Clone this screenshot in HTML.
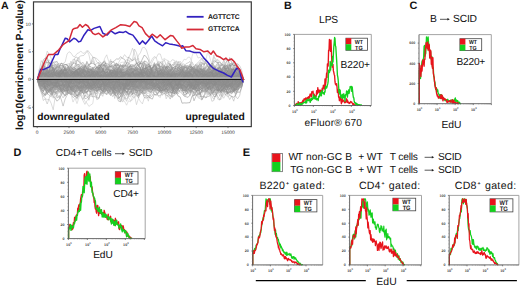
<!DOCTYPE html>
<html><head><meta charset="utf-8"><style>
html,body{margin:0;padding:0;background:#fff;}
body{width:520px;height:286px;overflow:hidden;font-family:"Liberation Sans",sans-serif;}
svg{display:block;}
</style></head><body>
<svg width="520" height="286" viewBox="0 0 520 286" font-family="Liberation Sans, sans-serif" style="text-rendering:geometricPrecision">
<rect width="520" height="286" fill="#fff"/>
<text x="1.1" y="8.7" font-size="10.6" font-weight="bold" fill="#111">A</text>
<text transform="translate(23.3,65) rotate(-90)" font-size="10.4" font-weight="bold" text-anchor="middle" fill="#111">log10(enrichment P-value)</text>
<g fill="none" stroke-width="0.55" stroke-linejoin="round">
<polyline points="37.3,79.4 39.3,81.2 41.3,78.5 43.3,82.8 45.2,81.8 47.2,82.3 49.2,80.5 51.2,83.8 53.2,80.4 55.2,85.1 57.1,81.2 59.1,79 61.1,85.6 63.1,83.4 65.1,89.9 67.1,86.6 69,91.6 71,90.4 73,90 75,94.7 77,99.5 79,95.3 80.9,95.2 82.9,89.3 84.9,88.3 86.9,77.3 88.9,76.9 90.9,70.8 92.8,70.6 94.8,71.3 96.8,70.3 98.8,74.1 100.8,77.1 102.8,71.4 104.7,73 106.7,77.9 108.7,76.2 110.7,79.6 112.7,79.2 114.7,75.1 116.6,70.9 118.6,65.3 120.6,62.6 122.6,62.2 124.6,62.2 126.6,63.1 128.5,65.1 130.5,58.5 132.5,61.2 134.5,57.2 136.5,60.2 138.5,58 140.4,70.8 142.4,71.1 144.4,74.2 146.4,69 148.4,64.7 150.4,68.6 152.4,70 154.3,67.6 156.3,67.7 158.3,68.6 160.3,66.2 162.3,72.3 164.3,67.1 166.2,66.7 168.2,78.5 170.2,81.6 172.2,81.4 174.2,72.7 176.2,73.3 178.1,79.2 180.1,74 182.1,72.9 184.1,73.4 186.1,70 188.1,72.2 190,73.2 192,69.9 194,69.1 196,66.5 198,69 200,63.8 201.9,70.4 203.9,76.1 205.9,74.3 207.9,75.6 209.9,74.9 211.9,74.9 213.8,75.6 215.8,79.5 217.8,77.9 219.8,72.9 221.8,76.3 223.8,69.4 225.7,64.5 227.7,68.9 229.7,66.8 231.7,71.8 233.7,72.7 235.7,77.2 237.6,78.9 239.6,82.9 241.6,81.5 243.6,79.4" stroke="rgb(204,204,204)"/>
<polyline points="37.3,79.4 39.3,80.6 41.3,84.4 43.3,81.4 45.2,91.3 47.2,87.4 49.2,83.3 51.2,71.2 53.2,76.3 55.2,73.4 57.1,71 59.1,76.3 61.1,75.4 63.1,79.8 65.1,85 67.1,91.3 69,90.8 71,94.3 73,102.1 75,98 77,103.6 79,97.5 80.9,94.1 82.9,96.2 84.9,101.5 86.9,103 88.9,106.4 90.9,104.9 92.8,103.6 94.8,89.1 96.8,97.7 98.8,98.2 100.8,93.4 102.8,86.9 104.7,79.7 106.7,84.2 108.7,79.9 110.7,93.3 112.7,92.6 114.7,87 116.6,82.8 118.6,89 120.6,91.7 122.6,100.3 124.6,101.3 126.6,105.2 128.5,100.8 130.5,101.8 132.5,96.3 134.5,94.8 136.5,94.5 138.5,84.4 140.4,78.4 142.4,84.7 144.4,77.6 146.4,74.2 148.4,68.6 150.4,67.8 152.4,77.7 154.3,79.7 156.3,91.1 158.3,96.3 160.3,97.6 162.3,89.4 164.3,88.1 166.2,86 168.2,81.7 170.2,85.8 172.2,79.8 174.2,78.7 176.2,83.4 178.1,85.6 180.1,86.1 182.1,82.4 184.1,75.4 186.1,77.3 188.1,78.7 190,70.3 192,56.3 194,50.5 196,53.1 198,58 200,57.4 201.9,58.6 203.9,64.9 205.9,60.2 207.9,50.5 209.9,58 211.9,64.4 213.8,68.6 215.8,75.9 217.8,72.5 219.8,80.2 221.8,77 223.8,75.4 225.7,72.4 227.7,80.3 229.7,79.5 231.7,78.2 233.7,74.2 235.7,73.5 237.6,77.2 239.6,74.6 241.6,74 243.6,79.4" stroke="rgb(202,202,202)"/>
<polyline points="37.3,79.4 39.3,76 41.3,70.7 43.3,73.5 45.2,70.7 47.2,66.6 49.2,59.7 51.2,62.6 53.2,71.1 55.2,68.9 57.1,73 59.1,78 61.1,80.6 63.1,84.1 65.1,80.6 67.1,79.8 69,77.1 71,74.1 73,76.3 75,74 77,70 79,63.9 80.9,65.1 82.9,67.9 84.9,73 86.9,75.3 88.9,75.8 90.9,75.3 92.8,81.1 94.8,82.5 96.8,83 98.8,84.9 100.8,86.7 102.8,84.5 104.7,87.7 106.7,84.9 108.7,88.5 110.7,86.6 112.7,90.1 114.7,84.3 116.6,80.8 118.6,75.5 120.6,79.3 122.6,84.5 124.6,89 126.6,88.8 128.5,83.6 130.5,80.3 132.5,77.6 134.5,82.7 136.5,78.1 138.5,75.4 140.4,78.1 142.4,88.2 144.4,90.3 146.4,89.6 148.4,82.2 150.4,81.1 152.4,81.2 154.3,74.8 156.3,69.3 158.3,69.1 160.3,67.9 162.3,64.4 164.3,69.1 166.2,68.8 168.2,71.7 170.2,76.5 172.2,74.9 174.2,71.2 176.2,64.8 178.1,63.6 180.1,61 182.1,64 184.1,71.7 186.1,75.2 188.1,74.1 190,77.1 192,69.9 194,66.2 196,68.6 198,63.1 200,62.5 201.9,58.1 203.9,61.4 205.9,60.4 207.9,63.6 209.9,65.4 211.9,62.6 213.8,57.1 215.8,59.3 217.8,60.5 219.8,66.2 221.8,68.6 223.8,67.9 225.7,74.2 227.7,76.5 229.7,81.2 231.7,80.2 233.7,76.6 235.7,75.9 237.6,77.6 239.6,80.6 241.6,82.6 243.6,79.4" stroke="rgb(202,202,202)"/>
<polyline points="37.3,79.4 39.3,74.4 41.3,71.1 43.3,73 45.2,77.2 47.2,78.6 49.2,79.5 51.2,79.3 53.2,84.3 55.2,76.7 57.1,74.2 59.1,74.3 61.1,74 63.1,85 65.1,80.5 67.1,84.6 69,82 71,86.6 73,81.7 75,83.7 77,84.1 79,77.2 80.9,73.4 82.9,79.9 84.9,82.7 86.9,81.5 88.9,82.3 90.9,78.6 92.8,81.6 94.8,89.1 96.8,91.7 98.8,91 100.8,87.4 102.8,83.4 104.7,77.8 106.7,77.1 108.7,78.2 110.7,75.4 112.7,76.3 114.7,78.6 116.6,80.7 118.6,76.7 120.6,70.9 122.6,66.6 124.6,74.7 126.6,70.8 128.5,76.5 130.5,78.3 132.5,76 134.5,82 136.5,86.7 138.5,89 140.4,80.9 142.4,76.3 144.4,80.4 146.4,79.7 148.4,79.2 150.4,77.9 152.4,81.1 154.3,75 156.3,77.1 158.3,74 160.3,81.6 162.3,79.8 164.3,79.1 166.2,73.6 168.2,85 170.2,82.1 172.2,78.4 174.2,79.7 176.2,74.2 178.1,66.2 180.1,64.2 182.1,62.7 184.1,59.2 186.1,59.8 188.1,57.1 190,57.3 192,62.8 194,69.2 196,65.6 198,64.8 200,69.3 201.9,70.4 203.9,65.5 205.9,74.2 207.9,78.6 209.9,75.8 211.9,72.9 213.8,78.5 215.8,82.7 217.8,81.7 219.8,75.6 221.8,76 223.8,86 225.7,81 227.7,80.9 229.7,82.7 231.7,87.1 233.7,81.2 235.7,79.9 237.6,78.5 239.6,77.9 241.6,77.8 243.6,79.4" stroke="rgb(201,201,201)"/>
<polyline points="37.3,79.4 39.3,78.6 41.3,74.4 43.3,69 45.2,65.4 47.2,61.6 49.2,67.8 51.2,70 53.2,77.7 55.2,84.7 57.1,79.4 59.1,82.6 61.1,71.3 63.1,72 65.1,75.9 67.1,72.5 69,64.8 71,64.2 73,71.8 75,71 77,65.4 79,69.5 80.9,74.3 82.9,70.1 84.9,70.6 86.9,76.9 88.9,79 90.9,82.6 92.8,80.8 94.8,80.1 96.8,74.6 98.8,71.8 100.8,80.1 102.8,78.1 104.7,74 106.7,72.5 108.7,68.4 110.7,72.3 112.7,77.7 114.7,73.5 116.6,79.3 118.6,89.6 120.6,83.5 122.6,86.4 124.6,87 126.6,92.8 128.5,97.5 130.5,100.8 132.5,99.9 134.5,95.7 136.5,104.7 138.5,98.1 140.4,101.5 142.4,103.9 144.4,97.7 146.4,95.9 148.4,101.2 150.4,89.8 152.4,92.7 154.3,89.9 156.3,87.7 158.3,80 160.3,82.1 162.3,77 164.3,80.8 166.2,75.3 168.2,79.4 170.2,81.1 172.2,71.9 174.2,71.3 176.2,71.7 178.1,62 180.1,62.4 182.1,68.3 184.1,66.1 186.1,73.3 188.1,68.7 190,64.3 192,68.8 194,73.1 196,73 198,73.7 200,79 201.9,76.4 203.9,86.4 205.9,87.7 207.9,88.6 209.9,88.8 211.9,86.2 213.8,91.2 215.8,87 217.8,86.9 219.8,89.1 221.8,94.5 223.8,98.3 225.7,94.3 227.7,97.1 229.7,94.7 231.7,87.8 233.7,81.9 235.7,74.5 237.6,76.9 239.6,80.8 241.6,78.3 243.6,79.4" stroke="rgb(197,197,197)"/>
<polyline points="37.3,79.4 39.3,81.3 41.3,79.1 43.3,77.7 45.2,80.5 47.2,78.8 49.2,80.6 51.2,77.8 53.2,76.6 55.2,81.3 57.1,81 59.1,80.6 61.1,81.8 63.1,77.6 65.1,70.4 67.1,73.1 69,75.3 71,85.6 73,85.4 75,86.6 77,95.1 79,92 80.9,87.9 82.9,90.1 84.9,90.4 86.9,93.3 88.9,88.3 90.9,93.8 92.8,93.5 94.8,83.3 96.8,82.6 98.8,80.2 100.8,80.7 102.8,85.7 104.7,85.1 106.7,82.6 108.7,86.7 110.7,84.3 112.7,78.3 114.7,73.8 116.6,81.4 118.6,85.4 120.6,91.7 122.6,85.5 124.6,82.1 126.6,78.8 128.5,82.7 130.5,87.3 132.5,86 134.5,84.8 136.5,87.9 138.5,86.2 140.4,82.6 142.4,81.2 144.4,85.5 146.4,94 148.4,93.4 150.4,91 152.4,90.7 154.3,91.2 156.3,92.8 158.3,88.1 160.3,87.3 162.3,85.8 164.3,89.3 166.2,90.8 168.2,88.7 170.2,91.9 172.2,95.9 174.2,95.4 176.2,88.2 178.1,86.3 180.1,79.2 182.1,79.8 184.1,81.1 186.1,86.9 188.1,88.5 190,81.2 192,79.5 194,76.3 196,73.6 198,74.4 200,75.9 201.9,75.8 203.9,73.3 205.9,72 207.9,70.8 209.9,71.1 211.9,75.5 213.8,77.1 215.8,81.5 217.8,76.8 219.8,86.3 221.8,86.4 223.8,75.2 225.7,77.2 227.7,82.4 229.7,82.1 231.7,76.2 233.7,77.3 235.7,75.2 237.6,75.9 239.6,78 241.6,73.1 243.6,79.4" stroke="rgb(196,196,196)"/>
<polyline points="37.3,79.4 39.3,78.3 41.3,77.4 43.3,84 45.2,75.3 47.2,72.2 49.2,77.5 51.2,79.2 53.2,82.9 55.2,82.3 57.1,80.4 59.1,79.3 61.1,81.7 63.1,84.7 65.1,80.6 67.1,80.9 69,71.5 71,75.8 73,73 75,73.5 77,77.4 79,72 80.9,72.4 82.9,76.9 84.9,78.5 86.9,74.5 88.9,80.1 90.9,74.3 92.8,72.1 94.8,74.2 96.8,69.2 98.8,63.3 100.8,62.8 102.8,64.1 104.7,58.4 106.7,54.8 108.7,61.5 110.7,64.5 112.7,67.2 114.7,70.3 116.6,77.5 118.6,74.1 120.6,74.4 122.6,74.6 124.6,69.4 126.6,72.9 128.5,73.9 130.5,73.4 132.5,75.9 134.5,76.8 136.5,74 138.5,74.7 140.4,69.8 142.4,74 144.4,73.8 146.4,80.4 148.4,80.7 150.4,83.5 152.4,77.4 154.3,74.6 156.3,73 158.3,66.2 160.3,61.9 162.3,61 164.3,66.1 166.2,73.6 168.2,74.4 170.2,76.5 172.2,79.5 174.2,80.7 176.2,87.3 178.1,80.2 180.1,84.8 182.1,87 184.1,83.7 186.1,89.9 188.1,84.8 190,80.3 192,81.5 194,85.7 196,86.9 198,93.6 200,86.2 201.9,85.2 203.9,87.5 205.9,90.3 207.9,86.6 209.9,79.5 211.9,84.8 213.8,86.5 215.8,92.9 217.8,88.5 219.8,86.8 221.8,76.5 223.8,77.4 225.7,79.4 227.7,82.4 229.7,78.5 231.7,85.3 233.7,81.5 235.7,80.2 237.6,81.6 239.6,83.2 241.6,79.8 243.6,79.4" stroke="rgb(196,196,196)"/>
<polyline points="37.3,79.4 39.3,74.7 41.3,75.6 43.3,71.8 45.2,72 47.2,72.3 49.2,71.6 51.2,72.6 53.2,74.7 55.2,73.6 57.1,75.8 59.1,76 61.1,78.7 63.1,84 65.1,85.8 67.1,86.8 69,85.8 71,80.9 73,86.6 75,85.3 77,92.3 79,94.4 80.9,94.4 82.9,100.5 84.9,104.4 86.9,100.9 88.9,98 90.9,96.2 92.8,97 94.8,87.4 96.8,87 98.8,89.1 100.8,82 102.8,79.6 104.7,80.9 106.7,76.5 108.7,76.3 110.7,74.4 112.7,74.2 114.7,78.4 116.6,75.2 118.6,75.1 120.6,79.1 122.6,81.8 124.6,78.2 126.6,79.6 128.5,79.5 130.5,77.2 132.5,77 134.5,82.6 136.5,80 138.5,76.6 140.4,73.9 142.4,69 144.4,68.9 146.4,67.5 148.4,63.4 150.4,66.3 152.4,61.8 154.3,57.9 156.3,57.7 158.3,53.9 160.3,54 162.3,60.1 164.3,58.4 166.2,59.8 168.2,60.7 170.2,62.4 172.2,59.7 174.2,60.2 176.2,64.9 178.1,64.9 180.1,64.1 182.1,68.5 184.1,71.3 186.1,73.6 188.1,76.4 190,75.6 192,72.5 194,66.7 196,64.1 198,62.3 200,60.4 201.9,58 203.9,61.9 205.9,61.6 207.9,62.6 209.9,65.1 211.9,68.4 213.8,71.5 215.8,73.3 217.8,78.4 219.8,76.7 221.8,77.1 223.8,77 225.7,76.1 227.7,74 229.7,76.7 231.7,77.4 233.7,83.2 235.7,89.7 237.6,92.3 239.6,85 241.6,85.2 243.6,79.4" stroke="rgb(194,194,194)"/>
<polyline points="37.3,79.4 39.3,69 41.3,67.8 43.3,68.7 45.2,59.8 47.2,51.1 49.2,54.3 51.2,58.2 53.2,65.7 55.2,62.1 57.1,63.3 59.1,69.2 61.1,68.5 63.1,63.5 65.1,62.2 67.1,54 69,51.7 71,52.9 73,56.3 75,56.5 77,53.6 79,52.7 80.9,51 82.9,53.4 84.9,52.9 86.9,50.5 88.9,54.7 90.9,63.7 92.8,57.6 94.8,57.5 96.8,62.1 98.8,63.1 100.8,66.2 102.8,75.7 104.7,77 106.7,83.9 108.7,82.4 110.7,82.6 112.7,76.9 114.7,77.8 116.6,76.2 118.6,78 120.6,79.9 122.6,86.4 124.6,80.9 126.6,80 128.5,82.6 130.5,81.2 132.5,82.9 134.5,85.9 136.5,84 138.5,77.8 140.4,79.2 142.4,85.9 144.4,87.9 146.4,78.6 148.4,82.4 150.4,76.5 152.4,78 154.3,74.7 156.3,75.8 158.3,83.5 160.3,85 162.3,74.5 164.3,75.7 166.2,73.5 168.2,75.8 170.2,76.8 172.2,75.6 174.2,73.9 176.2,64.2 178.1,66.1 180.1,68.5 182.1,72.9 184.1,79.8 186.1,87.2 188.1,83.2 190,91.4 192,83.4 194,78.9 196,80.3 198,85.6 200,84.7 201.9,84 203.9,78.2 205.9,81.7 207.9,83.2 209.9,83 211.9,83.8 213.8,86.2 215.8,93.3 217.8,99.3 219.8,100 221.8,98.6 223.8,91.6 225.7,79.4 227.7,71.4 229.7,70.5 231.7,62.8 233.7,65.4 235.7,70.2 237.6,64.2 239.6,71.9 241.6,75.8 243.6,79.4" stroke="rgb(194,194,194)"/>
<polyline points="37.3,79.4 39.3,87.2 41.3,90.2 43.3,91 45.2,88.3 47.2,90.4 49.2,89.2 51.2,91.7 53.2,88.8 55.2,85.2 57.1,84.2 59.1,79.3 61.1,76.5 63.1,75.4 65.1,71.5 67.1,77.3 69,77.7 71,84.7 73,84.2 75,85.5 77,81.6 79,83.1 80.9,85.2 82.9,84.9 84.9,84.8 86.9,82.2 88.9,85.3 90.9,90.3 92.8,95.2 94.8,88.9 96.8,92.7 98.8,92.9 100.8,95.6 102.8,90.3 104.7,91.2 106.7,85.1 108.7,87.2 110.7,85.1 112.7,81.6 114.7,77.7 116.6,82.5 118.6,83.6 120.6,83.4 122.6,90 124.6,86 126.6,83.8 128.5,81.3 130.5,86.5 132.5,84.9 134.5,82.6 136.5,78.3 138.5,80.5 140.4,77.8 142.4,70.5 144.4,73.3 146.4,75.6 148.4,77.3 150.4,83.3 152.4,84.3 154.3,77.5 156.3,81.3 158.3,81.8 160.3,77 162.3,75.1 164.3,74.8 166.2,76.6 168.2,77.4 170.2,77.6 172.2,75.2 174.2,75.4 176.2,72.3 178.1,80.3 180.1,77.1 182.1,79.4 184.1,79.4 186.1,81 188.1,78.3 190,78.9 192,76.6 194,80 196,79.2 198,74.5 200,70.9 201.9,73.2 203.9,73.4 205.9,75.6 207.9,76.5 209.9,76.8 211.9,72.4 213.8,71 215.8,66.5 217.8,62.1 219.8,69 221.8,69.1 223.8,72 225.7,79.1 227.7,83.2 229.7,84.7 231.7,77.7 233.7,77.5 235.7,78.5 237.6,78.8 239.6,80.7 241.6,79.9 243.6,79.4" stroke="rgb(194,194,194)"/>
<polyline points="37.3,79.4 39.3,79.4 41.3,77.3 43.3,77.6 45.2,78.7 47.2,82.9 49.2,82.4 51.2,95.8 53.2,90.7 55.2,84.6 57.1,84.1 59.1,88.3 61.1,80.7 63.1,83.9 65.1,76.8 67.1,78.4 69,82.3 71,83 73,86 75,86 77,82.8 79,83.7 80.9,85.4 82.9,84.8 84.9,82.3 86.9,81.9 88.9,79 90.9,76.2 92.8,75.2 94.8,72.2 96.8,73 98.8,68.2 100.8,67.5 102.8,64.9 104.7,67.6 106.7,75.9 108.7,78.5 110.7,78.4 112.7,76.7 114.7,77.2 116.6,70.3 118.6,77.7 120.6,86.5 122.6,86.6 124.6,89 126.6,87.7 128.5,83.5 130.5,69.8 132.5,77.4 134.5,82.8 136.5,82.7 138.5,89.4 140.4,91.9 142.4,84.2 144.4,83.9 146.4,83.5 148.4,77.6 150.4,86.1 152.4,84.7 154.3,84.3 156.3,82.4 158.3,86.9 160.3,88.1 162.3,87.5 164.3,83 166.2,86.1 168.2,82.3 170.2,92.2 172.2,88.6 174.2,83.8 176.2,87.6 178.1,88.1 180.1,87 182.1,84.7 184.1,78.3 186.1,77.5 188.1,78.8 190,79.8 192,78.5 194,74.8 196,74.1 198,77.4 200,79.3 201.9,83.1 203.9,86.8 205.9,88.3 207.9,90 209.9,85 211.9,90.1 213.8,88.4 215.8,93 217.8,87.5 219.8,85.1 221.8,78.4 223.8,75.9 225.7,81.2 227.7,80.8 229.7,83.6 231.7,85.6 233.7,89.8 235.7,89.2 237.6,86.3 239.6,83.6 241.6,77 243.6,79.4" stroke="rgb(193,193,193)"/>
<polyline points="37.3,79.4 39.3,81.7 41.3,83.8 43.3,83.2 45.2,84.8 47.2,86 49.2,92.1 51.2,82 53.2,87.3 55.2,78.9 57.1,75.5 59.1,71.5 61.1,71.3 63.1,70.2 65.1,70 67.1,68.6 69,66.2 71,61 73,67.7 75,67 77,61.2 79,57.2 80.9,64.5 82.9,64.9 84.9,65.4 86.9,66 88.9,77.8 90.9,74.1 92.8,82 94.8,71.8 96.8,69.8 98.8,71.4 100.8,69.5 102.8,70 104.7,73.5 106.7,74.6 108.7,73.6 110.7,77.9 112.7,74.8 114.7,70.3 116.6,66.5 118.6,62.7 120.6,58.8 122.6,58 124.6,54.6 126.6,57.2 128.5,58 130.5,54 132.5,48.2 134.5,53.5 136.5,63.1 138.5,55.3 140.4,52.8 142.4,47.7 144.4,47.3 146.4,50 148.4,56.3 150.4,63.3 152.4,58.6 154.3,56.5 156.3,57.7 158.3,65.3 160.3,69.3 162.3,73.2 164.3,75.3 166.2,88.8 168.2,86.5 170.2,78.5 172.2,81 174.2,80.6 176.2,79.1 178.1,83.6 180.1,81 182.1,84.4 184.1,85.7 186.1,83.7 188.1,83.4 190,82.4 192,86.1 194,81.9 196,86.4 198,81.6 200,83.5 201.9,88.3 203.9,87.5 205.9,91.3 207.9,92.2 209.9,91.2 211.9,86.2 213.8,81.6 215.8,79 217.8,80.3 219.8,87.1 221.8,87.1 223.8,87.5 225.7,87 227.7,88.4 229.7,89.6 231.7,84.6 233.7,90 235.7,87.9 237.6,81.1 239.6,82.7 241.6,83.1 243.6,79.4" stroke="rgb(191,191,191)"/>
<polyline points="37.3,79.4 39.3,78 41.3,77.6 43.3,77.5 45.2,74.4 47.2,70.6 49.2,79.4 51.2,78.3 53.2,71.8 55.2,77.5 57.1,78.9 59.1,78.1 61.1,73 63.1,70.8 65.1,72.9 67.1,71.2 69,67.2 71,66.7 73,59.3 75,59.6 77,67 79,72.2 80.9,73.6 82.9,75.3 84.9,72.7 86.9,71.8 88.9,64.4 90.9,62.3 92.8,57.1 94.8,63.4 96.8,67.3 98.8,65.4 100.8,66.6 102.8,65.1 104.7,65.5 106.7,70.1 108.7,63 110.7,59.4 112.7,69.2 114.7,73.3 116.6,73.9 118.6,71.2 120.6,72.5 122.6,79.8 124.6,75.6 126.6,77 128.5,71.5 130.5,70.9 132.5,67 134.5,64.4 136.5,61.9 138.5,66.4 140.4,62.9 142.4,63.8 144.4,71.6 146.4,74.3 148.4,76.5 150.4,74.5 152.4,71.7 154.3,77.9 156.3,74.5 158.3,75.3 160.3,80.7 162.3,76.5 164.3,80.4 166.2,85.9 168.2,81.4 170.2,76.7 172.2,80.1 174.2,74.8 176.2,70.5 178.1,73.9 180.1,64.9 182.1,66.8 184.1,67.1 186.1,79.9 188.1,76.7 190,79.8 192,77.6 194,85.8 196,79.4 198,72.3 200,64 201.9,79.8 203.9,76.8 205.9,75.4 207.9,90.2 209.9,92.2 211.9,91 213.8,82.6 215.8,86.1 217.8,84.1 219.8,83.7 221.8,81.3 223.8,82.8 225.7,77.9 227.7,73.3 229.7,80.4 231.7,74.7 233.7,78.7 235.7,79.9 237.6,75.4 239.6,76.2 241.6,76.4 243.6,79.4" stroke="rgb(191,191,191)"/>
<polyline points="37.3,79.4 39.3,85.8 41.3,93.4 43.3,95.3 45.2,98.4 47.2,99.7 49.2,99.4 51.2,103.4 53.2,109.8 55.2,96.8 57.1,95.3 59.1,98 61.1,92.7 63.1,84.7 65.1,92.5 67.1,93.2 69,90.2 71,93 73,89.2 75,94 77,95.5 79,94.2 80.9,90.4 82.9,88.9 84.9,91.1 86.9,91.5 88.9,100.3 90.9,87.5 92.8,88.5 94.8,88.9 96.8,86.5 98.8,82.9 100.8,80.9 102.8,84 104.7,91.5 106.7,90.9 108.7,93.4 110.7,94.4 112.7,92.7 114.7,89.9 116.6,82.5 118.6,82.8 120.6,90.8 122.6,86.6 124.6,81.3 126.6,89.1 128.5,85 130.5,83.5 132.5,85.7 134.5,84.1 136.5,81.7 138.5,78.6 140.4,73.2 142.4,74.1 144.4,74.8 146.4,63.7 148.4,70.8 150.4,73.2 152.4,75.7 154.3,72.5 156.3,68 158.3,75.8 160.3,70.3 162.3,77.2 164.3,64.9 166.2,69.9 168.2,65.8 170.2,68.7 172.2,66.6 174.2,71.8 176.2,72.1 178.1,72.9 180.1,73.3 182.1,70.2 184.1,73.5 186.1,75.8 188.1,82.6 190,82.9 192,84.9 194,80 196,76.8 198,80.6 200,78.4 201.9,72.2 203.9,74.1 205.9,80.4 207.9,68.4 209.9,67.1 211.9,65.2 213.8,54.9 215.8,61.7 217.8,62.4 219.8,73.6 221.8,72 223.8,71 225.7,75.8 227.7,80.4 229.7,81.1 231.7,82.1 233.7,74.1 235.7,76.2 237.6,77.7 239.6,78.7 241.6,82.1 243.6,79.4" stroke="rgb(190,190,190)"/>
<polyline points="37.3,79.4 39.3,78.7 41.3,79.3 43.3,82.8 45.2,86.2 47.2,84.4 49.2,89.4 51.2,91.4 53.2,92.3 55.2,90.7 57.1,94 59.1,88.9 61.1,88.9 63.1,88.8 65.1,89.1 67.1,90.3 69,92.5 71,87.3 73,85.9 75,85.7 77,81.8 79,84.1 80.9,81.6 82.9,81.5 84.9,84.4 86.9,81.5 88.9,86.4 90.9,83.7 92.8,86.3 94.8,84.3 96.8,79.4 98.8,77.7 100.8,80.2 102.8,80.4 104.7,81.8 106.7,85.6 108.7,88.8 110.7,87.7 112.7,85.2 114.7,90.6 116.6,89.8 118.6,87.1 120.6,86.1 122.6,88.9 124.6,84.6 126.6,88.2 128.5,85.3 130.5,79.6 132.5,86.6 134.5,85.2 136.5,83.7 138.5,82.7 140.4,85.2 142.4,85.8 144.4,89.9 146.4,88.5 148.4,85.9 150.4,87.7 152.4,90 154.3,90.6 156.3,89.6 158.3,88.5 160.3,88 162.3,87.1 164.3,90.8 166.2,98.8 168.2,94.7 170.2,88.5 172.2,92.4 174.2,93.3 176.2,91 178.1,86.8 180.1,84.1 182.1,79.6 184.1,80.1 186.1,79 188.1,78 190,79.9 192,76.2 194,74.8 196,72.5 198,74.9 200,72.4 201.9,77 203.9,76.3 205.9,85.7 207.9,88.6 209.9,85.4 211.9,86.5 213.8,85.4 215.8,90.3 217.8,84.3 219.8,82 221.8,82.1 223.8,80.8 225.7,79.9 227.7,75.5 229.7,75.6 231.7,81.2 233.7,82.2 235.7,78.1 237.6,77.2 239.6,78.9 241.6,78.5 243.6,79.4" stroke="rgb(189,189,189)"/>
<polyline points="37.3,79.4 39.3,81 41.3,84.5 43.3,84.3 45.2,88.5 47.2,90.6 49.2,89 51.2,90.4 53.2,92.8 55.2,88.2 57.1,85.6 59.1,82.4 61.1,79.2 63.1,74.8 65.1,75.4 67.1,76.4 69,81.9 71,82.3 73,83.7 75,80 77,77.9 79,73.6 80.9,71 82.9,68.4 84.9,68.1 86.9,69 88.9,71.4 90.9,72.3 92.8,76 94.8,75.2 96.8,75.9 98.8,82.4 100.8,90.1 102.8,91 104.7,91 106.7,90.5 108.7,85.3 110.7,86.4 112.7,89.4 114.7,87 116.6,83.1 118.6,77.8 120.6,81 122.6,81.6 124.6,82.6 126.6,77.7 128.5,75.8 130.5,76.2 132.5,74.4 134.5,76.1 136.5,77.1 138.5,77.5 140.4,79.2 142.4,80 144.4,78.9 146.4,78.3 148.4,74 150.4,72.1 152.4,73.2 154.3,80.5 156.3,84.8 158.3,85.7 160.3,86.1 162.3,89.3 164.3,89.2 166.2,87.8 168.2,88.7 170.2,88 172.2,87.3 174.2,88.5 176.2,90.1 178.1,89.2 180.1,87.3 182.1,89.5 184.1,94.4 186.1,95.6 188.1,92.2 190,95.5 192,90.9 194,91.3 196,89.6 198,90.8 200,87.8 201.9,86.7 203.9,84.8 205.9,90 207.9,86.7 209.9,90.9 211.9,90.6 213.8,87.8 215.8,87.5 217.8,85.1 219.8,84 221.8,83.3 223.8,85.3 225.7,81.8 227.7,78.2 229.7,80.1 231.7,82.7 233.7,81.8 235.7,83.6 237.6,82.2 239.6,79.9 241.6,79 243.6,79.4" stroke="rgb(189,189,189)"/>
<polyline points="37.3,79.4 39.3,79.6 41.3,85.9 43.3,84 45.2,85.8 47.2,92.8 49.2,91.2 51.2,90.2 53.2,94.6 55.2,91.7 57.1,90.5 59.1,87.8 61.1,91.7 63.1,93 65.1,94.8 67.1,92.7 69,93.1 71,95.1 73,88.7 75,89.6 77,84.9 79,81.6 80.9,83.9 82.9,89.8 84.9,88.1 86.9,84.9 88.9,80.5 90.9,79.2 92.8,78 94.8,80.5 96.8,83 98.8,71.8 100.8,69 102.8,75 104.7,74.7 106.7,73.9 108.7,80.8 110.7,81.8 112.7,79.7 114.7,74.2 116.6,69.5 118.6,72.1 120.6,74.2 122.6,76.6 124.6,76.3 126.6,73.9 128.5,78.3 130.5,79.2 132.5,81.3 134.5,83.9 136.5,85.3 138.5,78.5 140.4,72.8 142.4,68.8 144.4,75.8 146.4,75.4 148.4,67.8 150.4,67.9 152.4,71.9 154.3,70.9 156.3,72.9 158.3,75.2 160.3,75 162.3,74 164.3,75.4 166.2,76.1 168.2,80.1 170.2,80.3 172.2,77.9 174.2,77.9 176.2,78.8 178.1,84 180.1,79.7 182.1,83.8 184.1,81.1 186.1,82.2 188.1,79.3 190,75.9 192,77.5 194,88.2 196,94.3 198,96 200,97.3 201.9,94.3 203.9,85.8 205.9,82.9 207.9,83.1 209.9,78.2 211.9,79.1 213.8,76.3 215.8,75.5 217.8,82.7 219.8,79.1 221.8,73.3 223.8,75.3 225.7,73.3 227.7,72.4 229.7,74.2 231.7,76.2 233.7,73.3 235.7,76.6 237.6,78.8 239.6,77.3 241.6,76.9 243.6,79.4" stroke="rgb(189,189,189)"/>
<polyline points="37.3,79.4 39.3,69.9 41.3,60.6 43.3,63.4 45.2,70.3 47.2,71.1 49.2,70.8 51.2,78.4 53.2,82.1 55.2,75.2 57.1,74.5 59.1,70.1 61.1,71.4 63.1,67.4 65.1,71.4 67.1,74.9 69,80.1 71,89.5 73,90.2 75,95.6 77,96 79,93.3 80.9,90.9 82.9,87.6 84.9,88.6 86.9,87.8 88.9,81.2 90.9,81.8 92.8,81.4 94.8,93.2 96.8,97 98.8,89.6 100.8,92.7 102.8,96.4 104.7,89.7 106.7,94.5 108.7,87.9 110.7,87.5 112.7,89.6 114.7,98.5 116.6,89.8 118.6,97.5 120.6,101.5 122.6,95.1 124.6,99.4 126.6,94.6 128.5,93 130.5,92.8 132.5,96.5 134.5,97.8 136.5,94.3 138.5,97.5 140.4,92.3 142.4,89.7 144.4,85.9 146.4,84.1 148.4,80.8 150.4,78.9 152.4,75 154.3,73.8 156.3,73 158.3,78.3 160.3,87.1 162.3,86 164.3,80.6 166.2,85.1 168.2,92.3 170.2,93.6 172.2,90.2 174.2,84.8 176.2,85.9 178.1,91 180.1,90 182.1,85.5 184.1,85.1 186.1,79.6 188.1,82.2 190,77.7 192,69.9 194,76.1 196,80.8 198,77.6 200,62.6 201.9,62.2 203.9,64.5 205.9,60 207.9,63 209.9,73 211.9,78.6 213.8,72.1 215.8,81.4 217.8,88.2 219.8,83.3 221.8,82.2 223.8,76 225.7,81.7 227.7,85.2 229.7,86.3 231.7,91.6 233.7,91.4 235.7,90.1 237.6,84.1 239.6,83 241.6,82.3 243.6,79.4" stroke="rgb(188,188,188)"/>
<polyline points="37.3,79.4 39.3,79.1 41.3,80.7 43.3,81.4 45.2,80.9 47.2,79.8 49.2,80.1 51.2,80.2 53.2,77.8 55.2,79.1 57.1,80.5 59.1,81.5 61.1,82.5 63.1,81.9 65.1,82.2 67.1,83 69,79.3 71,78.7 73,79.6 75,76.7 77,78.4 79,78.6 80.9,79 82.9,80.5 84.9,81.4 86.9,81 88.9,84.3 90.9,84.7 92.8,83.5 94.8,82.5 96.8,81.5 98.8,75.8 100.8,74.8 102.8,75.8 104.7,76.6 106.7,77 108.7,76.3 110.7,77.5 112.7,74.3 114.7,77.6 116.6,76.4 118.6,75.7 120.6,78.9 122.6,77.5 124.6,76.6 126.6,78.5 128.5,73.3 130.5,72.4 132.5,74.1 134.5,76 136.5,78.2 138.5,77.8 140.4,78 142.4,81.5 144.4,83.8 146.4,85 148.4,85.4 150.4,85.6 152.4,86.5 154.3,84.2 156.3,81.5 158.3,81.2 160.3,86.2 162.3,85.8 164.3,83.8 166.2,83.6 168.2,82.5 170.2,82 172.2,85.3 174.2,90.5 176.2,87.9 178.1,88.1 180.1,86.2 182.1,86.2 184.1,85.9 186.1,82 188.1,84.6 190,84.1 192,86.1 194,85.3 196,83.5 198,81.6 200,81.1 201.9,84.2 203.9,83.2 205.9,80.7 207.9,78.3 209.9,73.6 211.9,73.1 213.8,76.3 215.8,78 217.8,78 219.8,75.9 221.8,79 223.8,77.1 225.7,75.9 227.7,78.4 229.7,77.2 231.7,79.4 233.7,79.5 235.7,80.2 237.6,79.6 239.6,81.3 241.6,80 243.6,79.4" stroke="rgb(188,188,188)"/>
<polyline points="37.3,79.4 39.3,78.2 41.3,77.1 43.3,80.5 45.2,78.7 47.2,71.8 49.2,77.1 51.2,75 53.2,74.6 55.2,75.5 57.1,72.6 59.1,76.3 61.1,76.3 63.1,73.1 65.1,74.4 67.1,76 69,76.1 71,77.6 73,74.1 75,76.9 77,75.1 79,78.6 80.9,77.1 82.9,77.6 84.9,84.1 86.9,83.5 88.9,85.6 90.9,85.9 92.8,81.4 94.8,83.9 96.8,85.9 98.8,81.7 100.8,81.1 102.8,77.2 104.7,76.7 106.7,79.1 108.7,79.3 110.7,76.4 112.7,74.5 114.7,75 116.6,75.4 118.6,76.2 120.6,78 122.6,73.5 124.6,74.2 126.6,77.5 128.5,78.9 130.5,77.2 132.5,75.9 134.5,76.7 136.5,78.6 138.5,78.7 140.4,82.8 142.4,85.5 144.4,82.9 146.4,83.6 148.4,82.2 150.4,78.9 152.4,77.4 154.3,77.6 156.3,72.7 158.3,71.9 160.3,73.6 162.3,72.6 164.3,72.4 166.2,75.3 168.2,75.6 170.2,76.5 172.2,81.6 174.2,81.7 176.2,82.1 178.1,82.9 180.1,86.4 182.1,86.4 184.1,85.7 186.1,84.7 188.1,86.8 190,84.4 192,86.7 194,86.4 196,82.4 198,83.7 200,84.4 201.9,81.2 203.9,81.9 205.9,82.3 207.9,81.5 209.9,78.7 211.9,84.1 213.8,85.5 215.8,87.2 217.8,88.9 219.8,89.8 221.8,90.6 223.8,88.5 225.7,89.6 227.7,88 229.7,86 231.7,87 233.7,85.8 235.7,81 237.6,79.9 239.6,80.7 241.6,80.2 243.6,79.4" stroke="rgb(188,188,188)"/>
<polyline points="37.3,79.4 39.3,80.7 41.3,81.5 43.3,79.7 45.2,75.7 47.2,78.4 49.2,81.9 51.2,85 53.2,80.7 55.2,77.6 57.1,85.2 59.1,91.8 61.1,94.6 63.1,97.9 65.1,94.4 67.1,91.9 69,83.9 71,80.7 73,80.2 75,76.2 77,79.7 79,84.4 80.9,83.8 82.9,80.2 84.9,85.6 86.9,81.9 88.9,78.8 90.9,80.6 92.8,80 94.8,80.9 96.8,80.5 98.8,77.7 100.8,80.7 102.8,77.1 104.7,74.5 106.7,72.1 108.7,79.7 110.7,86 112.7,83 114.7,84.6 116.6,86.4 118.6,88.2 120.6,91.8 122.6,91.3 124.6,92.4 126.6,93.1 128.5,89.9 130.5,92.7 132.5,87.4 134.5,94 136.5,83.9 138.5,88 140.4,85.1 142.4,81.4 144.4,81.2 146.4,78.6 148.4,79.1 150.4,85.2 152.4,83.4 154.3,79.1 156.3,81.1 158.3,86.7 160.3,88 162.3,85.9 164.3,84.2 166.2,79.9 168.2,78.1 170.2,76.6 172.2,83.8 174.2,75.8 176.2,76.1 178.1,73.7 180.1,75.6 182.1,76.7 184.1,76.9 186.1,71.9 188.1,67.7 190,67.1 192,61.9 194,65.4 196,65.4 198,68.7 200,65.7 201.9,67.3 203.9,65.5 205.9,61.3 207.9,70.6 209.9,64.3 211.9,65.1 213.8,68 215.8,75.9 217.8,77.4 219.8,85.5 221.8,84.5 223.8,84.5 225.7,77.8 227.7,79.1 229.7,75.6 231.7,72.1 233.7,66 235.7,69.3 237.6,69.9 239.6,76.1 241.6,79 243.6,79.4" stroke="rgb(187,187,187)"/>
<polyline points="37.3,79.4 39.3,80.4 41.3,77.5 43.3,75.5 45.2,75.2 47.2,72.2 49.2,75 51.2,78.9 53.2,77.2 55.2,77 57.1,76.9 59.1,74.8 61.1,76.1 63.1,76.8 65.1,76.1 67.1,74.8 69,72.8 71,73.2 73,73.2 75,80.2 77,76.9 79,81.2 80.9,81.1 82.9,74.3 84.9,75.7 86.9,80.2 88.9,75.9 90.9,77.7 92.8,78.3 94.8,78.8 96.8,77 98.8,75.3 100.8,76 102.8,73.6 104.7,76.6 106.7,75.1 108.7,77.2 110.7,75.7 112.7,77.8 114.7,79.1 116.6,75.3 118.6,78.7 120.6,81.7 122.6,80 124.6,80.6 126.6,81.5 128.5,81.6 130.5,75.9 132.5,78.9 134.5,79.7 136.5,79.2 138.5,81.6 140.4,81.4 142.4,79.9 144.4,82.2 146.4,79 148.4,81.9 150.4,82 152.4,80.8 154.3,72.4 156.3,77.8 158.3,77.2 160.3,71 162.3,73.5 164.3,71.4 166.2,71.8 168.2,76.4 170.2,75.7 172.2,78.4 174.2,78.3 176.2,82.3 178.1,80.1 180.1,86.2 182.1,85.8 184.1,81.7 186.1,80.1 188.1,80.9 190,81.3 192,82.2 194,74.9 196,75.5 198,76 200,78.3 201.9,79.7 203.9,78.1 205.9,79.8 207.9,81.8 209.9,82.9 211.9,83.4 213.8,82.5 215.8,83.3 217.8,83.4 219.8,84.8 221.8,81 223.8,80.6 225.7,81.2 227.7,80.3 229.7,80.3 231.7,84.2 233.7,84.1 235.7,79.3 237.6,78.3 239.6,76.8 241.6,78.6 243.6,79.4" stroke="rgb(186,186,186)"/>
<polyline points="37.3,79.4 39.3,79.5 41.3,77 43.3,76 45.2,76.1 47.2,83.1 49.2,87 51.2,83.6 53.2,78.5 55.2,77.9 57.1,75.5 59.1,77.4 61.1,78.8 63.1,81.1 65.1,77.7 67.1,76.7 69,77.8 71,79.1 73,77.3 75,76.5 77,79.6 79,73.9 80.9,73.7 82.9,74.3 84.9,70.1 86.9,67.8 88.9,69.5 90.9,68.9 92.8,73.7 94.8,76.5 96.8,84.3 98.8,79.7 100.8,86 102.8,82.9 104.7,85.2 106.7,87.8 108.7,87.4 110.7,85.6 112.7,82.8 114.7,76.5 116.6,75.7 118.6,73.2 120.6,75.9 122.6,74 124.6,74.1 126.6,76.3 128.5,77 130.5,77.5 132.5,77.1 134.5,76 136.5,78.1 138.5,80.7 140.4,78.1 142.4,83.9 144.4,85.4 146.4,79.5 148.4,88.5 150.4,89.7 152.4,86.2 154.3,90.8 156.3,80.8 158.3,89.2 160.3,83.3 162.3,77.7 164.3,74.8 166.2,76.1 168.2,75.3 170.2,78.8 172.2,76.2 174.2,80.3 176.2,81.1 178.1,77.6 180.1,81.5 182.1,82.4 184.1,81.5 186.1,85.7 188.1,81.1 190,79.8 192,84.8 194,84.3 196,86.2 198,87.6 200,86.4 201.9,87.9 203.9,83.7 205.9,85.5 207.9,81.5 209.9,81.4 211.9,78.3 213.8,80.2 215.8,81.8 217.8,85.3 219.8,82.7 221.8,79.2 223.8,72.2 225.7,68.8 227.7,69.2 229.7,71.2 231.7,70.9 233.7,72 235.7,68.9 237.6,69.2 239.6,74 241.6,77.2 243.6,79.4" stroke="rgb(186,186,186)"/>
<polyline points="37.3,79.4 39.3,80.3 41.3,80.7 43.3,80.8 45.2,79.5 47.2,81.5 49.2,78.6 51.2,75 53.2,72.8 55.2,74.8 57.1,79.3 59.1,80.4 61.1,80 63.1,78 65.1,78.7 67.1,79.6 69,76 71,78.1 73,75.7 75,74.1 77,78 79,77.6 80.9,79.2 82.9,81.6 84.9,85.8 86.9,88.9 88.9,86.8 90.9,86.9 92.8,85.4 94.8,87.3 96.8,87.2 98.8,87 100.8,89.9 102.8,92.7 104.7,90.1 106.7,88.5 108.7,89.7 110.7,88.8 112.7,86.2 114.7,81 116.6,83 118.6,81.2 120.6,76 122.6,76.3 124.6,73.2 126.6,80.2 128.5,76.7 130.5,77.1 132.5,82 134.5,79.9 136.5,77.4 138.5,74.8 140.4,72.5 142.4,73.5 144.4,76.1 146.4,77.7 148.4,78 150.4,77.3 152.4,78.8 154.3,78.8 156.3,76.8 158.3,76.4 160.3,71.4 162.3,67.2 164.3,71.5 166.2,73.9 168.2,77.8 170.2,80.8 172.2,79.4 174.2,81.9 176.2,84.2 178.1,84.3 180.1,81.9 182.1,82.5 184.1,83.1 186.1,80.5 188.1,79.3 190,78.3 192,76.2 194,79.1 196,78.7 198,80.4 200,77.9 201.9,76.2 203.9,79.1 205.9,76 207.9,79.3 209.9,76.6 211.9,76.5 213.8,79 215.8,81.8 217.8,82.3 219.8,82.1 221.8,83.6 223.8,81.8 225.7,84.9 227.7,84.4 229.7,83.8 231.7,87.9 233.7,86.2 235.7,87.8 237.6,90.4 239.6,87.9 241.6,84.6 243.6,79.4" stroke="rgb(186,186,186)"/>
<polyline points="37.3,79.4 39.3,78.7 41.3,80.3 43.3,80.6 45.2,81.9 47.2,83 49.2,82.4 51.2,79.4 53.2,80.2 55.2,79.8 57.1,83.5 59.1,82.8 61.1,79.5 63.1,77.5 65.1,76.6 67.1,78.2 69,80.9 71,80.9 73,84.1 75,86.7 77,83.5 79,85.3 80.9,80.1 82.9,83.7 84.9,82.1 86.9,84.7 88.9,83.7 90.9,85.8 92.8,85 94.8,84.7 96.8,85.2 98.8,83.3 100.8,79.1 102.8,80.6 104.7,78.3 106.7,78.2 108.7,78.5 110.7,73.1 112.7,79.3 114.7,81.1 116.6,85.4 118.6,85.5 120.6,85.4 122.6,75.2 124.6,74.8 126.6,70.9 128.5,68.7 130.5,71.1 132.5,71 134.5,67.8 136.5,68.8 138.5,69.6 140.4,69.5 142.4,74.5 144.4,77.2 146.4,76.6 148.4,75.6 150.4,78.4 152.4,79.4 154.3,79.7 156.3,80.1 158.3,78.3 160.3,78.2 162.3,78 164.3,81.7 166.2,84.1 168.2,82.8 170.2,86.4 172.2,84.9 174.2,85.9 176.2,87.2 178.1,84.7 180.1,85.8 182.1,87.2 184.1,88 186.1,86.9 188.1,79.1 190,84.5 192,84 194,84.1 196,81.2 198,81.9 200,87.9 201.9,83.6 203.9,85.9 205.9,85.3 207.9,88.1 209.9,89.8 211.9,89.9 213.8,86.5 215.8,83.6 217.8,84.7 219.8,82.8 221.8,83.4 223.8,82.7 225.7,82 227.7,80.2 229.7,81.7 231.7,81.8 233.7,81 235.7,80.6 237.6,81.9 239.6,78.5 241.6,79.4 243.6,79.4" stroke="rgb(186,186,186)"/>
<polyline points="37.3,79.4 39.3,80.2 41.3,79.9 43.3,80.7 45.2,80.2 47.2,77.2 49.2,78.4 51.2,77.3 53.2,75.8 55.2,76.7 57.1,76.5 59.1,76.2 61.1,77.7 63.1,72.1 65.1,74 67.1,70.5 69,69 71,75 73,74.9 75,73 77,71.8 79,74.8 80.9,74.7 82.9,78 84.9,80.6 86.9,81 88.9,80.3 90.9,76.4 92.8,75.8 94.8,73.7 96.8,77.2 98.8,80.2 100.8,81.2 102.8,76.8 104.7,80.2 106.7,83.8 108.7,83.4 110.7,80.1 112.7,83.8 114.7,83.9 116.6,86.5 118.6,82.2 120.6,80.2 122.6,79.4 124.6,79.5 126.6,80 128.5,79.5 130.5,81 132.5,82.9 134.5,85.1 136.5,84.3 138.5,85.6 140.4,82.8 142.4,87.3 144.4,85 146.4,83 148.4,79.6 150.4,80.2 152.4,83.6 154.3,85.3 156.3,81.9 158.3,82.3 160.3,82.9 162.3,83.8 164.3,83.4 166.2,83.4 168.2,86.7 170.2,87.2 172.2,83.8 174.2,79.8 176.2,80 178.1,81.1 180.1,77.7 182.1,78.3 184.1,81.2 186.1,81.3 188.1,79.3 190,75.6 192,77.2 194,76.1 196,77.3 198,74.8 200,74.7 201.9,74.6 203.9,77.5 205.9,78.5 207.9,79.3 209.9,87.9 211.9,84.8 213.8,84.2 215.8,84.1 217.8,84.4 219.8,83.7 221.8,82.6 223.8,85.3 225.7,84.3 227.7,83.4 229.7,82.8 231.7,85.9 233.7,85.5 235.7,87.2 237.6,84.5 239.6,81 241.6,79.5 243.6,79.4" stroke="rgb(185,185,185)"/>
<polyline points="37.3,79.4 39.3,80.1 41.3,79.9 43.3,83.4 45.2,86 47.2,87.8 49.2,83.7 51.2,81.6 53.2,80.6 55.2,78.9 57.1,80.4 59.1,78.8 61.1,80.8 63.1,84.9 65.1,86.5 67.1,84.9 69,84 71,80 73,85.3 75,85.3 77,83.3 79,85.9 80.9,84.3 82.9,85 84.9,88 86.9,83.3 88.9,87.3 90.9,83.1 92.8,84 94.8,86.4 96.8,88.4 98.8,89.7 100.8,91.2 102.8,88.9 104.7,93.7 106.7,88 108.7,84.2 110.7,79.2 112.7,82.3 114.7,89.4 116.6,90.2 118.6,89.4 120.6,87.2 122.6,87.9 124.6,87.2 126.6,85.7 128.5,89.9 130.5,82.8 132.5,86 134.5,84.3 136.5,80.2 138.5,82.6 140.4,82.2 142.4,76.6 144.4,77.8 146.4,74.6 148.4,74.2 150.4,74 152.4,72.3 154.3,73.9 156.3,75.2 158.3,72.6 160.3,72.5 162.3,71.7 164.3,76.4 166.2,76.7 168.2,73.1 170.2,70.9 172.2,70.8 174.2,73.4 176.2,76.1 178.1,75 180.1,70.9 182.1,71.7 184.1,68.4 186.1,70.7 188.1,67.8 190,72.3 192,72.5 194,76.8 196,74.9 198,73.5 200,77.3 201.9,79.9 203.9,81.2 205.9,85.7 207.9,87.9 209.9,89.6 211.9,85.8 213.8,80.5 215.8,81.8 217.8,82.4 219.8,81.3 221.8,82.7 223.8,83.1 225.7,79.9 227.7,79.1 229.7,79.4 231.7,81.2 233.7,76.2 235.7,78.5 237.6,78.4 239.6,80.7 241.6,80.9 243.6,79.4" stroke="rgb(185,185,185)"/>
<polyline points="37.3,79.4 39.3,81.2 41.3,77.4 43.3,74.7 45.2,74.2 47.2,71.6 49.2,77.5 51.2,80.1 53.2,84 55.2,85.8 57.1,86 59.1,83.1 61.1,79.1 63.1,75.6 65.1,67 67.1,69.7 69,70.6 71,69.7 73,73.3 75,74.6 77,73.5 79,76.8 80.9,75.3 82.9,71.5 84.9,75.7 86.9,83.3 88.9,82.3 90.9,85 92.8,83.5 94.8,84.2 96.8,82.3 98.8,77.9 100.8,75.2 102.8,76.5 104.7,80.4 106.7,88.1 108.7,93.9 110.7,94.4 112.7,92 114.7,92.5 116.6,92.6 118.6,96 120.6,99.1 122.6,102.1 124.6,97.2 126.6,101.3 128.5,96.2 130.5,97 132.5,92.9 134.5,90.3 136.5,86.4 138.5,81.5 140.4,83.7 142.4,86.2 144.4,86.7 146.4,88.3 148.4,84.9 150.4,84.6 152.4,83.8 154.3,81.9 156.3,83.1 158.3,79 160.3,85 162.3,83.5 164.3,81.3 166.2,83.6 168.2,85.3 170.2,81.6 172.2,82.4 174.2,88.3 176.2,91.6 178.1,86.8 180.1,88.8 182.1,83.4 184.1,78.4 186.1,79.2 188.1,77.4 190,80.3 192,81.5 194,83.6 196,81.1 198,85.1 200,84.9 201.9,84.1 203.9,81.8 205.9,88.5 207.9,93.2 209.9,94.5 211.9,93.4 213.8,91.3 215.8,89.3 217.8,81.5 219.8,79.1 221.8,77.3 223.8,79.1 225.7,76.6 227.7,74.7 229.7,73.1 231.7,74.3 233.7,72.9 235.7,69.5 237.6,74.1 239.6,80.1 241.6,78.7 243.6,79.4" stroke="rgb(185,185,185)"/>
<polyline points="37.3,79.4 39.3,83.5 41.3,88.2 43.3,88.5 45.2,83.1 47.2,80.5 49.2,77.4 51.2,80.1 53.2,79.4 55.2,83.3 57.1,77.7 59.1,76.5 61.1,82.2 63.1,86.6 65.1,84.5 67.1,83.5 69,83.8 71,81.7 73,76.3 75,75.7 77,80.8 79,81 80.9,84.2 82.9,85.7 84.9,84.1 86.9,84 88.9,86.2 90.9,85.4 92.8,86.8 94.8,84.6 96.8,84.6 98.8,83 100.8,83.3 102.8,80.9 104.7,81.1 106.7,80.9 108.7,82.2 110.7,81.5 112.7,85.8 114.7,78.3 116.6,80.2 118.6,79.8 120.6,81 122.6,82.1 124.6,80.8 126.6,82 128.5,82.8 130.5,85.9 132.5,87.5 134.5,89.6 136.5,83.8 138.5,86.7 140.4,88.6 142.4,87.1 144.4,82.5 146.4,86.5 148.4,89.7 150.4,88.2 152.4,86.3 154.3,89.1 156.3,92.6 158.3,93.5 160.3,90 162.3,88.8 164.3,85.8 166.2,85.4 168.2,84.8 170.2,82.6 172.2,82.6 174.2,81.6 176.2,83.8 178.1,84.8 180.1,83 182.1,83.2 184.1,84.7 186.1,82.5 188.1,80.7 190,80.7 192,82.5 194,79.9 196,73.5 198,76.3 200,80.7 201.9,82.6 203.9,84.7 205.9,87.3 207.9,89.5 209.9,86.1 211.9,83.2 213.8,79 215.8,77.2 217.8,78.7 219.8,76.1 221.8,78.1 223.8,79.2 225.7,82.3 227.7,78.9 229.7,76.4 231.7,78 233.7,79 235.7,79.1 237.6,78.8 239.6,77.7 241.6,78.4 243.6,79.4" stroke="rgb(185,185,185)"/>
<polyline points="37.3,79.4 39.3,78.5 41.3,77.1 43.3,76.4 45.2,76 47.2,76.9 49.2,77.6 51.2,80.8 53.2,85.1 55.2,81 57.1,82.9 59.1,81.9 61.1,86.2 63.1,85 65.1,86.9 67.1,77.1 69,80.5 71,83.4 73,80.2 75,76.7 77,83.5 79,82.3 80.9,79.4 82.9,83.2 84.9,80.7 86.9,82.3 88.9,85 90.9,85.5 92.8,86.3 94.8,89.7 96.8,81.8 98.8,83 100.8,84.9 102.8,81.7 104.7,81.8 106.7,77.5 108.7,78.6 110.7,77.8 112.7,77.8 114.7,77.5 116.6,78.5 118.6,79 120.6,74.1 122.6,76.8 124.6,78.9 126.6,80.1 128.5,78.4 130.5,77.4 132.5,74.9 134.5,79.6 136.5,78.8 138.5,79.5 140.4,80.5 142.4,79.9 144.4,85.9 146.4,84.4 148.4,83.4 150.4,87.4 152.4,86.8 154.3,81.3 156.3,82.3 158.3,80.3 160.3,80.9 162.3,83.3 164.3,85.7 166.2,86.2 168.2,81.6 170.2,78.9 172.2,81.2 174.2,78.1 176.2,78.7 178.1,81 180.1,79.6 182.1,82.4 184.1,86.9 186.1,82.1 188.1,87.4 190,84.9 192,88.9 194,88 196,87.6 198,88.1 200,93.7 201.9,92.4 203.9,91 205.9,92.4 207.9,91.2 209.9,86.8 211.9,88.2 213.8,86.4 215.8,89.2 217.8,86.9 219.8,84.2 221.8,76.2 223.8,73.9 225.7,73.4 227.7,69.9 229.7,74.1 231.7,71.6 233.7,74.3 235.7,77 237.6,75.1 239.6,76.1 241.6,75.9 243.6,79.4" stroke="rgb(185,185,185)"/>
<polyline points="37.3,79.4 39.3,76.4 41.3,78.4 43.3,76.8 45.2,77.9 47.2,78.9 49.2,83.5 51.2,84.7 53.2,86.3 55.2,85.6 57.1,89.3 59.1,87.9 61.1,86.5 63.1,89.1 65.1,89.8 67.1,91.2 69,87 71,93.8 73,93.1 75,96.5 77,95.7 79,91.2 80.9,91.7 82.9,89.8 84.9,91.1 86.9,83.8 88.9,80.5 90.9,77 92.8,81.3 94.8,84.4 96.8,80.5 98.8,81 100.8,81.6 102.8,80.3 104.7,84 106.7,81.1 108.7,80.8 110.7,79.2 112.7,81.3 114.7,79.5 116.6,81.6 118.6,78.5 120.6,75.1 122.6,72.9 124.6,72.1 126.6,71 128.5,80.3 130.5,77.6 132.5,78.7 134.5,78.5 136.5,79.4 138.5,83.7 140.4,84.8 142.4,82.1 144.4,77.5 146.4,79.6 148.4,82.3 150.4,77.6 152.4,80.5 154.3,74.1 156.3,74.5 158.3,77.8 160.3,75 162.3,70.4 164.3,75.8 166.2,71.5 168.2,73.3 170.2,69.5 172.2,71.9 174.2,77.6 176.2,76.3 178.1,73.8 180.1,68.1 182.1,64.2 184.1,63.9 186.1,66.5 188.1,69.7 190,71.7 192,75.2 194,76.5 196,84.6 198,83.4 200,83 201.9,74.8 203.9,73 205.9,75.3 207.9,74 209.9,78.4 211.9,80.4 213.8,85.9 215.8,80.8 217.8,78.8 219.8,82.4 221.8,82.3 223.8,79 225.7,77.6 227.7,76.6 229.7,79.6 231.7,81.5 233.7,80.9 235.7,78.1 237.6,80.4 239.6,82.2 241.6,79.6 243.6,79.4" stroke="rgb(185,185,185)"/>
<polyline points="37.3,79.4 39.3,78.3 41.3,75.9 43.3,70.2 45.2,73.8 47.2,74.3 49.2,77.3 51.2,78.4 53.2,77.5 55.2,77.8 57.1,80.1 59.1,73.2 61.1,74.4 63.1,75.5 65.1,72.4 67.1,73.1 69,74.5 71,72 73,76.1 75,74.1 77,71.4 79,70.2 80.9,71.8 82.9,72.7 84.9,78.8 86.9,79.3 88.9,78.3 90.9,75.6 92.8,75.6 94.8,77.2 96.8,80 98.8,80.1 100.8,79.5 102.8,75.6 104.7,76 106.7,77.9 108.7,78.3 110.7,79.9 112.7,80.6 114.7,87.3 116.6,91.3 118.6,93.6 120.6,90.4 122.6,89.3 124.6,87.6 126.6,82.8 128.5,85.7 130.5,81.2 132.5,79.8 134.5,81.9 136.5,76.8 138.5,81.6 140.4,84.8 142.4,84.8 144.4,82.8 146.4,82.9 148.4,89.2 150.4,88.9 152.4,88 154.3,78.9 156.3,74.5 158.3,74.7 160.3,78.6 162.3,77.6 164.3,81.4 166.2,80.5 168.2,79.2 170.2,80.4 172.2,79.4 174.2,80.4 176.2,82 178.1,76.8 180.1,75.3 182.1,76.7 184.1,79.4 186.1,78.8 188.1,77 190,74.6 192,70.4 194,70 196,74.6 198,68.7 200,66.3 201.9,65.2 203.9,62.7 205.9,69.3 207.9,71.6 209.9,74.1 211.9,71 213.8,75.7 215.8,77.1 217.8,72.5 219.8,71.3 221.8,73.4 223.8,68.2 225.7,73.6 227.7,72.9 229.7,74.3 231.7,73.3 233.7,74.8 235.7,78.1 237.6,77.9 239.6,80.8 241.6,79.5 243.6,79.4" stroke="rgb(185,185,185)"/>
<polyline points="37.3,79.4 39.3,78.2 41.3,79 43.3,76.3 45.2,75.4 47.2,83.2 49.2,79.3 51.2,84.9 53.2,85.4 55.2,81.9 57.1,81.2 59.1,79.5 61.1,77 63.1,76.5 65.1,80.3 67.1,79.1 69,81.1 71,87.6 73,87.4 75,84.9 77,83.9 79,83.3 80.9,78 82.9,77.4 84.9,75.1 86.9,74.6 88.9,70.6 90.9,72.7 92.8,70.2 94.8,66.2 96.8,68.8 98.8,67.1 100.8,72.3 102.8,72.3 104.7,71 106.7,74.3 108.7,79.9 110.7,79.7 112.7,80.5 114.7,79.8 116.6,78.9 118.6,76.6 120.6,72.6 122.6,72.1 124.6,77.2 126.6,75.6 128.5,74.9 130.5,75 132.5,71 134.5,71.2 136.5,73.2 138.5,72.6 140.4,77.8 142.4,75.2 144.4,75.5 146.4,71.2 148.4,70.2 150.4,70.2 152.4,70.7 154.3,75 156.3,75.7 158.3,75.2 160.3,72.9 162.3,72.4 164.3,71.2 166.2,70.2 168.2,72.7 170.2,72.6 172.2,73.9 174.2,78 176.2,82.2 178.1,79.5 180.1,75.4 182.1,71.8 184.1,75 186.1,71.3 188.1,67.8 190,71.2 192,70.7 194,66.9 196,68 198,66 200,69.2 201.9,71.3 203.9,69.7 205.9,71.2 207.9,71.7 209.9,72.3 211.9,75.9 213.8,72 215.8,73.2 217.8,74.7 219.8,76.4 221.8,76.5 223.8,79.3 225.7,76.8 227.7,78 229.7,75.8 231.7,78.6 233.7,81.4 235.7,83.3 237.6,81.7 239.6,83.2 241.6,80.6 243.6,79.4" stroke="rgb(185,185,185)"/>
<polyline points="37.5,79.4 45,74 52,70 60,66 68,64 74.7,62.1 80.2,56 83.9,55.4 87.9,50.5 93,57.2 96.7,58.5 101.6,63.4 108,66 115,68 125,70 140,72 160,73 180,74 200,75 220,77 243.5,79.4" stroke="rgb(185,185,185)"/>
<polyline points="37.3,79.4 39.3,84.1 41.3,85.1 43.3,85.4 45.2,87.5 47.2,81.3 49.2,83.6 51.2,85.4 53.2,84.1 55.2,88.4 57.1,89.4 59.1,92.1 61.1,93.1 63.1,91.9 65.1,89.8 67.1,85.9 69,83.3 71,80 73,78.6 75,80 77,77.3 79,78.9 80.9,80.6 82.9,76.8 84.9,75.3 86.9,75.4 88.9,74.2 90.9,72.8 92.8,77.1 94.8,77.7 96.8,81 98.8,80.6 100.8,82.2 102.8,78.7 104.7,77.6 106.7,80 108.7,80.1 110.7,83.1 112.7,82.7 114.7,81.1 116.6,80.4 118.6,85.2 120.6,85.4 122.6,83.6 124.6,82.5 126.6,79.4 128.5,82.7 130.5,81.2 132.5,82.7 134.5,82 136.5,80.8 138.5,79.1 140.4,80.7 142.4,80.2 144.4,83.1 146.4,86.3 148.4,84.2 150.4,83.9 152.4,87.5 154.3,88.8 156.3,87.8 158.3,83.1 160.3,80.2 162.3,78.3 164.3,83 166.2,82.9 168.2,81.5 170.2,80.4 172.2,79.4 174.2,80.1 176.2,75.8 178.1,72.7 180.1,73.9 182.1,77.1 184.1,72.5 186.1,74.8 188.1,72.6 190,68.8 192,72.6 194,72.8 196,74.6 198,74 200,74 201.9,70 203.9,69.8 205.9,71.2 207.9,69.5 209.9,71.5 211.9,73.5 213.8,68.8 215.8,72.3 217.8,74.5 219.8,75.1 221.8,78.4 223.8,83.9 225.7,80.9 227.7,82.8 229.7,83.8 231.7,84.4 233.7,86.3 235.7,87.7 237.6,85.3 239.6,80 241.6,79 243.6,79.4" stroke="rgb(184,184,184)"/>
<polyline points="37.3,79.4 39.3,74.4 41.3,73.2 43.3,72.2 45.2,69.3 47.2,70.2 49.2,66.3 51.2,68.6 53.2,72.4 55.2,73.6 57.1,77.2 59.1,78.5 61.1,74.8 63.1,70 65.1,69.1 67.1,69.7 69,73.7 71,77.5 73,76.6 75,76.4 77,78.5 79,80 80.9,75 82.9,72.4 84.9,73.1 86.9,73.1 88.9,69.8 90.9,69.8 92.8,70.2 94.8,76.2 96.8,81.9 98.8,87.6 100.8,93.7 102.8,92 104.7,89.4 106.7,90.9 108.7,88.2 110.7,85.7 112.7,85.2 114.7,89.1 116.6,83.4 118.6,78.6 120.6,80.5 122.6,74.2 124.6,74.7 126.6,77.7 128.5,79.2 130.5,85 132.5,85.4 134.5,89.7 136.5,84.9 138.5,83.2 140.4,87.1 142.4,84.4 144.4,89.2 146.4,87.5 148.4,85 150.4,84.1 152.4,87.1 154.3,86.5 156.3,86.2 158.3,85.2 160.3,79.8 162.3,74.4 164.3,70 166.2,73.1 168.2,76.2 170.2,76.5 172.2,75.5 174.2,82.4 176.2,84 178.1,77.8 180.1,81.9 182.1,83.9 184.1,85.6 186.1,83.3 188.1,83 190,83.6 192,87.8 194,84.9 196,84.2 198,85.7 200,84.9 201.9,81.7 203.9,86.1 205.9,90.2 207.9,92.1 209.9,93.3 211.9,101.3 213.8,100.5 215.8,94.5 217.8,93.7 219.8,88.8 221.8,96.7 223.8,95 225.7,88.7 227.7,82.7 229.7,83.9 231.7,85.9 233.7,83.9 235.7,86.6 237.6,85.7 239.6,86.9 241.6,83.7 243.6,79.4" stroke="rgb(184,184,184)"/>
<polyline points="37.3,79.4 39.3,80.5 41.3,78.6 43.3,76.1 45.2,76.6 47.2,77.2 49.2,77.9 51.2,78 53.2,81.9 55.2,79.6 57.1,81 59.1,80.5 61.1,86 63.1,84.7 65.1,81.1 67.1,85.9 69,81.7 71,80.4 73,81.9 75,85.1 77,81.8 79,81 80.9,79.5 82.9,80.1 84.9,81.8 86.9,79.5 88.9,81.6 90.9,79.4 92.8,83.1 94.8,84.7 96.8,87.3 98.8,83.4 100.8,86.9 102.8,88.5 104.7,85.9 106.7,84.6 108.7,79.1 110.7,75.1 112.7,74.2 114.7,73.3 116.6,78.1 118.6,80.2 120.6,80.8 122.6,81.1 124.6,83.9 126.6,85.5 128.5,86.6 130.5,83.4 132.5,82 134.5,82.4 136.5,82.7 138.5,81.6 140.4,82.9 142.4,83.1 144.4,86.5 146.4,84.1 148.4,81.4 150.4,80.4 152.4,79.2 154.3,78.4 156.3,74 158.3,74.2 160.3,77.7 162.3,80.3 164.3,78.6 166.2,76.3 168.2,75 170.2,73.6 172.2,73.9 174.2,77.9 176.2,79.7 178.1,83.7 180.1,84 182.1,86.5 184.1,85.5 186.1,85.1 188.1,88.8 190,86 192,83.5 194,86.2 196,85 198,82.8 200,83 201.9,80.7 203.9,80.1 205.9,77.6 207.9,77.5 209.9,78.1 211.9,77.1 213.8,75.6 215.8,75.5 217.8,77 219.8,79.1 221.8,80 223.8,81.2 225.7,80.6 227.7,80.1 229.7,80.2 231.7,80.1 233.7,79.7 235.7,76.4 237.6,75.1 239.6,77.2 241.6,77.8 243.6,79.4" stroke="rgb(184,184,184)"/>
<polyline points="37.3,79.4 39.3,82.5 41.3,82.7 43.3,84.3 45.2,86.4 47.2,87.1 49.2,83.6 51.2,84.3 53.2,79.1 55.2,79.8 57.1,75.4 59.1,79.5 61.1,81.5 63.1,79.6 65.1,78 67.1,78.6 69,72.3 71,72.8 73,72.6 75,75.1 77,70.4 79,68.8 80.9,68.7 82.9,74.9 84.9,74.2 86.9,76.1 88.9,75.2 90.9,72.8 92.8,75.8 94.8,75.5 96.8,73.1 98.8,73.3 100.8,74.9 102.8,78.6 104.7,80.6 106.7,84.3 108.7,80.6 110.7,80 112.7,83.5 114.7,83 116.6,86.4 118.6,95.5 120.6,89.8 122.6,84.8 124.6,88.6 126.6,89.6 128.5,87.6 130.5,87.7 132.5,89.2 134.5,89.5 136.5,88.9 138.5,89.4 140.4,87.5 142.4,87.1 144.4,88.4 146.4,87.2 148.4,91.2 150.4,85.3 152.4,89.8 154.3,88.7 156.3,86.5 158.3,84.3 160.3,82.8 162.3,78.4 164.3,81.9 166.2,81.7 168.2,80.9 170.2,82.1 172.2,83.5 174.2,79 176.2,81.2 178.1,82.3 180.1,82.7 182.1,82.9 184.1,81.9 186.1,82.1 188.1,80.6 190,80 192,78.3 194,74.2 196,77.3 198,72.5 200,74.6 201.9,73.1 203.9,73.3 205.9,74.8 207.9,81.3 209.9,76.1 211.9,78.7 213.8,81.1 215.8,77.6 217.8,77.5 219.8,71.9 221.8,67.6 223.8,66.8 225.7,67.5 227.7,66.5 229.7,72 231.7,72.3 233.7,72.6 235.7,75.1 237.6,75.6 239.6,79.4 241.6,78.3 243.6,79.4" stroke="rgb(184,184,184)"/>
<polyline points="37.3,79.4 39.3,81.1 41.3,82.4 43.3,80.4 45.2,78.6 47.2,73.2 49.2,74.3 51.2,79.5 53.2,77.3 55.2,74.7 57.1,78.3 59.1,82.6 61.1,81.8 63.1,79.6 65.1,82.4 67.1,82.9 69,84.5 71,86.9 73,89.4 75,87.8 77,87.7 79,88.4 80.9,94.1 82.9,87.7 84.9,89.1 86.9,88.3 88.9,90.2 90.9,87.8 92.8,90.7 94.8,89.1 96.8,88.4 98.8,84.8 100.8,87 102.8,87.8 104.7,87.3 106.7,80.8 108.7,84.5 110.7,83.1 112.7,84.3 114.7,82.9 116.6,80.7 118.6,80.1 120.6,79.3 122.6,78.6 124.6,80.2 126.6,80.6 128.5,84.8 130.5,85 132.5,86.4 134.5,86.2 136.5,83.4 138.5,81.9 140.4,80.3 142.4,77.3 144.4,83.8 146.4,82.1 148.4,81.8 150.4,81.8 152.4,84.9 154.3,82.8 156.3,79.3 158.3,76.6 160.3,77.2 162.3,75.7 164.3,73.7 166.2,69.6 168.2,67.5 170.2,68.6 172.2,69.6 174.2,70.3 176.2,70.8 178.1,73.1 180.1,71.8 182.1,74.5 184.1,77.2 186.1,76.5 188.1,78.4 190,79.1 192,84.6 194,81.9 196,81.6 198,81.6 200,80.1 201.9,79.5 203.9,81.3 205.9,75.8 207.9,77.4 209.9,75.1 211.9,70.8 213.8,73.4 215.8,73.9 217.8,76.7 219.8,74.3 221.8,75.7 223.8,79.1 225.7,75.6 227.7,73.7 229.7,76.7 231.7,73.9 233.7,74 235.7,68.4 237.6,67.7 239.6,72.2 241.6,75.5 243.6,79.4" stroke="rgb(184,184,184)"/>
<polyline points="37.3,79.4 39.3,83.9 41.3,82.2 43.3,85.5 45.2,81.6 47.2,79.9 49.2,80.7 51.2,83.3 53.2,80.3 55.2,76.1 57.1,78.7 59.1,79.5 61.1,77 63.1,76.5 65.1,72 67.1,74.3 69,73.6 71,77.3 73,72.5 75,75.1 77,80.9 79,81 80.9,81.2 82.9,76.4 84.9,77.5 86.9,77.8 88.9,76.6 90.9,73.1 92.8,74 94.8,72.2 96.8,71.8 98.8,73.4 100.8,74 102.8,74.5 104.7,77.3 106.7,74.7 108.7,78.5 110.7,75.8 112.7,74 114.7,74.9 116.6,77.2 118.6,78 120.6,77.1 122.6,75.6 124.6,75.3 126.6,73.5 128.5,75.5 130.5,75.4 132.5,79.6 134.5,77.8 136.5,77.6 138.5,78.8 140.4,76.1 142.4,74.9 144.4,82.1 146.4,81.7 148.4,84.9 150.4,81.7 152.4,75.5 154.3,77.2 156.3,77.3 158.3,78.1 160.3,77.4 162.3,76.1 164.3,73.4 166.2,76.5 168.2,73.1 170.2,76.1 172.2,75.8 174.2,73.5 176.2,72.5 178.1,75.6 180.1,77.7 182.1,79 184.1,79.2 186.1,76.5 188.1,79.9 190,78.7 192,77.3 194,76.3 196,75.5 198,72.4 200,72 201.9,70.9 203.9,70.5 205.9,67.3 207.9,73.3 209.9,71 211.9,72.6 213.8,74.1 215.8,77.1 217.8,81.8 219.8,82.4 221.8,83.7 223.8,82 225.7,85.2 227.7,81.1 229.7,80.2 231.7,80.7 233.7,82.3 235.7,83.5 237.6,84.5 239.6,83.7 241.6,81.9 243.6,79.4" stroke="rgb(184,184,184)"/>
<polyline points="37.3,79.4 39.3,77.8 41.3,81.2 43.3,83.5 45.2,85.9 47.2,80.7 49.2,82.1 51.2,79.8 53.2,84.9 55.2,84 57.1,82 59.1,81.8 61.1,88.4 63.1,86.9 65.1,83.9 67.1,80 69,78.9 71,83.3 73,83.3 75,80.6 77,82.5 79,80.7 80.9,81.8 82.9,81.2 84.9,79.1 86.9,80.9 88.9,73.4 90.9,73.7 92.8,73.5 94.8,76.1 96.8,76.4 98.8,77.4 100.8,81.4 102.8,85.1 104.7,83.7 106.7,83.4 108.7,89.6 110.7,93.9 112.7,92.9 114.7,91.5 116.6,88.5 118.6,90.6 120.6,87.7 122.6,87.5 124.6,87.8 126.6,87.2 128.5,83.7 130.5,81.8 132.5,79.2 134.5,81 136.5,81.5 138.5,84.3 140.4,85.1 142.4,85.4 144.4,85.9 146.4,83.3 148.4,81.7 150.4,79.5 152.4,79.2 154.3,76.4 156.3,76.5 158.3,74.4 160.3,73.7 162.3,72.5 164.3,73.5 166.2,77.4 168.2,81.3 170.2,76.1 172.2,75.5 174.2,74.8 176.2,75.8 178.1,77.4 180.1,70.3 182.1,74.2 184.1,75 186.1,75.7 188.1,79 190,82.3 192,83.8 194,84.1 196,84.8 198,82.1 200,84.8 201.9,83.1 203.9,78.9 205.9,76.7 207.9,79.9 209.9,87.4 211.9,84.3 213.8,82.4 215.8,83.6 217.8,79.8 219.8,80.8 221.8,80.3 223.8,82.9 225.7,81.6 227.7,82.5 229.7,83.4 231.7,80.2 233.7,79.5 235.7,83 237.6,80.7 239.6,79 241.6,80 243.6,79.4" stroke="rgb(184,184,184)"/>
<polyline points="37.3,79.4 39.3,88 41.3,91.7 43.3,100.5 45.2,98.7 47.2,104 49.2,98.4 51.2,91.7 53.2,98.2 55.2,93.2 57.1,93.8 59.1,87.1 61.1,89 63.1,89.6 65.1,90.2 67.1,83.4 69,92.4 71,87.7 73,86.7 75,88.6 77,89 79,84 80.9,80 82.9,72.5 84.9,76.8 86.9,86.4 88.9,88.6 90.9,88.9 92.8,90.2 94.8,83.7 96.8,73.1 98.8,72.5 100.8,82.1 102.8,77.5 104.7,81.2 106.7,81.2 108.7,77.6 110.7,76.6 112.7,77.7 114.7,77.1 116.6,74.3 118.6,72.5 120.6,64.2 122.6,80.4 124.6,84.4 126.6,87.1 128.5,82.8 130.5,81.8 132.5,78.1 134.5,85.4 136.5,86.2 138.5,82.9 140.4,83.2 142.4,85.1 144.4,83.6 146.4,76 148.4,86.7 150.4,78.9 152.4,78.2 154.3,82.8 156.3,79.8 158.3,80.1 160.3,74.9 162.3,79.7 164.3,75.6 166.2,80.8 168.2,79.7 170.2,76.9 172.2,78.1 174.2,75.8 176.2,79.5 178.1,75 180.1,78.4 182.1,82.3 184.1,83 186.1,83.3 188.1,87.2 190,83.1 192,83.7 194,80.9 196,88.1 198,93.7 200,93.7 201.9,97.1 203.9,96.1 205.9,92 207.9,85.8 209.9,78.7 211.9,75.6 213.8,79.8 215.8,77.7 217.8,80.9 219.8,78.7 221.8,84.1 223.8,77.8 225.7,76.6 227.7,78.7 229.7,85.6 231.7,84.1 233.7,86.4 235.7,84.5 237.6,86.2 239.6,85.9 241.6,82.2 243.6,79.4" stroke="rgb(183,183,183)"/>
<polyline points="37.3,79.4 39.3,75.4 41.3,73.7 43.3,74 45.2,75.5 47.2,80.1 49.2,81.7 51.2,83.3 53.2,78.9 55.2,76.5 57.1,80.2 59.1,78.2 61.1,77.8 63.1,78.9 65.1,77.9 67.1,76.2 69,78 71,78.8 73,78.5 75,81 77,80.4 79,80.5 80.9,82 82.9,83.7 84.9,82.5 86.9,80 88.9,79.2 90.9,81.3 92.8,79.2 94.8,78.9 96.8,77.5 98.8,75 100.8,77.7 102.8,78.2 104.7,79.8 106.7,81.9 108.7,76.8 110.7,74.8 112.7,79.6 114.7,78.6 116.6,80 118.6,77.2 120.6,77.3 122.6,78 124.6,77.8 126.6,77.1 128.5,77.3 130.5,78.1 132.5,78.6 134.5,77.4 136.5,80.4 138.5,80.3 140.4,80.5 142.4,81.5 144.4,79.5 146.4,82.6 148.4,83.1 150.4,84.7 152.4,82.7 154.3,83.5 156.3,82.9 158.3,81.5 160.3,85.1 162.3,83.3 164.3,84.7 166.2,84.6 168.2,84.3 170.2,81.8 172.2,79.7 174.2,75.4 176.2,75.5 178.1,77.1 180.1,78.6 182.1,77.1 184.1,73.6 186.1,73.4 188.1,75.5 190,75.3 192,75.2 194,75.6 196,77.9 198,84.1 200,84.8 201.9,81.7 203.9,80.9 205.9,86 207.9,85.2 209.9,88.9 211.9,83 213.8,82.1 215.8,84.7 217.8,82.1 219.8,83.7 221.8,81.8 223.8,81.5 225.7,84.1 227.7,81.9 229.7,84.8 231.7,81 233.7,80.6 235.7,82.7 237.6,85.2 239.6,81 241.6,79 243.6,79.4" stroke="rgb(183,183,183)"/>
<polyline points="37.3,79.4 39.3,81.7 41.3,82.7 43.3,83 45.2,86.4 47.2,84.7 49.2,86.9 51.2,82.8 53.2,81.7 55.2,81.1 57.1,82.9 59.1,82.9 61.1,89.1 63.1,91.7 65.1,89 67.1,94.9 69,90.3 71,94.8 73,90.4 75,91.9 77,87.8 79,86.4 80.9,90.6 82.9,85.1 84.9,79.7 86.9,79.8 88.9,80.7 90.9,81.1 92.8,84.1 94.8,79.9 96.8,81.6 98.8,81.5 100.8,83.9 102.8,85.5 104.7,89 106.7,83.7 108.7,83.7 110.7,79.9 112.7,79.8 114.7,82.1 116.6,82.8 118.6,84.3 120.6,83.7 122.6,84.4 124.6,84.8 126.6,88.7 128.5,90.3 130.5,83.5 132.5,85.2 134.5,88 136.5,85.9 138.5,80.4 140.4,85.1 142.4,85.1 144.4,86.6 146.4,91.6 148.4,87.7 150.4,86.7 152.4,85.6 154.3,87.4 156.3,84.9 158.3,86 160.3,85.7 162.3,88.6 164.3,91.6 166.2,85.7 168.2,86.6 170.2,84.8 172.2,84.2 174.2,85.1 176.2,86.1 178.1,83.2 180.1,83.8 182.1,83.8 184.1,83.2 186.1,78.8 188.1,76.6 190,75.7 192,78 194,82.8 196,79.2 198,76 200,76.9 201.9,75.4 203.9,73.3 205.9,71.2 207.9,69.1 209.9,71.9 211.9,67.8 213.8,73.3 215.8,71.2 217.8,70.5 219.8,68.7 221.8,63.7 223.8,60.7 225.7,66.7 227.7,73.9 229.7,71.8 231.7,76.1 233.7,76.5 235.7,74.5 237.6,80 239.6,84.1 241.6,81.8 243.6,79.4" stroke="rgb(183,183,183)"/>
<polyline points="37.3,79.4 39.3,73.9 41.3,70.5 43.3,67.3 45.2,65.7 47.2,70.5 49.2,71.6 51.2,83.5 53.2,84.9 55.2,88.9 57.1,83.7 59.1,76.4 61.1,75.2 63.1,80.4 65.1,85.4 67.1,80.7 69,81.6 71,82.3 73,86.9 75,84.5 77,82.6 79,78 80.9,82.4 82.9,81.8 84.9,88.1 86.9,85.6 88.9,84.5 90.9,85.4 92.8,79.9 94.8,85.7 96.8,77 98.8,74.9 100.8,72.3 102.8,71.4 104.7,75.4 106.7,78.2 108.7,73.3 110.7,73.8 112.7,72.5 114.7,74.6 116.6,70.7 118.6,68.2 120.6,75.4 122.6,66 124.6,62.1 126.6,59.7 128.5,60.1 130.5,62.2 132.5,59.7 134.5,49 136.5,52.7 138.5,60.8 140.4,62.8 142.4,64 144.4,60.8 146.4,68.6 148.4,71.6 150.4,73.7 152.4,69.2 154.3,64.6 156.3,65 158.3,61.2 160.3,62.4 162.3,63.6 164.3,76.2 166.2,80.6 168.2,85.6 170.2,82.3 172.2,81.3 174.2,86 176.2,84.7 178.1,84.4 180.1,81.6 182.1,83.8 184.1,86.5 186.1,79.4 188.1,80.5 190,75.2 192,79.7 194,80.6 196,81.8 198,86 200,81.5 201.9,87.6 203.9,85.3 205.9,94.7 207.9,89.3 209.9,87.8 211.9,81.1 213.8,70.9 215.8,75.1 217.8,75.4 219.8,81.9 221.8,83.7 223.8,82.7 225.7,82 227.7,77.7 229.7,75.3 231.7,70.9 233.7,75.1 235.7,75.1 237.6,80 239.6,80.2 241.6,85.2 243.6,79.4" stroke="rgb(183,183,183)"/>
<polyline points="37.3,79.4 39.3,75.7 41.3,73.1 43.3,74.4 45.2,72.9 47.2,75.1 49.2,79.7 51.2,83.6 53.2,75.9 55.2,78 57.1,78.2 59.1,80.4 61.1,79.8 63.1,80.5 65.1,81.6 67.1,85.1 69,88.8 71,90 73,87.8 75,80.2 77,76.8 79,71.3 80.9,70.7 82.9,72 84.9,77 86.9,77.2 88.9,84.2 90.9,84.5 92.8,78.7 94.8,77.7 96.8,74.3 98.8,76.1 100.8,80.7 102.8,82 104.7,82.9 106.7,78.6 108.7,72.4 110.7,75.5 112.7,77 114.7,77.7 116.6,78.9 118.6,82.8 120.6,82 122.6,80.5 124.6,79.1 126.6,82.8 128.5,82.7 130.5,87.7 132.5,83.7 134.5,86.3 136.5,86.3 138.5,86.8 140.4,87.6 142.4,89.9 144.4,94.1 146.4,86.8 148.4,85 150.4,83.4 152.4,76.3 154.3,76.9 156.3,75.3 158.3,75.7 160.3,72.3 162.3,71.5 164.3,71.4 166.2,73 168.2,72.8 170.2,69.9 172.2,77.4 174.2,78 176.2,79.3 178.1,80.2 180.1,86.2 182.1,83 184.1,85.1 186.1,85 188.1,85.8 190,90.2 192,90.2 194,94.6 196,95.6 198,94.5 200,92.6 201.9,90.8 203.9,89.7 205.9,81.7 207.9,79.9 209.9,83.6 211.9,84.9 213.8,86.2 215.8,85.8 217.8,86.9 219.8,88.5 221.8,82.2 223.8,81.6 225.7,82.3 227.7,82.6 229.7,82.8 231.7,77.9 233.7,76.5 235.7,73.7 237.6,82.7 239.6,81 241.6,78.9 243.6,79.4" stroke="rgb(182,182,182)"/>
<polyline points="37.3,79.4 39.3,81.1 41.3,77.8 43.3,75.8 45.2,77.6 47.2,75.6 49.2,75.8 51.2,71.9 53.2,77.2 55.2,77.2 57.1,74.7 59.1,78.7 61.1,80.8 63.1,79.3 65.1,79.1 67.1,80 69,79 71,82.9 73,84.7 75,79.2 77,81 79,79.5 80.9,79.6 82.9,77.2 84.9,76.5 86.9,75.7 88.9,72.8 90.9,72.7 92.8,78.1 94.8,80.1 96.8,76 98.8,73.4 100.8,74.7 102.8,79.6 104.7,81.5 106.7,75.5 108.7,72.6 110.7,70 112.7,75.5 114.7,79.7 116.6,81.2 118.6,84.7 120.6,83.7 122.6,86.1 124.6,84 126.6,84 128.5,84.9 130.5,82.4 132.5,80.8 134.5,80.2 136.5,81.1 138.5,81 140.4,86.1 142.4,90.6 144.4,91.1 146.4,89.3 148.4,83.2 150.4,81.6 152.4,84 154.3,84.8 156.3,87.6 158.3,86.7 160.3,86 162.3,85.3 164.3,83.8 166.2,80.3 168.2,78.3 170.2,81.6 172.2,79 174.2,81.8 176.2,80.4 178.1,80 180.1,75.2 182.1,76 184.1,76.6 186.1,77.7 188.1,75.5 190,75 192,76.2 194,74.3 196,69.1 198,65.8 200,63.2 201.9,66.6 203.9,68.3 205.9,69.2 207.9,75 209.9,70.8 211.9,75.7 213.8,75 215.8,78.8 217.8,78.5 219.8,76.3 221.8,75.2 223.8,78 225.7,79.9 227.7,77.2 229.7,77.6 231.7,77.4 233.7,75 235.7,82.2 237.6,80.8 239.6,78.2 241.6,76.7 243.6,79.4" stroke="rgb(182,182,182)"/>
<polyline points="37.3,79.4 39.3,74.9 41.3,79.1 43.3,85.4 45.2,80.5 47.2,76.7 49.2,74.7 51.2,76.4 53.2,74.9 55.2,78 57.1,79.6 59.1,83.6 61.1,81.9 63.1,83.6 65.1,78.6 67.1,75.4 69,79.6 71,71.1 73,77.3 75,75.4 77,70.9 79,65.9 80.9,77.8 82.9,73.3 84.9,68.4 86.9,63 88.9,75.3 90.9,79 92.8,79.5 94.8,81.6 96.8,75 98.8,78.7 100.8,73.1 102.8,71.2 104.7,79 106.7,83.7 108.7,85.4 110.7,84.2 112.7,79 114.7,79.9 116.6,75.6 118.6,83.4 120.6,97.2 122.6,96.6 124.6,92.4 126.6,92.5 128.5,95.7 130.5,91.8 132.5,81.2 134.5,81.5 136.5,84.6 138.5,88 140.4,77.7 142.4,78.1 144.4,75.4 146.4,70.2 148.4,66.2 150.4,72.1 152.4,68.5 154.3,65.9 156.3,65.2 158.3,62.2 160.3,66.9 162.3,68.7 164.3,72.5 166.2,69.8 168.2,74 170.2,72.8 172.2,78.7 174.2,79.4 176.2,81.1 178.1,81.4 180.1,80.5 182.1,81.3 184.1,82.1 186.1,91.4 188.1,84.8 190,87.1 192,87.3 194,90.2 196,84.3 198,87.9 200,84.5 201.9,78.4 203.9,70.8 205.9,66.3 207.9,64.9 209.9,72.3 211.9,67.1 213.8,63 215.8,61 217.8,59.5 219.8,61.5 221.8,66 223.8,62.6 225.7,58.6 227.7,65.9 229.7,63.3 231.7,64 233.7,61.7 235.7,63.7 237.6,63.7 239.6,65.6 241.6,69.7 243.6,79.4" stroke="rgb(182,182,182)"/>
<polyline points="37.3,79.4 39.3,78.9 41.3,78.5 43.3,76.6 45.2,78.8 47.2,77.6 49.2,80.4 51.2,77.7 53.2,75.5 55.2,76.5 57.1,78.1 59.1,78.3 61.1,77.1 63.1,81.1 65.1,83.3 67.1,80.6 69,81 71,83.9 73,88.8 75,88.8 77,91.9 79,90.1 80.9,89.1 82.9,83.5 84.9,86.1 86.9,83.8 88.9,86.2 90.9,87.9 92.8,87.5 94.8,88.6 96.8,83.2 98.8,82.9 100.8,84.4 102.8,78.3 104.7,80.4 106.7,81.2 108.7,81.6 110.7,83.3 112.7,81.4 114.7,78.4 116.6,81.7 118.6,82.7 120.6,83.3 122.6,86.3 124.6,88.7 126.6,88.6 128.5,89.8 130.5,87.9 132.5,85 134.5,84 136.5,82.9 138.5,84.8 140.4,85.7 142.4,84.1 144.4,82.3 146.4,82.3 148.4,80.8 150.4,81.3 152.4,84 154.3,82.8 156.3,83.6 158.3,87.3 160.3,84.4 162.3,83.1 164.3,81 166.2,82.1 168.2,78.3 170.2,77.4 172.2,75.5 174.2,77.6 176.2,78.7 178.1,75.9 180.1,76.5 182.1,76.9 184.1,73.8 186.1,71.8 188.1,72.3 190,68.7 192,73.7 194,74.7 196,76.7 198,73.6 200,70.7 201.9,73 203.9,73.5 205.9,72.1 207.9,71.8 209.9,72.2 211.9,70.8 213.8,67.3 215.8,68.6 217.8,72.6 219.8,73.8 221.8,74.7 223.8,76.2 225.7,75 227.7,73.9 229.7,72.5 231.7,72.3 233.7,72.6 235.7,76.2 237.6,77.7 239.6,79.6 241.6,79.2 243.6,79.4" stroke="rgb(181,181,181)"/>
<polyline points="37.3,79.4 39.3,82.3 41.3,87.8 43.3,86.2 45.2,87.9 47.2,94.5 49.2,89 51.2,90.4 53.2,87.6 55.2,89.1 57.1,89.2 59.1,82.7 61.1,81.2 63.1,79.7 65.1,84.8 67.1,81.2 69,83.1 71,81.1 73,84.2 75,82.4 77,80.2 79,84.9 80.9,83.2 82.9,85.7 84.9,80.8 86.9,79.4 88.9,79.2 90.9,69.1 92.8,67.6 94.8,70.2 96.8,68.4 98.8,68.8 100.8,65.6 102.8,70.5 104.7,65 106.7,68.4 108.7,70.9 110.7,74.3 112.7,75.9 114.7,70 116.6,70.5 118.6,75 120.6,76 122.6,75.6 124.6,72.8 126.6,74.6 128.5,74.5 130.5,65.3 132.5,67.4 134.5,68.4 136.5,73.7 138.5,71.2 140.4,73.6 142.4,68.2 144.4,65.5 146.4,64.4 148.4,67.8 150.4,70.3 152.4,72.6 154.3,73.1 156.3,75 158.3,77.2 160.3,77.1 162.3,77.4 164.3,78.9 166.2,75.9 168.2,72.8 170.2,75.4 172.2,68.7 174.2,68.7 176.2,65.8 178.1,61.2 180.1,68 182.1,67.7 184.1,66 186.1,63.6 188.1,62.8 190,61.4 192,68.5 194,72.9 196,71.7 198,79.3 200,81.1 201.9,81.5 203.9,79.9 205.9,76.8 207.9,76.3 209.9,79.3 211.9,82.5 213.8,80.7 215.8,78.5 217.8,77.3 219.8,77 221.8,76.9 223.8,81.8 225.7,81.5 227.7,78.7 229.7,82.4 231.7,80.6 233.7,78.1 235.7,71.1 237.6,73.4 239.6,75.7 241.6,78.8 243.6,79.4" stroke="rgb(181,181,181)"/>
<polyline points="37.3,79.4 39.3,78.4 41.3,79.9 43.3,80.8 45.2,82.6 47.2,85.9 49.2,87.1 51.2,87.2 53.2,85.2 55.2,85 57.1,83.3 59.1,79.2 61.1,76.6 63.1,77.7 65.1,82.2 67.1,82 69,81.2 71,78.2 73,77.7 75,70.5 77,72.1 79,71 80.9,74.1 82.9,77 84.9,77.8 86.9,77.2 88.9,75.5 90.9,83.8 92.8,80.1 94.8,75.9 96.8,72.6 98.8,71 100.8,72.1 102.8,71.3 104.7,68.7 106.7,72.3 108.7,71.2 110.7,70.6 112.7,71.8 114.7,67.9 116.6,70.8 118.6,74.1 120.6,74.7 122.6,76.6 124.6,73.3 126.6,78.1 128.5,81.4 130.5,80.1 132.5,77.9 134.5,80.9 136.5,77.2 138.5,82.2 140.4,79 142.4,81.2 144.4,82 146.4,76.9 148.4,77.1 150.4,78.9 152.4,78.2 154.3,73.3 156.3,73.7 158.3,76.2 160.3,75.9 162.3,79.3 164.3,80.9 166.2,82 168.2,79.9 170.2,80.9 172.2,79.4 174.2,76.3 176.2,72.4 178.1,77.5 180.1,77.7 182.1,80.7 184.1,78.7 186.1,78 188.1,78.1 190,79.5 192,81.8 194,85.7 196,82.3 198,82.4 200,81.8 201.9,80.5 203.9,78.2 205.9,73.4 207.9,74.5 209.9,73.2 211.9,78 213.8,79.1 215.8,80.8 217.8,82.1 219.8,78.7 221.8,78.4 223.8,78.2 225.7,78 227.7,78.6 229.7,79.1 231.7,80.7 233.7,81.8 235.7,82.2 237.6,81.7 239.6,83.9 241.6,81.9 243.6,79.4" stroke="rgb(181,181,181)"/>
<polyline points="37.3,79.4 39.3,79.3 41.3,80.6 43.3,82.5 45.2,81.3 47.2,81.1 49.2,76.2 51.2,77.4 53.2,75.8 55.2,72.1 57.1,73.3 59.1,71.6 61.1,71.7 63.1,72.4 65.1,69.4 67.1,72.7 69,74.7 71,79.2 73,79.4 75,77 77,77.7 79,75.9 80.9,77.9 82.9,75.3 84.9,75.9 86.9,77.3 88.9,73.6 90.9,74.2 92.8,73.4 94.8,73.7 96.8,72.6 98.8,73 100.8,76.4 102.8,75.9 104.7,75.1 106.7,74.6 108.7,75.6 110.7,71.7 112.7,74.2 114.7,74.4 116.6,74.3 118.6,77.3 120.6,80.1 122.6,78.4 124.6,76.8 126.6,76.7 128.5,80.5 130.5,80.9 132.5,80 134.5,78.4 136.5,75.6 138.5,74.9 140.4,73.1 142.4,69.9 144.4,76.3 146.4,74.2 148.4,75.7 150.4,74.9 152.4,74.8 154.3,77.6 156.3,79.7 158.3,78.5 160.3,78.9 162.3,77.2 164.3,78.2 166.2,73.3 168.2,74.5 170.2,70.2 172.2,72.9 174.2,72.2 176.2,70.4 178.1,74.3 180.1,77 182.1,76.2 184.1,73.9 186.1,71.3 188.1,70.8 190,69.3 192,73.1 194,74.7 196,71.8 198,73.9 200,74.9 201.9,79.3 203.9,79.6 205.9,83.1 207.9,81.7 209.9,78 211.9,77.3 213.8,77 215.8,78.1 217.8,76.9 219.8,79.6 221.8,80.5 223.8,75.3 225.7,78.7 227.7,79.9 229.7,82.9 231.7,79.6 233.7,80 235.7,82.5 237.6,83.8 239.6,80.8 241.6,79.6 243.6,79.4" stroke="rgb(181,181,181)"/>
<polyline points="37.3,79.4 39.3,82 41.3,83.2 43.3,81.8 45.2,81.7 47.2,77.6 49.2,75.8 51.2,74.1 53.2,69.7 55.2,73 57.1,69.8 59.1,70.7 61.1,76.3 63.1,75.2 65.1,76.3 67.1,71.5 69,74 71,74.5 73,74.4 75,80.8 77,79.1 79,82.1 80.9,77.5 82.9,72.7 84.9,73.5 86.9,79 88.9,78.5 90.9,78.1 92.8,76.1 94.8,77.4 96.8,81.2 98.8,81.4 100.8,84 102.8,78.1 104.7,80.4 106.7,82.3 108.7,82.1 110.7,85.5 112.7,86.1 114.7,85.7 116.6,86.5 118.6,86.4 120.6,81.8 122.6,80.2 124.6,84.1 126.6,84.9 128.5,82 130.5,83.6 132.5,82.9 134.5,82.5 136.5,80.6 138.5,81 140.4,81.2 142.4,83.6 144.4,82 146.4,84.5 148.4,78.6 150.4,78.8 152.4,79.5 154.3,77.1 156.3,77.7 158.3,77.6 160.3,78 162.3,80.4 164.3,83 166.2,84.7 168.2,80.6 170.2,82.4 172.2,83.3 174.2,84.2 176.2,81.5 178.1,75.2 180.1,78.5 182.1,77 184.1,76.9 186.1,78.1 188.1,76.7 190,80.9 192,78.2 194,77.7 196,80.9 198,75.9 200,73.7 201.9,70.9 203.9,76.3 205.9,77.5 207.9,79.3 209.9,77.4 211.9,73.6 213.8,80 215.8,79.9 217.8,80.2 219.8,77.1 221.8,77.5 223.8,81.6 225.7,81.9 227.7,84.8 229.7,86.5 231.7,85.5 233.7,86.2 235.7,84.2 237.6,86.5 239.6,80 241.6,78.2 243.6,79.4" stroke="rgb(181,181,181)"/>
<polyline points="37.3,79.4 39.3,76.7 41.3,75.3 43.3,72.4 45.2,71.5 47.2,70.9 49.2,73.7 51.2,75.4 53.2,79.1 55.2,79.9 57.1,80.3 59.1,78.3 61.1,81.5 63.1,73.6 65.1,74.6 67.1,72.3 69,70.7 71,77.8 73,78.7 75,75.3 77,81.7 79,79.6 80.9,81.8 82.9,82.7 84.9,81.8 86.9,86.1 88.9,84.9 90.9,85.8 92.8,86.9 94.8,84.4 96.8,75.5 98.8,75.2 100.8,74.5 102.8,75.2 104.7,77.5 106.7,77.2 108.7,73.9 110.7,74.2 112.7,72.8 114.7,74.2 116.6,68.9 118.6,74.1 120.6,73.4 122.6,72.9 124.6,73.1 126.6,76.6 128.5,79.7 130.5,80.3 132.5,80.1 134.5,82.9 136.5,85.1 138.5,83.2 140.4,80.3 142.4,81.6 144.4,83.1 146.4,84.5 148.4,78.1 150.4,77.1 152.4,77.6 154.3,75.5 156.3,70.6 158.3,69 160.3,73.7 162.3,74.7 164.3,76.3 166.2,77.6 168.2,80.8 170.2,81.6 172.2,84 174.2,82.8 176.2,82.3 178.1,85.4 180.1,88.9 182.1,89 184.1,86.4 186.1,84.4 188.1,84.1 190,91.5 192,91.3 194,91.8 196,91.2 198,92.8 200,92.3 201.9,92.4 203.9,84.5 205.9,82.3 207.9,82.5 209.9,82.3 211.9,82.4 213.8,81.6 215.8,82.4 217.8,82.2 219.8,79.5 221.8,77.6 223.8,77.2 225.7,74.4 227.7,74.5 229.7,77.6 231.7,82 233.7,83.5 235.7,83 237.6,81.4 239.6,79.2 241.6,79.9 243.6,79.4" stroke="rgb(180,180,180)"/>
<polyline points="37.3,79.4 39.3,75.9 41.3,74.4 43.3,75.7 45.2,78.7 47.2,81.8 49.2,78 51.2,72.3 53.2,71.9 55.2,74.6 57.1,73.4 59.1,75 61.1,73.5 63.1,73.5 65.1,73.5 67.1,72.7 69,75 71,76.5 73,81.1 75,82 77,85.2 79,84.9 80.9,86.6 82.9,85.5 84.9,83.6 86.9,86.6 88.9,87.8 90.9,89.1 92.8,86.1 94.8,81.1 96.8,78.8 98.8,79.7 100.8,76 102.8,80.2 104.7,76.4 106.7,78.4 108.7,85.4 110.7,78.1 112.7,74.4 114.7,77.5 116.6,77.3 118.6,78.1 120.6,78 122.6,81.8 124.6,83.2 126.6,81.6 128.5,80.8 130.5,77.7 132.5,77.7 134.5,72.1 136.5,74.7 138.5,74.6 140.4,80 142.4,83 144.4,79.3 146.4,81.6 148.4,80 150.4,80.1 152.4,82.6 154.3,83.1 156.3,83.9 158.3,84.6 160.3,82.1 162.3,80.2 164.3,81.5 166.2,83.5 168.2,82.3 170.2,82.2 172.2,79.3 174.2,72.8 176.2,71.5 178.1,72.5 180.1,73.8 182.1,76.6 184.1,79.1 186.1,81.7 188.1,82.4 190,83.1 192,80.8 194,81.6 196,81.8 198,84.5 200,79.9 201.9,78.6 203.9,74.2 205.9,72.9 207.9,70 209.9,71.7 211.9,70.9 213.8,65.2 215.8,69.9 217.8,68.2 219.8,65.3 221.8,66 223.8,65.7 225.7,64.2 227.7,67.6 229.7,68 231.7,71.6 233.7,74.2 235.7,76.6 237.6,77.6 239.6,78 241.6,78.1 243.6,79.4" stroke="rgb(180,180,180)"/>
<polyline points="37.3,79.4 39.3,75.3 41.3,74.6 43.3,78.3 45.2,82.4 47.2,86.9 49.2,83.9 51.2,85.6 53.2,84.7 55.2,85.8 57.1,84.8 59.1,80.1 61.1,82 63.1,82.7 65.1,84.6 67.1,81.4 69,84.2 71,86.9 73,90 75,92.8 77,89.8 79,81.1 80.9,83.8 82.9,80.5 84.9,79.7 86.9,82.8 88.9,83.2 90.9,83.4 92.8,84.9 94.8,78.7 96.8,84.3 98.8,82.6 100.8,81.3 102.8,82.7 104.7,81.9 106.7,79 108.7,78.6 110.7,77.5 112.7,75.8 114.7,82.1 116.6,77.5 118.6,71.1 120.6,69.3 122.6,67.6 124.6,73.1 126.6,74.2 128.5,77.1 130.5,79.1 132.5,76.3 134.5,79 136.5,79.5 138.5,85 140.4,84.7 142.4,83.8 144.4,85.3 146.4,86.7 148.4,80.4 150.4,83.8 152.4,86.3 154.3,87.8 156.3,83.3 158.3,76.8 160.3,76.1 162.3,78.6 164.3,79.9 166.2,76.8 168.2,79.7 170.2,75.5 172.2,71.9 174.2,72.6 176.2,71.5 178.1,70.3 180.1,66.9 182.1,71.5 184.1,69 186.1,71.3 188.1,74.5 190,74.8 192,76 194,79.2 196,83.9 198,86 200,81.1 201.9,75.2 203.9,73.8 205.9,71.1 207.9,73.6 209.9,74.5 211.9,74.3 213.8,78 215.8,81 217.8,80.5 219.8,81.3 221.8,84.2 223.8,82.5 225.7,82.9 227.7,79.5 229.7,79.5 231.7,80.4 233.7,79.9 235.7,80.3 237.6,81.5 239.6,81.6 241.6,79.8 243.6,79.4" stroke="rgb(180,180,180)"/>
<polyline points="37.3,79.4 39.3,79.6 41.3,81.6 43.3,80.5 45.2,85.5 47.2,83.7 49.2,84.3 51.2,79.6 53.2,79.1 55.2,74.6 57.1,65.5 59.1,68 61.1,72.7 63.1,71.5 65.1,72.7 67.1,72.8 69,76 71,74 73,74.3 75,83.8 77,84.2 79,82.1 80.9,76.8 82.9,79.4 84.9,82.6 86.9,77.4 88.9,80.1 90.9,79.5 92.8,77.4 94.8,74.5 96.8,74.9 98.8,80 100.8,75.6 102.8,77.8 104.7,80.1 106.7,71.6 108.7,68.8 110.7,74.4 112.7,76.9 114.7,78.1 116.6,81.3 118.6,89 120.6,84.4 122.6,80.5 124.6,79.3 126.6,80.9 128.5,79.7 130.5,76.9 132.5,81.5 134.5,82.5 136.5,84.4 138.5,80.8 140.4,79.5 142.4,84.8 144.4,86.6 146.4,78.4 148.4,82.4 150.4,81.4 152.4,83.7 154.3,77.9 156.3,78.3 158.3,80.2 160.3,84.9 162.3,85.2 164.3,81 166.2,77.9 168.2,83.5 170.2,76.5 172.2,77.8 174.2,82.3 176.2,81.3 178.1,83.6 180.1,85.5 182.1,87.3 184.1,86.7 186.1,87.8 188.1,93.8 190,89.9 192,90.7 194,84.4 196,81.5 198,78.6 200,77.9 201.9,72.7 203.9,74.8 205.9,79.4 207.9,77.9 209.9,89.3 211.9,89.6 213.8,87.5 215.8,88.2 217.8,81.9 219.8,78.6 221.8,78.2 223.8,80 225.7,75.3 227.7,78.6 229.7,80.4 231.7,77.1 233.7,74.9 235.7,67.9 237.6,71.5 239.6,78.7 241.6,77.9 243.6,79.4" stroke="rgb(180,180,180)"/>
<polyline points="37.3,79.4 39.3,77.9 41.3,76.2 43.3,74.9 45.2,77.1 47.2,77.3 49.2,76.9 51.2,77.8 53.2,78.5 55.2,78.8 57.1,77.5 59.1,77.3 61.1,78.8 63.1,79 65.1,76.2 67.1,78.8 69,77.3 71,78.1 73,69.8 75,69.5 77,70.5 79,71.8 80.9,76.2 82.9,77.8 84.9,73.4 86.9,73.3 88.9,74.6 90.9,75.2 92.8,75.6 94.8,78.2 96.8,78.1 98.8,77.1 100.8,80.7 102.8,81.1 104.7,87.1 106.7,90 108.7,86.8 110.7,83.1 112.7,78.5 114.7,81.5 116.6,81.4 118.6,81.9 120.6,79.2 122.6,78.5 124.6,78.4 126.6,77.1 128.5,78.4 130.5,76.3 132.5,77.4 134.5,75.2 136.5,75.2 138.5,75.2 140.4,78.3 142.4,81.9 144.4,85.1 146.4,83.3 148.4,87.7 150.4,83.6 152.4,83.8 154.3,86.3 156.3,84.7 158.3,86.9 160.3,85.9 162.3,85.7 164.3,82.2 166.2,79.8 168.2,77.6 170.2,78.9 172.2,76.1 174.2,76.6 176.2,76.7 178.1,76 180.1,75.8 182.1,79.2 184.1,77.8 186.1,81.6 188.1,80.2 190,80.3 192,80 194,82.4 196,79.8 198,80 200,78 201.9,79.8 203.9,81.4 205.9,81 207.9,78.5 209.9,81.6 211.9,82.6 213.8,83.3 215.8,83.5 217.8,84 219.8,81 221.8,79.2 223.8,79.2 225.7,77.3 227.7,75.2 229.7,77.1 231.7,79 233.7,77.5 235.7,73.4 237.6,79.1 239.6,80.1 241.6,79.1 243.6,79.4" stroke="rgb(180,180,180)"/>
<polyline points="37.3,79.4 39.3,80.9 41.3,84.1 43.3,87.8 45.2,89.4 47.2,93.4 49.2,89.7 51.2,85.9 53.2,85.3 55.2,85.7 57.1,89 59.1,86.7 61.1,87.7 63.1,85.2 65.1,81.9 67.1,81.5 69,86.7 71,88.3 73,83.8 75,82.6 77,78.7 79,84.5 80.9,84.2 82.9,84.2 84.9,87.8 86.9,88.5 88.9,84.9 90.9,82.9 92.8,83.9 94.8,82.6 96.8,79.2 98.8,82 100.8,81 102.8,78.2 104.7,80.2 106.7,76.8 108.7,77.4 110.7,74.8 112.7,73.1 114.7,73.2 116.6,74.7 118.6,77 120.6,76.9 122.6,76.7 124.6,73.5 126.6,74.4 128.5,74.2 130.5,70.5 132.5,70.8 134.5,70.7 136.5,67.7 138.5,68.9 140.4,69.2 142.4,68.5 144.4,70.1 146.4,74.1 148.4,78.6 150.4,79.2 152.4,76.4 154.3,74.2 156.3,70.7 158.3,69.5 160.3,72.4 162.3,77 164.3,78.6 166.2,79.4 168.2,81.4 170.2,78.8 172.2,81 174.2,79.3 176.2,77.4 178.1,82.1 180.1,82.9 182.1,79.3 184.1,77.2 186.1,77.2 188.1,80.3 190,82.1 192,81.6 194,78.1 196,77 198,77.6 200,77.2 201.9,75.6 203.9,80.5 205.9,83 207.9,82.5 209.9,79.1 211.9,76.4 213.8,78.8 215.8,78.9 217.8,80.9 219.8,81.7 221.8,81.1 223.8,81.9 225.7,83.1 227.7,85.6 229.7,89 231.7,88.4 233.7,86.9 235.7,84.1 237.6,84.5 239.6,84.1 241.6,80.8 243.6,79.4" stroke="rgb(179,179,179)"/>
<polyline points="37.3,79.4 39.3,74.9 41.3,77.6 43.3,75.1 45.2,79.4 47.2,78.1 49.2,72.8 51.2,64.3 53.2,66.2 55.2,64.6 57.1,64.9 59.1,63.1 61.1,75.9 63.1,77.8 65.1,76.6 67.1,74.7 69,78.4 71,74.7 73,70.4 75,71 77,72.8 79,75 80.9,74.7 82.9,70 84.9,64.5 86.9,68.1 88.9,73.3 90.9,77.3 92.8,73.1 94.8,72.8 96.8,72.1 98.8,70.7 100.8,70 102.8,71.4 104.7,76.7 106.7,79.5 108.7,78.8 110.7,77 112.7,78.7 114.7,80.4 116.6,74.2 118.6,76.7 120.6,75.9 122.6,77.5 124.6,81.2 126.6,87.4 128.5,88.6 130.5,90.8 132.5,85.6 134.5,89.6 136.5,90 138.5,85.7 140.4,85.3 142.4,82.3 144.4,78.2 146.4,85.3 148.4,86.2 150.4,89.3 152.4,82.2 154.3,82.2 156.3,79.5 158.3,72 160.3,74.3 162.3,74.4 164.3,73.1 166.2,74.8 168.2,69.8 170.2,67.3 172.2,64.3 174.2,65.7 176.2,68.6 178.1,71.3 180.1,73.6 182.1,81.2 184.1,79.3 186.1,75.6 188.1,75.9 190,78.3 192,78.1 194,77.1 196,75.8 198,68.4 200,73.2 201.9,72.2 203.9,70 205.9,70.6 207.9,72.5 209.9,77.5 211.9,80.1 213.8,76.9 215.8,70.8 217.8,74.5 219.8,72.9 221.8,71.3 223.8,67.8 225.7,68 227.7,67.3 229.7,64.8 231.7,71.3 233.7,71.9 235.7,80.1 237.6,86.4 239.6,86.2 241.6,86 243.6,79.4" stroke="rgb(179,179,179)"/>
<polyline points="37.3,79.4 39.3,78.7 41.3,79.6 43.3,77.7 45.2,81 47.2,79.4 49.2,81.3 51.2,79.8 53.2,79.5 55.2,78.7 57.1,81.8 59.1,84 61.1,86.1 63.1,84.7 65.1,81.8 67.1,78.2 69,79.9 71,79.6 73,84.6 75,90.8 77,92.2 79,92.7 80.9,96 82.9,99.5 84.9,95.5 86.9,96.1 88.9,99.3 90.9,89.8 92.8,88 94.8,88 96.8,84.9 98.8,86.7 100.8,80.9 102.8,85.6 104.7,88.9 106.7,88.3 108.7,89.6 110.7,84.1 112.7,88.6 114.7,89.8 116.6,87.9 118.6,85.2 120.6,81.5 122.6,80.3 124.6,73.4 126.6,75.7 128.5,75.7 130.5,73.6 132.5,75.4 134.5,76.8 136.5,78.7 138.5,80.9 140.4,84.3 142.4,85.5 144.4,89.7 146.4,87.4 148.4,91.5 150.4,83.8 152.4,78.1 154.3,75 156.3,76.3 158.3,78.6 160.3,75 162.3,75.1 164.3,74 166.2,77.1 168.2,74.2 170.2,77.4 172.2,77.5 174.2,83.2 176.2,84.9 178.1,82.8 180.1,84 182.1,84.9 184.1,82 186.1,82.1 188.1,78 190,85.8 192,83.5 194,81.6 196,86.2 198,89.6 200,85.8 201.9,88.5 203.9,89.5 205.9,86.6 207.9,86.9 209.9,84.7 211.9,86.9 213.8,85.3 215.8,81.4 217.8,80.3 219.8,87.1 221.8,84.4 223.8,83.8 225.7,86.2 227.7,81.2 229.7,86.6 231.7,80.1 233.7,82.1 235.7,77.3 237.6,78.1 239.6,81.1 241.6,80.3 243.6,79.4" stroke="rgb(179,179,179)"/>
<polyline points="37.3,79.4 39.3,81.5 41.3,80.5 43.3,82.3 45.2,83.4 47.2,79.5 49.2,75.1 51.2,77.2 53.2,79.6 55.2,77.9 57.1,77.2 59.1,79.3 61.1,77.5 63.1,76.1 65.1,76.2 67.1,68.4 69,65.9 71,65.1 73,63.9 75,57.5 77,57 79,61.6 80.9,62.7 82.9,64.4 84.9,67.7 86.9,68.2 88.9,68.8 90.9,70.1 92.8,72.4 94.8,70.9 96.8,76.2 98.8,74.2 100.8,74.7 102.8,74.4 104.7,81.4 106.7,76.4 108.7,81.4 110.7,83.4 112.7,81.1 114.7,82.4 116.6,83.1 118.6,88.6 120.6,88.6 122.6,86.8 124.6,83.9 126.6,84.1 128.5,82.8 130.5,81 132.5,82.6 134.5,84.1 136.5,78 138.5,80.4 140.4,76.8 142.4,76.8 144.4,72.9 146.4,75.3 148.4,74.3 150.4,73.8 152.4,75 154.3,74.5 156.3,77.1 158.3,77.5 160.3,78.7 162.3,76.6 164.3,77 166.2,81 168.2,81.7 170.2,81.6 172.2,83.7 174.2,79.4 176.2,78.1 178.1,75.8 180.1,78.2 182.1,79.4 184.1,76.5 186.1,80.6 188.1,79.3 190,79 192,80.3 194,79.8 196,82.6 198,81.5 200,84.5 201.9,87.2 203.9,82.3 205.9,83.8 207.9,89 209.9,85 211.9,86.3 213.8,95.1 215.8,93.3 217.8,88.9 219.8,86.7 221.8,80.9 223.8,80.9 225.7,79 227.7,81.7 229.7,80.8 231.7,76.3 233.7,75.1 235.7,75.4 237.6,80.6 239.6,80.8 241.6,81.6 243.6,79.4" stroke="rgb(178,178,178)"/>
<polyline points="37.3,79.4 39.3,73.7 41.3,72.3 43.3,70.3 45.2,67.9 47.2,75.1 49.2,74.6 51.2,73.1 53.2,77.3 55.2,72 57.1,75 59.1,68.4 61.1,67.4 63.1,66 65.1,66.8 67.1,65.4 69,70.1 71,73.6 73,80 75,78.3 77,80.5 79,78.2 80.9,76.6 82.9,80.9 84.9,78.6 86.9,78 88.9,77.6 90.9,76.4 92.8,76.9 94.8,77.1 96.8,74.3 98.8,77.8 100.8,81.5 102.8,83.5 104.7,80 106.7,80.9 108.7,75.1 110.7,84.6 112.7,86.1 114.7,86.6 116.6,84.9 118.6,80.4 120.6,80.8 122.6,83.6 124.6,80.6 126.6,76 128.5,83.8 130.5,81.6 132.5,80.5 134.5,82.8 136.5,83.8 138.5,82.4 140.4,82 142.4,82.4 144.4,85.4 146.4,83.9 148.4,85.3 150.4,84.3 152.4,85.4 154.3,84.1 156.3,81.4 158.3,80.5 160.3,78.4 162.3,82.6 164.3,80.9 166.2,79.8 168.2,81.6 170.2,81.8 172.2,89.7 174.2,88.2 176.2,88.4 178.1,93.9 180.1,90.7 182.1,91.2 184.1,89 186.1,88.6 188.1,86.1 190,85 192,85.2 194,83.1 196,80.2 198,86.7 200,85.8 201.9,86.8 203.9,89.1 205.9,84.2 207.9,80.8 209.9,83.7 211.9,86.4 213.8,83.2 215.8,84.6 217.8,84.9 219.8,90 221.8,89.2 223.8,84.7 225.7,85.4 227.7,85.1 229.7,79.3 231.7,76.8 233.7,73 235.7,72.5 237.6,71.6 239.6,77 241.6,79 243.6,79.4" stroke="rgb(178,178,178)"/>
<polyline points="37.3,79.4 39.3,81.4 41.3,88.8 43.3,96.5 45.2,94.2 47.2,89 49.2,85.7 51.2,84.3 53.2,84.7 55.2,81.4 57.1,82.6 59.1,82 61.1,75.1 63.1,81.2 65.1,83.2 67.1,83.5 69,90.8 71,94.2 73,87.7 75,84.3 77,84.1 79,77.8 80.9,81.9 82.9,73.4 84.9,74.1 86.9,77.1 88.9,72.6 90.9,71 92.8,70.9 94.8,72.2 96.8,80.5 98.8,88.8 100.8,87.5 102.8,82.3 104.7,85.1 106.7,83.8 108.7,89.6 110.7,94.5 112.7,92.7 114.7,88 116.6,83.7 118.6,78 120.6,81.3 122.6,81.6 124.6,77.9 126.6,82.2 128.5,83 130.5,82.4 132.5,82 134.5,77.8 136.5,76.1 138.5,78.2 140.4,87.9 142.4,83.4 144.4,78.6 146.4,76.5 148.4,75.2 150.4,73.7 152.4,69.2 154.3,72.4 156.3,73.4 158.3,78.1 160.3,79.1 162.3,82.4 164.3,85.4 166.2,92.8 168.2,91.5 170.2,85.7 172.2,97.4 174.2,89.8 176.2,88.6 178.1,90.3 180.1,87.6 182.1,87.6 184.1,86.9 186.1,80 188.1,79.1 190,77.6 192,78.8 194,79.6 196,83.3 198,83.3 200,86 201.9,80.4 203.9,81.2 205.9,77.8 207.9,72.6 209.9,69.1 211.9,73.1 213.8,66.9 215.8,76.2 217.8,70.6 219.8,82.2 221.8,85.6 223.8,85.1 225.7,87.4 227.7,95.2 229.7,99.6 231.7,96.1 233.7,101.2 235.7,94.7 237.6,87 239.6,81.2 241.6,80 243.6,79.4" stroke="rgb(178,178,178)"/>
<polyline points="37.3,79.4 39.3,81 41.3,80.2 43.3,78.7 45.2,81.7 47.2,75 49.2,74.2 51.2,78.5 53.2,79.3 55.2,77.1 57.1,77 59.1,75.2 61.1,69.5 63.1,68.4 65.1,64.5 67.1,64.7 69,68.5 71,65.9 73,69.7 75,68.5 77,68.2 79,72.1 80.9,75 82.9,76.2 84.9,75.7 86.9,72.8 88.9,73.5 90.9,69.3 92.8,68.3 94.8,71.5 96.8,74.3 98.8,74.8 100.8,77 102.8,77.6 104.7,75.9 106.7,75.7 108.7,73.7 110.7,76.4 112.7,79.2 114.7,83.1 116.6,87.6 118.6,88 120.6,86.9 122.6,86.6 124.6,85.9 126.6,79.6 128.5,82.7 130.5,83.1 132.5,84.1 134.5,86.1 136.5,81.7 138.5,81.6 140.4,78 142.4,81.4 144.4,76.1 146.4,70.5 148.4,74 150.4,74.7 152.4,75.7 154.3,74.7 156.3,78.9 158.3,77.8 160.3,76.1 162.3,78.2 164.3,84.5 166.2,85.8 168.2,86.2 170.2,83.4 172.2,84.6 174.2,87.2 176.2,84.6 178.1,83.1 180.1,80.7 182.1,80.5 184.1,77.6 186.1,76.4 188.1,81.7 190,80.9 192,78.7 194,78.8 196,74.9 198,76.8 200,75.2 201.9,79.1 203.9,79.2 205.9,80.8 207.9,83.4 209.9,86.5 211.9,85.1 213.8,83.3 215.8,84.6 217.8,87.4 219.8,88.8 221.8,85.7 223.8,88.2 225.7,84.1 227.7,88.1 229.7,86.4 231.7,83.8 233.7,80 235.7,81 237.6,82.2 239.6,83.7 241.6,80.9 243.6,79.4" stroke="rgb(178,178,178)"/>
<polyline points="37.3,79.4 39.3,77.9 41.3,75.2 43.3,72.9 45.2,72.1 47.2,72.4 49.2,75.7 51.2,77.6 53.2,75.9 55.2,76.1 57.1,71.5 59.1,73.5 61.1,80.8 63.1,81.6 65.1,80.7 67.1,79.6 69,79.4 71,81.7 73,77.5 75,79.6 77,77.7 79,78.8 80.9,82.2 82.9,78.1 84.9,85.1 86.9,86.8 88.9,84.8 90.9,85.2 92.8,82.6 94.8,82.5 96.8,83.4 98.8,77.2 100.8,78.1 102.8,78.7 104.7,81.8 106.7,83.6 108.7,81.4 110.7,79.7 112.7,79.7 114.7,81.6 116.6,79.6 118.6,84.2 120.6,84.6 122.6,84.7 124.6,86.5 126.6,85.2 128.5,86.4 130.5,87.8 132.5,81.9 134.5,79.7 136.5,76.4 138.5,76.7 140.4,74.4 142.4,73 144.4,70.5 146.4,65.2 148.4,67.5 150.4,68.3 152.4,69.8 154.3,80.5 156.3,84.2 158.3,83.6 160.3,81.4 162.3,82.7 164.3,79.3 166.2,75.8 168.2,77.4 170.2,73.8 172.2,69.7 174.2,69.6 176.2,73.5 178.1,70.2 180.1,71.8 182.1,73.7 184.1,74.1 186.1,76.2 188.1,73.7 190,72.3 192,69.8 194,69.4 196,72.8 198,74 200,72.3 201.9,74.2 203.9,66.9 205.9,69.1 207.9,71.9 209.9,69.7 211.9,68.8 213.8,70.2 215.8,71.9 217.8,71.6 219.8,70.3 221.8,69.3 223.8,71.4 225.7,71.2 227.7,69.9 229.7,68.9 231.7,78.6 233.7,81.1 235.7,82.7 237.6,82.3 239.6,81.1 241.6,79.4 243.6,79.4" stroke="rgb(177,177,177)"/>
<polyline points="37.3,79.4 39.3,80.3 41.3,84 43.3,83.2 45.2,83.3 47.2,81.6 49.2,84.3 51.2,85.6 53.2,87.8 55.2,89.4 57.1,87.7 59.1,89 61.1,86.8 63.1,84.9 65.1,78.2 67.1,82.5 69,79.5 71,79.8 73,79.8 75,84 77,84.8 79,82 80.9,81.9 82.9,81.4 84.9,82 86.9,78.3 88.9,78.5 90.9,85.1 92.8,86.4 94.8,91.4 96.8,99.6 98.8,98.7 100.8,92.5 102.8,90.8 104.7,92.9 106.7,94 108.7,88.9 110.7,87.3 112.7,86.2 114.7,85.6 116.6,84.7 118.6,81.7 120.6,79.8 122.6,79.1 124.6,82.2 126.6,80.4 128.5,82.3 130.5,78.7 132.5,82.5 134.5,82.6 136.5,82.2 138.5,85.8 140.4,79.9 142.4,75.6 144.4,77.4 146.4,75.3 148.4,74.7 150.4,83 152.4,81.8 154.3,81.7 156.3,81.2 158.3,84.2 160.3,84.4 162.3,84.3 164.3,80.2 166.2,79.1 168.2,79.2 170.2,74.7 172.2,76.9 174.2,78.3 176.2,83.8 178.1,78.7 180.1,75.9 182.1,73.6 184.1,72.3 186.1,72.9 188.1,73 190,74.5 192,75.7 194,76 196,71.9 198,71.2 200,72.3 201.9,74.9 203.9,77.3 205.9,72.8 207.9,72.1 209.9,72.8 211.9,74.6 213.8,78.5 215.8,78.8 217.8,76.3 219.8,77.8 221.8,78.7 223.8,79.4 225.7,79.1 227.7,83.8 229.7,84 231.7,86 233.7,82.6 235.7,84.1 237.6,81.5 239.6,78.1 241.6,79 243.6,79.4" stroke="rgb(177,177,177)"/>
<polyline points="37.3,79.4 39.3,77.8 41.3,77.2 43.3,77 45.2,72.4 47.2,72.6 49.2,71.3 51.2,68.5 53.2,75.4 55.2,77.8 57.1,78.7 59.1,78.5 61.1,82 63.1,79.3 65.1,76.7 67.1,75.6 69,74.1 71,78 73,74.9 75,77.3 77,83.2 79,82.4 80.9,80.9 82.9,82.8 84.9,87.3 86.9,89.7 88.9,89 90.9,95.3 92.8,90.5 94.8,86.3 96.8,86.1 98.8,82.2 100.8,82.4 102.8,85.5 104.7,82.9 106.7,80.9 108.7,83.5 110.7,87.2 112.7,89.2 114.7,84.7 116.6,85 118.6,76.2 120.6,78.6 122.6,77 124.6,76.4 126.6,77.5 128.5,75.3 130.5,78.4 132.5,78.7 134.5,82.3 136.5,88.4 138.5,87.2 140.4,89.7 142.4,92.3 144.4,89.1 146.4,88.5 148.4,86.3 150.4,80.5 152.4,79.9 154.3,78.6 156.3,82.2 158.3,79.5 160.3,77.1 162.3,80.5 164.3,78.5 166.2,77.7 168.2,78.6 170.2,78.5 172.2,71.6 174.2,74.5 176.2,76.1 178.1,76.3 180.1,77.2 182.1,82.9 184.1,80.6 186.1,77.8 188.1,73 190,75.5 192,79.7 194,77.8 196,81.1 198,80.9 200,82 201.9,81.2 203.9,82.3 205.9,80 207.9,82.7 209.9,75.3 211.9,73.6 213.8,76.2 215.8,79.4 217.8,80 219.8,81.4 221.8,83.6 223.8,79.1 225.7,76.3 227.7,79.9 229.7,78.3 231.7,78.4 233.7,76.3 235.7,78.7 237.6,74.1 239.6,75.6 241.6,74.8 243.6,79.4" stroke="rgb(177,177,177)"/>
<polyline points="37.3,79.4 39.3,77 41.3,77.1 43.3,76.1 45.2,77.8 47.2,75 49.2,76.5 51.2,77.2 53.2,79.9 55.2,80.8 57.1,83 59.1,83.7 61.1,87.5 63.1,86.5 65.1,81.4 67.1,85.6 69,80.6 71,80.7 73,78.4 75,80.9 77,75.7 79,78.8 80.9,79 82.9,75.2 84.9,78.8 86.9,84.5 88.9,84 90.9,85.3 92.8,86.9 94.8,88.2 96.8,90.7 98.8,85.9 100.8,82.1 102.8,85 104.7,84.6 106.7,85 108.7,81.6 110.7,83.4 112.7,78.9 114.7,78.9 116.6,80.9 118.6,80.9 120.6,82.1 122.6,76.2 124.6,76.2 126.6,77.7 128.5,77.7 130.5,74.2 132.5,77.2 134.5,81.5 136.5,78 138.5,76.7 140.4,78.1 142.4,78.4 144.4,75.8 146.4,82.9 148.4,79.3 150.4,79.7 152.4,78 154.3,78.3 156.3,70.8 158.3,73.3 160.3,71.3 162.3,78.7 164.3,78.7 166.2,76.8 168.2,80.9 170.2,85.7 172.2,84.7 174.2,81.5 176.2,78.3 178.1,80.1 180.1,79.2 182.1,82.7 184.1,78 186.1,79.5 188.1,76.3 190,77.4 192,78.4 194,74.5 196,77.2 198,74.3 200,75.8 201.9,78.4 203.9,80.6 205.9,77.6 207.9,78 209.9,79.1 211.9,82.8 213.8,79.5 215.8,76.9 217.8,76.4 219.8,74.8 221.8,83.4 223.8,84.2 225.7,83.2 227.7,82.5 229.7,83.6 231.7,82.5 233.7,83.9 235.7,84.6 237.6,85.6 239.6,83.5 241.6,82.5 243.6,79.4" stroke="rgb(177,177,177)"/>
<polyline points="37.3,79.4 39.3,81.7 41.3,83 43.3,79.8 45.2,82.1 47.2,76 49.2,77.3 51.2,79.9 53.2,77.4 55.2,75.9 57.1,82.7 59.1,81.3 61.1,85.3 63.1,87.1 65.1,83.3 67.1,85.5 69,83.3 71,83.9 73,76.6 75,77.1 77,81 79,84.3 80.9,86.5 82.9,85 84.9,84.1 86.9,80 88.9,79.2 90.9,78.5 92.8,77.3 94.8,77.8 96.8,76.8 98.8,74.2 100.8,72 102.8,74.5 104.7,80.8 106.7,83.1 108.7,81.5 110.7,89.3 112.7,89.5 114.7,86.6 116.6,87.4 118.6,90 120.6,82.6 122.6,77.4 124.6,78.3 126.6,73.8 128.5,69.9 130.5,74.7 132.5,66.1 134.5,70.6 136.5,72.3 138.5,76.6 140.4,76.5 142.4,81.1 144.4,80.7 146.4,76.7 148.4,76.2 150.4,77.2 152.4,72.2 154.3,75.8 156.3,72.9 158.3,74.5 160.3,74.2 162.3,74.5 164.3,74.5 166.2,75.1 168.2,78 170.2,79.9 172.2,78.2 174.2,78.6 176.2,82.4 178.1,84.2 180.1,85.8 182.1,85.1 184.1,83.6 186.1,82.7 188.1,84.3 190,83.5 192,87.4 194,96 196,94 198,97.7 200,98.5 201.9,100.1 203.9,95.4 205.9,97.4 207.9,94.2 209.9,93.9 211.9,96.2 213.8,99.3 215.8,95.3 217.8,92 219.8,87.8 221.8,80.6 223.8,79.5 225.7,78.4 227.7,78.9 229.7,78.5 231.7,79.7 233.7,82.6 235.7,75.8 237.6,81.5 239.6,80.3 241.6,79.3 243.6,79.4" stroke="rgb(177,177,177)"/>
<polyline points="37.3,79.4 39.3,81.4 41.3,81.9 43.3,83.5 45.2,82 47.2,86.4 49.2,85.7 51.2,83.6 53.2,82.1 55.2,78.2 57.1,82.3 59.1,87 61.1,85.3 63.1,83.1 65.1,75.6 67.1,74 69,77.6 71,75.1 73,78.4 75,83.5 77,74.4 79,73.9 80.9,72.2 82.9,71.2 84.9,66.2 86.9,66.8 88.9,64.3 90.9,69.5 92.8,75.3 94.8,71.1 96.8,67.2 98.8,67 100.8,67.7 102.8,68.6 104.7,72.2 106.7,68 108.7,67.2 110.7,67 112.7,67.2 114.7,65.2 116.6,65.2 118.6,64.5 120.6,70.1 122.6,69.6 124.6,63.5 126.6,67.1 128.5,69 130.5,67.3 132.5,65.6 134.5,65.2 136.5,72.3 138.5,71.5 140.4,76.3 142.4,79.4 144.4,77.6 146.4,78.8 148.4,76.2 150.4,66.2 152.4,65.2 154.3,64.5 156.3,69.3 158.3,72.6 160.3,76.9 162.3,79 164.3,82.6 166.2,84.4 168.2,84.5 170.2,87.2 172.2,90.9 174.2,94.1 176.2,90.8 178.1,89.2 180.1,84.7 182.1,80.6 184.1,81.6 186.1,79.1 188.1,83.9 190,75.8 192,72.3 194,73.9 196,78.4 198,77.2 200,83.7 201.9,85.7 203.9,82.5 205.9,81.9 207.9,83.2 209.9,79.6 211.9,83 213.8,81.6 215.8,83 217.8,85.4 219.8,83.1 221.8,86 223.8,78.9 225.7,80.9 227.7,74.1 229.7,78.4 231.7,76.5 233.7,80.8 235.7,84.7 237.6,82.9 239.6,80.4 241.6,81.7 243.6,79.4" stroke="rgb(177,177,177)"/>
<polyline points="37.3,79.4 39.3,76.9 41.3,73.5 43.3,75.8 45.2,73.8 47.2,75.4 49.2,72 51.2,68.2 53.2,68.5 55.2,67.3 57.1,68.8 59.1,71.3 61.1,76.3 63.1,75.5 65.1,76.2 67.1,77.9 69,78.4 71,79.1 73,82.7 75,84.1 77,79.6 79,80.4 80.9,75.5 82.9,79.9 84.9,84.5 86.9,83.4 88.9,80.3 90.9,82.4 92.8,79.9 94.8,76.7 96.8,73.4 98.8,74.5 100.8,75.2 102.8,81.4 104.7,81 106.7,79.9 108.7,75 110.7,79.9 112.7,82.7 114.7,85.7 116.6,81.9 118.6,90.2 120.6,92.6 122.6,84 124.6,81.2 126.6,85.5 128.5,85 130.5,81.4 132.5,79.3 134.5,80.1 136.5,82.7 138.5,79.5 140.4,79.5 142.4,76.7 144.4,75.7 146.4,77.7 148.4,73 150.4,75.5 152.4,74.5 154.3,77.2 156.3,78.3 158.3,79.3 160.3,81.5 162.3,80.5 164.3,75.9 166.2,70 168.2,66.2 170.2,68.4 172.2,64.8 174.2,65.1 176.2,60.7 178.1,67.2 180.1,63.7 182.1,67.6 184.1,65.1 186.1,68.4 188.1,66.6 190,69.1 192,76.7 194,80.3 196,81 198,80.7 200,88.2 201.9,91.2 203.9,92.2 205.9,91.4 207.9,89.2 209.9,90.8 211.9,94.6 213.8,91.8 215.8,91.4 217.8,86.9 219.8,87.8 221.8,84.6 223.8,87 225.7,85.2 227.7,84.2 229.7,82.1 231.7,84.9 233.7,84.7 235.7,86.4 237.6,85 239.6,82 241.6,76.8 243.6,79.4" stroke="rgb(177,177,177)"/>
<polyline points="37.3,79.4 39.3,76.2 41.3,69.2 43.3,67.3 45.2,70.2 47.2,69.2 49.2,67.3 51.2,65.9 53.2,73.4 55.2,73.3 57.1,80.5 59.1,74.3 61.1,74.6 63.1,76.4 65.1,74.6 67.1,73.5 69,77.7 71,72.8 73,74.1 75,80.1 77,75.5 79,71.1 80.9,68.1 82.9,67.6 84.9,71.6 86.9,69.5 88.9,64.8 90.9,63.9 92.8,60.6 94.8,65.1 96.8,63.5 98.8,62.4 100.8,68.9 102.8,75 104.7,77.6 106.7,77.4 108.7,76.1 110.7,77 112.7,77.4 114.7,77.8 116.6,77.6 118.6,75.8 120.6,74.5 122.6,75.1 124.6,74.7 126.6,76.5 128.5,74.2 130.5,76.2 132.5,71.3 134.5,72.2 136.5,72.1 138.5,75.1 140.4,76.6 142.4,76.2 144.4,76.4 146.4,78.5 148.4,82.1 150.4,81.4 152.4,80.6 154.3,78.5 156.3,74.6 158.3,76 160.3,82.4 162.3,82.3 164.3,87.5 166.2,90.4 168.2,85.7 170.2,83 172.2,84.4 174.2,85.6 176.2,85 178.1,89.6 180.1,86.7 182.1,86.8 184.1,80 186.1,83 188.1,79.3 190,81.3 192,77.7 194,80.8 196,78.2 198,79.5 200,81.9 201.9,81.9 203.9,79.9 205.9,78.4 207.9,73.5 209.9,71.4 211.9,80.4 213.8,81.4 215.8,87.2 217.8,87.3 219.8,84.2 221.8,87.6 223.8,90.1 225.7,88.2 227.7,87.9 229.7,81.8 231.7,80.3 233.7,78.3 235.7,73.3 237.6,76 239.6,76.9 241.6,79.1 243.6,79.4" stroke="rgb(176,176,176)"/>
<polyline points="37.3,79.4 39.3,79.7 41.3,80.3 43.3,82.4 45.2,77.6 47.2,82.8 49.2,80.9 51.2,82.2 53.2,78.2 55.2,75.8 57.1,75.9 59.1,80.4 61.1,77.9 63.1,75.2 65.1,73.7 67.1,75.1 69,73.7 71,76.4 73,76 75,75.2 77,76.2 79,79.3 80.9,79.8 82.9,82.1 84.9,85 86.9,81.3 88.9,81.4 90.9,82.5 92.8,83.4 94.8,81.6 96.8,82.2 98.8,83.7 100.8,82.3 102.8,81.5 104.7,83.7 106.7,86.1 108.7,81.5 110.7,81.9 112.7,78.1 114.7,76.5 116.6,77 118.6,77.8 120.6,73.3 122.6,75.8 124.6,77.2 126.6,79.7 128.5,80 130.5,82.5 132.5,81.7 134.5,84.8 136.5,82.6 138.5,81.2 140.4,80.3 142.4,81.8 144.4,77.8 146.4,72.3 148.4,73.4 150.4,76.2 152.4,74.7 154.3,75.8 156.3,75.7 158.3,74.2 160.3,78.6 162.3,76.6 164.3,79.8 166.2,83.2 168.2,83.7 170.2,79 172.2,80.8 174.2,79.2 176.2,81.8 178.1,79.6 180.1,78.6 182.1,75.4 184.1,75.3 186.1,75.7 188.1,81.3 190,80.1 192,77.7 194,77.3 196,77 198,75.6 200,73.5 201.9,76.7 203.9,77.2 205.9,76.1 207.9,75.7 209.9,78.8 211.9,84.4 213.8,82.8 215.8,80.3 217.8,75.4 219.8,74.6 221.8,77.6 223.8,76.5 225.7,77.1 227.7,79.2 229.7,83.2 231.7,87.8 233.7,88.7 235.7,88 237.6,85.6 239.6,83.6 241.6,81.6 243.6,79.4" stroke="rgb(176,176,176)"/>
<polyline points="37.3,79.4 39.3,77.7 41.3,79.4 43.3,82 45.2,82.3 47.2,81.9 49.2,81.7 51.2,80.3 53.2,81.9 55.2,86.5 57.1,84.7 59.1,84.5 61.1,81.9 63.1,76.7 65.1,76.8 67.1,75.7 69,78.2 71,76.1 73,75.7 75,75.5 77,73.7 79,77 80.9,75.9 82.9,75.2 84.9,71.9 86.9,77 88.9,77.5 90.9,72.5 92.8,74.2 94.8,75.8 96.8,72 98.8,67 100.8,68.1 102.8,71.1 104.7,73.5 106.7,75 108.7,77.5 110.7,79.6 112.7,79.1 114.7,79 116.6,77.9 118.6,77.9 120.6,80.9 122.6,78.9 124.6,78.4 126.6,79.8 128.5,80.4 130.5,79.4 132.5,79.2 134.5,79.5 136.5,77.6 138.5,75.3 140.4,76.5 142.4,76.8 144.4,79.7 146.4,80 148.4,78.8 150.4,76.8 152.4,76.6 154.3,77.1 156.3,79 158.3,78.5 160.3,81.2 162.3,80.6 164.3,80.4 166.2,82.3 168.2,81.2 170.2,81.4 172.2,79.7 174.2,80.8 176.2,79.4 178.1,75.7 180.1,75.7 182.1,74.2 184.1,76.3 186.1,77.5 188.1,82.1 190,82.1 192,84.4 194,83.5 196,87.8 198,88.7 200,87.4 201.9,85.5 203.9,88.6 205.9,88.4 207.9,81.3 209.9,79.2 211.9,78.8 213.8,85.3 215.8,86.7 217.8,84.6 219.8,83.3 221.8,81.8 223.8,79.2 225.7,79 227.7,77 229.7,81.4 231.7,75.3 233.7,76.5 235.7,78.4 237.6,75.9 239.6,76.1 241.6,76.5 243.6,79.4" stroke="rgb(176,176,176)"/>
<polyline points="37.3,79.4 39.3,84.8 41.3,91.9 43.3,92.8 45.2,95.9 47.2,93.5 49.2,86.3 51.2,92.4 53.2,90.1 55.2,89.1 57.1,95.6 59.1,91 61.1,89.5 63.1,90.4 65.1,92 67.1,77.4 69,79.3 71,86.6 73,89.5 75,89.8 77,90.1 79,89.1 80.9,92.2 82.9,88.5 84.9,89.4 86.9,93.7 88.9,95.3 90.9,94.9 92.8,89.6 94.8,86.4 96.8,87 98.8,86 100.8,84.3 102.8,75.4 104.7,78.4 106.7,76.6 108.7,74 110.7,78.5 112.7,77.9 114.7,77.4 116.6,79.5 118.6,77.2 120.6,73.3 122.6,69.4 124.6,71.4 126.6,71.6 128.5,63 130.5,69.4 132.5,69.7 134.5,67.3 136.5,68.1 138.5,66.8 140.4,67.6 142.4,66 144.4,62.4 146.4,65.3 148.4,66.2 150.4,68 152.4,71 154.3,72.1 156.3,77.6 158.3,74.8 160.3,68.4 162.3,62.8 164.3,59.6 166.2,65.9 168.2,61.3 170.2,66.4 172.2,68.2 174.2,62 176.2,68.5 178.1,66.4 180.1,66.8 182.1,68.9 184.1,73.7 186.1,72.7 188.1,75.4 190,71.6 192,67.6 194,74.6 196,77.2 198,78.8 200,83.7 201.9,87.7 203.9,86.3 205.9,86.4 207.9,92.2 209.9,92.9 211.9,89.2 213.8,92.9 215.8,95 217.8,86.7 219.8,80.5 221.8,86.9 223.8,91.5 225.7,88.5 227.7,92.3 229.7,91.8 231.7,92.1 233.7,88.3 235.7,96.2 237.6,98.8 239.6,95.8 241.6,87.3 243.6,79.4" stroke="rgb(176,176,176)"/>
<polyline points="37.3,79.4 39.3,76.3 41.3,70.6 43.3,68.8 45.2,64.7 47.2,59.8 49.2,62.4 51.2,63.7 53.2,62.3 55.2,64.9 57.1,69.2 59.1,74 61.1,75 63.1,78.6 65.1,75.7 67.1,77.9 69,72.2 71,68.3 73,75.3 75,71.5 77,74.6 79,69.6 80.9,69 82.9,70.8 84.9,69.3 86.9,73.2 88.9,72.9 90.9,72.4 92.8,74.2 94.8,73.5 96.8,78.8 98.8,76.9 100.8,82.7 102.8,79.9 104.7,78.2 106.7,75.6 108.7,78.8 110.7,66.2 112.7,69.1 114.7,70 116.6,74.6 118.6,69.4 120.6,72.9 122.6,69.7 124.6,75.2 126.6,74.7 128.5,77.1 130.5,73.7 132.5,75.9 134.5,80.2 136.5,78.5 138.5,83.9 140.4,87.7 142.4,83.7 144.4,91.4 146.4,87 148.4,88 150.4,91.1 152.4,88.9 154.3,85.3 156.3,87.3 158.3,87.3 160.3,83.2 162.3,79.8 164.3,80.1 166.2,83.5 168.2,87.3 170.2,89 172.2,85.2 174.2,82.3 176.2,80.8 178.1,74.9 180.1,76.9 182.1,79 184.1,80.9 186.1,72.8 188.1,82.4 190,81 192,79.1 194,79 196,69.4 198,65.8 200,64.3 201.9,70 203.9,69.2 205.9,72.1 207.9,72.9 209.9,73 211.9,75.9 213.8,73.8 215.8,67.7 217.8,64.8 219.8,65.8 221.8,75.7 223.8,71.6 225.7,68.1 227.7,70.4 229.7,73.6 231.7,71.6 233.7,76 235.7,73.6 237.6,78.7 239.6,81.3 241.6,80.5 243.6,79.4" stroke="rgb(176,176,176)"/>
<polyline points="37.3,79.4 39.3,75 41.3,72.3 43.3,71.7 45.2,75.9 47.2,78.9 49.2,83 51.2,81.8 53.2,78.9 55.2,75.7 57.1,78.5 59.1,77.8 61.1,76.2 63.1,78.3 65.1,78.9 67.1,72.1 69,72.3 71,70.3 73,72.8 75,73.5 77,79.7 79,79.7 80.9,75.9 82.9,69.5 84.9,66.9 86.9,66.2 88.9,67.6 90.9,70.9 92.8,72.5 94.8,71.3 96.8,74.8 98.8,72.4 100.8,76.4 102.8,82.5 104.7,85.3 106.7,90 108.7,93.1 110.7,87.8 112.7,87.5 114.7,85.8 116.6,81.3 118.6,77 120.6,78.9 122.6,74.7 124.6,74 126.6,74.7 128.5,73.8 130.5,79.1 132.5,81.6 134.5,81.7 136.5,79.5 138.5,80.7 140.4,80.9 142.4,77.6 144.4,73.3 146.4,71.6 148.4,68.4 150.4,71 152.4,73 154.3,72.8 156.3,74.5 158.3,76.8 160.3,71.8 162.3,73.3 164.3,77.2 166.2,75.9 168.2,70.4 170.2,71.2 172.2,68.2 174.2,71 176.2,73.6 178.1,76.5 180.1,77.3 182.1,71.6 184.1,76.3 186.1,71.4 188.1,75.6 190,76.8 192,74.4 194,73 196,72.9 198,79 200,77.8 201.9,81.3 203.9,72.8 205.9,74.3 207.9,74.3 209.9,78.6 211.9,80.2 213.8,84.3 215.8,80.5 217.8,81.3 219.8,79.2 221.8,81.4 223.8,82.8 225.7,78.3 227.7,81.5 229.7,87.1 231.7,84.8 233.7,87.8 235.7,87.6 237.6,83.2 239.6,83.6 241.6,80.7 243.6,79.4" stroke="rgb(175,175,175)"/>
<polyline points="37.3,79.4 39.3,83.8 41.3,86.2 43.3,85.2 45.2,84.5 47.2,87 49.2,82.5 51.2,79.5 53.2,81 55.2,78.6 57.1,80.7 59.1,77.5 61.1,78.3 63.1,80.6 65.1,81.4 67.1,83.2 69,82.3 71,81.5 73,81.1 75,82.4 77,91.7 79,90 80.9,93.8 82.9,91.4 84.9,87 86.9,85.3 88.9,85.6 90.9,85.4 92.8,85 94.8,85.8 96.8,86.6 98.8,88.2 100.8,84 102.8,83.5 104.7,80.4 106.7,81 108.7,80.6 110.7,80.9 112.7,79.5 114.7,77.3 116.6,76.9 118.6,79 120.6,81.1 122.6,76.5 124.6,77.6 126.6,78.6 128.5,74.8 130.5,72.5 132.5,71.9 134.5,73.8 136.5,68.3 138.5,68.6 140.4,68.4 142.4,70.2 144.4,75 146.4,79.1 148.4,78.1 150.4,77.2 152.4,78.1 154.3,81.3 156.3,84.9 158.3,85.1 160.3,88.3 162.3,84.9 164.3,81.2 166.2,73.4 168.2,71.8 170.2,74.3 172.2,77.2 174.2,86.6 176.2,87.4 178.1,86.9 180.1,83.4 182.1,81.3 184.1,79.5 186.1,78.9 188.1,77.2 190,73.7 192,77.2 194,78.7 196,82.4 198,77.8 200,74.5 201.9,73.1 203.9,77 205.9,76.9 207.9,77.8 209.9,77.8 211.9,78.5 213.8,77.2 215.8,78.5 217.8,76.4 219.8,76.1 221.8,77.3 223.8,77.8 225.7,79.2 227.7,77 229.7,78 231.7,77.4 233.7,78.7 235.7,82.5 237.6,79.8 239.6,81.4 241.6,79.8 243.6,79.4" stroke="rgb(174,174,174)"/>
<polyline points="37.3,79.4 39.3,81.8 41.3,82.9 43.3,85.3 45.2,90.5 47.2,87.4 49.2,91.3 51.2,94 53.2,93.5 55.2,94.4 57.1,91.9 59.1,87.2 61.1,85.6 63.1,84.4 65.1,83.9 67.1,80.7 69,86.9 71,85 73,87.7 75,91 77,89.8 79,90.1 80.9,87 82.9,82.6 84.9,90.2 86.9,89.4 88.9,81.8 90.9,78.8 92.8,74.2 94.8,74.7 96.8,80.3 98.8,84.2 100.8,81.4 102.8,78.1 104.7,80.9 106.7,81.8 108.7,80.9 110.7,86.8 112.7,87.3 114.7,81.1 116.6,73.7 118.6,75 120.6,69.5 122.6,72.7 124.6,76.4 126.6,84.5 128.5,80.9 130.5,82.2 132.5,74.1 134.5,73.8 136.5,74.1 138.5,81 140.4,75.9 142.4,77.8 144.4,78.7 146.4,86.4 148.4,82.7 150.4,79.1 152.4,81.4 154.3,81 156.3,79.7 158.3,76.6 160.3,76.8 162.3,71.5 164.3,73.5 166.2,76.4 168.2,78.5 170.2,87.4 172.2,89.3 174.2,84.9 176.2,83.6 178.1,86 180.1,84.2 182.1,90.6 184.1,90.4 186.1,87.5 188.1,84.4 190,86.6 192,82.8 194,76.3 196,78.3 198,76.1 200,81.9 201.9,88.4 203.9,85.5 205.9,84.8 207.9,83.6 209.9,85.3 211.9,85.7 213.8,82.4 215.8,76.4 217.8,77.7 219.8,83.6 221.8,79 223.8,77.2 225.7,75.3 227.7,75.4 229.7,68.2 231.7,69.5 233.7,69.1 235.7,77 237.6,79.2 239.6,80.8 241.6,80.3 243.6,79.4" stroke="rgb(174,174,174)"/>
<polyline points="37.3,79.4 39.3,79.5 41.3,80.3 43.3,85 45.2,87.5 47.2,86.6 49.2,83.1 51.2,79.7 53.2,79.9 55.2,80.4 57.1,82.7 59.1,81.2 61.1,81.7 63.1,79.6 65.1,74.4 67.1,75.1 69,80 71,82.5 73,86.4 75,89.1 77,84.1 79,82.9 80.9,86.9 82.9,84.1 84.9,79.8 86.9,80.8 88.9,82.6 90.9,83.2 92.8,82 94.8,79.8 96.8,76.2 98.8,73.1 100.8,70.3 102.8,67.4 104.7,66.9 106.7,72.9 108.7,74.1 110.7,73.8 112.7,75.6 114.7,73.4 116.6,75.2 118.6,78.4 120.6,74.3 122.6,72.9 124.6,73.1 126.6,71.1 128.5,69 130.5,69.2 132.5,77.7 134.5,79.9 136.5,81.1 138.5,83.8 140.4,82.7 142.4,78.8 144.4,80.3 146.4,83.5 148.4,77.1 150.4,78.7 152.4,82.4 154.3,81.3 156.3,79.9 158.3,81.9 160.3,79.2 162.3,80.7 164.3,83.3 166.2,82.3 168.2,79.7 170.2,81.5 172.2,80.3 174.2,80.4 176.2,72 178.1,75 180.1,71.4 182.1,72.6 184.1,73.7 186.1,72.3 188.1,70.5 190,67.9 192,68.3 194,71.4 196,73.9 198,73.1 200,72.1 201.9,68.9 203.9,68.9 205.9,67.1 207.9,64.1 209.9,65.4 211.9,71.5 213.8,75.9 215.8,80.5 217.8,75.7 219.8,78.7 221.8,75.1 223.8,73.9 225.7,69.5 227.7,67.8 229.7,69.5 231.7,71.2 233.7,72 235.7,72.9 237.6,75.8 239.6,77 241.6,76.1 243.6,79.4" stroke="rgb(174,174,174)"/>
<polyline points="37.3,79.4 39.3,79.9 41.3,74.9 43.3,71.4 45.2,73.7 47.2,75.9 49.2,76.5 51.2,77.2 53.2,80.7 55.2,80.9 57.1,84.7 59.1,85.7 61.1,80.3 63.1,80.4 65.1,81.3 67.1,77 69,76.4 71,75.2 73,77.2 75,74.6 77,76 79,74.2 80.9,73.1 82.9,69.4 84.9,68 86.9,69.4 88.9,73.4 90.9,74.9 92.8,77.3 94.8,73.5 96.8,75.4 98.8,81.9 100.8,80.6 102.8,78.3 104.7,80.9 106.7,78.8 108.7,82.4 110.7,81.4 112.7,81.6 114.7,80.5 116.6,79.3 118.6,81.1 120.6,78.8 122.6,80.2 124.6,79.8 126.6,76 128.5,78.9 130.5,78.7 132.5,74.6 134.5,71.9 136.5,74.6 138.5,76.8 140.4,75.7 142.4,77.9 144.4,77.9 146.4,81.7 148.4,79.7 150.4,83.9 152.4,83.1 154.3,80.8 156.3,82.4 158.3,86.2 160.3,88.7 162.3,92.7 164.3,86.4 166.2,90.6 168.2,92.7 170.2,90.3 172.2,88.8 174.2,85 176.2,80.9 178.1,79.5 180.1,79.7 182.1,81.2 184.1,81.5 186.1,78.7 188.1,77.2 190,75.8 192,80.7 194,82.6 196,84 198,84.9 200,87.1 201.9,84.4 203.9,81 205.9,76 207.9,77.8 209.9,78.3 211.9,78.2 213.8,78.4 215.8,80.7 217.8,78.5 219.8,83.9 221.8,84.7 223.8,89.1 225.7,86.3 227.7,89.2 229.7,91.1 231.7,89.7 233.7,91.3 235.7,88.5 237.6,86.9 239.6,81.4 241.6,81.9 243.6,79.4" stroke="rgb(173,173,173)"/>
<polyline points="37.3,79.4 39.3,79.8 41.3,82.1 43.3,85.2 45.2,82.9 47.2,80.2 49.2,82.8 51.2,86.6 53.2,82.2 55.2,86.7 57.1,85.5 59.1,87.4 61.1,91.9 63.1,90.2 65.1,89.6 67.1,84.2 69,76.9 71,78 73,75.2 75,72.7 77,75.3 79,78.6 80.9,74 82.9,75.9 84.9,76.6 86.9,78 88.9,78.7 90.9,80.8 92.8,78.5 94.8,75 96.8,76.8 98.8,81.5 100.8,81.2 102.8,85.7 104.7,87 106.7,82.6 108.7,75.3 110.7,74.9 112.7,78.8 114.7,76.7 116.6,84 118.6,85.7 120.6,80.5 122.6,78.3 124.6,82.8 126.6,87.6 128.5,84.2 130.5,83.9 132.5,85.3 134.5,83.5 136.5,85 138.5,90.3 140.4,86.7 142.4,87.9 144.4,90.1 146.4,93 148.4,90.8 150.4,92.1 152.4,88.8 154.3,88.7 156.3,84.5 158.3,85.2 160.3,86.6 162.3,91.9 164.3,93.9 166.2,90.1 168.2,79.8 170.2,83.7 172.2,86.5 174.2,84.8 176.2,82.9 178.1,84.7 180.1,84 182.1,88.4 184.1,88.4 186.1,84.8 188.1,79.4 190,80 192,80.9 194,79.5 196,76.3 198,75.4 200,78.3 201.9,77.5 203.9,75 205.9,77.9 207.9,82.2 209.9,80.5 211.9,79.4 213.8,76.7 215.8,76.9 217.8,79.3 219.8,80.8 221.8,83.9 223.8,86.4 225.7,87.4 227.7,88.1 229.7,83.8 231.7,87.2 233.7,86.5 235.7,87 237.6,81.7 239.6,80.6 241.6,80.6 243.6,79.4" stroke="rgb(173,173,173)"/>
<polyline points="37.3,79.4 39.3,81.4 41.3,83.2 43.3,83 45.2,83.7 47.2,78.8 49.2,81.6 51.2,82.9 53.2,78.7 55.2,76.6 57.1,77 59.1,78 61.1,81.5 63.1,81.9 65.1,80.7 67.1,77.3 69,75.1 71,71.8 73,71.7 75,74.5 77,75.9 79,72.3 80.9,72.9 82.9,69.9 84.9,75.2 86.9,77 88.9,79.3 90.9,78.6 92.8,80.8 94.8,84.1 96.8,83.7 98.8,89.2 100.8,89.5 102.8,87.2 104.7,89.2 106.7,88.2 108.7,89.4 110.7,89.1 112.7,87.3 114.7,85.1 116.6,83.2 118.6,84.7 120.6,80.1 122.6,79.1 124.6,80.8 126.6,77.1 128.5,78.4 130.5,73.3 132.5,71.8 134.5,72.9 136.5,74.9 138.5,77.6 140.4,79.9 142.4,80.5 144.4,76.8 146.4,76.6 148.4,77.1 150.4,76.2 152.4,77.3 154.3,80.9 156.3,84.6 158.3,80.1 160.3,80.7 162.3,76.2 164.3,71.5 166.2,71.6 168.2,70.5 170.2,72.4 172.2,73.5 174.2,73.9 176.2,74.5 178.1,71 180.1,72.2 182.1,70.6 184.1,71.3 186.1,70.5 188.1,66.6 190,72.2 192,69.8 194,72.6 196,72.8 198,74.4 200,76.2 201.9,80.1 203.9,87.1 205.9,80.4 207.9,77.8 209.9,78.6 211.9,83.6 213.8,81.2 215.8,76.7 217.8,75.7 219.8,80.7 221.8,81.9 223.8,80.8 225.7,80.7 227.7,77.5 229.7,80.2 231.7,81.8 233.7,88.1 235.7,83.6 237.6,81.1 239.6,81.3 241.6,82.4 243.6,79.4" stroke="rgb(173,173,173)"/>
<polyline points="37.3,79.4 39.3,78.6 41.3,78.7 43.3,79.9 45.2,81.8 47.2,79 49.2,80 51.2,83.2 53.2,84.8 55.2,83.7 57.1,75.9 59.1,75.2 61.1,70.5 63.1,69.7 65.1,77.6 67.1,76.2 69,79.1 71,83.3 73,86 75,79.1 77,84 79,85.1 80.9,80.4 82.9,77.8 84.9,83.3 86.9,82.9 88.9,83.8 90.9,83.6 92.8,80.4 94.8,81.8 96.8,82.3 98.8,76.8 100.8,82.9 102.8,83.4 104.7,81.1 106.7,84.7 108.7,85.8 110.7,89 112.7,87.1 114.7,87.9 116.6,84 118.6,79.8 120.6,79.3 122.6,80.3 124.6,79 126.6,78.6 128.5,82.4 130.5,78.2 132.5,77.3 134.5,74.7 136.5,79.4 138.5,76.2 140.4,69.4 142.4,68.3 144.4,74.1 146.4,74.3 148.4,74.8 150.4,74.4 152.4,75.4 154.3,74 156.3,75.9 158.3,75.3 160.3,77.7 162.3,77.3 164.3,74 166.2,76 168.2,73.9 170.2,77.2 172.2,78.4 174.2,79 176.2,74.7 178.1,77.5 180.1,73.4 182.1,78.7 184.1,79 186.1,75.7 188.1,73.6 190,77.3 192,81.3 194,77.9 196,82 198,79.5 200,80.9 201.9,80.5 203.9,72.5 205.9,67.9 207.9,66.2 209.9,72.1 211.9,71.6 213.8,72.1 215.8,73 217.8,69.1 219.8,75.7 221.8,74.9 223.8,74.7 225.7,77.5 227.7,71.8 229.7,76.6 231.7,76.5 233.7,76.4 235.7,83.4 237.6,85.8 239.6,85.6 241.6,81.8 243.6,79.4" stroke="rgb(172,172,172)"/>
<polyline points="37.3,79.4 39.3,84.3 41.3,84.5 43.3,86.2 45.2,78.6 47.2,77.4 49.2,78.3 51.2,79.6 53.2,76.4 55.2,74.7 57.1,78.9 59.1,78.4 61.1,82.9 63.1,85 65.1,88.6 67.1,91.9 69,92.7 71,94.4 73,91 75,87.2 77,87.2 79,90 80.9,86.3 82.9,92 84.9,96.8 86.9,92.5 88.9,89 90.9,84.9 92.8,85.1 94.8,88.5 96.8,89.2 98.8,86.4 100.8,88.1 102.8,89.4 104.7,92.8 106.7,95 108.7,90.6 110.7,88 112.7,90.8 114.7,93 116.6,93.3 118.6,90 120.6,92.6 122.6,91.7 124.6,97.2 126.6,99.2 128.5,95.6 130.5,91 132.5,93.4 134.5,94.3 136.5,90.1 138.5,90.2 140.4,90.8 142.4,87.9 144.4,86.4 146.4,82.2 148.4,79.5 150.4,81.4 152.4,81.7 154.3,81.7 156.3,85.9 158.3,88.4 160.3,84.3 162.3,88.9 164.3,84.8 166.2,83.3 168.2,83.5 170.2,81.4 172.2,79.8 174.2,76 176.2,77.8 178.1,78.9 180.1,79.9 182.1,74 184.1,71.7 186.1,75.7 188.1,77.4 190,80 192,80 194,79.4 196,72.2 198,79 200,75.9 201.9,75.1 203.9,78 205.9,78.7 207.9,80.5 209.9,80.4 211.9,77.2 213.8,82.4 215.8,78 217.8,79.5 219.8,74.8 221.8,74.2 223.8,71 225.7,70.3 227.7,68.1 229.7,69.4 231.7,73.3 233.7,72.1 235.7,71.4 237.6,68.4 239.6,75.8 241.6,77.6 243.6,79.4" stroke="rgb(172,172,172)"/>
<polyline points="37.3,79.4 39.3,77.7 41.3,78.5 43.3,81.8 45.2,86.2 47.2,87.2 49.2,87.7 51.2,90.5 53.2,84.4 55.2,83.6 57.1,85.8 59.1,80.1 61.1,77.2 63.1,79.7 65.1,82.8 67.1,82.9 69,79.9 71,84.2 73,79.8 75,80.8 77,77.8 79,78.3 80.9,76.7 82.9,74.8 84.9,71 86.9,74.1 88.9,68.5 90.9,73.7 92.8,73.2 94.8,71.6 96.8,72.3 98.8,70.1 100.8,76.2 102.8,76.6 104.7,73.5 106.7,74 108.7,78 110.7,77.5 112.7,76.9 114.7,80.2 116.6,75.6 118.6,77.6 120.6,80.9 122.6,80.2 124.6,82 126.6,82.1 128.5,80.8 130.5,81.8 132.5,79.4 134.5,78.2 136.5,74.3 138.5,77.9 140.4,77.7 142.4,76.8 144.4,76 146.4,82.9 148.4,85.7 150.4,83.7 152.4,81.1 154.3,80.6 156.3,79.7 158.3,75.5 160.3,76.9 162.3,79.4 164.3,74.4 166.2,72.8 168.2,73.9 170.2,76.6 172.2,71.6 174.2,73.2 176.2,76.3 178.1,72.4 180.1,77.7 182.1,78.2 184.1,76.1 186.1,77.2 188.1,78.9 190,77.3 192,81.2 194,81.4 196,78.7 198,82 200,77.1 201.9,77.8 203.9,78 205.9,79.5 207.9,77.4 209.9,78.9 211.9,78 213.8,73.9 215.8,70.4 217.8,76.1 219.8,71.9 221.8,74.2 223.8,73.6 225.7,73.8 227.7,73.3 229.7,75.7 231.7,74.1 233.7,71.3 235.7,74.3 237.6,75.5 239.6,75 241.6,75.3 243.6,79.4" stroke="rgb(172,172,172)"/>
<polyline points="37.3,79.4 39.3,81.7 41.3,86.3 43.3,85.3 45.2,83.1 47.2,83.1 49.2,86.5 51.2,85.6 53.2,86.4 55.2,84 57.1,83.7 59.1,81.1 61.1,82.1 63.1,77.8 65.1,84.4 67.1,86.6 69,84.4 71,88 73,84.9 75,87.6 77,86.4 79,88.1 80.9,88.2 82.9,86.7 84.9,86.1 86.9,86.4 88.9,79.6 90.9,79.5 92.8,82.2 94.8,79.3 96.8,77 98.8,73.9 100.8,69.6 102.8,73.4 104.7,71.2 106.7,69 108.7,70.3 110.7,70.7 112.7,80 114.7,81.6 116.6,76.3 118.6,81.7 120.6,82.9 122.6,81.7 124.6,79.8 126.6,75.2 128.5,80.6 130.5,80.3 132.5,77.9 134.5,81.7 136.5,81.5 138.5,76 140.4,72.8 142.4,72.1 144.4,80.2 146.4,80.5 148.4,79.3 150.4,80.1 152.4,80.2 154.3,71.6 156.3,73.1 158.3,76.6 160.3,76.2 162.3,77.5 164.3,78.6 166.2,78.9 168.2,76.8 170.2,76.5 172.2,80.2 174.2,80.4 176.2,79 178.1,80.3 180.1,77 182.1,75.2 184.1,78.4 186.1,77.7 188.1,72.4 190,68.9 192,70.3 194,68.9 196,72 198,76.9 200,75.7 201.9,75.5 203.9,74.5 205.9,75.2 207.9,74.8 209.9,76.7 211.9,75.8 213.8,73.9 215.8,74.7 217.8,73 219.8,78.7 221.8,80.9 223.8,76.8 225.7,72.2 227.7,72.4 229.7,73.5 231.7,77.7 233.7,76.9 235.7,75.4 237.6,79.6 239.6,78.6 241.6,78.4 243.6,79.4" stroke="rgb(172,172,172)"/>
<polyline points="37.3,79.4 39.3,85.5 41.3,89.3 43.3,87.4 45.2,87.5 47.2,84.9 49.2,81.6 51.2,83.9 53.2,84.4 55.2,85.3 57.1,83.3 59.1,81.3 61.1,82.4 63.1,80.8 65.1,85.2 67.1,83.7 69,82.4 71,82.2 73,85.6 75,85.2 77,87.3 79,82.8 80.9,83.2 82.9,83.4 84.9,83.3 86.9,81.6 88.9,81.2 90.9,79.7 92.8,82.1 94.8,79.1 96.8,80.5 98.8,78.6 100.8,78.2 102.8,75.7 104.7,76.5 106.7,80.6 108.7,83.5 110.7,83.6 112.7,79.8 114.7,80.9 116.6,80.7 118.6,77.5 120.6,79.2 122.6,78.6 124.6,78.1 126.6,79.8 128.5,79.3 130.5,76.8 132.5,74.6 134.5,76.1 136.5,69.3 138.5,69.7 140.4,71.7 142.4,74.5 144.4,77.7 146.4,75.9 148.4,83.7 150.4,83.7 152.4,86.7 154.3,86.3 156.3,85.7 158.3,88.3 160.3,89.8 162.3,85.5 164.3,86.3 166.2,85.5 168.2,85.7 170.2,83 172.2,79.6 174.2,77.4 176.2,76.3 178.1,75.4 180.1,78.9 182.1,75.8 184.1,77.8 186.1,80.3 188.1,81.2 190,83.1 192,81.7 194,79.7 196,76.6 198,77.3 200,79.1 201.9,80 203.9,82.9 205.9,84.5 207.9,78.9 209.9,81 211.9,82.1 213.8,80.3 215.8,79.6 217.8,77.8 219.8,80.3 221.8,82.9 223.8,79.3 225.7,81.1 227.7,81.3 229.7,80.6 231.7,85.2 233.7,85.1 235.7,85.6 237.6,83.1 239.6,82.5 241.6,83.5 243.6,79.4" stroke="rgb(172,172,172)"/>
<polyline points="37.3,79.4 39.3,81 41.3,80.4 43.3,78.6 45.2,72.7 47.2,75.4 49.2,69.6 51.2,80.1 53.2,77 55.2,79.9 57.1,73.5 59.1,77 61.1,74 63.1,77.8 65.1,81.5 67.1,78.8 69,76.1 71,78.7 73,71.2 75,73.2 77,69.1 79,73.5 80.9,77.3 82.9,77.2 84.9,80.7 86.9,79.1 88.9,85.9 90.9,84.6 92.8,85.7 94.8,88 96.8,86.3 98.8,86.2 100.8,86.8 102.8,83.4 104.7,82 106.7,80.5 108.7,76.2 110.7,76.8 112.7,74.5 114.7,76.4 116.6,74.9 118.6,73.8 120.6,76.2 122.6,81.3 124.6,85.1 126.6,87.4 128.5,84.7 130.5,84.5 132.5,84.8 134.5,82.7 136.5,80 138.5,75.6 140.4,77.9 142.4,76.4 144.4,74.5 146.4,78.1 148.4,77.9 150.4,80.9 152.4,81.5 154.3,79.9 156.3,85.2 158.3,87.2 160.3,88.8 162.3,87.4 164.3,88.8 166.2,86.5 168.2,88.3 170.2,88.9 172.2,85.9 174.2,84.1 176.2,83.1 178.1,82.8 180.1,79.2 182.1,74.9 184.1,76.6 186.1,79.3 188.1,82.5 190,76.7 192,79.9 194,84 196,82.6 198,78.9 200,82.9 201.9,82.8 203.9,86.9 205.9,88.2 207.9,82.1 209.9,81.2 211.9,81.8 213.8,81.3 215.8,80.2 217.8,80.4 219.8,84.1 221.8,87.2 223.8,80 225.7,82.3 227.7,78.2 229.7,80.6 231.7,76.4 233.7,74.6 235.7,76.1 237.6,72 239.6,76.1 241.6,77.8 243.6,79.4" stroke="rgb(171,171,171)"/>
<polyline points="37.3,79.4 39.3,85.3 41.3,88.6 43.3,91 45.2,95.2 47.2,93.2 49.2,95.2 51.2,96.8 53.2,92.1 55.2,92.5 57.1,91.1 59.1,87.9 61.1,84.6 63.1,84.9 65.1,84.1 67.1,85.9 69,80.1 71,78.2 73,81.5 75,81.2 77,79 79,77.6 80.9,72.6 82.9,69.5 84.9,72.2 86.9,73.3 88.9,77.7 90.9,77.2 92.8,77.1 94.8,69.6 96.8,70.5 98.8,77.6 100.8,79.7 102.8,79.3 104.7,82.9 106.7,85 108.7,85.4 110.7,83.7 112.7,83.6 114.7,85.7 116.6,82.7 118.6,83.8 120.6,84.7 122.6,88 124.6,89.3 126.6,86.2 128.5,90 130.5,89 132.5,85.7 134.5,86.1 136.5,84.6 138.5,87.2 140.4,82.5 142.4,79 144.4,78.3 146.4,83.5 148.4,86 150.4,82.4 152.4,77.1 154.3,76.6 156.3,73.3 158.3,75.8 160.3,76.8 162.3,77.1 164.3,76.1 166.2,80.9 168.2,78 170.2,74.4 172.2,78.3 174.2,82.3 176.2,81 178.1,82.7 180.1,89.1 182.1,85.6 184.1,84.4 186.1,85.2 188.1,78.4 190,78.1 192,80.4 194,80 196,82.9 198,84.7 200,82.9 201.9,84.1 203.9,84.8 205.9,79.4 207.9,76.9 209.9,74.9 211.9,74 213.8,73.2 215.8,69.8 217.8,71 219.8,66.7 221.8,70.9 223.8,72.7 225.7,77.4 227.7,78.7 229.7,77.3 231.7,73.4 233.7,76 235.7,76.6 237.6,78.1 239.6,79.8 241.6,81 243.6,79.4" stroke="rgb(171,171,171)"/>
<polyline points="37.3,79.4 39.3,83.5 41.3,84.3 43.3,83.4 45.2,84.7 47.2,84.5 49.2,82.6 51.2,85.2 53.2,81 55.2,73.7 57.1,73.1 59.1,75.4 61.1,75.1 63.1,71.5 65.1,68.1 67.1,74 69,73.4 71,76.6 73,78.4 75,77.5 77,75.8 79,77.2 80.9,80.3 82.9,80.8 84.9,84.1 86.9,77.5 88.9,83 90.9,80.5 92.8,79.9 94.8,79.8 96.8,83.3 98.8,84.4 100.8,84.9 102.8,86.1 104.7,86 106.7,84.8 108.7,85.7 110.7,83.4 112.7,80.4 114.7,82.1 116.6,79.2 118.6,79 120.6,81 122.6,79.2 124.6,75.4 126.6,76.9 128.5,83.4 130.5,80.3 132.5,76.8 134.5,80.9 136.5,81.2 138.5,79.4 140.4,87.4 142.4,83.8 144.4,80.8 146.4,77.9 148.4,73 150.4,77.4 152.4,74.4 154.3,67.3 156.3,76.5 158.3,78.1 160.3,75.9 162.3,78.8 164.3,85.2 166.2,83.5 168.2,82.4 170.2,84.6 172.2,83.2 174.2,79.7 176.2,76.3 178.1,75.3 180.1,80.1 182.1,81.1 184.1,88.8 186.1,91.4 188.1,89.5 190,86.5 192,85.8 194,85.2 196,91.3 198,94.3 200,96.6 201.9,96.6 203.9,96.7 205.9,87.3 207.9,83 209.9,86.2 211.9,87.8 213.8,88.8 215.8,89.8 217.8,90.5 219.8,96.3 221.8,90.4 223.8,86.9 225.7,84 227.7,83.2 229.7,81.3 231.7,82.5 233.7,89 235.7,87 237.6,85.1 239.6,86.2 241.6,86.5 243.6,79.4" stroke="rgb(171,171,171)"/>
<polyline points="37.3,79.4 39.3,77.9 41.3,79.5 43.3,79.3 45.2,76.5 47.2,81.9 49.2,84 51.2,84.7 53.2,84.9 55.2,85.9 57.1,84.2 59.1,80.4 61.1,79.1 63.1,75.9 65.1,72.9 67.1,75.6 69,75.1 71,76.8 73,75 75,76.6 77,77.5 79,72.3 80.9,73.7 82.9,79.3 84.9,78.9 86.9,78 88.9,79.8 90.9,79.5 92.8,76.2 94.8,78.2 96.8,78.9 98.8,81.2 100.8,79.9 102.8,80.2 104.7,83 106.7,83 108.7,76.7 110.7,82.5 112.7,86.5 114.7,84.5 116.6,88.3 118.6,81 120.6,85.5 122.6,88.9 124.6,89.3 126.6,84.7 128.5,81.4 130.5,79.3 132.5,78.4 134.5,74.3 136.5,80.7 138.5,79.6 140.4,75 142.4,78.9 144.4,77.9 146.4,74.1 148.4,70.7 150.4,72.1 152.4,67 154.3,66.9 156.3,64.9 158.3,70 160.3,73.5 162.3,76.6 164.3,71.3 166.2,79.6 168.2,85.4 170.2,82.1 172.2,81.2 174.2,90.4 176.2,90.3 178.1,89.9 180.1,84.8 182.1,90.1 184.1,90.5 186.1,85.7 188.1,82.5 190,85 192,85.2 194,89.1 196,83.6 198,84.4 200,79.7 201.9,77.1 203.9,80.1 205.9,80.4 207.9,78.2 209.9,76.9 211.9,72.3 213.8,69.5 215.8,69.6 217.8,68.5 219.8,72 221.8,74.7 223.8,73.3 225.7,72.9 227.7,77.1 229.7,77.6 231.7,80.2 233.7,81.8 235.7,77.5 237.6,80.3 239.6,81.2 241.6,79.7 243.6,79.4" stroke="rgb(170,170,170)"/>
<polyline points="37.3,79.4 39.3,80.4 41.3,77.2 43.3,77.7 45.2,78.1 47.2,81.2 49.2,79 51.2,83.3 53.2,84.6 55.2,82.4 57.1,83.8 59.1,82.1 61.1,75.5 63.1,79.3 65.1,74.6 67.1,77.5 69,80.9 71,79.9 73,76.4 75,79.2 77,81.7 79,82.9 80.9,84.9 82.9,83.6 84.9,85.6 86.9,85.7 88.9,83.7 90.9,84.6 92.8,80.1 94.8,82.3 96.8,84.6 98.8,77 100.8,72.2 102.8,72.8 104.7,70.7 106.7,70.6 108.7,73.4 110.7,71.8 112.7,71.7 114.7,68.2 116.6,75.9 118.6,73.5 120.6,73.7 122.6,76.7 124.6,78.5 126.6,80 128.5,84.4 130.5,85.8 132.5,82.3 134.5,87.2 136.5,87.5 138.5,94.6 140.4,94.7 142.4,91.6 144.4,90.3 146.4,88.8 148.4,91.5 150.4,88.1 152.4,90.1 154.3,85.8 156.3,84.3 158.3,85 160.3,79.3 162.3,80.6 164.3,77 166.2,76.9 168.2,77.2 170.2,74.1 172.2,73.2 174.2,74 176.2,75 178.1,74.8 180.1,75.1 182.1,76.7 184.1,80.6 186.1,89.3 188.1,88.5 190,88.2 192,83 194,81 196,76.9 198,71.3 200,72.6 201.9,76.3 203.9,73.9 205.9,76.6 207.9,77.8 209.9,73.1 211.9,71.9 213.8,69.1 215.8,74.9 217.8,75.3 219.8,72 221.8,77.3 223.8,76.8 225.7,75.8 227.7,84 229.7,78 231.7,80.6 233.7,80.9 235.7,75.3 237.6,81.1 239.6,79.6 241.6,80.1 243.6,79.4" stroke="rgb(170,170,170)"/>
<polyline points="37.3,79.4 39.3,78.8 41.3,76.7 43.3,74.7 45.2,74.7 47.2,76.6 49.2,77 51.2,80.4 53.2,79.3 55.2,81.6 57.1,82.5 59.1,81.3 61.1,83.2 63.1,86.1 65.1,82.8 67.1,86.5 69,88.7 71,90.4 73,90.9 75,89.8 77,96.3 79,95.5 80.9,90.2 82.9,86 84.9,83.1 86.9,82.8 88.9,81.9 90.9,82.9 92.8,86.6 94.8,84.8 96.8,81.6 98.8,80.6 100.8,80.5 102.8,78.3 104.7,77.6 106.7,75.1 108.7,76.7 110.7,81.4 112.7,79.9 114.7,77.7 116.6,79.8 118.6,79.2 120.6,77.5 122.6,84.3 124.6,77.8 126.6,76.1 128.5,77 130.5,80.1 132.5,83.8 134.5,75.2 136.5,76.5 138.5,75.1 140.4,77.3 142.4,78.3 144.4,76.8 146.4,79.4 148.4,79.6 150.4,80.1 152.4,78.9 154.3,76.8 156.3,77.6 158.3,74.4 160.3,76.2 162.3,77.5 164.3,77.5 166.2,78.4 168.2,76.6 170.2,83.9 172.2,87.7 174.2,92 176.2,87.1 178.1,84.1 180.1,85.3 182.1,83.6 184.1,87.4 186.1,87.2 188.1,82.7 190,80.7 192,75.3 194,77 196,74.5 198,74.8 200,74.6 201.9,74.5 203.9,73.2 205.9,70.7 207.9,71.6 209.9,71.6 211.9,72.7 213.8,72.8 215.8,75.6 217.8,73.5 219.8,72.5 221.8,72.5 223.8,73.3 225.7,75.7 227.7,78.4 229.7,81.2 231.7,82.9 233.7,80.2 235.7,79 237.6,81.8 239.6,82.5 241.6,79.9 243.6,79.4" stroke="rgb(170,170,170)"/>
<polyline points="37.3,79.4 39.3,78.3 41.3,74.6 43.3,75.3 45.2,72.8 47.2,72.4 49.2,71.4 51.2,76 53.2,74.7 55.2,74.8 57.1,73.3 59.1,74 61.1,71.6 63.1,71.7 65.1,70.8 67.1,68 69,68.8 71,67.3 73,68.1 75,68 77,70.7 79,69.6 80.9,67.4 82.9,69 84.9,68 86.9,68.1 88.9,72.4 90.9,72.2 92.8,69.4 94.8,71.8 96.8,77.5 98.8,77.1 100.8,79 102.8,73.8 104.7,74.5 106.7,75 108.7,77.2 110.7,76.7 112.7,78.4 114.7,80.9 116.6,80.8 118.6,82.7 120.6,78.7 122.6,81.8 124.6,81.6 126.6,83.1 128.5,86.3 130.5,80.9 132.5,86.2 134.5,81.4 136.5,84.9 138.5,83.9 140.4,77.2 142.4,83.1 144.4,86.2 146.4,81.8 148.4,80.9 150.4,82.1 152.4,81.8 154.3,84 156.3,83 158.3,78.5 160.3,79.5 162.3,79 164.3,75.8 166.2,70.8 168.2,73.3 170.2,73.1 172.2,75.3 174.2,77.4 176.2,78.6 178.1,80.3 180.1,84.7 182.1,89.3 184.1,90 186.1,88.3 188.1,83.9 190,84.6 192,84.4 194,81.9 196,79.5 198,79.7 200,79.7 201.9,74.6 203.9,76 205.9,77.6 207.9,82.1 209.9,80.5 211.9,81 213.8,75.6 215.8,76.8 217.8,74.9 219.8,72.8 221.8,69.1 223.8,73.8 225.7,70.2 227.7,71.1 229.7,72.3 231.7,73.9 233.7,75.5 235.7,77 237.6,82.4 239.6,80.6 241.6,80 243.6,79.4" stroke="rgb(170,170,170)"/>
<polyline points="37.3,79.4 39.3,79.1 41.3,78.7 43.3,75.1 45.2,76.9 47.2,77 49.2,78.6 51.2,75 53.2,80.4 55.2,81.9 57.1,82.9 59.1,80.9 61.1,79.2 63.1,75.7 65.1,80.1 67.1,78.1 69,79 71,80.7 73,79.2 75,81.5 77,86.4 79,86.5 80.9,89.4 82.9,89.8 84.9,87.6 86.9,85.9 88.9,81.1 90.9,81.4 92.8,85 94.8,86.2 96.8,87.7 98.8,89.7 100.8,87.4 102.8,88 104.7,91.9 106.7,88.7 108.7,87.8 110.7,85.9 112.7,84.9 114.7,82.7 116.6,82.2 118.6,78.8 120.6,77.8 122.6,77 124.6,76.3 126.6,80.3 128.5,80.6 130.5,81.1 132.5,80.4 134.5,83.6 136.5,79.1 138.5,78.8 140.4,81.9 142.4,85.9 144.4,85.8 146.4,85.2 148.4,86.3 150.4,85.3 152.4,86.1 154.3,84 156.3,85.2 158.3,84.6 160.3,81.6 162.3,74.9 164.3,78 166.2,79.3 168.2,81.4 170.2,79.2 172.2,82.1 174.2,83 176.2,82.6 178.1,84.6 180.1,86.4 182.1,86.7 184.1,91.1 186.1,93.3 188.1,92.6 190,90.7 192,89.8 194,92.9 196,92.5 198,88.9 200,86.4 201.9,85.7 203.9,87.2 205.9,84.7 207.9,85.5 209.9,87.7 211.9,88.7 213.8,84 215.8,82.9 217.8,79.6 219.8,80.7 221.8,78.2 223.8,79.9 225.7,80.2 227.7,73.9 229.7,72.7 231.7,74.7 233.7,75.5 235.7,75.5 237.6,74.2 239.6,76.5 241.6,79.5 243.6,79.4" stroke="rgb(170,170,170)"/>
<polyline points="37.3,79.4 39.3,79.3 41.3,79.1 43.3,80.1 45.2,77 47.2,79.4 49.2,80.9 51.2,76.7 53.2,69.5 55.2,64 57.1,65.7 59.1,66.6 61.1,63 63.1,65.4 65.1,70.3 67.1,71 69,70.5 71,74.4 73,80.5 75,85.1 77,82.2 79,84.4 80.9,84.3 82.9,83 84.9,80.5 86.9,81.5 88.9,79.6 90.9,82.5 92.8,83.4 94.8,86.3 96.8,81.7 98.8,81.5 100.8,83.7 102.8,84.4 104.7,84.5 106.7,81.6 108.7,86.6 110.7,89.2 112.7,89.3 114.7,79.7 116.6,76.4 118.6,77.2 120.6,75.1 122.6,68.7 124.6,70.8 126.6,73 128.5,69.7 130.5,69.3 132.5,68.2 134.5,71.3 136.5,65.8 138.5,61.7 140.4,62 142.4,61.8 144.4,70.7 146.4,69.6 148.4,71.4 150.4,70.9 152.4,69.7 154.3,72 156.3,78.5 158.3,77.4 160.3,80.1 162.3,81.1 164.3,82.9 166.2,83.6 168.2,90.9 170.2,85.4 172.2,83.8 174.2,79.6 176.2,73 178.1,73.7 180.1,80.4 182.1,83.2 184.1,86.8 186.1,87.6 188.1,86.3 190,92.2 192,89.5 194,93.4 196,90.7 198,89.7 200,89.5 201.9,88.5 203.9,89.2 205.9,90.1 207.9,94.4 209.9,92.7 211.9,85 213.8,77.7 215.8,73.5 217.8,71.8 219.8,75 221.8,70.7 223.8,71.9 225.7,73.1 227.7,74.8 229.7,75 231.7,77 233.7,77.6 235.7,81.3 237.6,81.8 239.6,76.4 241.6,77.7 243.6,79.4" stroke="rgb(169,169,169)"/>
<polyline points="37.3,79.4 39.3,81.4 41.3,79 43.3,79.8 45.2,79.5 47.2,81 49.2,82.5 51.2,82.5 53.2,85.8 55.2,90.2 57.1,85.9 59.1,85.6 61.1,82.5 63.1,82.1 65.1,81.6 67.1,80 69,78.5 71,81.7 73,78.8 75,81.4 77,80.9 79,75 80.9,75.6 82.9,72.4 84.9,74.3 86.9,73.7 88.9,74.5 90.9,74.4 92.8,77.2 94.8,79.8 96.8,79.2 98.8,83.1 100.8,84.9 102.8,83 104.7,84.2 106.7,85.9 108.7,88 110.7,86.8 112.7,87 114.7,86 116.6,85.9 118.6,81 120.6,82.1 122.6,86.5 124.6,85.6 126.6,85.1 128.5,84.3 130.5,87.7 132.5,84.3 134.5,84 136.5,83.8 138.5,87.2 140.4,85.4 142.4,85 144.4,81.5 146.4,82.4 148.4,85.2 150.4,84.4 152.4,86.2 154.3,84.6 156.3,86.7 158.3,86.4 160.3,86.3 162.3,85.8 164.3,86.5 166.2,87.7 168.2,87.1 170.2,87.7 172.2,86.6 174.2,86.6 176.2,91.2 178.1,90.2 180.1,85.9 182.1,84.6 184.1,82.9 186.1,81.6 188.1,82.7 190,85.6 192,83.2 194,80.6 196,79.3 198,78.6 200,78 201.9,78.5 203.9,78.2 205.9,78.5 207.9,78.1 209.9,80.7 211.9,82.2 213.8,80.8 215.8,81.6 217.8,87.2 219.8,86.2 221.8,90.9 223.8,85.3 225.7,83.2 227.7,81.4 229.7,82.9 231.7,85.3 233.7,85.3 235.7,84.4 237.6,84.7 239.6,82.9 241.6,80.9 243.6,79.4" stroke="rgb(169,169,169)"/>
<polyline points="37.3,79.4 39.3,77.1 41.3,77.2 43.3,79.5 45.2,78.6 47.2,79.9 49.2,79.4 51.2,79.7 53.2,77.6 55.2,74.7 57.1,78.1 59.1,82.4 61.1,76.7 63.1,79.4 65.1,84.6 67.1,90.4 69,89.2 71,90.2 73,95.1 75,96.4 77,98 79,92.5 80.9,90.1 82.9,88.9 84.9,92.1 86.9,91.2 88.9,87.6 90.9,86.2 92.8,81.9 94.8,81.3 96.8,78.8 98.8,77.4 100.8,79.6 102.8,75.2 104.7,74.5 106.7,72.4 108.7,76.8 110.7,80.8 112.7,81.3 114.7,83.8 116.6,81.3 118.6,79.7 120.6,75.6 122.6,74.2 124.6,78.6 126.6,75.6 128.5,78.3 130.5,80.9 132.5,80.6 134.5,80.5 136.5,77 138.5,67.8 140.4,67.9 142.4,64.4 144.4,67 146.4,67.4 148.4,70.6 150.4,73.1 152.4,69.5 154.3,69.2 156.3,69 158.3,73 160.3,68.1 162.3,70.1 164.3,73.4 166.2,74.2 168.2,72.7 170.2,71 172.2,67.2 174.2,72.2 176.2,74.6 178.1,70 180.1,63.6 182.1,67.6 184.1,69.4 186.1,75.8 188.1,79 190,82.1 192,82.2 194,85.9 196,82 198,81.9 200,82.5 201.9,79.1 203.9,80.1 205.9,84.2 207.9,83.6 209.9,75.9 211.9,76 213.8,74.7 215.8,76 217.8,77.1 219.8,75.8 221.8,85.1 223.8,88.6 225.7,89.5 227.7,89.3 229.7,83.3 231.7,74.6 233.7,73.1 235.7,73.1 237.6,73 239.6,71.9 241.6,76.4 243.6,79.4" stroke="rgb(169,169,169)"/>
<polyline points="37.3,79.4 39.3,79.9 41.3,79.5 43.3,83.3 45.2,82.8 47.2,81.6 49.2,77 51.2,79.7 53.2,81.6 55.2,83.9 57.1,85.1 59.1,82.7 61.1,84.5 63.1,80.5 65.1,80.3 67.1,82.7 69,84.1 71,87.3 73,90.3 75,86 77,82.9 79,85.2 80.9,85.7 82.9,80.7 84.9,82.6 86.9,81.7 88.9,80.1 90.9,80.6 92.8,81.1 94.8,81.8 96.8,81.3 98.8,85.4 100.8,84.6 102.8,83.6 104.7,86.7 106.7,84.7 108.7,86.7 110.7,92.9 112.7,96.6 114.7,94.4 116.6,91.2 118.6,91 120.6,93.6 122.6,92.4 124.6,88.5 126.6,87.6 128.5,90.7 130.5,88.2 132.5,87.8 134.5,87.3 136.5,86.3 138.5,84.1 140.4,83.9 142.4,86.1 144.4,85.7 146.4,84.7 148.4,81 150.4,84.2 152.4,84.1 154.3,86 156.3,84.6 158.3,85.6 160.3,93.2 162.3,89.1 164.3,89.8 166.2,91.6 168.2,94.4 170.2,95.6 172.2,97.2 174.2,95.6 176.2,93.4 178.1,92 180.1,89.7 182.1,90.8 184.1,87.9 186.1,87.3 188.1,85.3 190,83 192,83.7 194,80 196,77.9 198,79.3 200,74.7 201.9,70.9 203.9,76.1 205.9,82.7 207.9,84.1 209.9,82.4 211.9,79.6 213.8,77.9 215.8,78.2 217.8,75.9 219.8,74.5 221.8,76.3 223.8,76.3 225.7,73.9 227.7,76.4 229.7,78.5 231.7,81 233.7,76.9 235.7,75.8 237.6,75 239.6,77 241.6,78.1 243.6,79.4" stroke="rgb(168,168,168)"/>
<polyline points="37.3,79.4 39.3,80.2 41.3,85.1 43.3,83.2 45.2,87.1 47.2,88.1 49.2,89.5 51.2,85.9 53.2,85.3 55.2,84.6 57.1,89.6 59.1,88.6 61.1,92.5 63.1,89.9 65.1,87.4 67.1,86.5 69,78.8 71,77.1 73,75.4 75,75.4 77,76.5 79,73.6 80.9,70.7 82.9,76.1 84.9,72.9 86.9,72 88.9,69.7 90.9,69.3 92.8,74.7 94.8,79.1 96.8,73.1 98.8,73 100.8,78.5 102.8,77.4 104.7,78.9 106.7,85.1 108.7,92.1 110.7,95.9 112.7,93 114.7,91.5 116.6,90.9 118.6,88.6 120.6,85.5 122.6,91.8 124.6,91.3 126.6,92.6 128.5,95.2 130.5,95.1 132.5,93.6 134.5,92.8 136.5,96.1 138.5,95.7 140.4,87 142.4,89.6 144.4,94 146.4,91.3 148.4,87.9 150.4,85.3 152.4,88.4 154.3,84 156.3,86 158.3,89 160.3,89.9 162.3,89 164.3,85.5 166.2,82.7 168.2,82.3 170.2,78.9 172.2,78.7 174.2,75.8 176.2,80.9 178.1,86 180.1,82.6 182.1,86.8 184.1,87 186.1,86.4 188.1,87.2 190,87.8 192,82.1 194,90.2 196,86 198,77.5 200,77.7 201.9,77.9 203.9,75.7 205.9,70 207.9,75.1 209.9,75.3 211.9,76.4 213.8,74.9 215.8,74.9 217.8,73.3 219.8,75.4 221.8,75.7 223.8,78.4 225.7,80.7 227.7,81.1 229.7,81.3 231.7,85 233.7,79.1 235.7,79.6 237.6,83.1 239.6,79.7 241.6,80.6 243.6,79.4" stroke="rgb(168,168,168)"/>
<polyline points="37.3,79.4 39.3,78.8 41.3,78.9 43.3,76.5 45.2,76.5 47.2,80.6 49.2,79.6 51.2,78 53.2,75.8 55.2,78.6 57.1,80.7 59.1,79.5 61.1,80.6 63.1,80.5 65.1,77.6 67.1,76.5 69,71.5 71,71.5 73,67.5 75,65.7 77,60 79,62.1 80.9,64.2 82.9,62.2 84.9,65.5 86.9,68.3 88.9,68.7 90.9,68.7 92.8,73.8 94.8,73.5 96.8,74.9 98.8,75.3 100.8,75.1 102.8,75.9 104.7,73.1 106.7,72.2 108.7,73.4 110.7,73.6 112.7,71.2 114.7,69.7 116.6,67 118.6,68.6 120.6,69.3 122.6,64.6 124.6,66.2 126.6,62.8 128.5,62.1 130.5,65.1 132.5,70.5 134.5,69.5 136.5,72.4 138.5,75 140.4,80.1 142.4,76.4 144.4,76.2 146.4,76.2 148.4,75.2 150.4,74.7 152.4,74.7 154.3,73.5 156.3,74.7 158.3,82.3 160.3,79.5 162.3,78 164.3,77.8 166.2,73.3 168.2,77.6 170.2,85.7 172.2,80.5 174.2,78.9 176.2,83.3 178.1,83.6 180.1,81.1 182.1,84 184.1,81.6 186.1,75.1 188.1,71.4 190,72.1 192,71.8 194,75.1 196,74.9 198,76.1 200,79 201.9,82.5 203.9,76.4 205.9,76.2 207.9,79.2 209.9,80.1 211.9,75.6 213.8,71.2 215.8,73.6 217.8,73.4 219.8,71.3 221.8,73 223.8,76.8 225.7,79.5 227.7,79.2 229.7,81.1 231.7,84.3 233.7,84 235.7,80.5 237.6,78.5 239.6,79 241.6,76.9 243.6,79.4" stroke="rgb(167,167,167)"/>
<polyline points="37.3,79.4 39.3,79.5 41.3,81.9 43.3,84.4 45.2,85.5 47.2,82.1 49.2,79.9 51.2,78.6 53.2,78.2 55.2,72.1 57.1,75.9 59.1,79.3 61.1,79.4 63.1,78.9 65.1,79.6 67.1,81.7 69,84.9 71,84.9 73,86.1 75,86.6 77,88.5 79,83.9 80.9,82.2 82.9,77.1 84.9,78.7 86.9,78.6 88.9,79.4 90.9,79.3 92.8,80 94.8,80.4 96.8,85.4 98.8,85.4 100.8,82.9 102.8,87.5 104.7,87.4 106.7,85 108.7,81 110.7,81.1 112.7,79.7 114.7,75.1 116.6,72.3 118.6,74.3 120.6,76.5 122.6,74.2 124.6,74.2 126.6,76.3 128.5,77.2 130.5,76.7 132.5,77.5 134.5,78.4 136.5,79.1 138.5,83.1 140.4,78.1 142.4,75.1 144.4,71.7 146.4,73 148.4,73.4 150.4,72.6 152.4,71.3 154.3,77 156.3,76.4 158.3,79.4 160.3,79.6 162.3,81.3 164.3,76.6 166.2,75.6 168.2,76.1 170.2,72.9 172.2,73.8 174.2,76.4 176.2,77.2 178.1,78.4 180.1,78.4 182.1,76.4 184.1,77 186.1,77.5 188.1,75.1 190,74.9 192,73 194,73.4 196,77.5 198,80.6 200,84.8 201.9,81.2 203.9,79.9 205.9,81.1 207.9,83.4 209.9,82 211.9,82 213.8,80.9 215.8,82.9 217.8,85.4 219.8,80.6 221.8,82.9 223.8,82.5 225.7,78.7 227.7,83.5 229.7,81.2 231.7,80.8 233.7,81 235.7,80.1 237.6,82.3 239.6,84.9 241.6,80.6 243.6,79.4" stroke="rgb(167,167,167)"/>
<polyline points="37.3,79.4 39.3,83.4 41.3,84.4 43.3,83.3 45.2,87.4 47.2,89.1 49.2,85.9 51.2,87.6 53.2,88.5 55.2,82.2 57.1,84.7 59.1,86.6 61.1,92.7 63.1,94.4 65.1,96.3 67.1,89 69,84.2 71,87.4 73,80.5 75,78 77,78.7 79,76.3 80.9,75.5 82.9,78.2 84.9,83.7 86.9,85.9 88.9,85.1 90.9,85.4 92.8,86.9 94.8,83 96.8,85.8 98.8,82.3 100.8,83.4 102.8,82.6 104.7,85.5 106.7,84.8 108.7,86.5 110.7,90.9 112.7,89.6 114.7,88.5 116.6,84.8 118.6,83.3 120.6,85.9 122.6,86.9 124.6,93.5 126.6,95.2 128.5,89.4 130.5,83.6 132.5,80.7 134.5,79.6 136.5,77.8 138.5,76.5 140.4,82.1 142.4,84.4 144.4,80.2 146.4,76.5 148.4,76.1 150.4,77.4 152.4,78.8 154.3,80.5 156.3,83.1 158.3,88.5 160.3,86.9 162.3,87.4 164.3,87.1 166.2,80.9 168.2,78.9 170.2,81.1 172.2,79.1 174.2,83.7 176.2,80 178.1,79.1 180.1,79.7 182.1,77.9 184.1,73.7 186.1,75.7 188.1,79.2 190,72.8 192,73.5 194,69.7 196,72.9 198,72.5 200,75.2 201.9,73.8 203.9,75.3 205.9,77.8 207.9,73.3 209.9,73 211.9,79.9 213.8,80.5 215.8,83.2 217.8,86.4 219.8,87.3 221.8,87.8 223.8,86.7 225.7,88.2 227.7,92.8 229.7,92.8 231.7,88.5 233.7,91.6 235.7,87.6 237.6,84.4 239.6,83.6 241.6,81.5 243.6,79.4" stroke="rgb(167,167,167)"/>
<polyline points="37.3,79.4 39.3,76 41.3,71.3 43.3,68.8 45.2,73.5 47.2,75.2 49.2,75.5 51.2,74.2 53.2,71.8 55.2,69.2 57.1,65.9 59.1,70.4 61.1,68.4 63.1,75.1 65.1,75.2 67.1,79 69,84.5 71,81.1 73,81 75,77.7 77,82.8 79,86.2 80.9,85.7 82.9,87 84.9,85.8 86.9,87 88.9,87.1 90.9,89.7 92.8,84.5 94.8,84.9 96.8,87.9 98.8,84.8 100.8,82.6 102.8,81.5 104.7,80.6 106.7,81.7 108.7,81.8 110.7,88.4 112.7,92.1 114.7,94.4 116.6,91.7 118.6,86.4 120.6,86.1 122.6,86.1 124.6,81.8 126.6,82.6 128.5,80.2 130.5,78.8 132.5,83 134.5,81.6 136.5,80.7 138.5,84.1 140.4,86.7 142.4,89.8 144.4,84.3 146.4,77.1 148.4,75.2 150.4,70.8 152.4,76 154.3,72.1 156.3,66.8 158.3,63.3 160.3,68.1 162.3,66.1 164.3,68.1 166.2,66.1 168.2,69.7 170.2,70.8 172.2,73.6 174.2,72.8 176.2,73.9 178.1,71.1 180.1,69.5 182.1,69.4 184.1,70.7 186.1,72.7 188.1,73.5 190,71.8 192,72.3 194,72.3 196,73.2 198,74.2 200,76.9 201.9,83 203.9,80.8 205.9,78.9 207.9,81.9 209.9,75.7 211.9,79.8 213.8,76.6 215.8,76.1 217.8,75.5 219.8,72.4 221.8,70.4 223.8,71.4 225.7,75.6 227.7,79.9 229.7,79.2 231.7,74.3 233.7,72.2 235.7,73.6 237.6,74.3 239.6,74.5 241.6,74.4 243.6,79.4" stroke="rgb(166,166,166)"/>
<polyline points="37.3,79.4 39.3,82.1 41.3,77.8 43.3,77.9 45.2,77.8 47.2,82.5 49.2,82.4 51.2,80.8 53.2,80.9 55.2,78.8 57.1,81.6 59.1,80.3 61.1,77.3 63.1,75.8 65.1,75 67.1,75.9 69,79.5 71,77.8 73,79.3 75,82.4 77,79.5 79,84.8 80.9,86 82.9,82.7 84.9,79.2 86.9,80.5 88.9,80.2 90.9,78.4 92.8,78.7 94.8,81.3 96.8,79.7 98.8,79.2 100.8,78.9 102.8,75.4 104.7,74.9 106.7,76.9 108.7,76.7 110.7,70.8 112.7,74.2 114.7,75.7 116.6,78.7 118.6,77.7 120.6,82 122.6,80.3 124.6,77.7 126.6,80.5 128.5,83.1 130.5,87.5 132.5,86.5 134.5,89.3 136.5,90.1 138.5,90.2 140.4,91.2 142.4,87.1 144.4,81 146.4,87.8 148.4,89.4 150.4,87.4 152.4,89.9 154.3,90.4 156.3,88.4 158.3,82.9 160.3,78.7 162.3,79.7 164.3,79.3 166.2,80.5 168.2,81 170.2,84.6 172.2,89.7 174.2,89.7 176.2,85.3 178.1,82.2 180.1,87.9 182.1,87.5 184.1,88.6 186.1,86.6 188.1,89.3 190,85.2 192,85.2 194,82.6 196,79.4 198,85.7 200,85.7 201.9,80.1 203.9,79.9 205.9,76.5 207.9,75.5 209.9,77.6 211.9,76.9 213.8,73.8 215.8,70.3 217.8,66.7 219.8,71.8 221.8,70.1 223.8,75.7 225.7,76.6 227.7,77.6 229.7,75.8 231.7,75.2 233.7,71.7 235.7,75 237.6,74 239.6,74.9 241.6,76.8 243.6,79.4" stroke="rgb(166,166,166)"/>
<polyline points="37.3,79.4 39.3,82.4 41.3,87 43.3,85 45.2,89.2 47.2,88.1 49.2,86 51.2,88.7 53.2,93.1 55.2,86.5 57.1,87.5 59.1,84.9 61.1,86.7 63.1,84.7 65.1,88.4 67.1,91.8 69,93.7 71,94.1 73,94.4 75,93.7 77,90.6 79,91 80.9,86.6 82.9,87.9 84.9,84.8 86.9,79.9 88.9,74.2 90.9,81.3 92.8,75.5 94.8,81.7 96.8,76.9 98.8,77.3 100.8,76.4 102.8,79.9 104.7,76.8 106.7,74.9 108.7,77.3 110.7,79.5 112.7,76.8 114.7,73.8 116.6,72 118.6,74.1 120.6,74.8 122.6,72.3 124.6,70.4 126.6,67.9 128.5,68.8 130.5,72.4 132.5,72.3 134.5,71.7 136.5,74.4 138.5,73.5 140.4,77 142.4,76.5 144.4,78.8 146.4,72 148.4,69 150.4,69.5 152.4,74.9 154.3,79.5 156.3,77.2 158.3,78 160.3,77.2 162.3,82.6 164.3,87.1 166.2,85.8 168.2,85.8 170.2,89.4 172.2,90.8 174.2,86.9 176.2,87.4 178.1,84.6 180.1,78.6 182.1,77.7 184.1,77.5 186.1,79.7 188.1,75.7 190,80.8 192,84.3 194,83.8 196,88 198,83.8 200,85.4 201.9,82.9 203.9,83.5 205.9,83.9 207.9,83.3 209.9,89.3 211.9,91.6 213.8,91.7 215.8,83.1 217.8,80 219.8,77.6 221.8,81.2 223.8,78.1 225.7,74.2 227.7,72.4 229.7,64.8 231.7,70.9 233.7,75.5 235.7,77 237.6,80.1 239.6,79.8 241.6,79 243.6,79.4" stroke="rgb(166,166,166)"/>
<polyline points="37.3,79.4 39.3,76.6 41.3,76.9 43.3,75 45.2,72.4 47.2,72.6 49.2,74.2 51.2,79.5 53.2,77.6 55.2,76.9 57.1,81.1 59.1,80.7 61.1,78.5 63.1,79 65.1,76.9 67.1,75.1 69,80 71,80.9 73,79.4 75,76.8 77,73.1 79,79.5 80.9,79.8 82.9,77.7 84.9,74.5 86.9,70.2 88.9,74.1 90.9,76 92.8,79.5 94.8,77.2 96.8,81.4 98.8,77.8 100.8,75.4 102.8,74.5 104.7,81.5 106.7,83.3 108.7,80.8 110.7,84.8 112.7,85 114.7,84.7 116.6,81.6 118.6,80.6 120.6,79.7 122.6,81 124.6,80.9 126.6,81.2 128.5,79 130.5,79.6 132.5,76.7 134.5,82.1 136.5,78.3 138.5,79 140.4,75.9 142.4,76.2 144.4,74.1 146.4,70.5 148.4,73.3 150.4,73.9 152.4,75.1 154.3,75.1 156.3,80.5 158.3,80.9 160.3,81.6 162.3,83.7 164.3,83.8 166.2,87.9 168.2,82.9 170.2,81.3 172.2,75.6 174.2,78.7 176.2,82.3 178.1,81.2 180.1,86 182.1,84.6 184.1,86.2 186.1,86.4 188.1,84.9 190,84.2 192,78.3 194,76.7 196,80.9 198,78 200,82.1 201.9,81.7 203.9,85.1 205.9,87 207.9,82.3 209.9,83.7 211.9,85.2 213.8,86.2 215.8,86.4 217.8,81.5 219.8,84.8 221.8,87.9 223.8,85.3 225.7,89.3 227.7,89.3 229.7,84.9 231.7,84.4 233.7,85.3 235.7,86.2 237.6,86.6 239.6,85.5 241.6,82.8 243.6,79.4" stroke="rgb(166,166,166)"/>
<polyline points="37.3,79.4 39.3,76.4 41.3,77.3 43.3,80.7 45.2,87.5 47.2,87.8 49.2,87.8 51.2,86.4 53.2,90.6 55.2,92 57.1,98.2 59.1,95.5 61.1,99 63.1,106.1 65.1,99.1 67.1,95.2 69,92.2 71,89.7 73,92.1 75,87.1 77,89.8 79,82.3 80.9,81.3 82.9,87.4 84.9,83.7 86.9,76.6 88.9,78 90.9,74.7 92.8,76.1 94.8,78.7 96.8,87.7 98.8,82.6 100.8,83.9 102.8,82.2 104.7,85.8 106.7,88.3 108.7,83.6 110.7,84.5 112.7,85.4 114.7,89 116.6,87.3 118.6,83.9 120.6,85 122.6,85.1 124.6,88.7 126.6,82.9 128.5,84.7 130.5,84.8 132.5,78.6 134.5,79.5 136.5,84.9 138.5,87.5 140.4,87.9 142.4,80.9 144.4,80.1 146.4,80.9 148.4,78 150.4,73.9 152.4,77.3 154.3,72.8 156.3,70.8 158.3,70.4 160.3,79.6 162.3,79 164.3,74.5 166.2,76.1 168.2,68.8 170.2,69.9 172.2,74.6 174.2,73.3 176.2,73.1 178.1,71.1 180.1,73 182.1,69.4 184.1,72.6 186.1,73.1 188.1,78.1 190,81.1 192,80.3 194,82.5 196,83.8 198,84 200,82.7 201.9,79.8 203.9,77.2 205.9,74.1 207.9,74.1 209.9,76.7 211.9,82.5 213.8,83.4 215.8,85.7 217.8,91.2 219.8,84.2 221.8,90 223.8,87.6 225.7,84.8 227.7,85 229.7,75.6 231.7,76.1 233.7,79.2 235.7,73.7 237.6,77.4 239.6,81 241.6,81.8 243.6,79.4" stroke="rgb(165,165,165)"/>
<polyline points="37.3,79.4 39.3,80.8 41.3,82.9 43.3,84.6 45.2,85.7 47.2,83.9 49.2,82.4 51.2,84.5 53.2,84.4 55.2,83 57.1,79.4 59.1,78.8 61.1,73.2 63.1,74 65.1,72.5 67.1,74.4 69,77.9 71,77.8 73,76.7 75,76.1 77,76.1 79,77.6 80.9,80.2 82.9,81 84.9,79.5 86.9,76.8 88.9,86.7 90.9,84.1 92.8,80.5 94.8,76.7 96.8,76 98.8,74.5 100.8,76.5 102.8,77.1 104.7,75.9 106.7,79.6 108.7,81.9 110.7,81.1 112.7,84.8 114.7,84.1 116.6,87.9 118.6,86.3 120.6,85.5 122.6,86.4 124.6,88.4 126.6,88.8 128.5,94.2 130.5,93.7 132.5,91.7 134.5,86.8 136.5,87.4 138.5,87 140.4,82.1 142.4,76.8 144.4,78.6 146.4,75.7 148.4,72.8 150.4,72.2 152.4,75.9 154.3,79.1 156.3,77.6 158.3,71.1 160.3,72.6 162.3,69 164.3,64.8 166.2,70.2 168.2,73.1 170.2,69.5 172.2,67.9 174.2,67.8 176.2,69.3 178.1,68.7 180.1,71.9 182.1,65.6 184.1,70.6 186.1,77 188.1,76.9 190,73 192,75.3 194,76 196,79.4 198,79.7 200,82.7 201.9,85.2 203.9,88.9 205.9,89.4 207.9,82.8 209.9,82.7 211.9,81.8 213.8,75 215.8,77.5 217.8,80.7 219.8,79 221.8,82.7 223.8,81.4 225.7,77.9 227.7,81.3 229.7,82.6 231.7,77.3 233.7,80.7 235.7,82.4 237.6,81.1 239.6,81.2 241.6,81.5 243.6,79.4" stroke="rgb(165,165,165)"/>
<polyline points="37.3,79.4 39.3,80.2 41.3,78.4 43.3,81.5 45.2,79.2 47.2,82.5 49.2,84.3 51.2,88.1 53.2,81.9 55.2,81.4 57.1,80.6 59.1,82.1 61.1,79.1 63.1,84.4 65.1,83.7 67.1,77.7 69,78.9 71,78.9 73,77.3 75,79.6 77,79.5 79,77.1 80.9,76.9 82.9,76.3 84.9,77.5 86.9,76.9 88.9,77.1 90.9,73.8 92.8,72.6 94.8,74.1 96.8,80.8 98.8,78.8 100.8,77 102.8,79.6 104.7,84.5 106.7,86.7 108.7,83.6 110.7,85.7 112.7,86.1 114.7,84.7 116.6,81.1 118.6,80.9 120.6,81 122.6,82.2 124.6,77.8 126.6,75.3 128.5,76 130.5,79.9 132.5,81.8 134.5,80.1 136.5,81.8 138.5,79.3 140.4,78.4 142.4,77.8 144.4,76.4 146.4,75.5 148.4,78.1 150.4,79.1 152.4,73.3 154.3,77 156.3,78.5 158.3,75.9 160.3,76.8 162.3,79.1 164.3,82.4 166.2,80.7 168.2,78 170.2,74.7 172.2,75.1 174.2,73.1 176.2,76.4 178.1,76.3 180.1,78.4 182.1,78.1 184.1,76.4 186.1,74.1 188.1,77.2 190,74.3 192,76.1 194,79 196,79.5 198,83.1 200,82.7 201.9,81.5 203.9,81.8 205.9,80.2 207.9,80.9 209.9,80.7 211.9,84.1 213.8,83.4 215.8,85.1 217.8,85.5 219.8,85 221.8,83.9 223.8,87.4 225.7,90.3 227.7,89.8 229.7,87.3 231.7,85.5 233.7,82.5 235.7,79 237.6,78.1 239.6,78.5 241.6,79.9 243.6,79.4" stroke="rgb(165,165,165)"/>
<polyline points="37.3,79.4 39.3,74.6 41.3,71.7 43.3,70.6 45.2,71.5 47.2,72.2 49.2,71.8 51.2,73.7 53.2,82.6 55.2,75.8 57.1,72.5 59.1,73.8 61.1,69.8 63.1,75.3 65.1,71.5 67.1,71.8 69,69.8 71,72.1 73,72.5 75,71.4 77,68.9 79,68.5 80.9,68.3 82.9,71.6 84.9,66.9 86.9,67.7 88.9,69.9 90.9,72.1 92.8,76.9 94.8,79.6 96.8,84.6 98.8,83.3 100.8,83.1 102.8,82 104.7,85.8 106.7,86.4 108.7,87.7 110.7,83.4 112.7,87.8 114.7,91.8 116.6,86.1 118.6,84.1 120.6,88.7 122.6,83.2 124.6,77.8 126.6,74.3 128.5,81.7 130.5,81 132.5,83.7 134.5,84 136.5,88.7 138.5,81.9 140.4,83.8 142.4,82.4 144.4,79.4 146.4,77.4 148.4,76.3 150.4,78 152.4,77.4 154.3,78.4 156.3,86 158.3,81.9 160.3,83.7 162.3,84.9 164.3,85.6 166.2,89.4 168.2,92.2 170.2,96.6 172.2,93 174.2,87.5 176.2,86.3 178.1,89.3 180.1,83.8 182.1,84.3 184.1,89 186.1,94 188.1,91.7 190,85.5 192,86 194,87.3 196,87.3 198,89.2 200,89.8 201.9,87.7 203.9,89.1 205.9,84.9 207.9,87.5 209.9,84.2 211.9,82.5 213.8,83.4 215.8,83.9 217.8,84.5 219.8,78.4 221.8,81.2 223.8,77.1 225.7,74.1 227.7,75.8 229.7,71 231.7,79.8 233.7,79 235.7,78.7 237.6,78.8 239.6,77.3 241.6,78.7 243.6,79.4" stroke="rgb(165,165,165)"/>
<polyline points="37.3,79.4 39.3,82.7 41.3,81.5 43.3,84 45.2,82.6 47.2,83.3 49.2,82.1 51.2,84.1 53.2,84.2 55.2,84 57.1,90 59.1,88.2 61.1,87.6 63.1,93.5 65.1,90.1 67.1,89 69,87.3 71,85.4 73,85.9 75,88.2 77,88.4 79,88.6 80.9,81.4 82.9,76.1 84.9,77.9 86.9,79.3 88.9,78.5 90.9,77.1 92.8,79.4 94.8,82.2 96.8,76.6 98.8,74 100.8,79.1 102.8,84.1 104.7,85.9 106.7,84.6 108.7,82.5 110.7,83.2 112.7,87.3 114.7,85.8 116.6,83.4 118.6,83 120.6,84.1 122.6,82 124.6,81.9 126.6,84.8 128.5,84 130.5,87.1 132.5,83.6 134.5,81.9 136.5,84.4 138.5,83.3 140.4,79.4 142.4,85.5 144.4,85.2 146.4,80 148.4,84.4 150.4,84.3 152.4,87.8 154.3,87.1 156.3,93 158.3,95.9 160.3,95.6 162.3,93.3 164.3,90.7 166.2,88.2 168.2,84 170.2,81.6 172.2,79.4 174.2,82.2 176.2,82.4 178.1,73.2 180.1,67.7 182.1,66.8 184.1,66.4 186.1,65.2 188.1,68.1 190,64.1 192,67.1 194,68.9 196,64.1 198,71.9 200,71.8 201.9,77.7 203.9,79.8 205.9,80.1 207.9,81.1 209.9,80.5 211.9,82.6 213.8,82.6 215.8,85.6 217.8,86.1 219.8,89.3 221.8,86.3 223.8,89.2 225.7,86.2 227.7,86.6 229.7,86.7 231.7,82.6 233.7,82 235.7,86.5 237.6,83.7 239.6,87.4 241.6,83.8 243.6,79.4" stroke="rgb(164,164,164)"/>
<polyline points="37.3,79.4 39.3,79.4 41.3,80.4 43.3,83.5 45.2,83.2 47.2,78.3 49.2,80.1 51.2,82 53.2,80.1 55.2,78.8 57.1,78.6 59.1,81.7 61.1,81.6 63.1,79 65.1,83.5 67.1,84.5 69,90.2 71,93.2 73,97.6 75,96.2 77,98.4 79,95.2 80.9,92.8 82.9,91.8 84.9,98.7 86.9,98.1 88.9,96 90.9,93.7 92.8,97 94.8,96.5 96.8,97.7 98.8,98.2 100.8,92.4 102.8,93.5 104.7,91.9 106.7,87.5 108.7,88.5 110.7,87.7 112.7,86.4 114.7,85.3 116.6,88.7 118.6,87.3 120.6,81.9 122.6,86.7 124.6,83 126.6,82.1 128.5,83.9 130.5,76.8 132.5,74.6 134.5,79.1 136.5,78.9 138.5,77 140.4,78 142.4,75.9 144.4,76.5 146.4,74.6 148.4,70.5 150.4,73.8 152.4,73.8 154.3,76 156.3,76 158.3,80.3 160.3,82.1 162.3,82.4 164.3,79.1 166.2,75.3 168.2,80.2 170.2,82.8 172.2,80.2 174.2,86.7 176.2,87.4 178.1,86.7 180.1,81.7 182.1,79.1 184.1,80.2 186.1,81.4 188.1,82 190,76.6 192,78.4 194,79.5 196,78.3 198,78.8 200,79.6 201.9,83.2 203.9,82.8 205.9,83.9 207.9,79.5 209.9,77.3 211.9,77.6 213.8,75.6 215.8,77.2 217.8,74 219.8,74.7 221.8,73.3 223.8,78.3 225.7,77.3 227.7,83.1 229.7,89.4 231.7,89.2 233.7,91 235.7,88.4 237.6,80.3 239.6,81.7 241.6,81.6 243.6,79.4" stroke="rgb(164,164,164)"/>
<polyline points="37.3,79.4 39.3,76.1 41.3,76.8 43.3,78.9 45.2,80.3 47.2,80.9 49.2,83.6 51.2,85.8 53.2,85.7 55.2,83.2 57.1,83.2 59.1,81.1 61.1,78.6 63.1,76.9 65.1,78.2 67.1,79.3 69,83.8 71,84.9 73,83.1 75,85.3 77,81.3 79,77.7 80.9,78.7 82.9,76.6 84.9,80.3 86.9,82.7 88.9,83.2 90.9,82.8 92.8,82.8 94.8,84.5 96.8,79.1 98.8,78.5 100.8,77.9 102.8,76.5 104.7,76.4 106.7,77.3 108.7,78.9 110.7,82.9 112.7,78.9 114.7,81.1 116.6,84.9 118.6,86.2 120.6,89.2 122.6,83.3 124.6,81.9 126.6,78.2 128.5,74.9 130.5,74.1 132.5,73.4 134.5,75.8 136.5,76.4 138.5,78.2 140.4,78.3 142.4,80.1 144.4,77 146.4,75.4 148.4,76.2 150.4,80.6 152.4,78.8 154.3,76.7 156.3,77.2 158.3,80.5 160.3,79.3 162.3,76.8 164.3,81.7 166.2,80.1 168.2,84.3 170.2,83.6 172.2,78.9 174.2,78.7 176.2,77.7 178.1,78.6 180.1,78.7 182.1,73.2 184.1,70.8 186.1,72.5 188.1,74.3 190,74.9 192,70.2 194,70.8 196,69.1 198,71.2 200,75.3 201.9,72.6 203.9,73.6 205.9,76.2 207.9,78.2 209.9,80 211.9,81.3 213.8,84.8 215.8,81.3 217.8,80.1 219.8,77.7 221.8,78.7 223.8,78 225.7,77.8 227.7,75.2 229.7,73.7 231.7,73.5 233.7,75.8 235.7,79.1 237.6,80.7 239.6,81.2 241.6,81 243.6,79.4" stroke="rgb(164,164,164)"/>
<polyline points="37.3,79.4 39.3,77.6 41.3,76.2 43.3,71.4 45.2,70.8 47.2,73.2 49.2,75.5 51.2,78.4 53.2,77 55.2,74.8 57.1,76.1 59.1,76.9 61.1,73 63.1,73.5 65.1,72.7 67.1,76.8 69,78.9 71,85.4 73,88.8 75,86.6 77,81.9 79,82.4 80.9,85.7 82.9,84.6 84.9,80.6 86.9,80.9 88.9,78 90.9,78.3 92.8,82.2 94.8,84.6 96.8,84.7 98.8,77.2 100.8,75.7 102.8,76.8 104.7,76.3 106.7,76 108.7,77.7 110.7,78.3 112.7,79.2 114.7,76.9 116.6,72.5 118.6,69.3 120.6,71.5 122.6,70.8 124.6,74 126.6,77.9 128.5,77.9 130.5,76.2 132.5,76.8 134.5,74.6 136.5,72.7 138.5,71.2 140.4,72.6 142.4,77.5 144.4,72.3 146.4,74.6 148.4,73 150.4,72.3 152.4,74.2 154.3,69.3 156.3,68.4 158.3,69.8 160.3,72.2 162.3,76 164.3,80.2 166.2,78.4 168.2,79.8 170.2,81.1 172.2,79.4 174.2,80.4 176.2,78.3 178.1,80.4 180.1,81.8 182.1,78.8 184.1,80.9 186.1,78.9 188.1,77.4 190,77.6 192,82.8 194,86.3 196,88.8 198,91.5 200,87.5 201.9,89.1 203.9,91.7 205.9,91.7 207.9,90.5 209.9,94.2 211.9,90.6 213.8,87.1 215.8,88 217.8,84.5 219.8,88.6 221.8,89.1 223.8,88.4 225.7,87.2 227.7,82.8 229.7,83.4 231.7,85.9 233.7,84.5 235.7,83.1 237.6,81.1 239.6,81.2 241.6,80.2 243.6,79.4" stroke="rgb(163,163,163)"/>
<polyline points="37.3,79.4 39.3,79.4 41.3,78 43.3,79.2 45.2,79.4 47.2,74.5 49.2,70.9 51.2,70.7 53.2,71 55.2,72.6 57.1,70.7 59.1,73.1 61.1,73.5 63.1,75.3 65.1,77.4 67.1,77.5 69,77.7 71,79.4 73,79.5 75,79.3 77,80.5 79,82 80.9,82 82.9,79.8 84.9,76.8 86.9,76.6 88.9,77.6 90.9,77.9 92.8,73 94.8,71.4 96.8,74.8 98.8,75.4 100.8,77.2 102.8,78.4 104.7,82.9 106.7,82.3 108.7,85.5 110.7,86.2 112.7,81.4 114.7,78.5 116.6,80.8 118.6,83.3 120.6,85.2 122.6,89.3 124.6,90.7 126.6,90 128.5,91.4 130.5,87.9 132.5,87 134.5,87.4 136.5,81.8 138.5,79.7 140.4,79.4 142.4,74.5 144.4,71.6 146.4,74.4 148.4,74.1 150.4,75.8 152.4,79.9 154.3,74.9 156.3,71.5 158.3,75.7 160.3,74.8 162.3,79.6 164.3,76.7 166.2,77.1 168.2,78.1 170.2,74.9 172.2,75.4 174.2,76.5 176.2,74.4 178.1,75.7 180.1,73.8 182.1,74.5 184.1,72.8 186.1,71.9 188.1,70.7 190,74.3 192,70 194,71.5 196,67.8 198,70.7 200,72.4 201.9,73.9 203.9,71.4 205.9,73.5 207.9,73 209.9,77.9 211.9,79.2 213.8,78.6 215.8,78.9 217.8,83.9 219.8,82 221.8,84.1 223.8,78.4 225.7,79 227.7,73 229.7,72 231.7,71.6 233.7,73.8 235.7,75 237.6,75.2 239.6,79.6 241.6,78.4 243.6,79.4" stroke="rgb(163,163,163)"/>
<polyline points="37.3,79.4 39.3,80 41.3,77.6 43.3,74.6 45.2,76.5 47.2,70.9 49.2,74.6 51.2,74.3 53.2,71.7 55.2,78.8 57.1,76.2 59.1,76.7 61.1,77.1 63.1,80.3 65.1,79.3 67.1,82.3 69,84.6 71,85.2 73,87.8 75,82.5 77,85.8 79,87 80.9,87 82.9,86.1 84.9,83.1 86.9,80.5 88.9,81.1 90.9,82 92.8,81.6 94.8,79.1 96.8,77.2 98.8,78.9 100.8,84.5 102.8,78.1 104.7,75.7 106.7,75.4 108.7,75 110.7,76.9 112.7,79.9 114.7,80.8 116.6,81.2 118.6,82.7 120.6,86.2 122.6,86.3 124.6,83.9 126.6,84.7 128.5,84 130.5,89.1 132.5,88.5 134.5,87.7 136.5,90 138.5,93.4 140.4,90.6 142.4,91.5 144.4,88.7 146.4,88.7 148.4,85.9 150.4,86.1 152.4,89.3 154.3,88.4 156.3,88.2 158.3,85.4 160.3,85.9 162.3,86.2 164.3,83 166.2,79.4 168.2,77.4 170.2,74.8 172.2,74.1 174.2,72.7 176.2,71.1 178.1,71 180.1,71.8 182.1,72.4 184.1,66.7 186.1,68.2 188.1,70.2 190,72.3 192,73.2 194,73.3 196,77.1 198,82.7 200,81.5 201.9,85.6 203.9,84.2 205.9,83.2 207.9,79.6 209.9,75.1 211.9,74.6 213.8,76.7 215.8,80.2 217.8,82.2 219.8,81.8 221.8,87.1 223.8,86 225.7,85.2 227.7,82.8 229.7,83.3 231.7,82.5 233.7,84.2 235.7,84.4 237.6,86.9 239.6,84.4 241.6,80.6 243.6,79.4" stroke="rgb(163,163,163)"/>
<polyline points="37.3,79.4 39.3,86.5 41.3,87.4 43.3,89.6 45.2,89.5 47.2,89.2 49.2,88.3 51.2,85.3 53.2,84 55.2,87.2 57.1,86.5 59.1,85.9 61.1,84.2 63.1,83.6 65.1,83.3 67.1,80.2 69,82.9 71,76.9 73,78.7 75,81.5 77,79.2 79,76.5 80.9,73.6 82.9,70.5 84.9,70.4 86.9,71.3 88.9,71.3 90.9,72.3 92.8,74.6 94.8,71 96.8,67.3 98.8,68.7 100.8,70.6 102.8,73 104.7,78.1 106.7,80 108.7,81.3 110.7,81.1 112.7,83.5 114.7,88 116.6,85.3 118.6,80.1 120.6,85.5 122.6,85.1 124.6,82.2 126.6,84.9 128.5,88 130.5,86.9 132.5,86.6 134.5,87.4 136.5,82.1 138.5,77.9 140.4,76.4 142.4,76.9 144.4,78 146.4,75.9 148.4,76.9 150.4,73.3 152.4,70.8 154.3,73.3 156.3,72 158.3,68.8 160.3,68.3 162.3,72.1 164.3,73.6 166.2,75.1 168.2,75.2 170.2,75.6 172.2,76.9 174.2,74.9 176.2,71.8 178.1,74.1 180.1,78.5 182.1,77.5 184.1,77.6 186.1,76.7 188.1,78.7 190,77.9 192,80.3 194,77.2 196,73 198,76.1 200,83.1 201.9,83.8 203.9,84.5 205.9,83.2 207.9,82.5 209.9,80.7 211.9,73.4 213.8,75.4 215.8,76.7 217.8,75.7 219.8,80.8 221.8,78.4 223.8,80 225.7,83.4 227.7,85 229.7,82.8 231.7,80 233.7,76.5 235.7,75.8 237.6,78.1 239.6,77.5 241.6,78.3 243.6,79.4" stroke="rgb(163,163,163)"/>
<polyline points="37.3,79.4 39.3,81 41.3,83 43.3,86.8 45.2,85.3 47.2,83.8 49.2,79.8 51.2,79.9 53.2,81.8 55.2,85.8 57.1,84.8 59.1,85 61.1,78.3 63.1,71.6 65.1,67.8 67.1,71.8 69,76.9 71,77.8 73,80.7 75,76.2 77,76.2 79,77.8 80.9,78 82.9,74.4 84.9,77.8 86.9,76.5 88.9,80.8 90.9,81.2 92.8,82.9 94.8,81.5 96.8,80.8 98.8,77 100.8,75.2 102.8,77.5 104.7,81.6 106.7,83.8 108.7,84.5 110.7,84.5 112.7,86.2 114.7,82.1 116.6,79 118.6,79.8 120.6,81.2 122.6,81.7 124.6,81.5 126.6,81.3 128.5,85.9 130.5,86.4 132.5,91.1 134.5,89.6 136.5,86.3 138.5,88.6 140.4,87 142.4,87.9 144.4,88.9 146.4,81.9 148.4,78.9 150.4,77.5 152.4,79 154.3,77.8 156.3,78.6 158.3,77.3 160.3,80.2 162.3,80.3 164.3,81.4 166.2,85.3 168.2,79.6 170.2,77.1 172.2,79.7 174.2,84 176.2,85.6 178.1,87.4 180.1,88.2 182.1,91.7 184.1,92.6 186.1,90.9 188.1,88.2 190,93.1 192,91.4 194,92.9 196,94.4 198,93.5 200,93.9 201.9,90.1 203.9,86.7 205.9,86.7 207.9,87.7 209.9,81.4 211.9,75.5 213.8,74.8 215.8,75.8 217.8,73.2 219.8,69.6 221.8,72.4 223.8,67.8 225.7,69.7 227.7,67.5 229.7,70.5 231.7,71.4 233.7,73.7 235.7,74.6 237.6,73.5 239.6,77 241.6,78.3 243.6,79.4" stroke="rgb(163,163,163)"/>
<polyline points="37.3,79.4 39.3,83.5 41.3,81.9 43.3,83.4 45.2,85.7 47.2,86.1 49.2,89.6 51.2,87.4 53.2,82.6 55.2,87.3 57.1,85.1 59.1,82.6 61.1,80.2 63.1,78.1 65.1,77 67.1,78.9 69,76.2 71,75.6 73,73.6 75,73.4 77,75.1 79,75.9 80.9,74.4 82.9,71.8 84.9,79 86.9,83.4 88.9,88.4 90.9,89.1 92.8,90.3 94.8,88.5 96.8,88.5 98.8,83.2 100.8,84.9 102.8,86.7 104.7,88.6 106.7,88.6 108.7,87.1 110.7,87.9 112.7,90 114.7,93.3 116.6,91.2 118.6,91.7 120.6,93.6 122.6,92.9 124.6,90.4 126.6,82.5 128.5,77 130.5,80.3 132.5,81.8 134.5,88.1 136.5,93.6 138.5,98 140.4,93 142.4,92 144.4,95.5 146.4,95.9 148.4,95.7 150.4,96.1 152.4,89.5 154.3,94.7 156.3,94.5 158.3,92.1 160.3,89.2 162.3,95.3 164.3,92.9 166.2,95.6 168.2,95.7 170.2,99.1 172.2,94.4 174.2,82.6 176.2,79.1 178.1,80.3 180.1,86.1 182.1,82.6 184.1,78.5 186.1,82.3 188.1,79.1 190,85.1 192,88.8 194,87.3 196,91.1 198,87.4 200,81.9 201.9,81.6 203.9,79.9 205.9,74.7 207.9,73.7 209.9,70.3 211.9,66.8 213.8,71.9 215.8,65.7 217.8,63.6 219.8,65.1 221.8,64.2 223.8,65.1 225.7,66.1 227.7,71 229.7,73.4 231.7,75.3 233.7,72.3 235.7,72.2 237.6,73.1 239.6,75.3 241.6,75.4 243.6,79.4" stroke="rgb(163,163,163)"/>
<polyline points="37.3,79.4 39.3,79.5 41.3,81.8 43.3,84.3 45.2,81.9 47.2,76.4 49.2,72 51.2,65 53.2,65.7 55.2,66.6 57.1,64.7 59.1,66.4 61.1,68.2 63.1,73.1 65.1,70.5 67.1,75.2 69,74 71,79.5 73,75.7 75,79.7 77,76.8 79,82.5 80.9,83.6 82.9,79.1 84.9,81.9 86.9,81.4 88.9,82.7 90.9,90.2 92.8,87.9 94.8,85.4 96.8,88.4 98.8,85.4 100.8,87.4 102.8,89.9 104.7,88.6 106.7,89.8 108.7,80.7 110.7,85.9 112.7,82.6 114.7,78.8 116.6,85.6 118.6,90.8 120.6,87.5 122.6,88.2 124.6,85.8 126.6,81.2 128.5,82.2 130.5,85.5 132.5,94.1 134.5,91.6 136.5,93.3 138.5,90.6 140.4,88.4 142.4,92.1 144.4,84.7 146.4,80.4 148.4,77.4 150.4,81.6 152.4,82.8 154.3,84.2 156.3,85.1 158.3,88.2 160.3,85.7 162.3,84.1 164.3,82.3 166.2,83.7 168.2,78.8 170.2,78.2 172.2,87.7 174.2,88.9 176.2,87.9 178.1,83.6 180.1,84.1 182.1,84.4 184.1,86.1 186.1,83 188.1,84.1 190,85.6 192,87.4 194,84.5 196,85.7 198,90.7 200,87.2 201.9,88.7 203.9,86.3 205.9,84.2 207.9,79.5 209.9,76 211.9,78.3 213.8,79 215.8,83.5 217.8,77.3 219.8,76 221.8,71.7 223.8,73.7 225.7,81.4 227.7,75.9 229.7,76 231.7,76 233.7,76.2 235.7,74.7 237.6,74.5 239.6,79.4 241.6,77.9 243.6,79.4" stroke="rgb(162,162,162)"/>
<polyline points="37.3,79.4 39.3,76.9 41.3,76.9 43.3,77.8 45.2,84.9 47.2,82.8 49.2,76.9 51.2,83.5 53.2,79.2 55.2,81 57.1,73.2 59.1,72.5 61.1,73.9 63.1,71 65.1,70.3 67.1,73.3 69,71.7 71,74.3 73,80.8 75,74 77,75.7 79,78.2 80.9,77.2 82.9,82.6 84.9,86.6 86.9,87.4 88.9,88.1 90.9,86.9 92.8,82.3 94.8,83.5 96.8,81.4 98.8,79.2 100.8,82.8 102.8,81.6 104.7,84.4 106.7,80.3 108.7,78.7 110.7,78.8 112.7,83.2 114.7,82.4 116.6,84.5 118.6,81.6 120.6,81.7 122.6,84.1 124.6,80.5 126.6,78 128.5,80.1 130.5,76.2 132.5,77.6 134.5,78.8 136.5,78.5 138.5,81.1 140.4,82.3 142.4,82.5 144.4,77.1 146.4,72.5 148.4,74.2 150.4,69.5 152.4,70.8 154.3,70.6 156.3,68.8 158.3,69.1 160.3,62.4 162.3,63.7 164.3,69.5 166.2,66.4 168.2,69.3 170.2,71.5 172.2,82.3 174.2,78.6 176.2,76 178.1,73.8 180.1,71.3 182.1,66.7 184.1,68.4 186.1,66.7 188.1,70.6 190,72.8 192,70.2 194,70 196,75.5 198,74.8 200,75.9 201.9,79 203.9,77.6 205.9,79.2 207.9,84.3 209.9,87.4 211.9,80.6 213.8,85.4 215.8,84 217.8,81.4 219.8,79.1 221.8,83.2 223.8,83.8 225.7,82.8 227.7,79.7 229.7,81.8 231.7,85.3 233.7,81.3 235.7,77.6 237.6,77.1 239.6,79.1 241.6,78.7 243.6,79.4" stroke="rgb(161,161,161)"/>
<polyline points="37.3,79.4 39.3,80.4 41.3,77.8 43.3,74 45.2,72.6 47.2,69.2 49.2,70.6 51.2,71.8 53.2,75.2 55.2,76.6 57.1,76.3 59.1,73.4 61.1,76.3 63.1,74.2 65.1,67.6 67.1,73.1 69,74.6 71,75.1 73,72.5 75,67.2 77,64.8 79,66.6 80.9,70.7 82.9,71.9 84.9,72.9 86.9,72.9 88.9,76.4 90.9,72 92.8,75.1 94.8,73.5 96.8,73.5 98.8,77.5 100.8,77.5 102.8,77.6 104.7,78.4 106.7,76 108.7,77.8 110.7,70.2 112.7,67.8 114.7,71.9 116.6,80.4 118.6,76.4 120.6,76 122.6,76.1 124.6,79.5 126.6,83.8 128.5,89 130.5,79.9 132.5,74.9 134.5,77.1 136.5,71.6 138.5,78.2 140.4,76.2 142.4,74.3 144.4,77.6 146.4,79.2 148.4,82.4 150.4,81.9 152.4,77.5 154.3,74.6 156.3,73.9 158.3,71.1 160.3,77.6 162.3,71.5 164.3,72.6 166.2,77.5 168.2,78.9 170.2,80.9 172.2,80.4 174.2,79.3 176.2,86.5 178.1,81.8 180.1,76.1 182.1,79.7 184.1,75.1 186.1,71.7 188.1,69.5 190,65.6 192,71.5 194,70.2 196,74.5 198,67.7 200,72.1 201.9,76.8 203.9,73.6 205.9,72.3 207.9,73.1 209.9,73.4 211.9,72.2 213.8,67.7 215.8,71.3 217.8,74 219.8,76.4 221.8,77 223.8,77.3 225.7,81.5 227.7,80.3 229.7,84.1 231.7,84.5 233.7,84.6 235.7,84.4 237.6,79.5 239.6,76.3 241.6,76.3 243.6,79.4" stroke="rgb(161,161,161)"/>
<polyline points="37.3,79.4 39.3,80.5 41.3,79.8 43.3,80.8 45.2,83.5 47.2,87.5 49.2,90.1 51.2,87.4 53.2,87.3 55.2,89.4 57.1,89.6 59.1,84.2 61.1,84.5 63.1,85.4 65.1,81.1 67.1,79.7 69,79.6 71,81.1 73,85 75,87.5 77,87.8 79,87.3 80.9,85.4 82.9,83.3 84.9,82.2 86.9,81.3 88.9,83.7 90.9,88.9 92.8,89.1 94.8,90.5 96.8,90.9 98.8,90.2 100.8,92.2 102.8,93.6 104.7,92.2 106.7,90.3 108.7,90.8 110.7,88.1 112.7,87.6 114.7,89.3 116.6,88 118.6,82 120.6,83.5 122.6,79.9 124.6,76.2 126.6,72.6 128.5,75.6 130.5,70.8 132.5,71.5 134.5,73.1 136.5,74.5 138.5,73.5 140.4,74 142.4,75.2 144.4,72.3 146.4,75 148.4,78.3 150.4,76.4 152.4,74.9 154.3,72.5 156.3,76.2 158.3,73.7 160.3,73.1 162.3,69.2 164.3,73.7 166.2,73.8 168.2,75.2 170.2,79.9 172.2,81.8 174.2,78.5 176.2,79.8 178.1,81.7 180.1,79.1 182.1,76.6 184.1,74.3 186.1,77 188.1,77.4 190,74.9 192,77.2 194,79.5 196,77.3 198,73.4 200,77.2 201.9,84.3 203.9,87.5 205.9,89.2 207.9,88.4 209.9,85.7 211.9,85.3 213.8,86.5 215.8,85.2 217.8,87.1 219.8,86.3 221.8,87.1 223.8,79.1 225.7,77 227.7,79.5 229.7,82.1 231.7,82.9 233.7,86.9 235.7,87.3 237.6,86.8 239.6,83 241.6,82 243.6,79.4" stroke="rgb(161,161,161)"/>
<polyline points="37.3,79.4 39.3,81.8 41.3,81.9 43.3,82.5 45.2,87.4 47.2,83.9 49.2,85.2 51.2,85.6 53.2,84.2 55.2,83.2 57.1,79.7 59.1,81.3 61.1,80.6 63.1,79.6 65.1,79.4 67.1,77.5 69,78.3 71,75.1 73,77.4 75,81.3 77,81.1 79,77.7 80.9,79.1 82.9,80.7 84.9,81.4 86.9,80.6 88.9,80.8 90.9,79.7 92.8,84.1 94.8,79.5 96.8,77.8 98.8,80.2 100.8,76.3 102.8,75.4 104.7,71.9 106.7,75.8 108.7,71.7 110.7,72.4 112.7,78.6 114.7,76.6 116.6,77.6 118.6,80.4 120.6,80.7 122.6,85.6 124.6,83.2 126.6,83.2 128.5,83.3 130.5,79 132.5,78.9 134.5,80.6 136.5,82.8 138.5,82.5 140.4,79.2 142.4,80.6 144.4,83.1 146.4,80.1 148.4,79.8 150.4,79.7 152.4,74 154.3,77.8 156.3,77.3 158.3,82.2 160.3,82.5 162.3,80.5 164.3,77.3 166.2,80.8 168.2,78.3 170.2,76.3 172.2,76.8 174.2,70.6 176.2,71.5 178.1,74.7 180.1,74 182.1,79.5 184.1,75.2 186.1,73 188.1,74.7 190,73.6 192,72.7 194,68.3 196,71.2 198,75.5 200,81.2 201.9,81.6 203.9,85.4 205.9,85 207.9,83.2 209.9,83.8 211.9,85.6 213.8,81.6 215.8,81.8 217.8,80.8 219.8,78 221.8,81.5 223.8,83.6 225.7,76.4 227.7,77.1 229.7,80 231.7,80.5 233.7,81.8 235.7,84.2 237.6,83.7 239.6,82.4 241.6,81.1 243.6,79.4" stroke="rgb(161,161,161)"/>
<polyline points="37.3,79.4 39.3,77.8 41.3,77.6 43.3,74.3 45.2,74.4 47.2,75.3 49.2,73.9 51.2,71.1 53.2,73.2 55.2,74.7 57.1,75.8 59.1,76 61.1,79.4 63.1,76 65.1,77.7 67.1,76.4 69,79.5 71,78.3 73,77.1 75,78.8 77,72.2 79,71.8 80.9,66.9 82.9,65.2 84.9,69.1 86.9,71.6 88.9,71.1 90.9,71.9 92.8,72.6 94.8,74.4 96.8,80.9 98.8,81.5 100.8,88.6 102.8,86.2 104.7,87.8 106.7,89.1 108.7,88.7 110.7,86.7 112.7,90.5 114.7,94.9 116.6,96.6 118.6,101.2 120.6,101.8 122.6,93.9 124.6,95.6 126.6,91.5 128.5,94.6 130.5,91.8 132.5,91.4 134.5,90.1 136.5,87 138.5,80.3 140.4,79.5 142.4,79.1 144.4,82.3 146.4,80.1 148.4,80.8 150.4,77.9 152.4,78.2 154.3,72.6 156.3,80 158.3,80.9 160.3,77.8 162.3,79.1 164.3,81.8 166.2,82.4 168.2,86.6 170.2,85.3 172.2,76.6 174.2,73.1 176.2,77.5 178.1,80.6 180.1,81.8 182.1,78.2 184.1,81.1 186.1,83.1 188.1,79.8 190,76.9 192,78.4 194,82.2 196,87 198,88.4 200,94.6 201.9,90.3 203.9,91.1 205.9,88.1 207.9,80.9 209.9,76.9 211.9,81 213.8,77.9 215.8,74.3 217.8,77.4 219.8,80.7 221.8,80.9 223.8,86 225.7,80.4 227.7,88.2 229.7,90.8 231.7,90.3 233.7,89.7 235.7,87.3 237.6,84.6 239.6,83.4 241.6,80.2 243.6,79.4" stroke="rgb(161,161,161)"/>
<polyline points="37.3,79.4 39.3,81.6 41.3,86 43.3,90.9 45.2,86.3 47.2,82.6 49.2,85.6 51.2,84.5 53.2,83.4 55.2,85.4 57.1,86.3 59.1,83 61.1,80.7 63.1,78.1 65.1,77.4 67.1,77.3 69,76.2 71,76.9 73,72.8 75,72.9 77,72.2 79,73.2 80.9,75.6 82.9,76.1 84.9,77.3 86.9,79.5 88.9,77.3 90.9,72.3 92.8,72.4 94.8,73.4 96.8,75.9 98.8,80 100.8,78.2 102.8,76.8 104.7,79.1 106.7,78.8 108.7,80.9 110.7,77 112.7,76.9 114.7,76 116.6,71.9 118.6,78.4 120.6,77.3 122.6,76.8 124.6,77.7 126.6,77.8 128.5,74.6 130.5,76.8 132.5,78.6 134.5,74.1 136.5,72 138.5,71.5 140.4,70.2 142.4,70.9 144.4,72.6 146.4,73.6 148.4,73.3 150.4,75.1 152.4,79.5 154.3,79.7 156.3,78.8 158.3,79.1 160.3,77.2 162.3,76.5 164.3,74.2 166.2,74.4 168.2,75.2 170.2,74.1 172.2,72.3 174.2,74.1 176.2,76.7 178.1,73.4 180.1,75.3 182.1,74.7 184.1,76.2 186.1,75.9 188.1,72.5 190,68.9 192,73.3 194,77.5 196,86.1 198,83.6 200,79 201.9,78.2 203.9,78.9 205.9,76.6 207.9,79.2 209.9,77.3 211.9,74 213.8,71.3 215.8,70.3 217.8,72.5 219.8,74 221.8,76.8 223.8,72.2 225.7,69.7 227.7,70.8 229.7,71.8 231.7,72 233.7,74.4 235.7,73.9 237.6,74.2 239.6,75 241.6,76.7 243.6,79.4" stroke="rgb(160,160,160)"/>
<polyline points="37.3,79.4 39.3,82.1 41.3,83.8 43.3,82.6 45.2,79.6 47.2,80.7 49.2,80.4 51.2,84.4 53.2,82.9 55.2,80 57.1,81.5 59.1,78.1 61.1,84.2 63.1,88.9 65.1,91.7 67.1,91.7 69,90.1 71,89.1 73,88.1 75,85 77,85.7 79,88.5 80.9,91 82.9,83.6 84.9,89.8 86.9,89.1 88.9,83.7 90.9,81.8 92.8,83.9 94.8,83.4 96.8,80.4 98.8,76.8 100.8,79.7 102.8,77.5 104.7,77 106.7,74.1 108.7,70.8 110.7,72.8 112.7,77.7 114.7,76.8 116.6,72 118.6,70.9 120.6,71.3 122.6,65.4 124.6,70.1 126.6,68.6 128.5,71.5 130.5,72.3 132.5,72.9 134.5,69.4 136.5,73.2 138.5,75.5 140.4,80.5 142.4,79 144.4,80.4 146.4,79 148.4,82.2 150.4,82.9 152.4,79.5 154.3,80 156.3,78.1 158.3,76.7 160.3,78.1 162.3,82.7 164.3,79.5 166.2,79 168.2,76.2 170.2,82.4 172.2,86.8 174.2,92 176.2,93 178.1,88.4 180.1,85.7 182.1,85 184.1,84 186.1,81.3 188.1,81.9 190,80.5 192,79.9 194,86.1 196,86.4 198,81.7 200,82.6 201.9,82.6 203.9,83.9 205.9,84.8 207.9,80.9 209.9,81.5 211.9,84.2 213.8,92.5 215.8,92.6 217.8,96.6 219.8,99.8 221.8,95.1 223.8,91.2 225.7,95.2 227.7,90.9 229.7,88.2 231.7,89.4 233.7,86.1 235.7,89.2 237.6,89.3 239.6,88.8 241.6,86.1 243.6,79.4" stroke="rgb(160,160,160)"/>
<polyline points="37.3,79.4 39.3,79.3 41.3,78 43.3,77.7 45.2,80.6 47.2,78.8 49.2,78.8 51.2,77.3 53.2,77.7 55.2,79.7 57.1,82.3 59.1,80.3 61.1,77.1 63.1,78.2 65.1,77.3 67.1,74.2 69,77 71,78.3 73,81.3 75,78.2 77,77.8 79,79.3 80.9,83.6 82.9,83.7 84.9,80.7 86.9,81.4 88.9,82.4 90.9,80.5 92.8,83.6 94.8,83 96.8,81.2 98.8,83.1 100.8,84.8 102.8,83.6 104.7,83.5 106.7,83.7 108.7,82.7 110.7,81.9 112.7,84 114.7,85.2 116.6,83.5 118.6,80.3 120.6,76.9 122.6,79.4 124.6,76.7 126.6,75.2 128.5,75.9 130.5,75.2 132.5,73.7 134.5,70 136.5,73.8 138.5,73.1 140.4,74.3 142.4,75.5 144.4,73.2 146.4,71.9 148.4,75.5 150.4,76.7 152.4,76.6 154.3,80.6 156.3,78.3 158.3,78.7 160.3,78.5 162.3,77.8 164.3,73.5 166.2,74.2 168.2,75.8 170.2,72 172.2,74.2 174.2,76.2 176.2,80.2 178.1,77.4 180.1,77.1 182.1,76.2 184.1,76.3 186.1,77.1 188.1,79.4 190,81.4 192,80.2 194,79.9 196,75.8 198,78.2 200,79.6 201.9,82.2 203.9,78.5 205.9,81.8 207.9,79.6 209.9,76.1 211.9,76.9 213.8,75.4 215.8,81.3 217.8,82.1 219.8,86.1 221.8,84.9 223.8,84.3 225.7,85.7 227.7,82.6 229.7,81.4 231.7,82.6 233.7,83.5 235.7,86.3 237.6,84.9 239.6,80 241.6,80.5 243.6,79.4" stroke="rgb(160,160,160)"/>
<polyline points="37.3,79.4 39.3,76.8 41.3,76.4 43.3,74.9 45.2,76.5 47.2,75.8 49.2,78.7 51.2,78.8 53.2,77 55.2,77.2 57.1,78.9 59.1,82.5 61.1,81.6 63.1,80.2 65.1,80.9 67.1,83.2 69,81 71,72.8 73,74.6 75,74.1 77,73.5 79,82.5 80.9,81.7 82.9,83.7 84.9,78.7 86.9,79.6 88.9,82.1 90.9,82.5 92.8,81.6 94.8,83.1 96.8,82.8 98.8,86.8 100.8,86.6 102.8,83.3 104.7,76.5 106.7,74.5 108.7,74.3 110.7,71.1 112.7,68.8 114.7,64.7 116.6,63 118.6,65.4 120.6,66.2 122.6,67.2 124.6,67.7 126.6,68.5 128.5,72.3 130.5,79.9 132.5,82 134.5,88.2 136.5,86.9 138.5,86 140.4,90.6 142.4,87 144.4,83.3 146.4,82.6 148.4,76.8 150.4,71.1 152.4,76 154.3,73.1 156.3,72.4 158.3,71.9 160.3,69.8 162.3,73.3 164.3,75.9 166.2,79 168.2,81.5 170.2,81.5 172.2,85.9 174.2,88.5 176.2,85.6 178.1,85 180.1,83.1 182.1,88.8 184.1,90.2 186.1,90.6 188.1,89.2 190,89.9 192,85.6 194,85.1 196,84.3 198,83.7 200,80.9 201.9,82.3 203.9,78.3 205.9,77 207.9,76.8 209.9,76.9 211.9,75.6 213.8,72.8 215.8,70.5 217.8,70.4 219.8,68.6 221.8,69.6 223.8,66.7 225.7,68.3 227.7,76.3 229.7,72.4 231.7,72.9 233.7,77.4 235.7,78.4 237.6,80.9 239.6,76.3 241.6,76.9 243.6,79.4" stroke="rgb(159,159,159)"/>
<polyline points="37.3,79.4 39.3,76.5 41.3,75.2 43.3,71.3 45.2,77.6 47.2,83.5 49.2,79.1 51.2,83.3 53.2,81.8 55.2,84.7 57.1,81.8 59.1,79.3 61.1,78.7 63.1,76.4 65.1,76.5 67.1,75.1 69,70.6 71,68.6 73,71.5 75,74.4 77,75.5 79,76.4 80.9,76.4 82.9,78.2 84.9,76.4 86.9,76.5 88.9,75.7 90.9,76 92.8,74.6 94.8,78.1 96.8,73.9 98.8,73.5 100.8,72.8 102.8,71.8 104.7,69.6 106.7,68.6 108.7,69.1 110.7,70.6 112.7,75.9 114.7,75.5 116.6,76.7 118.6,77.6 120.6,71.2 122.6,77 124.6,76.9 126.6,73.8 128.5,71.7 130.5,69.1 132.5,73.5 134.5,76.6 136.5,75.1 138.5,76.2 140.4,71.8 142.4,71.9 144.4,72.1 146.4,71.6 148.4,73 150.4,73.3 152.4,75.6 154.3,75.9 156.3,77.4 158.3,76.8 160.3,80.6 162.3,84.2 164.3,82.2 166.2,81.1 168.2,83.2 170.2,83.1 172.2,85.3 174.2,78.9 176.2,82.9 178.1,77.7 180.1,79.9 182.1,78.4 184.1,79 186.1,79.9 188.1,77.1 190,75 192,76 194,78.6 196,73 198,69.8 200,70.3 201.9,72 203.9,71.8 205.9,72.3 207.9,69.7 209.9,73.2 211.9,73.7 213.8,76.2 215.8,72.9 217.8,68.6 219.8,69.9 221.8,69.4 223.8,66.6 225.7,68.7 227.7,72.2 229.7,70.1 231.7,69.6 233.7,71.1 235.7,68.8 237.6,70.9 239.6,76.3 241.6,77.1 243.6,79.4" stroke="rgb(158,158,158)"/>
<polyline points="37.3,79.4 39.3,80.4 41.3,80.9 43.3,86.9 45.2,82.8 47.2,80.6 49.2,80.2 51.2,81.6 53.2,85.2 55.2,84.9 57.1,84.7 59.1,80.9 61.1,84.5 63.1,79.7 65.1,79.6 67.1,76.2 69,79.6 71,78.7 73,75.2 75,75.5 77,80.5 79,81.5 80.9,79.7 82.9,84 84.9,87.9 86.9,86.3 88.9,88.4 90.9,85.4 92.8,88.3 94.8,92.9 96.8,93.7 98.8,87.6 100.8,89.3 102.8,88.3 104.7,86.6 106.7,88.7 108.7,84.4 110.7,83.4 112.7,81.7 114.7,86.6 116.6,91.1 118.6,98 120.6,96.5 122.6,95.2 124.6,91.3 126.6,85.5 128.5,85.7 130.5,85.8 132.5,83.8 134.5,78.8 136.5,81.5 138.5,79.5 140.4,80.3 142.4,81.3 144.4,78.8 146.4,81.3 148.4,84.4 150.4,81.9 152.4,81.8 154.3,82.4 156.3,82.6 158.3,80.8 160.3,81.8 162.3,79.4 164.3,78.2 166.2,74.1 168.2,71 170.2,69.6 172.2,71.5 174.2,72.2 176.2,74.9 178.1,67.1 180.1,69.3 182.1,69 184.1,66.3 186.1,72 188.1,75.5 190,77.2 192,80.6 194,84.3 196,85.4 198,80.9 200,78.6 201.9,78.7 203.9,78.8 205.9,84 207.9,81.4 209.9,80 211.9,83.3 213.8,82.3 215.8,82.6 217.8,83.9 219.8,86.4 221.8,87.6 223.8,89.6 225.7,87.1 227.7,85.1 229.7,83.6 231.7,83.7 233.7,84.5 235.7,78 237.6,82.8 239.6,79.6 241.6,79.1 243.6,79.4" stroke="rgb(158,158,158)"/>
<polyline points="37.3,79.4 39.3,76.4 41.3,77.2 43.3,73.4 45.2,68.5 47.2,69.3 49.2,70.8 51.2,67.1 53.2,67.3 55.2,70.7 57.1,75.6 59.1,77.7 61.1,71.7 63.1,74.3 65.1,66.7 67.1,68.2 69,70.2 71,67.6 73,69.7 75,69.8 77,73.9 79,78.2 80.9,80.4 82.9,79.7 84.9,81.6 86.9,86.9 88.9,84.7 90.9,84.5 92.8,84.7 94.8,85.9 96.8,91.5 98.8,85.5 100.8,86.2 102.8,83.9 104.7,79.4 106.7,76.1 108.7,76 110.7,76.4 112.7,75.9 114.7,73.7 116.6,72.7 118.6,74.8 120.6,74.1 122.6,73.6 124.6,72.4 126.6,72.6 128.5,69.5 130.5,70.1 132.5,68.7 134.5,69.9 136.5,72.7 138.5,76.2 140.4,77 142.4,75.8 144.4,72.6 146.4,73.7 148.4,75.8 150.4,77.7 152.4,74.2 154.3,74.6 156.3,76.6 158.3,74.8 160.3,79.1 162.3,78.8 164.3,79 166.2,79.5 168.2,82.8 170.2,79.6 172.2,74.7 174.2,79.1 176.2,78.8 178.1,77 180.1,70.8 182.1,73.1 184.1,76.5 186.1,76.9 188.1,71.4 190,72.2 192,72.3 194,68.1 196,75.5 198,82.2 200,79.3 201.9,77.1 203.9,81.3 205.9,79.6 207.9,79.5 209.9,78.8 211.9,81.2 213.8,82.3 215.8,84.4 217.8,83.7 219.8,83.8 221.8,78.5 223.8,76.8 225.7,81.6 227.7,80.2 229.7,76 231.7,75.6 233.7,72.9 235.7,74.2 237.6,74 239.6,77.3 241.6,77.3 243.6,79.4" stroke="rgb(157,157,157)"/>
<polyline points="37.3,79.4 39.3,75.8 41.3,75.9 43.3,80.2 45.2,79.1 47.2,81 49.2,85.3 51.2,85.5 53.2,91 55.2,90.4 57.1,85.1 59.1,91.9 61.1,89.1 63.1,90.3 65.1,90.1 67.1,91.1 69,88 71,87 73,88.1 75,90.4 77,90.2 79,85.8 80.9,88.2 82.9,86 84.9,84.3 86.9,88.9 88.9,84.8 90.9,84.2 92.8,77.7 94.8,73.3 96.8,74.6 98.8,75.6 100.8,78.6 102.8,82.3 104.7,79.8 106.7,80.4 108.7,81.3 110.7,81.4 112.7,79.4 114.7,76.8 116.6,77.1 118.6,77.8 120.6,77.7 122.6,72.4 124.6,78.7 126.6,81.8 128.5,80.2 130.5,79.6 132.5,76.3 134.5,73.2 136.5,68.6 138.5,72 140.4,71.2 142.4,72.8 144.4,70.9 146.4,71.4 148.4,70 150.4,73 152.4,73.3 154.3,75.3 156.3,76.4 158.3,77.9 160.3,80.8 162.3,77.6 164.3,77 166.2,74.3 168.2,77.5 170.2,82.8 172.2,84.1 174.2,83.8 176.2,81.2 178.1,78.1 180.1,74.9 182.1,71.3 184.1,70.3 186.1,71 188.1,74 190,72.8 192,74.8 194,77.4 196,76.1 198,75.8 200,73.9 201.9,76.4 203.9,73.6 205.9,73.3 207.9,74.4 209.9,76.9 211.9,80 213.8,83.5 215.8,79.2 217.8,82.9 219.8,80.8 221.8,81.2 223.8,82.4 225.7,83.2 227.7,83 229.7,80.1 231.7,78.4 233.7,78.5 235.7,82 237.6,84.9 239.6,80.1 241.6,80.9 243.6,79.4" stroke="rgb(157,157,157)"/>
<polyline points="37.3,79.4 39.3,80.6 41.3,79.4 43.3,78.5 45.2,80.5 47.2,74.5 49.2,68.4 51.2,73.9 53.2,73.7 55.2,67.2 57.1,66.4 59.1,67.3 61.1,69.3 63.1,72.1 65.1,73.6 67.1,75.9 69,74.2 71,75.9 73,77.6 75,81.3 77,81.2 79,83.6 80.9,83.6 82.9,80.1 84.9,79 86.9,77.5 88.9,76.7 90.9,76.9 92.8,77.6 94.8,78.7 96.8,76.6 98.8,80 100.8,76.1 102.8,76.4 104.7,78.9 106.7,80.4 108.7,82.2 110.7,81.4 112.7,83.2 114.7,79.5 116.6,81.7 118.6,88 120.6,89.1 122.6,93.7 124.6,92.1 126.6,87.5 128.5,84.7 130.5,87.9 132.5,89.1 134.5,82.8 136.5,81.5 138.5,81.2 140.4,77.9 142.4,71 144.4,68.3 146.4,69.2 148.4,69.4 150.4,68.8 152.4,71.9 154.3,75.8 156.3,76.1 158.3,79.2 160.3,79.4 162.3,79.2 164.3,72.4 166.2,75.7 168.2,76.5 170.2,77.3 172.2,76.3 174.2,73.7 176.2,75.8 178.1,78.6 180.1,83.4 182.1,85.6 184.1,83.3 186.1,82.7 188.1,85.2 190,85.6 192,84.8 194,82.7 196,84 198,84.2 200,88.9 201.9,91 203.9,85 205.9,90.6 207.9,90.3 209.9,88.3 211.9,88.3 213.8,89.6 215.8,88.5 217.8,87.5 219.8,86.7 221.8,91.3 223.8,90.3 225.7,91.4 227.7,91.6 229.7,89.5 231.7,86.4 233.7,83 235.7,83.6 237.6,80.5 239.6,78.1 241.6,77.3 243.6,79.4" stroke="rgb(157,157,157)"/>
<polyline points="37.3,79.4 39.3,77.7 41.3,76.1 43.3,77.4 45.2,78.7 47.2,77.9 49.2,79.4 51.2,79.1 53.2,79.3 55.2,82.6 57.1,82 59.1,85.3 61.1,81.8 63.1,84.4 65.1,84.5 67.1,89.5 69,89.7 71,92.3 73,86.3 75,85.9 77,83.6 79,88.4 80.9,91.1 82.9,90.3 84.9,93.1 86.9,88.1 88.9,88.3 90.9,86.9 92.8,85.1 94.8,85 96.8,82 98.8,83.8 100.8,82.2 102.8,78.4 104.7,77.9 106.7,77.8 108.7,79.1 110.7,79 112.7,77.1 114.7,78.2 116.6,83.4 118.6,82.5 120.6,82.7 122.6,81 124.6,80.7 126.6,75.9 128.5,80 130.5,82.9 132.5,80.6 134.5,83.6 136.5,82.2 138.5,82 140.4,87.7 142.4,84.8 144.4,80.1 146.4,79.5 148.4,83.7 150.4,80.9 152.4,84 154.3,83.9 156.3,82.2 158.3,84.3 160.3,88.8 162.3,88.2 164.3,87.4 166.2,89.1 168.2,90.3 170.2,86.9 172.2,86.3 174.2,87 176.2,88 178.1,86.5 180.1,85.5 182.1,85.4 184.1,88.9 186.1,89 188.1,89.8 190,88.4 192,84 194,80.7 196,78.7 198,78.6 200,79.8 201.9,78.8 203.9,80.4 205.9,81.4 207.9,83.8 209.9,83.5 211.9,83.3 213.8,77.5 215.8,76.2 217.8,77.8 219.8,75.8 221.8,77.7 223.8,75 225.7,73.4 227.7,65.6 229.7,70.6 231.7,72 233.7,73.3 235.7,73.7 237.6,73.6 239.6,77.2 241.6,79.1 243.6,79.4" stroke="rgb(156,156,156)"/>
<polyline points="37.3,79.4 39.3,80.8 41.3,80.9 43.3,83.8 45.2,86.1 47.2,86.8 49.2,79.6 51.2,80.8 53.2,82.1 55.2,83.5 57.1,83.5 59.1,81.1 61.1,80.3 63.1,74.2 65.1,74.2 67.1,70.6 69,70.9 71,70.1 73,75.4 75,76.3 77,76.9 79,77.9 80.9,84.3 82.9,81.2 84.9,82.1 86.9,83 88.9,83.3 90.9,83.5 92.8,81.9 94.8,85.3 96.8,87.3 98.8,85.5 100.8,84.3 102.8,84.8 104.7,85.9 106.7,87.5 108.7,86.7 110.7,82.4 112.7,85.1 114.7,80 116.6,77.5 118.6,79 120.6,76.8 122.6,81.4 124.6,86.2 126.6,89.1 128.5,89.1 130.5,88.9 132.5,89.3 134.5,87.8 136.5,93 138.5,89.9 140.4,92.8 142.4,93.1 144.4,92.7 146.4,94.5 148.4,96.7 150.4,97.5 152.4,95.4 154.3,91.7 156.3,88.6 158.3,90.4 160.3,91.4 162.3,92.6 164.3,89.7 166.2,94.4 168.2,89 170.2,89.3 172.2,90.4 174.2,88.1 176.2,84 178.1,82.5 180.1,79 182.1,78.7 184.1,75.2 186.1,72.1 188.1,73.2 190,69.8 192,70.5 194,71.3 196,74.9 198,76.3 200,74.4 201.9,78.8 203.9,77 205.9,76.3 207.9,75.8 209.9,82.7 211.9,82.6 213.8,80.3 215.8,82.4 217.8,81.8 219.8,88.5 221.8,85.4 223.8,86.6 225.7,83.2 227.7,88.1 229.7,85.1 231.7,85.1 233.7,82 235.7,84.1 237.6,84.3 239.6,78.8 241.6,80 243.6,79.4" stroke="rgb(156,156,156)"/>
<polyline points="37.3,79.4 39.3,76.9 41.3,75 43.3,73 45.2,74.2 47.2,69.7 49.2,70.7 51.2,71.1 53.2,74.9 55.2,80.2 57.1,82 59.1,82.8 61.1,83.8 63.1,81.2 65.1,87.8 67.1,90.1 69,94 71,88.7 73,89.2 75,89.6 77,91.6 79,87.8 80.9,88.1 82.9,86.5 84.9,91.5 86.9,86.9 88.9,85.1 90.9,83 92.8,79.3 94.8,80 96.8,80.5 98.8,78.5 100.8,77.6 102.8,78.6 104.7,78.7 106.7,80.3 108.7,78.4 110.7,76.1 112.7,76.6 114.7,71.8 116.6,77.1 118.6,78.2 120.6,73.7 122.6,75.7 124.6,80.7 126.6,76.8 128.5,75.8 130.5,79.6 132.5,77.6 134.5,80.8 136.5,84.5 138.5,84.4 140.4,85.3 142.4,87.8 144.4,87.9 146.4,89.8 148.4,88.5 150.4,87.6 152.4,84.7 154.3,85.5 156.3,88.6 158.3,91.3 160.3,90.6 162.3,85.2 164.3,82.2 166.2,83.8 168.2,80.8 170.2,84 172.2,80.8 174.2,81.8 176.2,79.5 178.1,77.9 180.1,79 182.1,78.2 184.1,81.5 186.1,81.6 188.1,78.4 190,67.3 192,66.9 194,68.3 196,72.6 198,70.6 200,76.4 201.9,79.1 203.9,78.3 205.9,81.9 207.9,77.4 209.9,74.8 211.9,77 213.8,79 215.8,82.8 217.8,86.4 219.8,84.5 221.8,82.3 223.8,81.1 225.7,80.3 227.7,81.8 229.7,80.7 231.7,84.7 233.7,84.2 235.7,79.6 237.6,76.8 239.6,78.5 241.6,79.3 243.6,79.4" stroke="rgb(156,156,156)"/>
<polyline points="37.3,79.4 39.3,79.7 41.3,80.4 43.3,81.3 45.2,78 47.2,76.7 49.2,77.3 51.2,81 53.2,80.3 55.2,78.5 57.1,78.7 59.1,74.2 61.1,80.9 63.1,72.7 65.1,74.1 67.1,78.4 69,84.1 71,80.7 73,78.7 75,79.5 77,79.6 79,79 80.9,80.4 82.9,76.6 84.9,74.9 86.9,75.8 88.9,81.5 90.9,76.8 92.8,78.7 94.8,82 96.8,77.6 98.8,76.2 100.8,83 102.8,87.9 104.7,88.1 106.7,91.1 108.7,90.2 110.7,80.5 112.7,70.8 114.7,71.9 116.6,70.2 118.6,68.5 120.6,70.1 122.6,76 124.6,72.9 126.6,74.2 128.5,73.4 130.5,71.8 132.5,75.3 134.5,70.3 136.5,71.2 138.5,71.4 140.4,73.7 142.4,72.1 144.4,69.7 146.4,72.6 148.4,71.5 150.4,73.8 152.4,78.4 154.3,79.6 156.3,77.6 158.3,76 160.3,72.9 162.3,75.8 164.3,77.2 166.2,77.2 168.2,75.4 170.2,76.2 172.2,79.6 174.2,84.5 176.2,80.1 178.1,76.6 180.1,79 182.1,74.3 184.1,75.1 186.1,74.1 188.1,70.6 190,73.2 192,76.4 194,82.3 196,80.9 198,79.2 200,76.4 201.9,74.8 203.9,75 205.9,71.8 207.9,75.9 209.9,75.1 211.9,73.9 213.8,74.9 215.8,69.8 217.8,69.5 219.8,66.3 221.8,65 223.8,67.2 225.7,62.4 227.7,60.9 229.7,63 231.7,65.3 233.7,70.2 235.7,72.3 237.6,74.7 239.6,75.7 241.6,77.8 243.6,79.4" stroke="rgb(155,155,155)"/>
<polyline points="37.3,79.4 39.3,80.2 41.3,80.4 43.3,82.3 45.2,75.8 47.2,84.5 49.2,83.8 51.2,90.6 53.2,86.3 55.2,88 57.1,82.4 59.1,83.7 61.1,80.1 63.1,79.6 65.1,76.2 67.1,76.6 69,85.8 71,87.3 73,91 75,87 77,84.6 79,84.1 80.9,82.3 82.9,81.5 84.9,83 86.9,77 88.9,76.7 90.9,77.7 92.8,82.3 94.8,83.9 96.8,83.4 98.8,83.6 100.8,84.6 102.8,84.2 104.7,87.1 106.7,86.2 108.7,90.1 110.7,91.4 112.7,92.3 114.7,88.3 116.6,85.9 118.6,85 120.6,87.8 122.6,88.1 124.6,84.8 126.6,80.6 128.5,84.9 130.5,85.6 132.5,84.7 134.5,83.1 136.5,82.8 138.5,80.5 140.4,84.7 142.4,79.6 144.4,83.1 146.4,82.6 148.4,80.8 150.4,77.3 152.4,75 154.3,73.1 156.3,70.2 158.3,71.8 160.3,70.6 162.3,67.3 164.3,71 166.2,76.2 168.2,79.7 170.2,75.6 172.2,72.5 174.2,74.4 176.2,74.4 178.1,73.7 180.1,71.4 182.1,78 184.1,79.9 186.1,80.6 188.1,79.6 190,79.5 192,80.5 194,79.6 196,87.2 198,77.3 200,75.2 201.9,73.1 203.9,75.9 205.9,75.2 207.9,69.7 209.9,65.5 211.9,67.1 213.8,72.3 215.8,72.7 217.8,74.4 219.8,72.6 221.8,77.2 223.8,78.1 225.7,77.5 227.7,79.2 229.7,76.2 231.7,79.9 233.7,83.6 235.7,83.8 237.6,80.8 239.6,81 241.6,81 243.6,79.4" stroke="rgb(155,155,155)"/>
<polyline points="37.3,79.4 39.3,74.6 41.3,74.3 43.3,74.1 45.2,73.2 47.2,74.3 49.2,77.4 51.2,81.1 53.2,80.9 55.2,84.2 57.1,87.1 59.1,86.5 61.1,85.1 63.1,86.9 65.1,91.3 67.1,89 69,85.4 71,85.9 73,86.2 75,92.3 77,88.1 79,90.3 80.9,86.8 82.9,87.7 84.9,87.1 86.9,86.7 88.9,91.2 90.9,81.6 92.8,86 94.8,84.9 96.8,86.6 98.8,86.5 100.8,81.5 102.8,86.8 104.7,86.3 106.7,84 108.7,83.1 110.7,81.5 112.7,83.5 114.7,87.9 116.6,90.7 118.6,90.6 120.6,87 122.6,85.9 124.6,80.3 126.6,79.9 128.5,79.3 130.5,78.7 132.5,83.9 134.5,81.7 136.5,84.7 138.5,85.2 140.4,77.5 142.4,81.4 144.4,80.8 146.4,79.8 148.4,79.4 150.4,79.4 152.4,81 154.3,74.9 156.3,81.4 158.3,84.2 160.3,79.2 162.3,77.6 164.3,80.1 166.2,82.7 168.2,83 170.2,74.8 172.2,73.9 174.2,77.6 176.2,77.1 178.1,79.2 180.1,74.8 182.1,74.5 184.1,71.3 186.1,71.8 188.1,66.7 190,67 192,67.6 194,72.1 196,74.2 198,73.7 200,75.8 201.9,68.9 203.9,70.2 205.9,73.5 207.9,71.3 209.9,73.9 211.9,73.3 213.8,74.3 215.8,77.1 217.8,73.2 219.8,73.7 221.8,71.1 223.8,73.1 225.7,78.1 227.7,82 229.7,83.2 231.7,83.3 233.7,82.7 235.7,80.6 237.6,83.2 239.6,81.6 241.6,82.1 243.6,79.4" stroke="rgb(155,155,155)"/>
<polyline points="37.3,79.4 39.3,81.4 41.3,83.8 43.3,88.1 45.2,81.9 47.2,78.7 49.2,76.7 51.2,75.7 53.2,81.3 55.2,81.6 57.1,80.7 59.1,77 61.1,79.9 63.1,78.8 65.1,79.2 67.1,78.9 69,80.9 71,79.4 73,78.9 75,83.9 77,79.7 79,73.2 80.9,76.1 82.9,73 84.9,76.2 86.9,77.8 88.9,72.8 90.9,72.7 92.8,69 94.8,69.1 96.8,67.2 98.8,68.8 100.8,65.8 102.8,62.1 104.7,62 106.7,65.3 108.7,67.7 110.7,71.4 112.7,70.3 114.7,69.6 116.6,72.4 118.6,70.3 120.6,72.7 122.6,68.1 124.6,66.8 126.6,63.5 128.5,67.1 130.5,71 132.5,76.7 134.5,74.9 136.5,78.2 138.5,74.2 140.4,74.1 142.4,72.2 144.4,76.3 146.4,77.9 148.4,77.2 150.4,75 152.4,78.7 154.3,77.5 156.3,79.6 158.3,77 160.3,77.5 162.3,78.2 164.3,76.7 166.2,73.4 168.2,74.4 170.2,71.2 172.2,74.6 174.2,74 176.2,77.4 178.1,76.6 180.1,79.1 182.1,78.7 184.1,76.6 186.1,79.3 188.1,83.8 190,83.3 192,81 194,79.8 196,81.9 198,78.9 200,79.4 201.9,76.9 203.9,79.3 205.9,77.7 207.9,74.2 209.9,76.3 211.9,77.1 213.8,75.3 215.8,74 217.8,73.3 219.8,74 221.8,78.6 223.8,78.3 225.7,81.7 227.7,80.8 229.7,86.8 231.7,81.6 233.7,75.7 235.7,74.9 237.6,77.6 239.6,78.5 241.6,77.7 243.6,79.4" stroke="rgb(154,154,154)"/>
<polyline points="37.3,79.4 39.3,76.8 41.3,73.6 43.3,66.3 45.2,62.2 47.2,62.6 49.2,62.1 51.2,65.3 53.2,68.6 55.2,73.8 57.1,69.7 59.1,71.9 61.1,75.2 63.1,77.8 65.1,77.3 67.1,79.4 69,79.3 71,78.7 73,74.4 75,79 77,78.1 79,80.5 80.9,81.8 82.9,76.1 84.9,74.4 86.9,76.3 88.9,75 90.9,75.6 92.8,72.3 94.8,74.8 96.8,73.7 98.8,75 100.8,75.5 102.8,76.4 104.7,78.8 106.7,78.5 108.7,75.3 110.7,77.8 112.7,79.2 114.7,78 116.6,80.6 118.6,77.6 120.6,75.5 122.6,83.5 124.6,85.1 126.6,88 128.5,84.2 130.5,80.5 132.5,84.3 134.5,85.9 136.5,85.4 138.5,85.8 140.4,82.7 142.4,79 144.4,77.1 146.4,73.7 148.4,71.3 150.4,72.5 152.4,74.7 154.3,77.7 156.3,75.1 158.3,72.7 160.3,70.1 162.3,72.3 164.3,74.4 166.2,74.1 168.2,70.5 170.2,70.4 172.2,70.7 174.2,74.4 176.2,73.5 178.1,72.4 180.1,76.3 182.1,70.9 184.1,74.9 186.1,72.3 188.1,73.8 190,73.9 192,77.1 194,79.2 196,76.9 198,77.8 200,79 201.9,76.1 203.9,74.1 205.9,74.2 207.9,74 209.9,68.9 211.9,70.7 213.8,70.4 215.8,70 217.8,75.7 219.8,82.5 221.8,81.6 223.8,78.5 225.7,77.9 227.7,79.8 229.7,81.8 231.7,78.8 233.7,79.8 235.7,84.6 237.6,81.5 239.6,80.3 241.6,79.4 243.6,79.4" stroke="rgb(154,154,154)"/>
<polyline points="37.3,79.4 39.3,75.8 41.3,75.9 43.3,78.5 45.2,79.8 47.2,79.7 49.2,82.1 51.2,81.1 53.2,76.1 55.2,78.1 57.1,78.1 59.1,74.8 61.1,77.1 63.1,79.6 65.1,82.4 67.1,81.1 69,79.6 71,80 73,79.8 75,76.5 77,74.6 79,78.9 80.9,79 82.9,78.9 84.9,77.1 86.9,78 88.9,79.9 90.9,81.1 92.8,85.6 94.8,85 96.8,86 98.8,84 100.8,86.2 102.8,86.6 104.7,88.4 106.7,90.2 108.7,87.1 110.7,87.5 112.7,85.5 114.7,87.7 116.6,86.6 118.6,90.2 120.6,90.3 122.6,90.4 124.6,87.6 126.6,86.3 128.5,86 130.5,83.1 132.5,82.3 134.5,80.7 136.5,78.6 138.5,79 140.4,79.9 142.4,79.1 144.4,80.4 146.4,79.3 148.4,76.6 150.4,74.8 152.4,76.5 154.3,80.3 156.3,80.4 158.3,80.8 160.3,77.8 162.3,79.1 164.3,79.8 166.2,78 168.2,79.5 170.2,80 172.2,75.6 174.2,72.3 176.2,71.7 178.1,72 180.1,75.5 182.1,74.7 184.1,75.2 186.1,75.3 188.1,77.2 190,77.6 192,78.5 194,77.9 196,74.5 198,74.2 200,79.3 201.9,82 203.9,85.9 205.9,87.3 207.9,85 209.9,83.4 211.9,84.6 213.8,83.4 215.8,85 217.8,88.2 219.8,90.9 221.8,91.9 223.8,86.8 225.7,89.5 227.7,85.2 229.7,81.2 231.7,81.6 233.7,81.6 235.7,82.8 237.6,82 239.6,80.3 241.6,79.9 243.6,79.4" stroke="rgb(153,153,153)"/>
<polyline points="37.3,79.4 39.3,84.1 41.3,85.9 43.3,88.1 45.2,88.5 47.2,85 49.2,82.4 51.2,84.2 53.2,83.9 55.2,83 57.1,83.8 59.1,83.2 61.1,84.9 63.1,86.5 65.1,85.4 67.1,87.8 69,85.4 71,85.2 73,87.2 75,88.1 77,88.5 79,87.8 80.9,86.3 82.9,86 84.9,87.9 86.9,82.3 88.9,79 90.9,78.6 92.8,75.6 94.8,74.9 96.8,76.2 98.8,76.2 100.8,68.2 102.8,66.3 104.7,64.5 106.7,67.4 108.7,66.9 110.7,61.2 112.7,62 114.7,60.6 116.6,58.9 118.6,59.2 120.6,56.6 122.6,58.5 124.6,59.4 126.6,63.7 128.5,57.2 130.5,58.8 132.5,60.9 134.5,58.7 136.5,62.6 138.5,64.5 140.4,68.7 142.4,69.8 144.4,72.1 146.4,71.2 148.4,72.4 150.4,75.1 152.4,76.4 154.3,77 156.3,78.8 158.3,75.9 160.3,74.1 162.3,74.2 164.3,78.5 166.2,76.9 168.2,81.1 170.2,80.2 172.2,79.9 174.2,81.6 176.2,83.8 178.1,85.3 180.1,78.2 182.1,79 184.1,79.6 186.1,76.5 188.1,75.5 190,72.6 192,77.1 194,80.7 196,70.1 198,71.3 200,73.1 201.9,73.2 203.9,70.8 205.9,75.4 207.9,75 209.9,75.5 211.9,73.8 213.8,73.8 215.8,76.1 217.8,79.1 219.8,86.6 221.8,82.6 223.8,86.7 225.7,87 227.7,80.8 229.7,81.9 231.7,79.6 233.7,80.1 235.7,77.9 237.6,78.2 239.6,79.5 241.6,77.7 243.6,79.4" stroke="rgb(152,152,152)"/>
<polyline points="37.3,79.4 39.3,79.3 41.3,79.5 43.3,79.7 45.2,80.8 47.2,82.5 49.2,86.1 51.2,88.7 53.2,90.1 55.2,87.2 57.1,87.5 59.1,88.7 61.1,85.9 63.1,83.7 65.1,85.1 67.1,86 69,83.5 71,82.1 73,83.9 75,82.8 77,82.4 79,79.2 80.9,81.5 82.9,79 84.9,77.9 86.9,80.7 88.9,77.8 90.9,75.7 92.8,79.5 94.8,74.5 96.8,78 98.8,80.5 100.8,81.2 102.8,79 104.7,77.6 106.7,78 108.7,74.7 110.7,74.2 112.7,71.3 114.7,65.1 116.6,66.3 118.6,74.5 120.6,76.2 122.6,79.3 124.6,79.1 126.6,78.9 128.5,82.1 130.5,84.7 132.5,84.7 134.5,84.6 136.5,90.6 138.5,86.8 140.4,85.8 142.4,85.1 144.4,83.6 146.4,85.8 148.4,85.1 150.4,81.8 152.4,78.7 154.3,77.6 156.3,78.6 158.3,80.8 160.3,77.2 162.3,76.1 164.3,77.6 166.2,83.4 168.2,85.2 170.2,89.5 172.2,85 174.2,83.9 176.2,85.3 178.1,85.3 180.1,77.8 182.1,74.9 184.1,78.9 186.1,79.3 188.1,82.5 190,86.6 192,85.3 194,78.3 196,74.4 198,74.9 200,76.4 201.9,76.2 203.9,73.9 205.9,78.4 207.9,83.4 209.9,78 211.9,77.4 213.8,73.5 215.8,73.6 217.8,70.4 219.8,73.1 221.8,72.5 223.8,69.3 225.7,67.8 227.7,70.4 229.7,69.2 231.7,72.1 233.7,76.7 235.7,76 237.6,74 239.6,74.3 241.6,77.8 243.6,79.4" stroke="rgb(152,152,152)"/>
<polyline points="37.3,79.4 39.3,80.3 41.3,81.8 43.3,84.4 45.2,82 47.2,83 49.2,78.8 51.2,80.9 53.2,79.7 55.2,80.2 57.1,82.1 59.1,80.2 61.1,80.5 63.1,78.9 65.1,79.1 67.1,81.9 69,81.8 71,81.4 73,78.7 75,81.1 77,81 79,85.2 80.9,82.8 82.9,85.2 84.9,89.1 86.9,88.1 88.9,84.2 90.9,87.5 92.8,89.3 94.8,90 96.8,91.6 98.8,89.2 100.8,90 102.8,90.6 104.7,87.8 106.7,88.7 108.7,86.5 110.7,88.1 112.7,90.1 114.7,93.5 116.6,87.1 118.6,87 120.6,85.4 122.6,84.8 124.6,83.7 126.6,83.1 128.5,77.8 130.5,80.6 132.5,84.4 134.5,86.4 136.5,89 138.5,85.9 140.4,83 142.4,85.1 144.4,87.9 146.4,87.8 148.4,83.2 150.4,89.9 152.4,87.3 154.3,89.1 156.3,85.3 158.3,87.3 160.3,87.1 162.3,90 164.3,91.2 166.2,86.3 168.2,83.4 170.2,83.9 172.2,85.6 174.2,89.6 176.2,89.4 178.1,88.3 180.1,87.4 182.1,86.7 184.1,88.7 186.1,87.7 188.1,86.8 190,82.7 192,77.5 194,78.1 196,80.2 198,80.3 200,81.7 201.9,83.3 203.9,83 205.9,85.2 207.9,83 209.9,82.8 211.9,81.8 213.8,81.9 215.8,83.5 217.8,85.4 219.8,85.3 221.8,86 223.8,84.6 225.7,84 227.7,86.9 229.7,85.8 231.7,88.5 233.7,88.9 235.7,87.9 237.6,89.8 239.6,86.4 241.6,83.3 243.6,79.4" stroke="rgb(152,152,152)"/>
<polyline points="37.3,79.4 39.3,79.2 41.3,80.4 43.3,80.1 45.2,80.7 47.2,81.3 49.2,80.4 51.2,79.9 53.2,76.5 55.2,77.4 57.1,80 59.1,80.1 61.1,76.7 63.1,78.4 65.1,78.5 67.1,79.5 69,78.6 71,78.2 73,80.3 75,80.8 77,78.5 79,76.2 80.9,74.5 82.9,73.2 84.9,74.8 86.9,76.3 88.9,74.6 90.9,77.9 92.8,78.3 94.8,82.8 96.8,83.4 98.8,84.6 100.8,86.8 102.8,84.7 104.7,85.8 106.7,86 108.7,85.9 110.7,86.9 112.7,82.8 114.7,83.6 116.6,82.7 118.6,85.4 120.6,85.8 122.6,85.9 124.6,85.9 126.6,86.5 128.5,85.4 130.5,81.2 132.5,81.4 134.5,81.5 136.5,82.2 138.5,76.1 140.4,72.9 142.4,72.5 144.4,71.7 146.4,74.4 148.4,75.4 150.4,75.5 152.4,75.7 154.3,78.2 156.3,80.2 158.3,79 160.3,78.4 162.3,83.5 164.3,82.8 166.2,79.6 168.2,81.1 170.2,80.4 172.2,83.7 174.2,81.4 176.2,83.8 178.1,86.2 180.1,86.2 182.1,80 184.1,81.4 186.1,84.1 188.1,82.6 190,81.7 192,77.7 194,80.9 196,84.5 198,84.7 200,83.2 201.9,82 203.9,79.3 205.9,82.8 207.9,84.4 209.9,84.1 211.9,81.7 213.8,80.4 215.8,81.3 217.8,83.5 219.8,81.1 221.8,78.8 223.8,72.7 225.7,73.9 227.7,70.9 229.7,74.8 231.7,76.7 233.7,78.6 235.7,79.8 237.6,81.3 239.6,81.5 241.6,80.7 243.6,79.4" stroke="rgb(151,151,151)"/>
<polyline points="37.3,79.4 39.3,81.5 41.3,82 43.3,81.6 45.2,80 47.2,76.1 49.2,74.5 51.2,76 53.2,76.2 55.2,75.1 57.1,78.1 59.1,75 61.1,73.4 63.1,74.6 65.1,76.8 67.1,67.8 69,67.1 71,66.3 73,63.5 75,63 77,64.4 79,64.5 80.9,68.5 82.9,68.1 84.9,73.2 86.9,72.9 88.9,72.3 90.9,76.9 92.8,72.5 94.8,76.1 96.8,74 98.8,75.9 100.8,75.5 102.8,77.6 104.7,71.7 106.7,70.1 108.7,66.8 110.7,66.3 112.7,66.2 114.7,67.4 116.6,69.4 118.6,69 120.6,69.9 122.6,71.3 124.6,75.6 126.6,76.8 128.5,75.6 130.5,77.1 132.5,76.5 134.5,77.2 136.5,79.9 138.5,82 140.4,83.4 142.4,83.6 144.4,83.7 146.4,80.4 148.4,82.9 150.4,87.4 152.4,84.7 154.3,85.1 156.3,84.7 158.3,77.8 160.3,74.3 162.3,73.4 164.3,71.8 166.2,72.3 168.2,70.8 170.2,73.2 172.2,75.7 174.2,77.2 176.2,73.5 178.1,70.4 180.1,72.9 182.1,70.7 184.1,72.1 186.1,70.3 188.1,72.1 190,70.5 192,71.8 194,73.3 196,74.1 198,74.2 200,76.2 201.9,79.8 203.9,75.6 205.9,76.9 207.9,81.6 209.9,86.8 211.9,92.7 213.8,92.5 215.8,87.5 217.8,90.5 219.8,89.8 221.8,93 223.8,88.6 225.7,86.5 227.7,84.8 229.7,80.7 231.7,76.5 233.7,74.2 235.7,76.4 237.6,79.6 239.6,81.1 241.6,82.1 243.6,79.4" stroke="rgb(151,151,151)"/>
<polyline points="37.3,79.4 39.3,73.4 41.3,68.7 43.3,71.1 45.2,67.2 47.2,67.7 49.2,62.6 51.2,66.8 53.2,62.2 55.2,61.9 57.1,61.4 59.1,66 61.1,65.7 63.1,65.2 65.1,69.6 67.1,74.6 69,77.7 71,73.1 73,73.3 75,71 77,71 79,71.7 80.9,71.9 82.9,74.1 84.9,70.7 86.9,71.2 88.9,71.4 90.9,77 92.8,76.2 94.8,78.8 96.8,80.6 98.8,77 100.8,80.9 102.8,81.4 104.7,79.1 106.7,75.3 108.7,77.5 110.7,76.7 112.7,76.1 114.7,80.2 116.6,87.1 118.6,92.6 120.6,89 122.6,87.5 124.6,91 126.6,91.7 128.5,91.5 130.5,91.3 132.5,89.9 134.5,81.4 136.5,83.7 138.5,82.8 140.4,84.9 142.4,86.3 144.4,88.4 146.4,88.1 148.4,88.8 150.4,86.6 152.4,85 154.3,87.3 156.3,80 158.3,83.8 160.3,82.1 162.3,74.6 164.3,77.6 166.2,73.4 168.2,69.5 170.2,69.5 172.2,76.8 174.2,72.5 176.2,73 178.1,75.6 180.1,71.8 182.1,75.1 184.1,72.1 186.1,74.8 188.1,73.6 190,77.8 192,79.3 194,82.4 196,84.4 198,83.1 200,83.3 201.9,82.2 203.9,77.6 205.9,78.2 207.9,84.5 209.9,84.8 211.9,83.9 213.8,80 215.8,76.5 217.8,73.8 219.8,75.2 221.8,73.6 223.8,79 225.7,74.8 227.7,73.9 229.7,72.9 231.7,74.9 233.7,75.3 235.7,78.1 237.6,77 239.6,80.4 241.6,78.7 243.6,79.4" stroke="rgb(151,151,151)"/>
<polyline points="37.3,79.4 39.3,79.2 41.3,78 43.3,78.6 45.2,76.2 47.2,78.2 49.2,75.6 51.2,80.2 53.2,83.7 55.2,83 57.1,78.8 59.1,74.6 61.1,77.4 63.1,77.8 65.1,79.3 67.1,85 69,82.4 71,83.1 73,79 75,78.3 77,79.8 79,81.6 80.9,81.9 82.9,80.4 84.9,81.6 86.9,73.8 88.9,73.9 90.9,77.6 92.8,77.6 94.8,74.8 96.8,74.2 98.8,75.7 100.8,77.9 102.8,80.2 104.7,83.3 106.7,84.2 108.7,82.9 110.7,84 112.7,79.1 114.7,78.2 116.6,79.5 118.6,79.6 120.6,75.6 122.6,80.7 124.6,79.9 126.6,72.7 128.5,70.8 130.5,74.3 132.5,74.5 134.5,75.8 136.5,68.8 138.5,71.8 140.4,73.5 142.4,75.1 144.4,79.4 146.4,88.2 148.4,87.8 150.4,85.4 152.4,85.9 154.3,83.8 156.3,81.3 158.3,79.2 160.3,83.7 162.3,79.2 164.3,76.9 166.2,75.1 168.2,75.6 170.2,76.1 172.2,77.9 174.2,77 176.2,74.8 178.1,76.9 180.1,75 182.1,76.8 184.1,75.5 186.1,76.4 188.1,74.4 190,69.9 192,70.4 194,72.8 196,74.8 198,73.6 200,75.7 201.9,73.5 203.9,73.4 205.9,71.7 207.9,74.1 209.9,77.3 211.9,79.6 213.8,78.5 215.8,80.7 217.8,78.7 219.8,84.3 221.8,85.5 223.8,85.2 225.7,89.4 227.7,89.8 229.7,92.6 231.7,91.2 233.7,90.4 235.7,86.5 237.6,86.4 239.6,86.9 241.6,84.4 243.6,79.4" stroke="rgb(151,151,151)"/>
<polyline points="37.3,79.4 39.3,76.8 41.3,72.8 43.3,73.9 45.2,76.8 47.2,72.9 49.2,74.3 51.2,74.5 53.2,76 55.2,80.4 57.1,81.6 59.1,84.6 61.1,89 63.1,88.9 65.1,82.1 67.1,76.6 69,77.2 71,77.1 73,75.8 75,71.9 77,71.9 79,74.4 80.9,76.4 82.9,73.2 84.9,65.5 86.9,69.3 88.9,77.3 90.9,75 92.8,75.9 94.8,76 96.8,72.4 98.8,73.1 100.8,78.3 102.8,85 104.7,84.6 106.7,87.8 108.7,86 110.7,89.4 112.7,89.5 114.7,93.2 116.6,92.8 118.6,92.8 120.6,89.3 122.6,83.8 124.6,84 126.6,86.3 128.5,79.2 130.5,78.1 132.5,76.4 134.5,74.8 136.5,70.7 138.5,68.5 140.4,67.7 142.4,66.7 144.4,71.1 146.4,74.2 148.4,75.3 150.4,75.5 152.4,76 154.3,75.5 156.3,76 158.3,77.9 160.3,83.5 162.3,80.3 164.3,78.4 166.2,81.5 168.2,79.7 170.2,78.4 172.2,78.4 174.2,84.6 176.2,88 178.1,89.1 180.1,82.7 182.1,85.2 184.1,85.7 186.1,88.7 188.1,89.3 190,87 192,93 194,100.8 196,96.1 198,94.1 200,94.4 201.9,89.5 203.9,85.2 205.9,91.5 207.9,90.6 209.9,85.7 211.9,87.3 213.8,87.4 215.8,83.4 217.8,83.9 219.8,87.4 221.8,88.8 223.8,92.1 225.7,88.8 227.7,93.4 229.7,88.5 231.7,92.9 233.7,91.3 235.7,93.6 237.6,90.8 239.6,85.3 241.6,81.4 243.6,79.4" stroke="rgb(151,151,151)"/>
<polyline points="37.3,79.4 39.3,81.6 41.3,85.8 43.3,83.5 45.2,85.2 47.2,82.6 49.2,81.7 51.2,89.3 53.2,90.5 55.2,88.5 57.1,82.6 59.1,81.3 61.1,80.3 63.1,84.5 65.1,79.5 67.1,74 69,74.5 71,75.8 73,81.2 75,78.3 77,70.1 79,69 80.9,66.4 82.9,66.3 84.9,70.9 86.9,67.8 88.9,73 90.9,74.4 92.8,74.1 94.8,72.1 96.8,71.7 98.8,71.4 100.8,74.7 102.8,79.2 104.7,79.1 106.7,81.3 108.7,85.1 110.7,88.3 112.7,88.7 114.7,93.3 116.6,95.8 118.6,98.8 120.6,95.9 122.6,92.7 124.6,84.9 126.6,88.9 128.5,89.8 130.5,85.8 132.5,85.7 134.5,85.9 136.5,79.9 138.5,80.9 140.4,84.2 142.4,87.7 144.4,85.7 146.4,84 148.4,87.6 150.4,89.7 152.4,86.8 154.3,84.1 156.3,85.6 158.3,82.9 160.3,80.7 162.3,86 164.3,86.2 166.2,84.1 168.2,85.3 170.2,91.2 172.2,90.6 174.2,87 176.2,81.2 178.1,87.7 180.1,78.7 182.1,82.2 184.1,79 186.1,75.2 188.1,72.7 190,73 192,77.4 194,75.7 196,78.3 198,86.2 200,76.7 201.9,74.9 203.9,69.8 205.9,73.8 207.9,69.9 209.9,66.2 211.9,63 213.8,65 215.8,70.5 217.8,72.1 219.8,79.7 221.8,84.9 223.8,84 225.7,86.5 227.7,86.1 229.7,85.6 231.7,79 233.7,75 235.7,76 237.6,74 239.6,77.1 241.6,78.5 243.6,79.4" stroke="rgb(149,149,149)"/>
<polyline points="37.3,79.4 39.3,81.3 41.3,83.1 43.3,82.2 45.2,81.2 47.2,80.8 49.2,78 51.2,74.1 53.2,77.3 55.2,75.1 57.1,69.9 59.1,72.6 61.1,74.8 63.1,74.4 65.1,74.5 67.1,76.4 69,77 71,73.3 73,71.8 75,74.7 77,79.5 79,82.3 80.9,81.5 82.9,83.2 84.9,84.8 86.9,82.4 88.9,82.8 90.9,83.3 92.8,82.3 94.8,78.4 96.8,77.8 98.8,76.3 100.8,76.5 102.8,73 104.7,76.8 106.7,79.9 108.7,81.1 110.7,75.9 112.7,72.5 114.7,76.1 116.6,77.6 118.6,76.5 120.6,76.7 122.6,74.8 124.6,76.6 126.6,81 128.5,79.3 130.5,76.2 132.5,80.4 134.5,85 136.5,85.4 138.5,89.3 140.4,87.1 142.4,89 144.4,86 146.4,86.1 148.4,85 150.4,82.7 152.4,82.8 154.3,84.9 156.3,82 158.3,85.3 160.3,81.1 162.3,82.4 164.3,83.4 166.2,81.9 168.2,80.6 170.2,79.2 172.2,82.8 174.2,84.6 176.2,83.1 178.1,81.8 180.1,81.7 182.1,78.2 184.1,78.8 186.1,76.5 188.1,74.2 190,74 192,75.1 194,73.8 196,73.3 198,72.5 200,75.5 201.9,74.8 203.9,71.4 205.9,73 207.9,73.5 209.9,74.8 211.9,73.1 213.8,79 215.8,75 217.8,74.3 219.8,75.5 221.8,75.2 223.8,72.9 225.7,72.8 227.7,71.9 229.7,69.8 231.7,70.5 233.7,69.7 235.7,68.1 237.6,69.9 239.6,73.8 241.6,75.4 243.6,79.4" stroke="rgb(149,149,149)"/>
<polyline points="37.3,79.4 39.3,82 41.3,81.7 43.3,81.7 45.2,78.2 47.2,78.4 49.2,75.3 51.2,78.7 53.2,76.9 55.2,77.9 57.1,77.5 59.1,77.5 61.1,74.8 63.1,81.6 65.1,80.3 67.1,84.9 69,80.5 71,86.5 73,88.7 75,92.8 77,86.1 79,89.3 80.9,87.8 82.9,88.4 84.9,92.9 86.9,92.3 88.9,88.7 90.9,88.2 92.8,84.2 94.8,84.8 96.8,84.1 98.8,84.7 100.8,83 102.8,76.7 104.7,75.9 106.7,75.7 108.7,78.1 110.7,80.6 112.7,75.9 114.7,79.8 116.6,82.6 118.6,82.5 120.6,83.4 122.6,76.9 124.6,84.5 126.6,82.8 128.5,80.2 130.5,83.5 132.5,85 134.5,83 136.5,77.5 138.5,80.6 140.4,85.4 142.4,81.6 144.4,76.6 146.4,78 148.4,85 150.4,79.9 152.4,80.4 154.3,76.8 156.3,77.3 158.3,78.7 160.3,80.2 162.3,75.5 164.3,71.5 166.2,79.1 168.2,82 170.2,76.2 172.2,77.7 174.2,82.2 176.2,81.8 178.1,81.9 180.1,81.9 182.1,83.1 184.1,83.6 186.1,84.5 188.1,82.8 190,84.9 192,85.2 194,84.9 196,80.2 198,79 200,79.4 201.9,77.7 203.9,76.6 205.9,73.6 207.9,72.7 209.9,68 211.9,65.2 213.8,67 215.8,69.8 217.8,68.2 219.8,67.9 221.8,69.6 223.8,75.4 225.7,81.5 227.7,80.2 229.7,77.7 231.7,75.4 233.7,79.9 235.7,76.8 237.6,78.8 239.6,78.2 241.6,78.2 243.6,79.4" stroke="rgb(149,149,149)"/>
<polyline points="37.3,79.4 39.3,83.9 41.3,85.2 43.3,79.6 45.2,78.1 47.2,82.2 49.2,83.4 51.2,78.9 53.2,83.4 55.2,83.6 57.1,84.1 59.1,76.8 61.1,78.2 63.1,74.3 65.1,77.1 67.1,80 69,76.9 71,75.3 73,81.3 75,79.2 77,77.3 79,79.6 80.9,79 82.9,78.3 84.9,80 86.9,81.9 88.9,83.8 90.9,84.2 92.8,87.8 94.8,87.1 96.8,90.9 98.8,89.4 100.8,88.5 102.8,90.8 104.7,86.9 106.7,80 108.7,75.9 110.7,80.7 112.7,76.7 114.7,76.4 116.6,77.1 118.6,79.3 120.6,79.4 122.6,75.2 124.6,74.1 126.6,76.2 128.5,78.7 130.5,80.2 132.5,78.4 134.5,72.8 136.5,77 138.5,77.4 140.4,78.9 142.4,81.5 144.4,80.1 146.4,78.4 148.4,83 150.4,85.9 152.4,81.5 154.3,80.4 156.3,78.8 158.3,80.5 160.3,81.7 162.3,80.1 164.3,81.6 166.2,84.9 168.2,84.4 170.2,81.1 172.2,84.2 174.2,80.4 176.2,78.2 178.1,81.2 180.1,81 182.1,81.1 184.1,79 186.1,77.1 188.1,81.5 190,85.6 192,81.7 194,81.2 196,79.8 198,78.8 200,74.2 201.9,78.7 203.9,75.5 205.9,78.6 207.9,76.6 209.9,72.9 211.9,78 213.8,77.1 215.8,78.3 217.8,79.5 219.8,79.4 221.8,82.8 223.8,85.5 225.7,82.8 227.7,79.9 229.7,81.7 231.7,86 233.7,78.2 235.7,75.3 237.6,75.6 239.6,78.8 241.6,79.8 243.6,79.4" stroke="rgb(149,149,149)"/>
<polyline points="37.3,79.4 39.3,82.9 41.3,82.6 43.3,81.3 45.2,81.2 47.2,80.8 49.2,81.2 51.2,79.1 53.2,78.9 55.2,81.3 57.1,80.7 59.1,77.9 61.1,77 63.1,77.2 65.1,76.9 67.1,78.6 69,79.9 71,85.1 73,84.9 75,81.5 77,82.3 79,84.5 80.9,81.4 82.9,80.7 84.9,80.1 86.9,78.7 88.9,76.9 90.9,77.3 92.8,79.8 94.8,75 96.8,75.3 98.8,77.9 100.8,77.6 102.8,74.5 104.7,79 106.7,75.4 108.7,76.3 110.7,71.1 112.7,70.3 114.7,71.6 116.6,69.1 118.6,66.8 120.6,69.3 122.6,69.8 124.6,72.4 126.6,70.7 128.5,75.6 130.5,76.5 132.5,82.8 134.5,80.7 136.5,86.7 138.5,88.7 140.4,86.9 142.4,86.9 144.4,87.2 146.4,89 148.4,89.1 150.4,92.7 152.4,90.2 154.3,86.7 156.3,83.7 158.3,83.3 160.3,79.4 162.3,78.2 164.3,75.7 166.2,75 168.2,75.4 170.2,78 172.2,85.4 174.2,82.9 176.2,82.8 178.1,76.9 180.1,82.6 182.1,79.9 184.1,82.5 186.1,82.1 188.1,84.2 190,82.6 192,82.3 194,79.5 196,79.1 198,77.8 200,74.5 201.9,73.6 203.9,74.7 205.9,71.8 207.9,73 209.9,72.7 211.9,74.3 213.8,76.7 215.8,85.3 217.8,82.7 219.8,85.4 221.8,82.7 223.8,77.3 225.7,81.2 227.7,78.5 229.7,78.9 231.7,77.7 233.7,81.1 235.7,80.7 237.6,80 239.6,77.4 241.6,75.9 243.6,79.4" stroke="rgb(149,149,149)"/>
<polyline points="37.3,79.4 39.3,81 41.3,83.6 43.3,83.6 45.2,83.2 47.2,83 49.2,83.6 51.2,81.8 53.2,85.4 55.2,83.6 57.1,82.6 59.1,81.5 61.1,80.4 63.1,81.8 65.1,82.1 67.1,80.3 69,79.2 71,78.7 73,82.3 75,80.7 77,77.8 79,75.6 80.9,75.5 82.9,79.7 84.9,77.4 86.9,78 88.9,84.1 90.9,82.7 92.8,85.8 94.8,88.1 96.8,88.5 98.8,84.4 100.8,84.7 102.8,83.4 104.7,78.8 106.7,75.2 108.7,75.9 110.7,76.9 112.7,80.2 114.7,81.7 116.6,80.4 118.6,79.4 120.6,79.1 122.6,76.8 124.6,78.9 126.6,79.1 128.5,77.4 130.5,76.3 132.5,74.2 134.5,73.9 136.5,75.2 138.5,74.9 140.4,77.8 142.4,81.8 144.4,80.2 146.4,80.2 148.4,79.4 150.4,83.4 152.4,83.8 154.3,84.6 156.3,86 158.3,90.5 160.3,90 162.3,86.6 164.3,84.9 166.2,85.6 168.2,84.9 170.2,82.5 172.2,88.6 174.2,87.8 176.2,85.5 178.1,83.2 180.1,78.7 182.1,76.1 184.1,75.8 186.1,75.5 188.1,74.1 190,76 192,76.5 194,74.7 196,70.7 198,72.1 200,73.1 201.9,73.4 203.9,71 205.9,72 207.9,69.5 209.9,72.9 211.9,74.2 213.8,75.2 215.8,73.9 217.8,72.1 219.8,76.5 221.8,79 223.8,78.3 225.7,80 227.7,83.5 229.7,80.5 231.7,79.2 233.7,78.1 235.7,79.4 237.6,77.5 239.6,78.4 241.6,77.8 243.6,79.4" stroke="rgb(149,149,149)"/>
<polyline points="37.3,79.4 39.3,82.8 41.3,84.4 43.3,88.2 45.2,86.8 47.2,90.1 49.2,92.5 51.2,86.7 53.2,88.8 55.2,84.1 57.1,78.4 59.1,77.7 61.1,76 63.1,69.9 65.1,71.7 67.1,74.6 69,79.7 71,79.5 73,74.6 75,72 77,76 79,79.3 80.9,81 82.9,79.8 84.9,80.4 86.9,79.6 88.9,78.6 90.9,79.7 92.8,79.8 94.8,79 96.8,79.4 98.8,77.7 100.8,71.7 102.8,70.6 104.7,71.5 106.7,78.1 108.7,76.9 110.7,83.7 112.7,87.9 114.7,84 116.6,81.1 118.6,81.4 120.6,86.9 122.6,87.2 124.6,88.5 126.6,85.3 128.5,77.1 130.5,76.6 132.5,79.6 134.5,83.4 136.5,83.1 138.5,83.3 140.4,86.7 142.4,85.4 144.4,88.5 146.4,83.7 148.4,79.7 150.4,76 152.4,78 154.3,76.5 156.3,77.2 158.3,78.8 160.3,80 162.3,84.3 164.3,88.5 166.2,84.8 168.2,84.7 170.2,83.4 172.2,79.6 174.2,85.3 176.2,87.2 178.1,85.7 180.1,83.6 182.1,84.4 184.1,80.4 186.1,79.5 188.1,83.6 190,86.2 192,82.7 194,80.7 196,86.9 198,81.5 200,79.3 201.9,74.8 203.9,76.6 205.9,78 207.9,81.9 209.9,73.1 211.9,74.5 213.8,69.8 215.8,73.1 217.8,73.3 219.8,79.6 221.8,80.8 223.8,77.4 225.7,81.8 227.7,77.9 229.7,77 231.7,80.8 233.7,82.3 235.7,83.2 237.6,82.3 239.6,82.5 241.6,82.3 243.6,79.4" stroke="rgb(148,148,148)"/>
<polyline points="37.3,79.4 39.3,76 41.3,76.1 43.3,72 45.2,68.1 47.2,69.4 49.2,66.4 51.2,66.9 53.2,70.6 55.2,75.7 57.1,76.5 59.1,73.5 61.1,78.8 63.1,84.3 65.1,81.9 67.1,90.8 69,83.3 71,84.3 73,81.2 75,74.7 77,80.2 79,83.7 80.9,75.5 82.9,77 84.9,77.7 86.9,77.1 88.9,73.8 90.9,70 92.8,70.7 94.8,72.9 96.8,73.8 98.8,73.4 100.8,69.7 102.8,70.4 104.7,65.3 106.7,69.9 108.7,69.2 110.7,64.5 112.7,61.9 114.7,62.9 116.6,67.9 118.6,71.7 120.6,73.1 122.6,72.8 124.6,74.5 126.6,80 128.5,82.4 130.5,80.3 132.5,77.4 134.5,82.4 136.5,83.2 138.5,88.5 140.4,89.3 142.4,76.1 144.4,76.3 146.4,77.8 148.4,80 150.4,84 152.4,89.8 154.3,88.7 156.3,88.5 158.3,82.4 160.3,87.6 162.3,85.1 164.3,79.9 166.2,86.5 168.2,83.4 170.2,88.4 172.2,85.5 174.2,79.8 176.2,79.8 178.1,78.7 180.1,81.2 182.1,80 184.1,76.1 186.1,77.1 188.1,77.8 190,76.7 192,74.2 194,80.4 196,80.1 198,82.3 200,80.3 201.9,76.7 203.9,75.9 205.9,71.9 207.9,76.2 209.9,78 211.9,81.5 213.8,81.1 215.8,80.5 217.8,81.1 219.8,85 221.8,84.6 223.8,85.4 225.7,82.7 227.7,83.2 229.7,78.8 231.7,78.1 233.7,84.5 235.7,84.1 237.6,86.7 239.6,82.4 241.6,79.2 243.6,79.4" stroke="rgb(148,148,148)"/>
<polyline points="37.3,79.4 39.3,83.3 41.3,82 43.3,78.6 45.2,76.1 47.2,79.9 49.2,71.3 51.2,76.1 53.2,76.6 55.2,81.6 57.1,76.8 59.1,75.5 61.1,72.9 63.1,73.3 65.1,74.1 67.1,74 69,80.8 71,77.2 73,74.3 75,76.1 77,76.4 79,75.6 80.9,70.7 82.9,70.2 84.9,71 86.9,73.6 88.9,79.1 90.9,81 92.8,80.4 94.8,81 96.8,80.4 98.8,77.7 100.8,76.3 102.8,75.6 104.7,73.7 106.7,73.7 108.7,74.3 110.7,73.2 112.7,79.5 114.7,75.2 116.6,79.8 118.6,76.8 120.6,77 122.6,73.4 124.6,73.9 126.6,77.5 128.5,74 130.5,73.9 132.5,74 134.5,74.2 136.5,71.3 138.5,69.4 140.4,69.7 142.4,75.8 144.4,77.4 146.4,77.1 148.4,71.3 150.4,70.8 152.4,72 154.3,68.7 156.3,70.2 158.3,71.2 160.3,71.5 162.3,77.2 164.3,74.1 166.2,73.2 168.2,74.7 170.2,78.9 172.2,78 174.2,73.4 176.2,76 178.1,79.8 180.1,78.2 182.1,83.4 184.1,90.1 186.1,90.1 188.1,91 190,90.3 192,90.6 194,88 196,87.5 198,88.3 200,88.6 201.9,85.2 203.9,81.1 205.9,77.7 207.9,75.4 209.9,86.7 211.9,88.9 213.8,88.6 215.8,86.6 217.8,91 219.8,84.7 221.8,82.8 223.8,84.3 225.7,82.9 227.7,83.5 229.7,85.3 231.7,82.7 233.7,83.6 235.7,87 237.6,86.5 239.6,84.4 241.6,83.7 243.6,79.4" stroke="rgb(148,148,148)"/>
<polyline points="37.3,79.4 39.3,85.4 41.3,89.2 43.3,88.5 45.2,87.3 47.2,91.4 49.2,89.9 51.2,92 53.2,85.2 55.2,85.9 57.1,86.3 59.1,85.1 61.1,85 63.1,84.5 65.1,79.1 67.1,78.4 69,75.9 71,72.8 73,76.5 75,71.6 77,70.4 79,68.5 80.9,72.4 82.9,70.7 84.9,70.4 86.9,73.1 88.9,66.8 90.9,66.5 92.8,68.7 94.8,69.4 96.8,67.7 98.8,65.6 100.8,65.4 102.8,63.3 104.7,60.7 106.7,66.6 108.7,69.6 110.7,73.6 112.7,73.9 114.7,70.1 116.6,69.2 118.6,73.5 120.6,75.1 122.6,72.4 124.6,74.8 126.6,75.6 128.5,75 130.5,81.1 132.5,78.4 134.5,77.4 136.5,75.9 138.5,79.2 140.4,81.5 142.4,83.1 144.4,81.8 146.4,81.2 148.4,80.6 150.4,74.9 152.4,71.3 154.3,74.5 156.3,77 158.3,72 160.3,73.8 162.3,70.1 164.3,66.3 166.2,69.5 168.2,71.4 170.2,72.1 172.2,75.5 174.2,78.9 176.2,80.2 178.1,77.4 180.1,78.9 182.1,79.6 184.1,80.9 186.1,84.9 188.1,79.6 190,86.7 192,87.8 194,85 196,88.5 198,85.5 200,80.9 201.9,83.3 203.9,82.1 205.9,85.1 207.9,82.8 209.9,82.1 211.9,81 213.8,76.6 215.8,75.4 217.8,71.7 219.8,70.6 221.8,75.3 223.8,74.9 225.7,73.9 227.7,78.9 229.7,74.9 231.7,75.1 233.7,74.5 235.7,77.9 237.6,78 239.6,77.9 241.6,78.9 243.6,79.4" stroke="rgb(148,148,148)"/>
<polyline points="37.3,79.4 39.3,74.9 41.3,77.6 43.3,77.2 45.2,76.2 47.2,79.3 49.2,82.9 51.2,76.8 53.2,78.1 55.2,72.8 57.1,72.2 59.1,72.9 61.1,72.4 63.1,71.6 65.1,69.4 67.1,69.5 69,70.3 71,70.9 73,68.4 75,67.6 77,71.6 79,74.2 80.9,74 82.9,76.3 84.9,77.6 86.9,80.3 88.9,80.9 90.9,79.6 92.8,77 94.8,77.2 96.8,72.1 98.8,73.1 100.8,65.5 102.8,64.6 104.7,65 106.7,68.1 108.7,76.8 110.7,77.6 112.7,77.3 114.7,72.5 116.6,77 118.6,72.3 120.6,73.8 122.6,72.5 124.6,80 126.6,79.6 128.5,80.5 130.5,78.6 132.5,78.4 134.5,81.5 136.5,78.8 138.5,77 140.4,75.8 142.4,73.5 144.4,71.4 146.4,72.4 148.4,76.8 150.4,80.7 152.4,77 154.3,75.5 156.3,75.7 158.3,77.2 160.3,77.4 162.3,77.6 164.3,78.7 166.2,80.6 168.2,74.8 170.2,74.7 172.2,76.9 174.2,80.6 176.2,82.4 178.1,80.1 180.1,78 182.1,78.8 184.1,78.7 186.1,79.6 188.1,82.5 190,78.7 192,77.8 194,71.5 196,74.4 198,75.4 200,73.6 201.9,74.9 203.9,79.1 205.9,81.6 207.9,81.1 209.9,80 211.9,80.2 213.8,77.4 215.8,75.1 217.8,74.7 219.8,75.2 221.8,76.4 223.8,75.3 225.7,73.4 227.7,73.9 229.7,73.4 231.7,75 233.7,79.2 235.7,81.7 237.6,79.5 239.6,78.8 241.6,77.4 243.6,79.4" stroke="rgb(148,148,148)"/>
<polyline points="37.3,79.4 39.3,82.7 41.3,82.2 43.3,77.8 45.2,75.9 47.2,75.7 49.2,75.8 51.2,71.8 53.2,75 55.2,75.8 57.1,75.1 59.1,73.7 61.1,75.5 63.1,75.2 65.1,76.4 67.1,76.5 69,77.1 71,80.3 73,80.2 75,77.9 77,80.5 79,81 80.9,79.1 82.9,81.8 84.9,81.1 86.9,83.5 88.9,80.2 90.9,74.3 92.8,69.9 94.8,71.6 96.8,70.7 98.8,71.4 100.8,72.1 102.8,69.1 104.7,73.7 106.7,71.7 108.7,72.8 110.7,70.1 112.7,70.7 114.7,73.4 116.6,73.5 118.6,72.3 120.6,73.1 122.6,72.6 124.6,74.7 126.6,80.6 128.5,78.2 130.5,76.6 132.5,76.6 134.5,76.8 136.5,74.5 138.5,76.2 140.4,78.4 142.4,79 144.4,76 146.4,79.9 148.4,76.9 150.4,78.8 152.4,81.6 154.3,78.2 156.3,78.6 158.3,81.9 160.3,82.5 162.3,79.8 164.3,76.8 166.2,78.2 168.2,77.3 170.2,75.8 172.2,77.8 174.2,77.1 176.2,77.5 178.1,79 180.1,80.3 182.1,80 184.1,79.9 186.1,81.2 188.1,82.1 190,79 192,78.5 194,76.4 196,73.8 198,73 200,68.1 201.9,71.5 203.9,70.4 205.9,72.3 207.9,68.5 209.9,65.6 211.9,72.1 213.8,75.4 215.8,74.2 217.8,72.9 219.8,71.8 221.8,72.9 223.8,72.6 225.7,71.8 227.7,72.9 229.7,71.1 231.7,77.7 233.7,76.3 235.7,79.3 237.6,77.5 239.6,78.4 241.6,79.7 243.6,79.4" stroke="rgb(148,148,148)"/>
<polyline points="37.3,79.4 39.3,77.4 41.3,78.6 43.3,81.6 45.2,83.8 47.2,79.8 49.2,80.1 51.2,80.9 53.2,79.5 55.2,79.5 57.1,78.9 59.1,77.1 61.1,76.6 63.1,74.8 65.1,78.4 67.1,78.4 69,79.5 71,79.2 73,79.4 75,81 77,81.8 79,79.1 80.9,80.6 82.9,83.6 84.9,81.6 86.9,78.9 88.9,79.7 90.9,79.4 92.8,81.5 94.8,81.8 96.8,78.7 98.8,76.8 100.8,76.7 102.8,77.8 104.7,82.1 106.7,81 108.7,79.7 110.7,77 112.7,72.1 114.7,72.1 116.6,70.5 118.6,74.4 120.6,72 122.6,70.7 124.6,68.3 126.6,67.9 128.5,68.1 130.5,65.7 132.5,69 134.5,68.7 136.5,67.2 138.5,70.6 140.4,74.6 142.4,74.1 144.4,74.4 146.4,73.4 148.4,72.5 150.4,75.3 152.4,74.9 154.3,72.6 156.3,74.3 158.3,75.6 160.3,78.9 162.3,76.8 164.3,72.2 166.2,76.5 168.2,74.9 170.2,73.1 172.2,75.3 174.2,76.7 176.2,79.6 178.1,81.5 180.1,80.8 182.1,79 184.1,78.7 186.1,76.6 188.1,76.4 190,79.6 192,75.9 194,73.3 196,75.8 198,71.7 200,71.4 201.9,72 203.9,68 205.9,75.6 207.9,80.1 209.9,78.1 211.9,78.9 213.8,81.3 215.8,77.2 217.8,76.2 219.8,79.7 221.8,81.3 223.8,78.9 225.7,74.4 227.7,80 229.7,79.2 231.7,80.1 233.7,84.4 235.7,83.8 237.6,85.8 239.6,84.6 241.6,80.7 243.6,79.4" stroke="rgb(147,147,147)"/>
<polyline points="37.3,79.4 39.3,81.1 41.3,83.7 43.3,83 45.2,79.8 47.2,81.2 49.2,75.2 51.2,76.5 53.2,77.5 55.2,78.4 57.1,80.6 59.1,79.2 61.1,79.2 63.1,74.3 65.1,73.2 67.1,72.3 69,73.8 71,78.7 73,79 75,81.6 77,78.5 79,78.7 80.9,73.9 82.9,72.4 84.9,70.8 86.9,71.1 88.9,71.5 90.9,70.5 92.8,68.9 94.8,72.2 96.8,71.6 98.8,64.9 100.8,66.9 102.8,69.1 104.7,72.4 106.7,77.5 108.7,74.2 110.7,74.7 112.7,74.4 114.7,69.5 116.6,63.3 118.6,67.9 120.6,66.2 122.6,65.9 124.6,66.4 126.6,66.5 128.5,68.1 130.5,64.8 132.5,64.7 134.5,65.5 136.5,63.5 138.5,62.7 140.4,63.4 142.4,64.3 144.4,61 146.4,61.7 148.4,64.1 150.4,68.4 152.4,70.7 154.3,74.8 156.3,75.1 158.3,74.8 160.3,81.4 162.3,81.1 164.3,79 166.2,78.5 168.2,81.4 170.2,77.4 172.2,79.7 174.2,83.3 176.2,86 178.1,85.2 180.1,81.6 182.1,77.9 184.1,77.5 186.1,81.2 188.1,82.9 190,85.1 192,85 194,89.5 196,88 198,85 200,84.8 201.9,82.8 203.9,85.1 205.9,88.7 207.9,89.5 209.9,84.9 211.9,81.2 213.8,82.3 215.8,78.4 217.8,79.5 219.8,75 221.8,74.1 223.8,76.1 225.7,74.1 227.7,77.1 229.7,80.1 231.7,84.3 233.7,82.9 235.7,82.4 237.6,81.8 239.6,81.8 241.6,79.1 243.6,79.4" stroke="rgb(147,147,147)"/>
<polyline points="37.3,79.4 39.3,79.1 41.3,77.3 43.3,81 45.2,77.1 47.2,73.6 49.2,71 51.2,74.3 53.2,70.9 55.2,70.2 57.1,68.4 59.1,69.8 61.1,72.4 63.1,75.5 65.1,77.9 67.1,75.2 69,78.2 71,80.3 73,79.1 75,80 77,86.5 79,87.7 80.9,87.9 82.9,81.7 84.9,79.3 86.9,82.5 88.9,85.7 90.9,86.4 92.8,84.8 94.8,86.6 96.8,84.4 98.8,88.3 100.8,86.2 102.8,81.5 104.7,89.8 106.7,88.6 108.7,86.7 110.7,84.4 112.7,83.5 114.7,83.2 116.6,81.8 118.6,81.2 120.6,80.7 122.6,75.5 124.6,72.7 126.6,70.5 128.5,73.6 130.5,75.9 132.5,72.9 134.5,77 136.5,74.1 138.5,79 140.4,72.2 142.4,69.1 144.4,72.1 146.4,74.5 148.4,81.6 150.4,81.5 152.4,77.4 154.3,75.7 156.3,77 158.3,70.7 160.3,70 162.3,69.8 164.3,71.9 166.2,70.9 168.2,63.6 170.2,64 172.2,71.2 174.2,71.5 176.2,66.3 178.1,64.1 180.1,67.6 182.1,67.9 184.1,74 186.1,72.6 188.1,76.2 190,78.3 192,80.2 194,82.4 196,76.6 198,72.2 200,74 201.9,74.4 203.9,69.6 205.9,71.7 207.9,74 209.9,77.4 211.9,72.6 213.8,72.9 215.8,73.7 217.8,75.7 219.8,79.1 221.8,76.1 223.8,78.9 225.7,80.7 227.7,85.9 229.7,88.6 231.7,89.2 233.7,89.6 235.7,92.2 237.6,90.4 239.6,87.3 241.6,87.4 243.6,79.4" stroke="rgb(147,147,147)"/>
<polyline points="37.3,79.4 39.3,76.9 41.3,76.8 43.3,75.8 45.2,71.9 47.2,70.8 49.2,72.7 51.2,77.6 53.2,77.8 55.2,78.4 57.1,74.4 59.1,72.1 61.1,77.5 63.1,85.2 65.1,85.8 67.1,84.3 69,86.8 71,87.6 73,82.9 75,80.2 77,85.7 79,83.8 80.9,82.9 82.9,83.1 84.9,80.9 86.9,78.9 88.9,71.1 90.9,71.4 92.8,74.7 94.8,76.9 96.8,75 98.8,69.4 100.8,68.7 102.8,68.3 104.7,68.8 106.7,71.5 108.7,72.3 110.7,77 112.7,75 114.7,74 116.6,74.1 118.6,77.5 120.6,78.6 122.6,80.6 124.6,79.5 126.6,80.4 128.5,79.2 130.5,76.3 132.5,72.6 134.5,76.7 136.5,78.1 138.5,81.8 140.4,77.6 142.4,80.5 144.4,76.1 146.4,78.1 148.4,75 150.4,77.3 152.4,78.3 154.3,78 156.3,77.9 158.3,78.6 160.3,76.6 162.3,73.1 164.3,71.1 166.2,73.7 168.2,80.3 170.2,79.8 172.2,88.9 174.2,85.6 176.2,82.9 178.1,86.4 180.1,83.7 182.1,85.3 184.1,80.5 186.1,82.9 188.1,85.1 190,86.5 192,84.9 194,87.6 196,79.4 198,80.6 200,74.9 201.9,76.3 203.9,77.7 205.9,80.2 207.9,82.5 209.9,80.8 211.9,76.8 213.8,76.8 215.8,79.9 217.8,79.2 219.8,81.8 221.8,90.1 223.8,88.4 225.7,92.9 227.7,93.3 229.7,91.5 231.7,91.3 233.7,90.7 235.7,84.1 237.6,80.5 239.6,77.2 241.6,77.8 243.6,79.4" stroke="rgb(146,146,146)"/>
<polyline points="37.3,79.4 39.3,81.5 41.3,81.4 43.3,87.3 45.2,86 47.2,86.4 49.2,85.9 51.2,81.9 53.2,80.1 55.2,80.8 57.1,77.9 59.1,76.8 61.1,76.8 63.1,76.1 65.1,75.8 67.1,77.2 69,78.9 71,78.9 73,81.9 75,85.5 77,80.7 79,81.3 80.9,81.2 82.9,81.4 84.9,81.1 86.9,80.8 88.9,80.4 90.9,82.8 92.8,79.5 94.8,81.6 96.8,78.2 98.8,84.2 100.8,86.9 102.8,83 104.7,83 106.7,84.6 108.7,82.8 110.7,85.7 112.7,84.7 114.7,90.9 116.6,90.9 118.6,91.5 120.6,88.4 122.6,84.6 124.6,86.6 126.6,80.8 128.5,82.5 130.5,88.4 132.5,94.7 134.5,88.1 136.5,87.3 138.5,88.4 140.4,89.6 142.4,91.7 144.4,86.1 146.4,85.5 148.4,79.3 150.4,79.9 152.4,87.1 154.3,83.6 156.3,84.2 158.3,84.4 160.3,78.9 162.3,79.8 164.3,76.2 166.2,76.6 168.2,79.2 170.2,77.7 172.2,79.7 174.2,75.9 176.2,73.4 178.1,73.9 180.1,72.7 182.1,71.8 184.1,73.5 186.1,71.5 188.1,73.1 190,72 192,75.8 194,75.9 196,75 198,78 200,79.4 201.9,81.1 203.9,78.6 205.9,80.9 207.9,79.4 209.9,74.7 211.9,74.1 213.8,79.7 215.8,79.3 217.8,76.1 219.8,77.3 221.8,74.1 223.8,72.8 225.7,72.3 227.7,73.9 229.7,76.2 231.7,77.3 233.7,77.3 235.7,76.2 237.6,76 239.6,77.6 241.6,78.3 243.6,79.4" stroke="rgb(146,146,146)"/>
<polyline points="37.3,79.4 39.3,86.3 41.3,90.4 43.3,93.9 45.2,95.1 47.2,89.5 49.2,92.4 51.2,94.8 53.2,91.1 55.2,92.7 57.1,91.6 59.1,89.6 61.1,88.3 63.1,89.5 65.1,85.5 67.1,80.2 69,83.1 71,83.5 73,80.1 75,80.7 77,83.5 79,84.3 80.9,81.2 82.9,84 84.9,82.6 86.9,81.1 88.9,82.8 90.9,80.7 92.8,78.5 94.8,75.6 96.8,73.2 98.8,78.4 100.8,75.8 102.8,74.5 104.7,72.1 106.7,75.5 108.7,73.2 110.7,72.8 112.7,77.1 114.7,73.5 116.6,76.5 118.6,79.9 120.6,78.7 122.6,80.5 124.6,79.3 126.6,80 128.5,79.1 130.5,76.6 132.5,77 134.5,74.7 136.5,72.7 138.5,76 140.4,73.8 142.4,72.6 144.4,72.9 146.4,70.3 148.4,66.4 150.4,65.6 152.4,71.7 154.3,71.2 156.3,72.6 158.3,74.2 160.3,73.7 162.3,75.4 164.3,70.9 166.2,71 168.2,71.9 170.2,70.4 172.2,69.1 174.2,66.7 176.2,66.3 178.1,67.9 180.1,68.8 182.1,76.6 184.1,81.3 186.1,77.9 188.1,79 190,73.5 192,68.8 194,73.8 196,73.5 198,65.4 200,69.4 201.9,69.4 203.9,71.2 205.9,72.9 207.9,74.5 209.9,75.1 211.9,73.2 213.8,76.3 215.8,75.1 217.8,77.7 219.8,76.3 221.8,75.7 223.8,78.4 225.7,78.1 227.7,80.4 229.7,82.8 231.7,78.8 233.7,84.3 235.7,81.8 237.6,79.5 239.6,80.5 241.6,78.7 243.6,79.4" stroke="rgb(146,146,146)"/>
<polyline points="37.3,79.4 39.3,82.8 41.3,80.8 43.3,80.3 45.2,78.3 47.2,73.9 49.2,73.3 51.2,69.7 53.2,77 55.2,73.9 57.1,73.7 59.1,75.8 61.1,73.3 63.1,73.9 65.1,76.4 67.1,81.8 69,76.8 71,83.9 73,83.2 75,78.5 77,76.8 79,78.7 80.9,79.5 82.9,81 84.9,80.1 86.9,80.2 88.9,83.5 90.9,86.8 92.8,82.9 94.8,85.8 96.8,88 98.8,80.8 100.8,82.8 102.8,85.9 104.7,87.6 106.7,84.6 108.7,86 110.7,85.5 112.7,90.9 114.7,91.2 116.6,89.7 118.6,88.3 120.6,83.4 122.6,81.6 124.6,89 126.6,92.2 128.5,93 130.5,92.2 132.5,90.6 134.5,87.6 136.5,91.1 138.5,95.7 140.4,91.7 142.4,92.9 144.4,97.6 146.4,98 148.4,97 150.4,98.2 152.4,99.1 154.3,94.1 156.3,95.4 158.3,92.7 160.3,90.6 162.3,90.3 164.3,82.8 166.2,86.1 168.2,78.5 170.2,81.2 172.2,81.8 174.2,80.8 176.2,77.7 178.1,76.1 180.1,77.5 182.1,78.8 184.1,75.8 186.1,72.2 188.1,74.5 190,71.9 192,71.4 194,71.7 196,75.6 198,79.5 200,78.4 201.9,86 203.9,86.5 205.9,84.6 207.9,88.5 209.9,83.1 211.9,78.3 213.8,81.3 215.8,81.4 217.8,81.5 219.8,82.7 221.8,83.7 223.8,81.9 225.7,77.2 227.7,77.3 229.7,77.3 231.7,77.2 233.7,79.3 235.7,77.8 237.6,79.3 239.6,80.9 241.6,79.6 243.6,79.4" stroke="rgb(146,146,146)"/>
<polyline points="37.3,79.4 39.3,78.9 41.3,79.7 43.3,76.4 45.2,76.4 47.2,78.6 49.2,77.3 51.2,78.2 53.2,78.3 55.2,80.6 57.1,78.9 59.1,76.2 61.1,77.9 63.1,73.6 65.1,75.7 67.1,75.5 69,79.9 71,84.6 73,78.8 75,75.3 77,72.9 79,77.8 80.9,77.4 82.9,76.6 84.9,76.7 86.9,76.3 88.9,78.9 90.9,79.3 92.8,82.1 94.8,82.6 96.8,81.3 98.8,82.9 100.8,83.1 102.8,83.7 104.7,83.1 106.7,80.4 108.7,79.7 110.7,78.6 112.7,82.2 114.7,82.8 116.6,80.3 118.6,82.3 120.6,83 122.6,84.9 124.6,80.9 126.6,81.8 128.5,83.3 130.5,81.3 132.5,78.3 134.5,77.2 136.5,75.1 138.5,75 140.4,75.9 142.4,77.3 144.4,78.8 146.4,80.3 148.4,79.3 150.4,79.6 152.4,79.3 154.3,77.8 156.3,78.1 158.3,81.6 160.3,83.3 162.3,85.5 164.3,89.4 166.2,88 168.2,89.9 170.2,91.7 172.2,92.9 174.2,89.1 176.2,88.7 178.1,85.1 180.1,84.6 182.1,85 184.1,83 186.1,81.1 188.1,80.6 190,82.9 192,83.6 194,86 196,85.8 198,84.8 200,80.5 201.9,76.9 203.9,75.5 205.9,73.6 207.9,73.8 209.9,67.6 211.9,65.3 213.8,60.5 215.8,61.8 217.8,62.9 219.8,62.3 221.8,63.9 223.8,65 225.7,69.1 227.7,68 229.7,69.1 231.7,68.3 233.7,70.2 235.7,75.9 237.6,75.8 239.6,75.2 241.6,78.2 243.6,79.4" stroke="rgb(145,145,145)"/>
<polyline points="37.3,79.4 39.3,78.9 41.3,80 43.3,79.9 45.2,79.7 47.2,81.6 49.2,84.3 51.2,85.4 53.2,84.6 55.2,82.1 57.1,77.9 59.1,82.2 61.1,80.8 63.1,81.8 65.1,81.5 67.1,80.5 69,78.5 71,77.6 73,77.9 75,74.4 77,74.3 79,75 80.9,72.8 82.9,76.3 84.9,78.9 86.9,75.5 88.9,76.5 90.9,81.1 92.8,79 94.8,76.2 96.8,78.5 98.8,81.7 100.8,81.6 102.8,80.5 104.7,81.8 106.7,83.7 108.7,82 110.7,80.4 112.7,84.1 114.7,86.2 116.6,86.2 118.6,86.9 120.6,85.5 122.6,83.6 124.6,78.7 126.6,78 128.5,76 130.5,80.2 132.5,81.7 134.5,79 136.5,82.5 138.5,79 140.4,77.8 142.4,77.7 144.4,78.2 146.4,81.2 148.4,83.6 150.4,84.4 152.4,84.8 154.3,81.3 156.3,83.6 158.3,84.6 160.3,88.1 162.3,86.8 164.3,85.9 166.2,82.6 168.2,77.7 170.2,76.7 172.2,79.1 174.2,78.7 176.2,78.1 178.1,78.5 180.1,81.2 182.1,80.2 184.1,83 186.1,82.9 188.1,83.2 190,88.9 192,86.4 194,80.6 196,81.4 198,82.6 200,80.1 201.9,83.2 203.9,82.7 205.9,81.8 207.9,82.9 209.9,82.7 211.9,84.4 213.8,85.2 215.8,83 217.8,84.7 219.8,85.5 221.8,86.4 223.8,84.4 225.7,84.8 227.7,86.2 229.7,84.7 231.7,88.8 233.7,92.3 235.7,89.3 237.6,83.3 239.6,82.9 241.6,81.1 243.6,79.4" stroke="rgb(145,145,145)"/>
<polyline points="37.3,79.4 39.3,80.7 41.3,77.4 43.3,78.2 45.2,73.1 47.2,76.3 49.2,79.4 51.2,86.4 53.2,83 55.2,78.1 57.1,82 59.1,82.8 61.1,83.2 63.1,87.6 65.1,86.5 67.1,84.8 69,85.8 71,88.2 73,86.8 75,84.2 77,88 79,87.3 80.9,84.7 82.9,92.8 84.9,90.3 86.9,83.7 88.9,87.2 90.9,82.3 92.8,82.9 94.8,80.7 96.8,81.1 98.8,84.5 100.8,89.2 102.8,80.7 104.7,84.8 106.7,85 108.7,80 110.7,79 112.7,78.6 114.7,85 116.6,86.2 118.6,89.6 120.6,93.9 122.6,91.1 124.6,87.2 126.6,88.7 128.5,89.6 130.5,87.1 132.5,83.5 134.5,86.3 136.5,81.9 138.5,78.8 140.4,78.9 142.4,82.4 144.4,80.4 146.4,78.2 148.4,72.9 150.4,75.6 152.4,71.2 154.3,73.3 156.3,72.5 158.3,73.7 160.3,74.2 162.3,70.3 164.3,73.5 166.2,71.7 168.2,73.5 170.2,74.4 172.2,77.2 174.2,76.9 176.2,83.4 178.1,83.8 180.1,80.2 182.1,77.5 184.1,82.8 186.1,85.9 188.1,86.5 190,79.8 192,81.2 194,81 196,81.6 198,80.4 200,83.2 201.9,82 203.9,80.2 205.9,76.9 207.9,80 209.9,77.1 211.9,71.5 213.8,70 215.8,69 217.8,77.9 219.8,73.9 221.8,68.7 223.8,66.2 225.7,66.2 227.7,65.2 229.7,57.6 231.7,62.5 233.7,65.8 235.7,65.1 237.6,68.2 239.6,75.8 241.6,77 243.6,79.4" stroke="rgb(145,145,145)"/>
<polyline points="37.3,79.4 39.3,76.4 41.3,75.1 43.3,73.5 45.2,74.3 47.2,74.7 49.2,70.4 51.2,74.3 53.2,74.8 55.2,76.7 57.1,74.5 59.1,70.3 61.1,72.1 63.1,79.8 65.1,78 67.1,76.5 69,81 71,81.2 73,81.1 75,86.5 77,83.8 79,82.1 80.9,81 82.9,83.4 84.9,84.5 86.9,85.4 88.9,83.3 90.9,85.2 92.8,80.7 94.8,79.4 96.8,84.8 98.8,79.8 100.8,79.2 102.8,80.5 104.7,80 106.7,84.4 108.7,83.2 110.7,88.8 112.7,90.1 114.7,85.3 116.6,81.3 118.6,81.8 120.6,83.8 122.6,80.8 124.6,80.7 126.6,79.8 128.5,78.1 130.5,80.9 132.5,78.6 134.5,83.9 136.5,79.5 138.5,83.4 140.4,84.4 142.4,85.4 144.4,82.7 146.4,80.3 148.4,79.2 150.4,77.7 152.4,76.6 154.3,77 156.3,82.1 158.3,87.5 160.3,92.3 162.3,90.7 164.3,89.8 166.2,88.8 168.2,87 170.2,86.6 172.2,88.2 174.2,90.9 176.2,94.2 178.1,89.2 180.1,85.7 182.1,88.3 184.1,87.8 186.1,85.6 188.1,80.7 190,82 192,81.1 194,77.9 196,82.4 198,83.8 200,83.3 201.9,84.6 203.9,78.5 205.9,76.3 207.9,76.1 209.9,78.9 211.9,76.6 213.8,75.3 215.8,77 217.8,78.3 219.8,82.1 221.8,81.9 223.8,79.3 225.7,76.7 227.7,75.5 229.7,73.8 231.7,75.9 233.7,77.4 235.7,74.9 237.6,75.1 239.6,77.6 241.6,77.8 243.6,79.4" stroke="rgb(145,145,145)"/>
<polyline points="37.3,79.4 39.3,76.9 41.3,77 43.3,74.1 45.2,76 47.2,75 49.2,77.6 51.2,82.3 53.2,78.1 55.2,78.7 57.1,76.1 59.1,76 61.1,80.9 63.1,79.6 65.1,76.6 67.1,73.4 69,69.7 71,69.8 73,71.1 75,71.8 77,75.8 79,74.2 80.9,72.8 82.9,72.6 84.9,75.4 86.9,74.1 88.9,76.1 90.9,73.1 92.8,75.4 94.8,77.2 96.8,78.3 98.8,81.1 100.8,83.2 102.8,83.4 104.7,89.4 106.7,82.8 108.7,81.4 110.7,80.3 112.7,82.5 114.7,81.6 116.6,81.3 118.6,80.7 120.6,84.4 122.6,84.1 124.6,88.5 126.6,87.9 128.5,89.2 130.5,89.6 132.5,89.2 134.5,85.7 136.5,81.7 138.5,81.3 140.4,83.9 142.4,79.4 144.4,83.1 146.4,84.1 148.4,84 150.4,85.4 152.4,81.1 154.3,79.8 156.3,76.8 158.3,77.9 160.3,75.7 162.3,76.6 164.3,77.3 166.2,76.7 168.2,76 170.2,74.8 172.2,75.9 174.2,80.3 176.2,81 178.1,87.9 180.1,87.7 182.1,88.8 184.1,85.5 186.1,92 188.1,85.1 190,85.3 192,88.9 194,86.6 196,84.4 198,82.7 200,76.5 201.9,79 203.9,78.3 205.9,78 207.9,80 209.9,79.1 211.9,75.8 213.8,78.5 215.8,77.4 217.8,75 219.8,73.7 221.8,78.7 223.8,78 225.7,79.2 227.7,76 229.7,76.7 231.7,71.8 233.7,76 235.7,75.4 237.6,78.2 239.6,75.7 241.6,75.6 243.6,79.4" stroke="rgb(144,144,144)"/>
<polyline points="37.3,79.4 39.3,81.7 41.3,80.4 43.3,87.5 45.2,85.6 47.2,84.2 49.2,85.8 51.2,81.9 53.2,74.9 55.2,73.9 57.1,78.2 59.1,83.2 61.1,86.7 63.1,89.3 65.1,84.4 67.1,82.9 69,82.6 71,79.4 73,79.3 75,79.3 77,82.2 79,83.9 80.9,83.3 82.9,86.8 84.9,80.4 86.9,80 88.9,81.8 90.9,78.3 92.8,82 94.8,78.2 96.8,78.1 98.8,72.1 100.8,74.8 102.8,76.7 104.7,79.9 106.7,84.1 108.7,82.7 110.7,85.9 112.7,84.1 114.7,85.7 116.6,81.5 118.6,89.8 120.6,87.2 122.6,86.2 124.6,85.4 126.6,86.9 128.5,80.2 130.5,81.5 132.5,79.9 134.5,80.8 136.5,81.9 138.5,81.4 140.4,78.9 142.4,82.8 144.4,84 146.4,88.2 148.4,85.9 150.4,88 152.4,89.5 154.3,86.2 156.3,85.5 158.3,83.5 160.3,83.5 162.3,81.7 164.3,81.2 166.2,84.8 168.2,83.5 170.2,84.2 172.2,84.5 174.2,83 176.2,84.5 178.1,87.5 180.1,82.6 182.1,76.2 184.1,77.8 186.1,74.2 188.1,73.6 190,76.5 192,79.7 194,80.7 196,82 198,82.9 200,83 201.9,86.4 203.9,82.7 205.9,86.2 207.9,89 209.9,84.8 211.9,81.7 213.8,76.6 215.8,76.6 217.8,79.1 219.8,75.4 221.8,76.3 223.8,77.1 225.7,80.3 227.7,78.9 229.7,86.9 231.7,84.3 233.7,90.5 235.7,85.8 237.6,88.3 239.6,84.2 241.6,78.9 243.6,79.4" stroke="rgb(144,144,144)"/>
<polyline points="37.3,79.4 39.3,73.6 41.3,73.4 43.3,72.1 45.2,73.9 47.2,75.1 49.2,81.8 51.2,79.5 53.2,80.3 55.2,83 57.1,78.5 59.1,79.6 61.1,81.4 63.1,83.7 65.1,80.6 67.1,80.7 69,81.6 71,85.1 73,87 75,85.5 77,85.1 79,89.9 80.9,91.2 82.9,89.5 84.9,81.5 86.9,83.5 88.9,89.1 90.9,86.2 92.8,86.9 94.8,89.7 96.8,87.3 98.8,87.2 100.8,89 102.8,91.6 104.7,90.7 106.7,89.4 108.7,93.1 110.7,89.2 112.7,91.6 114.7,86.7 116.6,85.2 118.6,85.3 120.6,84 122.6,85.2 124.6,85 126.6,80.3 128.5,81.9 130.5,79.7 132.5,82.3 134.5,82.3 136.5,79.7 138.5,83 140.4,82 142.4,87.6 144.4,89.9 146.4,90 148.4,86.7 150.4,84.2 152.4,86.3 154.3,86 156.3,85 158.3,88.7 160.3,86.7 162.3,82.6 164.3,79.2 166.2,81 168.2,82.2 170.2,84.6 172.2,85.5 174.2,85.7 176.2,83.4 178.1,83 180.1,85.2 182.1,82.7 184.1,80.2 186.1,82 188.1,82.6 190,82.7 192,86.9 194,85.9 196,83.6 198,78.3 200,78.2 201.9,79.3 203.9,80 205.9,78.6 207.9,76.8 209.9,79.7 211.9,79.4 213.8,77.9 215.8,83.6 217.8,79.8 219.8,80.6 221.8,78.4 223.8,78.9 225.7,79.8 227.7,80.2 229.7,79.6 231.7,77.6 233.7,78.7 235.7,81.8 237.6,82.8 239.6,83.5 241.6,81.1 243.6,79.4" stroke="rgb(144,144,144)"/>
<polyline points="37.3,79.4 39.3,80.5 41.3,79.9 43.3,79.3 45.2,80 47.2,79 49.2,79.9 51.2,79.3 53.2,81.5 55.2,78.1 57.1,78.9 59.1,76.3 61.1,71.9 63.1,69.2 65.1,70.5 67.1,71.2 69,72.3 71,72.4 73,75.1 75,79.6 77,78.9 79,78.8 80.9,75.5 82.9,71.9 84.9,75.8 86.9,78.3 88.9,76.7 90.9,74.4 92.8,74.7 94.8,75.1 96.8,79.7 98.8,74.6 100.8,76.7 102.8,75.7 104.7,75.4 106.7,77.9 108.7,76.1 110.7,73.2 112.7,74.1 114.7,74.4 116.6,73.5 118.6,72 120.6,70.9 122.6,73.9 124.6,76.6 126.6,78.2 128.5,84.4 130.5,86.7 132.5,86.3 134.5,86.9 136.5,87.9 138.5,84.9 140.4,83.5 142.4,81.1 144.4,81.3 146.4,82 148.4,83.6 150.4,82.5 152.4,86.2 154.3,87.3 156.3,85 158.3,82.4 160.3,82.2 162.3,84.4 164.3,82.6 166.2,83.8 168.2,83.6 170.2,85.2 172.2,80.4 174.2,77 176.2,79.1 178.1,81.8 180.1,81.6 182.1,79.9 184.1,77 186.1,77.4 188.1,80.5 190,79.7 192,79 194,82.6 196,82.8 198,83.1 200,84.8 201.9,83.7 203.9,80.8 205.9,78.3 207.9,80.5 209.9,81.6 211.9,79.8 213.8,80.5 215.8,81.2 217.8,76 219.8,82.2 221.8,83.3 223.8,84.7 225.7,84.2 227.7,79.8 229.7,80 231.7,80.6 233.7,80.1 235.7,80.6 237.6,79.6 239.6,76.1 241.6,78.1 243.6,79.4" stroke="rgb(144,144,144)"/>
<polyline points="37.3,79.4 39.3,76.8 41.3,73.2 43.3,72 45.2,70.5 47.2,71.7 49.2,73.9 51.2,77.5 53.2,76.9 55.2,78.1 57.1,79.1 59.1,76.1 61.1,75 63.1,72.7 65.1,78.6 67.1,76.9 69,79.1 71,81.7 73,84.1 75,79.7 77,77 79,79.6 80.9,83.2 82.9,82.7 84.9,83.8 86.9,77.9 88.9,82.8 90.9,88.2 92.8,88 94.8,86.9 96.8,85.6 98.8,82.4 100.8,75.5 102.8,77 104.7,79 106.7,84.7 108.7,83.3 110.7,80.1 112.7,80.9 114.7,76.9 116.6,77.1 118.6,72.5 120.6,72.3 122.6,76.5 124.6,78.9 126.6,83.9 128.5,88.9 130.5,86.9 132.5,83.2 134.5,76.5 136.5,77 138.5,78.1 140.4,81.8 142.4,78.3 144.4,77.2 146.4,79.4 148.4,77.2 150.4,75.7 152.4,82.1 154.3,79.4 156.3,79 158.3,80.3 160.3,81.5 162.3,75.6 164.3,71.2 166.2,66.3 168.2,71.6 170.2,74.6 172.2,72.3 174.2,77 176.2,79.6 178.1,85.3 180.1,78.7 182.1,75.4 184.1,74.4 186.1,74.3 188.1,76.2 190,77.9 192,76.1 194,78.8 196,74.9 198,77 200,80.1 201.9,75.9 203.9,76.8 205.9,75.3 207.9,77.1 209.9,84.6 211.9,82.2 213.8,86.2 215.8,81.9 217.8,86.6 219.8,91.7 221.8,89.2 223.8,86.7 225.7,85.5 227.7,88.6 229.7,84.7 231.7,88.7 233.7,89.1 235.7,89.6 237.6,87.9 239.6,83.6 241.6,82.7 243.6,79.4" stroke="rgb(144,144,144)"/>
<polyline points="37.3,79.4 39.3,78.4 41.3,76.2 43.3,71.5 45.2,69.5 47.2,74.6 49.2,75.8 51.2,82.1 53.2,83.8 55.2,86.4 57.1,85.7 59.1,84 61.1,85.8 63.1,85.8 65.1,84.4 67.1,84.3 69,84.2 71,89.6 73,89.6 75,86.5 77,85.1 79,88.1 80.9,87.8 82.9,86.2 84.9,87.9 86.9,85.3 88.9,86.7 90.9,86.7 92.8,86.2 94.8,80 96.8,80.8 98.8,82.1 100.8,80.1 102.8,81.3 104.7,80.7 106.7,86.1 108.7,84.7 110.7,84.2 112.7,86.9 114.7,82.7 116.6,83 118.6,83.1 120.6,86 122.6,89.3 124.6,89.6 126.6,92.2 128.5,89.6 130.5,86.3 132.5,87.1 134.5,90.2 136.5,90 138.5,91.4 140.4,89.7 142.4,88.1 144.4,88.2 146.4,87 148.4,83.7 150.4,79.1 152.4,80.5 154.3,78.7 156.3,79.4 158.3,82.1 160.3,78.8 162.3,78 164.3,77.9 166.2,77.3 168.2,78.1 170.2,80.9 172.2,76.5 174.2,74.7 176.2,74.7 178.1,73 180.1,70.7 182.1,72.4 184.1,71.9 186.1,73.7 188.1,72.9 190,74.4 192,69.1 194,71.3 196,71.1 198,71.1 200,73 201.9,71.6 203.9,72.8 205.9,74.7 207.9,75.4 209.9,77.8 211.9,75.2 213.8,74.2 215.8,72.6 217.8,76.8 219.8,76.5 221.8,78.9 223.8,78.8 225.7,75.9 227.7,75.8 229.7,76.7 231.7,74.4 233.7,72.6 235.7,69.8 237.6,75.9 239.6,76.6 241.6,78.2 243.6,79.4" stroke="rgb(144,144,144)"/>
<polyline points="37.3,79.4 39.3,80.3 41.3,81.5 43.3,78.6 45.2,81.9 47.2,83 49.2,81.3 51.2,80.8 53.2,82.6 55.2,82.6 57.1,85.9 59.1,85 61.1,91.9 63.1,89.9 65.1,84.9 67.1,81.8 69,79.2 71,80.5 73,79 75,80.2 77,80.5 79,80.7 80.9,90 82.9,86.2 84.9,84.2 86.9,81.3 88.9,83.8 90.9,81.4 92.8,79.8 94.8,86.1 96.8,90.3 98.8,88.9 100.8,89.7 102.8,88.6 104.7,89.3 106.7,84 108.7,88.8 110.7,91.6 112.7,92.9 114.7,95.2 116.6,95 118.6,93.2 120.6,95.4 122.6,92.5 124.6,87.3 126.6,83.3 128.5,77.3 130.5,74.4 132.5,75.2 134.5,70.7 136.5,69.8 138.5,65.8 140.4,68 142.4,75.3 144.4,79.1 146.4,78.7 148.4,77.3 150.4,78.1 152.4,75.5 154.3,79.3 156.3,81.3 158.3,78.3 160.3,78.3 162.3,78.2 164.3,74.4 166.2,72 168.2,75.1 170.2,75.1 172.2,80.4 174.2,80.4 176.2,79.2 178.1,84.1 180.1,79.2 182.1,73.6 184.1,72.9 186.1,71.1 188.1,67.9 190,69.8 192,68 194,68.3 196,74 198,77.1 200,79 201.9,76.1 203.9,76.2 205.9,73.8 207.9,75.8 209.9,79.8 211.9,74 213.8,67 215.8,67.4 217.8,69.4 219.8,67.3 221.8,71.8 223.8,73.3 225.7,78.1 227.7,76.9 229.7,76.5 231.7,77.9 233.7,79.9 235.7,83.8 237.6,84.4 239.6,80.8 241.6,80.6 243.6,79.4" stroke="rgb(144,144,144)"/>
<polyline points="37.3,79.4 39.3,77.2 41.3,73 43.3,73.5 45.2,72.1 47.2,76.8 49.2,78 51.2,77.8 53.2,77 55.2,77.4 57.1,77.8 59.1,79.3 61.1,80.3 63.1,79.4 65.1,78.1 67.1,76.7 69,74.7 71,72.5 73,77.4 75,78.7 77,79.1 79,80.6 80.9,78 82.9,76.4 84.9,76.9 86.9,76.9 88.9,74.3 90.9,75.6 92.8,76.7 94.8,74.9 96.8,74.3 98.8,71.6 100.8,71.7 102.8,70.8 104.7,73 106.7,75.9 108.7,76.3 110.7,82.6 112.7,81.2 114.7,78.7 116.6,78.6 118.6,79.1 120.6,76.6 122.6,77 124.6,75 126.6,70.5 128.5,69.8 130.5,68.8 132.5,68.9 134.5,69.5 136.5,70 138.5,70.9 140.4,69.4 142.4,74.2 144.4,75.4 146.4,74.3 148.4,76.8 150.4,77.3 152.4,79 154.3,78 156.3,76.2 158.3,73.2 160.3,72.7 162.3,75.1 164.3,75 166.2,74.2 168.2,71.5 170.2,77.3 172.2,76.6 174.2,81 176.2,79.2 178.1,78.1 180.1,77.1 182.1,75.3 184.1,74.8 186.1,76.8 188.1,76.2 190,73.8 192,74.7 194,75.1 196,78.3 198,75.8 200,77.3 201.9,79.2 203.9,80.1 205.9,81.9 207.9,82.1 209.9,78.9 211.9,77.1 213.8,74.1 215.8,71.3 217.8,74.2 219.8,73.7 221.8,70.9 223.8,66.7 225.7,71.3 227.7,75.5 229.7,74.8 231.7,76.1 233.7,78.7 235.7,77.9 237.6,79.7 239.6,82.7 241.6,81.3 243.6,79.4" stroke="rgb(144,144,144)"/>
<polyline points="37.3,79.4 39.3,80.8 41.3,81 43.3,83.4 45.2,80.3 47.2,81.8 49.2,85.6 51.2,82.7 53.2,82.7 55.2,81.9 57.1,86 59.1,89 61.1,90.7 63.1,89.7 65.1,88.9 67.1,83.9 69,79.2 71,78.8 73,79.2 75,74 77,74.5 79,72.3 80.9,74.5 82.9,75.3 84.9,76.6 86.9,78.8 88.9,77.9 90.9,80.3 92.8,80.5 94.8,79.3 96.8,73.5 98.8,79.4 100.8,79.2 102.8,77.4 104.7,78.6 106.7,76.3 108.7,75.2 110.7,74.4 112.7,76.1 114.7,77.1 116.6,78 118.6,80.9 120.6,80.2 122.6,83 124.6,85.2 126.6,88.3 128.5,84.2 130.5,85.2 132.5,86.9 134.5,83.8 136.5,84.5 138.5,82.9 140.4,83 142.4,81.6 144.4,80.8 146.4,86.6 148.4,81.7 150.4,78.7 152.4,82.8 154.3,79.9 156.3,80.5 158.3,80 160.3,76.4 162.3,74.1 164.3,72 166.2,67.4 168.2,65.8 170.2,69.1 172.2,73.9 174.2,72.2 176.2,77.8 178.1,79 180.1,80 182.1,81.9 184.1,77.8 186.1,77.2 188.1,78 190,75.8 192,77.3 194,74.3 196,69.3 198,70.8 200,72.3 201.9,70 203.9,76.5 205.9,80.3 207.9,83 209.9,87 211.9,86.1 213.8,84.5 215.8,84 217.8,83.5 219.8,80.5 221.8,77.4 223.8,74.3 225.7,75.3 227.7,75.7 229.7,72.1 231.7,71.9 233.7,69.2 235.7,72.3 237.6,74.2 239.6,76.9 241.6,78 243.6,79.4" stroke="rgb(143,143,143)"/>
<polyline points="37.3,79.4 39.3,85.5 41.3,86.2 43.3,84.8 45.2,82.6 47.2,86.3 49.2,88 51.2,91.8 53.2,95.7 55.2,98.2 57.1,101.2 59.1,99.2 61.1,95.4 63.1,91.4 65.1,90 67.1,90.9 69,89.6 71,86.4 73,86.6 75,85.5 77,85.8 79,86.8 80.9,85.8 82.9,88.7 84.9,84.1 86.9,88.7 88.9,86.1 90.9,89.8 92.8,83.5 94.8,80.1 96.8,82.7 98.8,83.8 100.8,87.1 102.8,86.3 104.7,84.1 106.7,75 108.7,80.1 110.7,75.9 112.7,78.3 114.7,77.5 116.6,74.8 118.6,73.5 120.6,72.8 122.6,74.3 124.6,74.9 126.6,74.9 128.5,71.5 130.5,77.3 132.5,79.2 134.5,83.4 136.5,86.1 138.5,88 140.4,83.3 142.4,75.7 144.4,71.6 146.4,76.5 148.4,76.6 150.4,80.7 152.4,79.1 154.3,74.9 156.3,73.5 158.3,71.3 160.3,72.7 162.3,80.1 164.3,86.6 166.2,86.1 168.2,83.4 170.2,78.7 172.2,79.9 174.2,79.6 176.2,78.7 178.1,75.3 180.1,76 182.1,80.1 184.1,76.4 186.1,75.4 188.1,74.6 190,79.4 192,79.4 194,85.1 196,91.1 198,90.5 200,90.6 201.9,87.4 203.9,81.6 205.9,81.5 207.9,75.3 209.9,77.7 211.9,75.4 213.8,80.1 215.8,79.6 217.8,80.6 219.8,81.2 221.8,79 223.8,85.3 225.7,84.2 227.7,86.4 229.7,85.1 231.7,83.1 233.7,83.9 235.7,84.2 237.6,86 239.6,82.8 241.6,82.3 243.6,79.4" stroke="rgb(142,142,142)"/>
<polyline points="37.3,79.4 39.3,80.8 41.3,76.5 43.3,72.7 45.2,77.6 47.2,77 49.2,77 51.2,83.5 53.2,85.4 55.2,86 57.1,87.2 59.1,85.9 61.1,90.1 63.1,86.8 65.1,83.7 67.1,82.2 69,82.8 71,82.3 73,83.3 75,79.6 77,78.2 79,72.7 80.9,74.5 82.9,71.1 84.9,73.7 86.9,74.8 88.9,78.3 90.9,76.9 92.8,77.4 94.8,75.9 96.8,72.1 98.8,73.1 100.8,72.8 102.8,71.1 104.7,72.2 106.7,74.6 108.7,74.2 110.7,73.4 112.7,71.9 114.7,70.5 116.6,73.4 118.6,72.8 120.6,70.2 122.6,72.6 124.6,72.4 126.6,74.9 128.5,75 130.5,70.6 132.5,71.2 134.5,74.8 136.5,74.4 138.5,74.4 140.4,71.9 142.4,76.6 144.4,79.4 146.4,79.6 148.4,83.9 150.4,80.2 152.4,85.7 154.3,87.2 156.3,90.4 158.3,90.9 160.3,87.3 162.3,84.6 164.3,81.4 166.2,79.4 168.2,85.1 170.2,83.5 172.2,88.2 174.2,88.5 176.2,88.5 178.1,88.9 180.1,86.3 182.1,87.7 184.1,81.9 186.1,79.9 188.1,76.5 190,74.8 192,72.8 194,73.7 196,68.9 198,73.1 200,72.5 201.9,73.3 203.9,74.6 205.9,74.3 207.9,77 209.9,74.8 211.9,73.2 213.8,73.6 215.8,72.2 217.8,76 219.8,81.4 221.8,82.7 223.8,83 225.7,75.6 227.7,76.7 229.7,74.1 231.7,72.3 233.7,67.3 235.7,69.2 237.6,70.4 239.6,73.5 241.6,76.9 243.6,79.4" stroke="rgb(142,142,142)"/>
<polyline points="37.3,79.4 39.3,83.2 41.3,88.5 43.3,91.9 45.2,87.5 47.2,86.5 49.2,84.9 51.2,84 53.2,83.6 55.2,83.7 57.1,87.8 59.1,81.5 61.1,81.8 63.1,77.6 65.1,83 67.1,80.9 69,84.6 71,88.2 73,86.4 75,82.2 77,77.5 79,73.5 80.9,75.1 82.9,73.2 84.9,75.9 86.9,78.2 88.9,77.6 90.9,78.3 92.8,75.7 94.8,82.2 96.8,78.2 98.8,80.3 100.8,75.5 102.8,72.3 104.7,76.9 106.7,77.5 108.7,75.5 110.7,78.6 112.7,81.2 114.7,82 116.6,79.4 118.6,76.5 120.6,78.3 122.6,75.8 124.6,71.5 126.6,69.5 128.5,73.1 130.5,76.6 132.5,76.1 134.5,73.9 136.5,73.2 138.5,75.2 140.4,78.8 142.4,74.8 144.4,75.9 146.4,70.3 148.4,75.2 150.4,76.8 152.4,79.2 154.3,73.3 156.3,70.1 158.3,72.8 160.3,79.9 162.3,76.1 164.3,76.1 166.2,80.2 168.2,85 170.2,83.1 172.2,83.3 174.2,82.4 176.2,80.8 178.1,81.9 180.1,82.5 182.1,80 184.1,80.3 186.1,81.1 188.1,78.9 190,85.4 192,80.7 194,79.1 196,81.6 198,82 200,77.7 201.9,76.1 203.9,82.3 205.9,85.3 207.9,84 209.9,77.7 211.9,75.4 213.8,76.5 215.8,75 217.8,75.5 219.8,77 221.8,76 223.8,83.4 225.7,79.6 227.7,77.9 229.7,79.5 231.7,82.2 233.7,85.8 235.7,83.8 237.6,82.3 239.6,81 241.6,78.1 243.6,79.4" stroke="rgb(142,142,142)"/>
<polyline points="37.3,79.4 39.3,77.9 41.3,75.8 43.3,79.4 45.2,83.2 47.2,78.6 49.2,81.4 51.2,81.3 53.2,84.2 55.2,82.6 57.1,84.6 59.1,85.8 61.1,88.4 63.1,81.5 65.1,73.3 67.1,73.3 69,71.9 71,71.1 73,72 75,73.2 77,75 79,73.1 80.9,77.6 82.9,80.3 84.9,78 86.9,82.5 88.9,77.1 90.9,78.2 92.8,77.7 94.8,73.8 96.8,74.6 98.8,74.8 100.8,77.1 102.8,75.8 104.7,74 106.7,77.4 108.7,75.5 110.7,73 112.7,72.3 114.7,75.4 116.6,73 118.6,69.5 120.6,72.2 122.6,78.6 124.6,80.9 126.6,80.6 128.5,76.4 130.5,73.1 132.5,71.7 134.5,74.6 136.5,72.8 138.5,73.6 140.4,77.4 142.4,83.1 144.4,79.5 146.4,84.5 148.4,80 150.4,73 152.4,73.6 154.3,76.9 156.3,79.1 158.3,81.2 160.3,79.8 162.3,76.6 164.3,79.2 166.2,80.3 168.2,82.1 170.2,78.2 172.2,75.3 174.2,78.4 176.2,79.4 178.1,78.9 180.1,84.5 182.1,85.5 184.1,84.3 186.1,88 188.1,86.3 190,85.3 192,86.3 194,82.2 196,84.8 198,82.8 200,83.1 201.9,79.3 203.9,81.7 205.9,79.5 207.9,77.6 209.9,74.3 211.9,69.9 213.8,75.7 215.8,76.3 217.8,80 219.8,76.9 221.8,73 223.8,74.6 225.7,74.4 227.7,71 229.7,71.3 231.7,72.7 233.7,78.5 235.7,80.7 237.6,77.9 239.6,81.1 241.6,80 243.6,79.4" stroke="rgb(142,142,142)"/>
<polyline points="37.3,79.4 39.3,83.4 41.3,85.8 43.3,85.8 45.2,87.1 47.2,82.7 49.2,81.9 51.2,80.7 53.2,79.4 55.2,78.2 57.1,81.8 59.1,77.8 61.1,77.4 63.1,78.8 65.1,81.1 67.1,82.4 69,83.3 71,82.5 73,84.1 75,82.9 77,81.8 79,83 80.9,76.4 82.9,76.8 84.9,75.9 86.9,75.7 88.9,76.3 90.9,74.6 92.8,71.2 94.8,72.1 96.8,74.9 98.8,73.7 100.8,79.8 102.8,79.1 104.7,79.3 106.7,78.2 108.7,82 110.7,82.6 112.7,84.7 114.7,85.2 116.6,82.7 118.6,82.6 120.6,83.5 122.6,79.6 124.6,79.3 126.6,84.5 128.5,86.4 130.5,84.2 132.5,82.3 134.5,81.1 136.5,80 138.5,82.1 140.4,81.8 142.4,84.5 144.4,85.9 146.4,87.3 148.4,88.4 150.4,88.1 152.4,87.5 154.3,88.5 156.3,84.4 158.3,84.9 160.3,80 162.3,77.2 164.3,80.5 166.2,77.9 168.2,81.7 170.2,77.5 172.2,76.8 174.2,79.6 176.2,85.3 178.1,85.5 180.1,88.3 182.1,84.3 184.1,86.9 186.1,86.6 188.1,84.4 190,83.7 192,82.5 194,82.7 196,80.4 198,82.7 200,80.8 201.9,83.8 203.9,82.8 205.9,85.3 207.9,85.2 209.9,82.9 211.9,79.2 213.8,84 215.8,85.5 217.8,87.3 219.8,83.2 221.8,85 223.8,82.5 225.7,83.5 227.7,86.8 229.7,85.6 231.7,87.9 233.7,85 235.7,81.9 237.6,78.6 239.6,80.5 241.6,78.4 243.6,79.4" stroke="rgb(142,142,142)"/>
<polyline points="37.3,79.4 39.3,81.5 41.3,81.4 43.3,81 45.2,80.3 47.2,77.2 49.2,79 51.2,73.9 53.2,74.9 55.2,72.5 57.1,73.6 59.1,75 61.1,69.5 63.1,71.6 65.1,76.3 67.1,78.8 69,79.8 71,73.4 73,73.5 75,71.4 77,75.3 79,74.8 80.9,73.3 82.9,68.7 84.9,72.1 86.9,71.1 88.9,71.2 90.9,75.3 92.8,75.8 94.8,77 96.8,84.2 98.8,81.9 100.8,80 102.8,81.2 104.7,85 106.7,79.9 108.7,79 110.7,76.1 112.7,72.3 114.7,74.7 116.6,72.8 118.6,74.3 120.6,75.1 122.6,75.9 124.6,76.3 126.6,73.4 128.5,73.7 130.5,74.9 132.5,76.2 134.5,75.6 136.5,78.7 138.5,80.3 140.4,80.3 142.4,81.9 144.4,82 146.4,83.5 148.4,77 150.4,73.3 152.4,72.7 154.3,73.7 156.3,67.8 158.3,68.3 160.3,69.9 162.3,70.1 164.3,70.3 166.2,67.2 168.2,68.7 170.2,63.7 172.2,68.3 174.2,67.5 176.2,71.9 178.1,67.4 180.1,69.8 182.1,71.2 184.1,69.4 186.1,66.9 188.1,71.7 190,73.6 192,78.5 194,78.2 196,78.6 198,79.8 200,81.8 201.9,82.6 203.9,84.5 205.9,82.3 207.9,77.4 209.9,83.4 211.9,83.3 213.8,84.1 215.8,82 217.8,84.5 219.8,84.4 221.8,86.9 223.8,83.9 225.7,83.1 227.7,83.1 229.7,81.6 231.7,82 233.7,86.3 235.7,83.4 237.6,81.7 239.6,81.3 241.6,79.3 243.6,79.4" stroke="rgb(141,141,141)"/>
<polyline points="37.3,79.4 39.3,74.6 41.3,73.2 43.3,75.8 45.2,75.3 47.2,69.2 49.2,75 51.2,73.5 53.2,74 55.2,74.8 57.1,76.4 59.1,77.6 61.1,74.2 63.1,72.7 65.1,76.5 67.1,71.6 69,76.5 71,74.5 73,74.3 75,70.8 77,70.4 79,67.9 80.9,69.1 82.9,67 84.9,67.1 86.9,61.4 88.9,65.6 90.9,63.1 92.8,63.3 94.8,64.5 96.8,67.9 98.8,67.6 100.8,73.5 102.8,78.4 104.7,76 106.7,81.2 108.7,76.1 110.7,77.1 112.7,76.4 114.7,76.3 116.6,75 118.6,76.2 120.6,77.5 122.6,77.9 124.6,74.5 126.6,71.1 128.5,67.8 130.5,67.7 132.5,69.5 134.5,75.9 136.5,74 138.5,71.7 140.4,73.7 142.4,71.5 144.4,68 146.4,68.8 148.4,66.4 150.4,66.7 152.4,73.6 154.3,75.6 156.3,77.1 158.3,75.5 160.3,78.5 162.3,79.8 164.3,82.6 166.2,82.1 168.2,81.3 170.2,77.7 172.2,75 174.2,74.8 176.2,74.3 178.1,74.3 180.1,74.3 182.1,69.7 184.1,78.6 186.1,79 188.1,77.8 190,74.1 192,78 194,76.8 196,74.1 198,75.9 200,82.3 201.9,82.8 203.9,86.1 205.9,82.9 207.9,85 209.9,78.3 211.9,77.7 213.8,80.3 215.8,81.6 217.8,84.6 219.8,82.5 221.8,77 223.8,77.7 225.7,74.7 227.7,78.1 229.7,77 231.7,69.5 233.7,75 235.7,71.9 237.6,70.7 239.6,77 241.6,79.8 243.6,79.4" stroke="rgb(141,141,141)"/>
<polyline points="37.3,79.4 39.3,81.3 41.3,79.9 43.3,83 45.2,88.9 47.2,88.2 49.2,78.1 51.2,79.9 53.2,79 55.2,80.2 57.1,77.5 59.1,73.3 61.1,74.5 63.1,71.4 65.1,75.6 67.1,75.4 69,79.6 71,79 73,80.8 75,79.9 77,83.1 79,81.9 80.9,81.2 82.9,82.7 84.9,84.6 86.9,87.5 88.9,87.7 90.9,85.4 92.8,85 94.8,83.8 96.8,79.4 98.8,80.3 100.8,79.2 102.8,76.7 104.7,75.4 106.7,74.6 108.7,74.9 110.7,69.5 112.7,70.9 114.7,73 116.6,71.9 118.6,67.8 120.6,64.8 122.6,66.4 124.6,65.4 126.6,65.5 128.5,66.8 130.5,66.3 132.5,65.9 134.5,67 136.5,63.2 138.5,66.2 140.4,63.5 142.4,59 144.4,55 146.4,57 148.4,60.2 150.4,67.2 152.4,68.8 154.3,62.6 156.3,69.3 158.3,75.1 160.3,73 162.3,71.8 164.3,78.2 166.2,78.4 168.2,77.4 170.2,82.2 172.2,78.8 174.2,82.8 176.2,78.9 178.1,78.3 180.1,80.5 182.1,85.1 184.1,85.4 186.1,84.9 188.1,84.5 190,85.6 192,85.4 194,82 196,84.4 198,84.3 200,82.3 201.9,81.9 203.9,78.9 205.9,74.2 207.9,75.8 209.9,75.5 211.9,84.8 213.8,85.1 215.8,82.4 217.8,85.3 219.8,80.5 221.8,86 223.8,81.1 225.7,82.4 227.7,85 229.7,85.8 231.7,85.7 233.7,88 235.7,90.2 237.6,88.6 239.6,84 241.6,81.5 243.6,79.4" stroke="rgb(141,141,141)"/>
<polyline points="37.3,79.4 39.3,75.9 41.3,75.6 43.3,74.2 45.2,73.3 47.2,73.1 49.2,77.8 51.2,77.5 53.2,75.9 55.2,81.3 57.1,76 59.1,71.5 61.1,71.9 63.1,65.8 65.1,70.1 67.1,74.4 69,77.1 71,79.7 73,73.5 75,74.1 77,74.9 79,74.2 80.9,69.5 82.9,70.1 84.9,72.5 86.9,72.4 88.9,69 90.9,70.9 92.8,67.2 94.8,67.7 96.8,69.6 98.8,69.2 100.8,63.8 102.8,66.5 104.7,63.4 106.7,63.4 108.7,64.8 110.7,66.4 112.7,65.2 114.7,64.8 116.6,65.3 118.6,64.8 120.6,69.4 122.6,72.8 124.6,76.9 126.6,78.3 128.5,79.1 130.5,80.4 132.5,78.5 134.5,81.7 136.5,82.2 138.5,79 140.4,73.4 142.4,73.9 144.4,70.6 146.4,67.1 148.4,71.9 150.4,72 152.4,76.3 154.3,78 156.3,76.8 158.3,81.3 160.3,79.3 162.3,79.7 164.3,80.5 166.2,78.6 168.2,81.4 170.2,86.7 172.2,85.8 174.2,87.4 176.2,87.1 178.1,89.8 180.1,91.6 182.1,93.6 184.1,96.1 186.1,96.8 188.1,97.3 190,95.1 192,82.7 194,84.4 196,89 198,86 200,89.3 201.9,91.1 203.9,90.8 205.9,89.3 207.9,87.9 209.9,86.1 211.9,85.7 213.8,81.3 215.8,78.4 217.8,80.3 219.8,80.9 221.8,85.3 223.8,82.4 225.7,82.8 227.7,76.1 229.7,78.8 231.7,73.9 233.7,77.6 235.7,83.1 237.6,84.4 239.6,82.2 241.6,79.7 243.6,79.4" stroke="rgb(141,141,141)"/>
<polyline points="37.3,79.4 39.3,73.4 41.3,68.1 43.3,60 45.2,58 47.2,57.7 49.2,63.4 51.2,64.8 53.2,70.3 55.2,68.2 57.1,73.1 59.1,74.3 61.1,77.3 63.1,78.9 65.1,77.2 67.1,79 69,78.1 71,81.3 73,76.3 75,78.5 77,75.1 79,68.5 80.9,77.4 82.9,80.6 84.9,80.9 86.9,76.7 88.9,78.3 90.9,77 92.8,79.4 94.8,77.3 96.8,81.3 98.8,78.1 100.8,87.7 102.8,92.6 104.7,84.9 106.7,83.4 108.7,85.6 110.7,77.5 112.7,74.1 114.7,70.8 116.6,73 118.6,71.5 120.6,70.6 122.6,76.8 124.6,74.9 126.6,75.8 128.5,71.9 130.5,68.3 132.5,71.5 134.5,74.2 136.5,74 138.5,72.3 140.4,74.2 142.4,75 144.4,73.3 146.4,72.4 148.4,69.3 150.4,69.5 152.4,73.3 154.3,79.6 156.3,76.7 158.3,77.9 160.3,79 162.3,79.7 164.3,84.6 166.2,85 168.2,92.6 170.2,92.1 172.2,93.3 174.2,85.4 176.2,83 178.1,83.1 180.1,81.9 182.1,79 184.1,81.3 186.1,81.6 188.1,82.3 190,73.6 192,73.9 194,80.7 196,77.8 198,69.3 200,73.4 201.9,62.6 203.9,64.6 205.9,62.9 207.9,66.5 209.9,68.7 211.9,73.8 213.8,77.7 215.8,84.7 217.8,80.1 219.8,83.6 221.8,81.7 223.8,80.1 225.7,82 227.7,81.3 229.7,81.2 231.7,82.4 233.7,81.7 235.7,80.9 237.6,83 239.6,84.3 241.6,83.3 243.6,79.4" stroke="rgb(141,141,141)"/>
<polyline points="37.3,79.4 39.3,73.7 41.3,71 43.3,73.8 45.2,73.3 47.2,74.8 49.2,70.5 51.2,63.4 53.2,68.7 55.2,72.8 57.1,76.1 59.1,78.3 61.1,80.4 63.1,79.8 65.1,75.9 67.1,80.2 69,84.9 71,89.9 73,84.7 75,79.5 77,84.2 79,88.6 80.9,86.8 82.9,82 84.9,78.1 86.9,77.3 88.9,75 90.9,74.2 92.8,76.3 94.8,70.2 96.8,71 98.8,75.3 100.8,77 102.8,82 104.7,81.3 106.7,77.2 108.7,81.3 110.7,77.1 112.7,70.3 114.7,69.8 116.6,74.4 118.6,77.5 120.6,78.5 122.6,82.5 124.6,85.9 126.6,85.6 128.5,85.2 130.5,82.2 132.5,85.5 134.5,78.3 136.5,74.7 138.5,72 140.4,74.7 142.4,69.3 144.4,71.3 146.4,66.1 148.4,63.9 150.4,68.4 152.4,70.9 154.3,65.5 156.3,63.6 158.3,65.7 160.3,66.3 162.3,67 164.3,70.7 166.2,72 168.2,74.8 170.2,76.4 172.2,74.9 174.2,78.3 176.2,75.7 178.1,75.5 180.1,73.2 182.1,70.7 184.1,67.4 186.1,66.5 188.1,65.4 190,67.4 192,66.6 194,70.8 196,72.3 198,70.4 200,71.4 201.9,70.6 203.9,74.8 205.9,70.5 207.9,73.2 209.9,72.3 211.9,72.9 213.8,70.4 215.8,72.4 217.8,76.2 219.8,82.4 221.8,82.8 223.8,86 225.7,83.1 227.7,77.7 229.7,84.8 231.7,88.1 233.7,85.7 235.7,80.5 237.6,79.2 239.6,78.4 241.6,78 243.6,79.4" stroke="rgb(141,141,141)"/>
<polyline points="37.3,79.4 39.3,79.8 41.3,78.9 43.3,78.9 45.2,81.8 47.2,80.8 49.2,79.5 51.2,78 53.2,71.8 55.2,75.1 57.1,75.4 59.1,74.1 61.1,76.1 63.1,80.3 65.1,82 67.1,78.3 69,79.3 71,77.4 73,80 75,78.5 77,80.7 79,83.3 80.9,82.4 82.9,81.9 84.9,76.9 86.9,82.4 88.9,80.4 90.9,75.1 92.8,71.3 94.8,73.5 96.8,76.4 98.8,78.3 100.8,77.5 102.8,77.1 104.7,76.3 106.7,74.7 108.7,78.7 110.7,82.4 112.7,85.9 114.7,89.4 116.6,88.6 118.6,86.5 120.6,77.5 122.6,76.1 124.6,76.4 126.6,72.2 128.5,75.4 130.5,74.8 132.5,72.3 134.5,70.6 136.5,70.4 138.5,72.6 140.4,77.4 142.4,78.1 144.4,80.2 146.4,77.9 148.4,78.5 150.4,76.8 152.4,82.2 154.3,78.8 156.3,81.6 158.3,86.3 160.3,89.9 162.3,90.6 164.3,85.7 166.2,82.7 168.2,86 170.2,84.9 172.2,84.6 174.2,89 176.2,91 178.1,96.1 180.1,96.9 182.1,103.2 184.1,102.9 186.1,103 188.1,102.8 190,102.6 192,96.1 194,95.2 196,92.5 198,88.6 200,84.6 201.9,81.8 203.9,83.3 205.9,86.3 207.9,88 209.9,88.4 211.9,87.3 213.8,86.7 215.8,82.3 217.8,82.3 219.8,76.2 221.8,73.3 223.8,75.6 225.7,73.3 227.7,83.2 229.7,78.4 231.7,77.2 233.7,76.2 235.7,81.7 237.6,74.9 239.6,76.8 241.6,78.1 243.6,79.4" stroke="rgb(140,140,140)"/>
<polyline points="37.3,79.4 39.3,77.3 41.3,74.4 43.3,74.4 45.2,73 47.2,75.1 49.2,80.5 51.2,79.3 53.2,78.6 55.2,80.2 57.1,81.2 59.1,80.3 61.1,81.8 63.1,80.6 65.1,81.1 67.1,87 69,86.6 71,87.3 73,88.6 75,86.5 77,87 79,84.7 80.9,81.3 82.9,80.8 84.9,84.7 86.9,86 88.9,82.9 90.9,83.2 92.8,84.9 94.8,84.5 96.8,82.7 98.8,81.7 100.8,79.8 102.8,81.9 104.7,82.4 106.7,82.7 108.7,82.5 110.7,87.6 112.7,87.2 114.7,89.8 116.6,85 118.6,80.4 120.6,76 122.6,74.3 124.6,76.3 126.6,74.2 128.5,75.4 130.5,74.4 132.5,77.3 134.5,79.2 136.5,78 138.5,73.7 140.4,74.5 142.4,69.3 144.4,63.4 146.4,68.7 148.4,70.1 150.4,73.7 152.4,74.8 154.3,76.8 156.3,77.3 158.3,75.1 160.3,73.2 162.3,73.4 164.3,74.1 166.2,74.5 168.2,74.8 170.2,73.9 172.2,74.6 174.2,73.9 176.2,78 178.1,76.2 180.1,72.1 182.1,72.5 184.1,77 186.1,73.9 188.1,75.4 190,83.7 192,83.8 194,81.7 196,80.5 198,77.2 200,75.9 201.9,76 203.9,81.6 205.9,84.2 207.9,83.2 209.9,81 211.9,83.5 213.8,84.7 215.8,82.8 217.8,87.4 219.8,91.5 221.8,90.7 223.8,88.7 225.7,88.9 227.7,93.7 229.7,92 231.7,93.9 233.7,90.5 235.7,88.7 237.6,85.8 239.6,82.8 241.6,82 243.6,79.4" stroke="rgb(140,140,140)"/>
<polyline points="37.3,79.4 39.3,80.9 41.3,81.4 43.3,80 45.2,83.8 47.2,85 49.2,83.3 51.2,82.8 53.2,85.4 55.2,85.5 57.1,86.8 59.1,85.9 61.1,89.8 63.1,93.1 65.1,95.6 67.1,94.1 69,85.4 71,82 73,78.3 75,78.4 77,74.1 79,73.8 80.9,74.3 82.9,72 84.9,76.3 86.9,82.9 88.9,85.9 90.9,81.2 92.8,78.5 94.8,78.1 96.8,79 98.8,79.6 100.8,78.5 102.8,81.1 104.7,78.8 106.7,81.7 108.7,77.7 110.7,78.9 112.7,81.6 114.7,82.2 116.6,84.5 118.6,84.4 120.6,88.9 122.6,89.2 124.6,87.9 126.6,85.9 128.5,86.2 130.5,82.1 132.5,86.6 134.5,86.4 136.5,87 138.5,86.2 140.4,86.2 142.4,81.5 144.4,81.4 146.4,83.8 148.4,76.3 150.4,76.7 152.4,77.5 154.3,75.3 156.3,77.6 158.3,78.5 160.3,76.3 162.3,80 164.3,81.3 166.2,78.5 168.2,73.6 170.2,74.6 172.2,75.6 174.2,73 176.2,78 178.1,80.2 180.1,82.5 182.1,88 184.1,95.2 186.1,94.5 188.1,90.2 190,87.1 192,82.7 194,90.1 196,89.3 198,84.4 200,86.4 201.9,89.3 203.9,87.2 205.9,86.3 207.9,83.7 209.9,83.3 211.9,79.4 213.8,77.5 215.8,77.1 217.8,78.5 219.8,76.7 221.8,79 223.8,76.4 225.7,73.5 227.7,71.6 229.7,76.3 231.7,75.4 233.7,74.9 235.7,73.5 237.6,78.5 239.6,79.9 241.6,79.8 243.6,79.4" stroke="rgb(140,140,140)"/>
<polyline points="37.3,79.4 39.3,78.7 41.3,77.3 43.3,73.2 45.2,74.4 47.2,76.4 49.2,76.4 51.2,75.5 53.2,74.2 55.2,68.4 57.1,67 59.1,68.3 61.1,63.1 63.1,63.9 65.1,64.6 67.1,64.8 69,67.6 71,72.6 73,73 75,74.8 77,78.1 79,77.9 80.9,78.7 82.9,80.7 84.9,86.4 86.9,86.1 88.9,79.5 90.9,76.6 92.8,73.4 94.8,74.2 96.8,71.3 98.8,74.5 100.8,76.6 102.8,75.2 104.7,80.4 106.7,80.1 108.7,79 110.7,73.5 112.7,76.5 114.7,75.4 116.6,78 118.6,80 120.6,88.8 122.6,90.7 124.6,85.6 126.6,83.1 128.5,82.1 130.5,73.7 132.5,72.6 134.5,77.5 136.5,78.4 138.5,78.7 140.4,73.5 142.4,77.1 144.4,76 146.4,73.2 148.4,76.6 150.4,76.6 152.4,83.5 154.3,82.7 156.3,89.5 158.3,89.5 160.3,82.7 162.3,80.9 164.3,80.6 166.2,79.9 168.2,72.8 170.2,71.7 172.2,69.2 174.2,71.9 176.2,74.2 178.1,78.2 180.1,78.9 182.1,81.2 184.1,77.8 186.1,75.8 188.1,76.6 190,78.7 192,88.3 194,89.1 196,86.9 198,83.9 200,93.4 201.9,99.6 203.9,96.6 205.9,97.9 207.9,96.4 209.9,95.9 211.9,92 213.8,96.5 215.8,96.3 217.8,91.2 219.8,89.1 221.8,90.6 223.8,87.8 225.7,85.8 227.7,87.9 229.7,84.6 231.7,81.8 233.7,81.9 235.7,78.6 237.6,81.8 239.6,79.5 241.6,79.7 243.6,79.4" stroke="rgb(140,140,140)"/>
<polyline points="37.3,79.4 39.3,78.3 41.3,79.4 43.3,80.8 45.2,79.1 47.2,78.1 49.2,76.7 51.2,76.4 53.2,77.4 55.2,78.8 57.1,80.1 59.1,78 61.1,74.9 63.1,71 65.1,74.4 67.1,75.7 69,76.2 71,77.1 73,80 75,75 77,72.2 79,73.5 80.9,75.4 82.9,76 84.9,79.2 86.9,80.1 88.9,78.4 90.9,74.8 92.8,73.4 94.8,71.2 96.8,74.7 98.8,82.8 100.8,79.3 102.8,79 104.7,79.3 106.7,75.6 108.7,78.3 110.7,80.8 112.7,82.4 114.7,78.4 116.6,76.4 118.6,81 120.6,77.1 122.6,77.4 124.6,76.7 126.6,78.9 128.5,74.7 130.5,74.4 132.5,72 134.5,75.3 136.5,74.3 138.5,74.8 140.4,75.9 142.4,78.3 144.4,80.2 146.4,82.9 148.4,84.1 150.4,83.6 152.4,81.9 154.3,85.3 156.3,87.1 158.3,87.7 160.3,90.5 162.3,90 164.3,89.4 166.2,88.7 168.2,86.8 170.2,83.8 172.2,81.5 174.2,80.7 176.2,79.3 178.1,81.2 180.1,83.3 182.1,81.4 184.1,79.9 186.1,74.9 188.1,76 190,78.8 192,78.3 194,79.6 196,81.7 198,78.4 200,74.1 201.9,74 203.9,76.2 205.9,76.1 207.9,76.7 209.9,80.4 211.9,78.4 213.8,77.8 215.8,75.2 217.8,77 219.8,77.5 221.8,78 223.8,82.3 225.7,76.2 227.7,81.5 229.7,84 231.7,84.4 233.7,87.5 235.7,85.2 237.6,84.6 239.6,82.9 241.6,81.2 243.6,79.4" stroke="rgb(140,140,140)"/>
<polyline points="37.3,79.4 39.3,72.7 41.3,67.4 43.3,63.8 45.2,68.5 47.2,70.5 49.2,74.8 51.2,74.1 53.2,71.8 55.2,73.4 57.1,72.7 59.1,74.1 61.1,69.3 63.1,70.2 65.1,70.7 67.1,70.1 69,68.3 71,67.7 73,69.2 75,70.3 77,69.9 79,69.4 80.9,71.7 82.9,74.2 84.9,75.5 86.9,74.7 88.9,76.5 90.9,79.9 92.8,80.8 94.8,82 96.8,80 98.8,81.4 100.8,82.3 102.8,76.7 104.7,75.7 106.7,78.8 108.7,75.5 110.7,77 112.7,79.6 114.7,77.7 116.6,81.9 118.6,81.8 120.6,79.9 122.6,77.7 124.6,79.4 126.6,80.8 128.5,80.9 130.5,77.3 132.5,82.6 134.5,79.9 136.5,79 138.5,75.2 140.4,78.8 142.4,75.6 144.4,78.5 146.4,77.8 148.4,79.1 150.4,86 152.4,85.4 154.3,83.5 156.3,80.6 158.3,82.2 160.3,85.1 162.3,82.4 164.3,83.1 166.2,79.7 168.2,75.6 170.2,76.7 172.2,77.5 174.2,79.7 176.2,85.4 178.1,84.7 180.1,82 182.1,78.6 184.1,78.8 186.1,73.6 188.1,75.7 190,76.2 192,78.1 194,79.5 196,80.2 198,82 200,82.9 201.9,81.6 203.9,81 205.9,83.7 207.9,81.7 209.9,83.7 211.9,81.9 213.8,81.3 215.8,86.5 217.8,88.5 219.8,84.7 221.8,85.9 223.8,86.9 225.7,87.2 227.7,85.9 229.7,83.4 231.7,83.7 233.7,78.4 235.7,80 237.6,80.9 239.6,80.7 241.6,79.9 243.6,79.4" stroke="rgb(140,140,140)"/>
<polyline points="37.3,79.4 39.3,81.1 41.3,82 43.3,81.4 45.2,81 47.2,81.7 49.2,80.7 51.2,82.6 53.2,82.4 55.2,80.1 57.1,83.1 59.1,83.3 61.1,86.2 63.1,83.2 65.1,80.9 67.1,78 69,75.1 71,72.7 73,71.4 75,74.6 77,72.4 79,75.9 80.9,69.5 82.9,69.9 84.9,69.3 86.9,74.1 88.9,71.6 90.9,69.1 92.8,74.9 94.8,77.1 96.8,78.7 98.8,80.7 100.8,76.5 102.8,70.5 104.7,74.7 106.7,72.2 108.7,73.8 110.7,70.5 112.7,78.7 114.7,80.1 116.6,76.5 118.6,79 120.6,75.6 122.6,77.6 124.6,74.4 126.6,73.3 128.5,75.3 130.5,78 132.5,78.7 134.5,75.4 136.5,75.9 138.5,78.3 140.4,68.7 142.4,74.6 144.4,75.9 146.4,74.7 148.4,78.3 150.4,78.5 152.4,79.9 154.3,84.1 156.3,82.3 158.3,85.3 160.3,86.8 162.3,82.3 164.3,85.2 166.2,82.8 168.2,78.9 170.2,76.1 172.2,75.1 174.2,76.3 176.2,80.8 178.1,80.2 180.1,78.9 182.1,80.4 184.1,83.2 186.1,80.2 188.1,83.2 190,81.5 192,82.7 194,87.3 196,81.6 198,79.6 200,78 201.9,82.3 203.9,82.4 205.9,81.3 207.9,83.3 209.9,78 211.9,84.1 213.8,81.5 215.8,86.9 217.8,90.6 219.8,93.1 221.8,89.8 223.8,90.7 225.7,91.4 227.7,92.7 229.7,95.5 231.7,96.3 233.7,97.3 235.7,94.9 237.6,91.9 239.6,92.4 241.6,87.7 243.6,79.4" stroke="rgb(139,139,139)"/>
<polyline points="37.3,79.4 39.3,77.6 41.3,77.7 43.3,81.9 45.2,87.6 47.2,89.8 49.2,90 51.2,87.6 53.2,87.8 55.2,86.3 57.1,82.1 59.1,74.4 61.1,72.8 63.1,75.9 65.1,73.8 67.1,74.4 69,74.1 71,72.3 73,71.2 75,75.4 77,78.6 79,78 80.9,76.4 82.9,71.5 84.9,70.9 86.9,72.8 88.9,74.7 90.9,77 92.8,80.4 94.8,83.4 96.8,84.2 98.8,83.4 100.8,84.7 102.8,84 104.7,84.1 106.7,84 108.7,84.5 110.7,83.1 112.7,82.6 114.7,88.7 116.6,86.9 118.6,85.7 120.6,86.4 122.6,85.1 124.6,86.1 126.6,84.9 128.5,86.4 130.5,83.8 132.5,82.4 134.5,85.5 136.5,86.5 138.5,83.9 140.4,82.3 142.4,81.6 144.4,84.1 146.4,85.1 148.4,84 150.4,82.7 152.4,82.3 154.3,83.9 156.3,83.9 158.3,84.6 160.3,86.8 162.3,88.5 164.3,89.4 166.2,91.8 168.2,89.2 170.2,86.1 172.2,83.1 174.2,84.5 176.2,85.7 178.1,84.3 180.1,84.9 182.1,84.9 184.1,85 186.1,88.3 188.1,84.1 190,87 192,89.9 194,86.7 196,88.5 198,84.7 200,83.3 201.9,81.9 203.9,82.5 205.9,85.6 207.9,87.7 209.9,86.5 211.9,85.9 213.8,88 215.8,89.8 217.8,90.6 219.8,89.4 221.8,87.2 223.8,84 225.7,84.4 227.7,80.3 229.7,78.4 231.7,75 233.7,77.6 235.7,76.6 237.6,75.3 239.6,79.2 241.6,78.4 243.6,79.4" stroke="rgb(139,139,139)"/>
<polyline points="37.3,79.4 39.3,80.1 41.3,78.9 43.3,78.8 45.2,73.8 47.2,78.9 49.2,76.8 51.2,79.1 53.2,74.9 55.2,75.7 57.1,72.8 59.1,75.7 61.1,80.7 63.1,84.1 65.1,85.5 67.1,88.1 69,83.2 71,78.4 73,77.6 75,81.2 77,81.3 79,83.3 80.9,78.2 82.9,77.3 84.9,76 86.9,77.7 88.9,84.4 90.9,86.3 92.8,89 94.8,86.7 96.8,85.5 98.8,87.4 100.8,87.7 102.8,81.6 104.7,84.4 106.7,86.8 108.7,86.6 110.7,88 112.7,88.4 114.7,85.6 116.6,79.3 118.6,85 120.6,84.4 122.6,83.7 124.6,83.4 126.6,83.5 128.5,84.1 130.5,80.3 132.5,81.7 134.5,81.9 136.5,81.6 138.5,81 140.4,81.3 142.4,77.9 144.4,78.1 146.4,77.7 148.4,78 150.4,81.4 152.4,83.9 154.3,86.7 156.3,85.2 158.3,86.8 160.3,89.4 162.3,87.4 164.3,84.7 166.2,89.8 168.2,83.1 170.2,82.5 172.2,82.5 174.2,78.7 176.2,78.5 178.1,80.6 180.1,73.4 182.1,77.6 184.1,78.1 186.1,75.5 188.1,79.4 190,79.8 192,78.5 194,70.8 196,74.7 198,75.5 200,73.8 201.9,74.2 203.9,78.7 205.9,77.5 207.9,77.4 209.9,76.2 211.9,72.9 213.8,70.4 215.8,70.2 217.8,70.3 219.8,74.9 221.8,75.9 223.8,75.6 225.7,77.4 227.7,77.3 229.7,80.2 231.7,75.2 233.7,68.7 235.7,71.8 237.6,72.8 239.6,75.3 241.6,75.4 243.6,79.4" stroke="rgb(138,138,138)"/>
<polyline points="37.3,79.4 39.3,79.2 41.3,77.8 43.3,80.3 45.2,79.3 47.2,82.5 49.2,74.5 51.2,73.2 53.2,67.2 55.2,72.1 57.1,70.6 59.1,74.9 61.1,73.4 63.1,71.7 65.1,78 67.1,82 69,85.6 71,89.9 73,91.1 75,92.9 77,96.1 79,93.7 80.9,90.1 82.9,93.3 84.9,93.4 86.9,91.7 88.9,90.9 90.9,91.9 92.8,87.6 94.8,83.7 96.8,80.8 98.8,81.3 100.8,74.3 102.8,68.9 104.7,71.5 106.7,72.8 108.7,69.5 110.7,73.4 112.7,72.7 114.7,73.3 116.6,76.4 118.6,77.5 120.6,83.1 122.6,84.4 124.6,90.6 126.6,81.5 128.5,76.1 130.5,72.2 132.5,72 134.5,69.5 136.5,66.3 138.5,64.4 140.4,63.1 142.4,68.1 144.4,68 146.4,71.1 148.4,76.1 150.4,80.4 152.4,78.8 154.3,75.3 156.3,80.4 158.3,74.3 160.3,69.9 162.3,72.3 164.3,74.7 166.2,75.5 168.2,72.6 170.2,74.7 172.2,79.1 174.2,77.9 176.2,85.1 178.1,83.9 180.1,79.4 182.1,78.4 184.1,75.9 186.1,74.6 188.1,72.7 190,73 192,76.6 194,77.7 196,78.1 198,74 200,69.1 201.9,68.9 203.9,72.7 205.9,76 207.9,77.1 209.9,72.6 211.9,72.3 213.8,73.3 215.8,76.7 217.8,74 219.8,73.7 221.8,74.5 223.8,74.8 225.7,69.6 227.7,71.3 229.7,66.5 231.7,63.8 233.7,65.5 235.7,65.3 237.6,69.3 239.6,74.1 241.6,76.7 243.6,79.4" stroke="rgb(138,138,138)"/>
<polyline points="37.3,79.4 39.3,83.2 41.3,84 43.3,83.8 45.2,82.8 47.2,84 49.2,86.4 51.2,84.1 53.2,82.4 55.2,82.6 57.1,83.4 59.1,76.4 61.1,78.9 63.1,79.6 65.1,78.8 67.1,82.2 69,81.5 71,76.1 73,73.8 75,72.7 77,71.8 79,72.4 80.9,70.5 82.9,72 84.9,74.1 86.9,74.4 88.9,72.4 90.9,72.3 92.8,71.2 94.8,78 96.8,74.8 98.8,68.6 100.8,66.1 102.8,68.6 104.7,72.3 106.7,72.4 108.7,76 110.7,74.4 112.7,76.5 114.7,74.1 116.6,70.8 118.6,77.7 120.6,77 122.6,79.3 124.6,83.4 126.6,84.7 128.5,84.7 130.5,81.1 132.5,85.2 134.5,81.5 136.5,75.5 138.5,74.2 140.4,73.3 142.4,74 144.4,78.1 146.4,76.7 148.4,75.9 150.4,74.2 152.4,67.5 154.3,66.8 156.3,67.1 158.3,64.1 160.3,69.8 162.3,74.2 164.3,75.9 166.2,78.2 168.2,76.4 170.2,77.6 172.2,72.9 174.2,69.3 176.2,68.3 178.1,70.7 180.1,70 182.1,68.8 184.1,73.1 186.1,72.9 188.1,71.6 190,71.9 192,68.3 194,66.2 196,70.1 198,70.9 200,74.3 201.9,73.2 203.9,76.5 205.9,74.2 207.9,73.7 209.9,71.6 211.9,72.9 213.8,77.9 215.8,73 217.8,74.3 219.8,70.9 221.8,70.7 223.8,69.8 225.7,65.7 227.7,66.4 229.7,63.9 231.7,70 233.7,68.7 235.7,71.3 237.6,73.7 239.6,75.4 241.6,76.7 243.6,79.4" stroke="rgb(138,138,138)"/>
<polyline points="37.3,79.4 39.3,82.1 41.3,81.1 43.3,78.1 45.2,89.5 47.2,93.5 49.2,91 51.2,89 53.2,87.6 55.2,85.3 57.1,82.2 59.1,79.2 61.1,73.4 63.1,74.1 65.1,72 67.1,78.3 69,79 71,83.1 73,78.2 75,70.8 77,70.1 79,75.6 80.9,76.5 82.9,76.8 84.9,76.6 86.9,73.4 88.9,71.1 90.9,80.9 92.8,76.3 94.8,78.4 96.8,80.4 98.8,75.7 100.8,77.1 102.8,82 104.7,86.1 106.7,85.2 108.7,81.6 110.7,76.5 112.7,77.5 114.7,79.3 116.6,74.1 118.6,76.3 120.6,72 122.6,72.2 124.6,72.3 126.6,74 128.5,73.8 130.5,76 132.5,78.8 134.5,79.3 136.5,81.6 138.5,80.4 140.4,80.1 142.4,80.9 144.4,81.5 146.4,82 148.4,76.1 150.4,76.6 152.4,79 154.3,80.1 156.3,77.9 158.3,78.8 160.3,79.4 162.3,80.3 164.3,79.8 166.2,78.5 168.2,77.2 170.2,82.9 172.2,86.1 174.2,94 176.2,89.7 178.1,84.9 180.1,80.1 182.1,79.6 184.1,75.9 186.1,76.5 188.1,77.3 190,82.7 192,84.9 194,86.3 196,82.5 198,76.8 200,78.7 201.9,77.7 203.9,77.1 205.9,79.9 207.9,85.6 209.9,87.4 211.9,91.2 213.8,90.9 215.8,90.1 217.8,89.5 219.8,88.9 221.8,86.3 223.8,88.6 225.7,84.6 227.7,89.6 229.7,88.2 231.7,86 233.7,87.9 235.7,91.2 237.6,86.6 239.6,85.8 241.6,82.1 243.6,79.4" stroke="rgb(138,138,138)"/>
<polyline points="37.3,79.4 39.3,77.9 41.3,78.3 43.3,78.8 45.2,76.7 47.2,72.3 49.2,72.8 51.2,69.9 53.2,70.7 55.2,75.3 57.1,75.5 59.1,72.8 61.1,70.1 63.1,73.3 65.1,68.4 67.1,71.5 69,74.1 71,76 73,72.7 75,72.5 77,71 79,77.3 80.9,77.6 82.9,78 84.9,76.4 86.9,77.8 88.9,75 90.9,77.1 92.8,80.7 94.8,84.4 96.8,80.6 98.8,78.5 100.8,80.5 102.8,77.5 104.7,78.1 106.7,78.4 108.7,82 110.7,82.9 112.7,82.1 114.7,81.2 116.6,82.2 118.6,79.4 120.6,75.7 122.6,78 124.6,77.1 126.6,81 128.5,79.7 130.5,81.9 132.5,81.9 134.5,81 136.5,81.3 138.5,78.4 140.4,80.3 142.4,81.2 144.4,80.1 146.4,80 148.4,79.1 150.4,79.6 152.4,81.4 154.3,79.4 156.3,79.1 158.3,76.8 160.3,73.7 162.3,75.1 164.3,77.3 166.2,78.6 168.2,80.1 170.2,84.8 172.2,80 174.2,78.8 176.2,73 178.1,75 180.1,74 182.1,73.8 184.1,74.5 186.1,72.6 188.1,73.2 190,74 192,74.1 194,80.1 196,81.6 198,83 200,78.4 201.9,77 203.9,75.2 205.9,74 207.9,75 209.9,71.4 211.9,72.7 213.8,76.8 215.8,75.4 217.8,72.9 219.8,73.3 221.8,73 223.8,71.2 225.7,68.3 227.7,68.1 229.7,65.2 231.7,66.1 233.7,62.4 235.7,68.5 237.6,69.4 239.6,72 241.6,74.9 243.6,79.4" stroke="rgb(138,138,138)"/>
<polyline points="37.3,79.4 39.3,80.9 41.3,77.3 43.3,77 45.2,81.4 47.2,81.3 49.2,76.6 51.2,83.2 53.2,87.4 55.2,83 57.1,82.2 59.1,85.5 61.1,85.5 63.1,84.6 65.1,88.1 67.1,89.1 69,83 71,81.6 73,77.5 75,78 77,80.1 79,79.1 80.9,82.4 82.9,80.8 84.9,81.8 86.9,82.6 88.9,83.2 90.9,86.1 92.8,80.7 94.8,85.8 96.8,84.4 98.8,88.2 100.8,84.1 102.8,84.4 104.7,83.3 106.7,81.3 108.7,79.9 110.7,79.3 112.7,78.1 114.7,77.1 116.6,79.1 118.6,80.2 120.6,81 122.6,83.4 124.6,84.8 126.6,79.7 128.5,84.7 130.5,78.3 132.5,80.4 134.5,78.2 136.5,78.4 138.5,79.2 140.4,77.4 142.4,71.9 144.4,73.3 146.4,74.2 148.4,76.7 150.4,70.2 152.4,67.3 154.3,65 156.3,66.7 158.3,74.8 160.3,73.8 162.3,80.6 164.3,82.7 166.2,79.1 168.2,81.2 170.2,83.4 172.2,90.3 174.2,86.6 176.2,84.4 178.1,85.5 180.1,83.6 182.1,88.7 184.1,90.9 186.1,88.9 188.1,84.8 190,84.3 192,88 194,88.8 196,83.9 198,85.5 200,84 201.9,82 203.9,83.7 205.9,83.2 207.9,88.9 209.9,89.9 211.9,88.6 213.8,85.4 215.8,80.3 217.8,81.9 219.8,80.1 221.8,80.5 223.8,83.2 225.7,85.5 227.7,85 229.7,84.4 231.7,86.5 233.7,76.3 235.7,77.1 237.6,76 239.6,77.7 241.6,74.6 243.6,79.4" stroke="rgb(138,138,138)"/>
</g>
<line x1="38.3" y1="78.2" x2="242.6" y2="78.2" stroke="#fff" stroke-width="1.0" stroke-opacity="0.9"/>
<line x1="37.3" y1="79.4" x2="243.6" y2="79.4" stroke="#111" stroke-width="1.2"/>
<polyline points="37.6,79.3 40.6,69.6 43.4,69.6 46.2,68.4 49.5,66.8 55.1,54.5 57.9,54.5 59.6,50 65.3,38.2 67.1,38.8 69.6,41.9 73.8,38.2 76.3,39.4 78.7,41.9 80.6,41.3 83.6,35.8 87.9,29.7 90.3,30.6 94,28.4 99.9,26.5 102.9,33.2 107.2,35.1 110.9,30.8 115.2,33.8 119.4,32 123.1,32.6 125.6,31.4 129.2,33.8 132.9,35.1 136,39.3 139.6,44.2 142.4,40.9 145.5,43.9 148.6,40.3 151.6,36 154.7,40.9 158.3,43.3 162.6,45.8 165.7,42.7 169.3,43.9 173,44.6 176.7,45.2 180.3,46.4 182.8,45.8 185.8,50.7 189.7,51 194.4,52.6 200,52.6 203.9,58.1 207,61.2 210.2,65.2 213.3,68.3 218,70.7 223.6,73 227.5,75.4 231.4,77 234.6,71.5 236.9,68.3 239.3,69.1 241.7,79.3 243.2,82.5" fill="none" stroke="#3222bf" stroke-width="1.5" stroke-linejoin="round"/>
<polyline points="37.6,79.3 41.1,70.7 41.7,69 44.5,62 48.4,54.5 53.4,54.5 57.3,51.1 58.6,50 63.4,44.3 69,40.7 72.6,29.7 74.4,28.4 77.5,27.8 80,24.5 82.4,27.2 85.5,24.5 87.9,26 90.3,29.7 92.8,33.3 95.2,34.6 98.7,33.2 102.9,36.9 107.2,33.8 110.9,30.2 115.8,27.7 120.7,24.7 125.6,25.3 129.8,26.5 134.1,21.6 136.6,22.2 139,25.9 142.1,27.7 145.5,33.6 149.2,37.2 152.2,34.2 157.1,37.8 160.2,34.8 165.1,39.7 170.6,35.4 173,36 176.7,40.9 179.1,43.9 181.6,48.2 185.2,47 188.9,47.1 192.9,45.5 196,48.7 200,49.4 203.9,51.8 207.8,51 211,54.2 213.3,51 216.5,55.7 220.4,57.3 223.6,59.7 225.9,58.1 228.3,60.5 231.4,58.9 234.6,62 236.9,66 240.1,69.9 242.4,76.2 243.5,80.1" fill="none" stroke="#d52b38" stroke-width="1.5" stroke-linejoin="round"/>
<rect x="33.5" y="1.9" width="217.8" height="124.7" fill="none" stroke="#3a3a3a" stroke-width="1.2"/>
<line x1="32" y1="23.9" x2="33.5" y2="23.9" stroke="#555" stroke-width="0.8"/>
<text x="30.9" y="25.6" font-size="4.8" font-weight="normal" text-anchor="end" fill="#333" >10</text>
<line x1="32" y1="51.7" x2="33.5" y2="51.7" stroke="#555" stroke-width="0.8"/>
<text x="30.9" y="53.4" font-size="4.8" font-weight="normal" text-anchor="end" fill="#333" >5</text>
<line x1="32" y1="79.4" x2="33.5" y2="79.4" stroke="#555" stroke-width="0.8"/>
<text x="30.9" y="81.1" font-size="4.8" font-weight="normal" text-anchor="end" fill="#333" >0</text>
<line x1="32" y1="107.2" x2="33.5" y2="107.2" stroke="#555" stroke-width="0.8"/>
<text x="30.9" y="108.9" font-size="4.8" font-weight="normal" text-anchor="end" fill="#333" >-5</text>
<line x1="37.2" y1="126.6" x2="37.2" y2="128.1" stroke="#555" stroke-width="0.8"/>
<text x="37.2" y="133.7" font-size="4.9" font-weight="normal" text-anchor="middle" fill="#333" >0</text>
<line x1="69" y1="126.6" x2="69" y2="128.1" stroke="#555" stroke-width="0.8"/>
<text x="69" y="133.7" font-size="4.9" font-weight="normal" text-anchor="middle" fill="#333" >2500</text>
<line x1="100.8" y1="126.6" x2="100.8" y2="128.1" stroke="#555" stroke-width="0.8"/>
<text x="100.8" y="133.7" font-size="4.9" font-weight="normal" text-anchor="middle" fill="#333" >5000</text>
<line x1="132.6" y1="126.6" x2="132.6" y2="128.1" stroke="#555" stroke-width="0.8"/>
<text x="132.6" y="133.7" font-size="4.9" font-weight="normal" text-anchor="middle" fill="#333" >7500</text>
<line x1="164.4" y1="126.6" x2="164.4" y2="128.1" stroke="#555" stroke-width="0.8"/>
<text x="164.4" y="133.7" font-size="4.9" font-weight="normal" text-anchor="middle" fill="#333" >10000</text>
<line x1="196.2" y1="126.6" x2="196.2" y2="128.1" stroke="#555" stroke-width="0.8"/>
<text x="196.2" y="133.7" font-size="4.9" font-weight="normal" text-anchor="middle" fill="#333" >12500</text>
<line x1="228" y1="126.6" x2="228" y2="128.1" stroke="#555" stroke-width="0.8"/>
<text x="228" y="133.7" font-size="4.9" font-weight="normal" text-anchor="middle" fill="#333" >15000</text>
<line x1="186.7" y1="16.8" x2="203.6" y2="16.8" stroke="#3222bf" stroke-width="1.8"/>
<line x1="186.7" y1="29.5" x2="203.6" y2="29.5" stroke="#d52b38" stroke-width="1.8"/>
<text x="208.1" y="19.2" font-size="6.8" font-weight="bold" letter-spacing="-0.14" fill="#111">AGTTCTC</text>
<text x="208" y="31.3" font-size="6.8" font-weight="bold" letter-spacing="-0.12" fill="#111">GTTCTCA</text>
<text x="37.2" y="119.9" font-size="10.2" font-weight="bold" fill="#111">downregulated</text>
<text x="185.4" y="119.5" font-size="10.3" font-weight="bold" letter-spacing="0.05" fill="#111">upregulated</text>
<text x="284" y="8.8" font-size="10.7" font-weight="bold" fill="#111">B</text>
<text x="319.1" y="23.2" font-size="10.3" letter-spacing="-0.18" fill="#111">LPS</text>
<g fill="none" stroke-width="1.35" stroke-linejoin="round">
<polyline points="294.6,105.3 295,105.3 295.4,105.3 295.8,104.1 296.2,104 296.6,103.5 297,104.3 297.4,103.6 297.8,104.2 298.2,101.7 298.6,104.9 299,103.2 299.4,103.8 299.8,102.9 300.2,102.6 300.6,103.3 301,103.6 301.4,102.4 301.8,102.4 302.2,103.2 302.6,101.3 303,100.2 303.4,102.2 303.8,100.6 304.2,98.7 304.6,99.8 305,100 305.4,98.7 305.8,97.9 306.2,99.9 306.6,101 307,98.7 307.4,97.4 307.8,98.8 308.2,98.9 308.6,96.6 309,97.6 309.4,98.1 309.8,95.4 310.2,93.9 310.6,95.9 311,95.4 311.4,96.8 311.8,91.7 312.2,92.6 312.6,92.6 313,91.1 313.4,95.2 313.8,96.2 314.2,94.1 314.6,98.5 315,97.7 315.4,96.7 315.8,95.6 316.2,96.2 316.6,90.7 317,94.2 317.4,93.6 317.8,87.6 318.2,91.8 318.6,90 319,92.7 319.4,90.2 319.8,91.4 320.2,92.5 320.6,90.1 321,93.7 321.4,92 321.8,92.1 322.2,88.3 322.6,91 323,88.5 323.4,85.1 323.8,86.8 324.2,88 324.6,89 325,79 325.4,85.4 325.8,82.4 326.2,78.3 326.6,73 327,77.4 327.4,63.9 327.8,66.3 328.2,65.6 328.6,50.2 329,51 329.4,39.5 329.8,41.5 330.2,45.9 330.6,51.4 331,39.9 331.4,51.1 331.8,60.4 332.2,67.1 332.6,65.9 333,64.5 333.4,70.9 333.8,72.3 334.2,74.4 334.6,75.5 335,81.7 335.4,84.2 335.8,84.5 336.2,85.3 336.6,83.6 337,86.8 337.4,92.5 337.8,90.8 338.2,89.7 338.6,97.1 339,96.6 339.4,100.7 339.8,98.3 340.2,97.8 340.6,96.7 341,101.5 341.4,103.7 341.8,99 342.2,99.7 342.6,101.8 343,99.9 343.4,100.7 343.8,100.7 344.2,101.5 344.6,102.7 345,101.3 345.4,102.5 345.8,100.9 346.2,101.9 346.6,98.8 347,99.7 347.4,102.6 347.8,100.9 348.2,102.4 348.6,102.5 349,103.5 349.4,103 349.8,103.3 350.2,102.1 350.6,101.5 351,101.6 351.4,102.3 351.8,102.1 352.2,103.1 352.6,103.9 353,104.6 353.4,104.4 353.8,103.5 354.2,104.8 354.6,105 355,105.3 355.4,105.3 355.8,105" stroke="#e8141c"/>
<polyline points="294.6,105.3 295,105.3 295.4,105.3 295.8,105.3 296.2,105.3 296.6,104.2 297,104.5 297.4,103.9 297.8,104.6 298.2,105.2 298.6,104.5 299,104.8 299.4,102.9 299.8,104.4 300.2,103.4 300.6,105.3 301,104.6 301.4,104.6 301.8,103.6 302.2,104.1 302.6,104 303,102.9 303.4,102.6 303.8,102.9 304.2,102.3 304.6,102.1 305,102.3 305.4,101.7 305.8,103.1 306.2,100 306.6,102.8 307,100.7 307.4,100.5 307.8,99.2 308.2,100.5 308.6,100.1 309,100.5 309.4,99.2 309.8,99.9 310.2,102.4 310.6,100 311,98.3 311.4,100.5 311.8,98.5 312.2,99.5 312.6,99.3 313,97.5 313.4,94.6 313.8,97.1 314.2,98.6 314.6,96.8 315,98.1 315.4,99 315.8,96.1 316.2,99.2 316.6,99.8 317,98.7 317.4,98.8 317.8,98.5 318.2,100.5 318.6,96.5 319,95.9 319.4,96.9 319.8,93.8 320.2,92.3 320.6,93.4 321,95.7 321.4,95.7 321.8,91.5 322.2,90.4 322.6,93.1 323,92.8 323.4,92.6 323.8,93.7 324.2,94.5 324.6,91.7 325,92.1 325.4,87.5 325.8,86.1 326.2,88.2 326.6,88 327,86.8 327.4,85.2 327.8,83.7 328.2,81.1 328.6,70.1 329,70.5 329.4,72.6 329.8,71.1 330.2,61.5 330.6,70 331,63.3 331.4,63.3 331.8,64.5 332.2,65.6 332.6,56.4 333,62 333.4,54.3 333.8,46.6 334.2,42.7 334.6,37.5 335,38.5 335.4,45.8 335.8,46.7 336.2,53.2 336.6,59.4 337,66.2 337.4,75.2 337.8,76.9 338.2,80.2 338.6,85.9 339,92.6 339.4,89.3 339.8,94.1 340.2,90.2 340.6,96.9 341,96 341.4,97.8 341.8,95.6 342.2,94.3 342.6,98.4 343,98.1 343.4,95 343.8,93.8 344.2,97.2 344.6,96 345,101.1 345.4,94.9 345.8,94.5 346.2,94.7 346.6,90.9 347,92 347.4,97.1 347.8,93.1 348.2,91.8 348.6,90 349,93.5 349.4,92.1 349.8,89.6 350.2,86.4 350.6,87.5 351,87.3 351.4,86.4 351.8,91.4 352.2,86.9 352.6,90.9 353,95 353.4,97.4 353.8,97.8 354.2,100.9 354.6,102.6 355,102.5 355.4,103 355.8,104.4 356.2,104.3 356.6,103.3 357,104.3 357.4,105.3 357.8,104.3 358.2,105 358.6,104.9 359,104.7 359.4,104.7 359.8,105.2 360.2,105.3 360.6,105.3 361,104.7 361.4,105.2 361.8,105.3" stroke="#14d01e"/>
</g>
<path d="M294.4,34.4H371.3V105.5" fill="none" stroke="#9a9a9a" stroke-width="0.9"/>
<path d="M294.4,34.4V105.5H371.3" fill="none" stroke="#5a5a5a" stroke-width="0.9"/>
<line x1="293.1" y1="105.5" x2="294.4" y2="105.5" stroke="#555" stroke-width="0.7"/>
<text x="290.6" y="106.8" font-size="3.6" font-weight="bold" text-anchor="end" fill="#444" >0</text>
<line x1="293.1" y1="91.3" x2="294.4" y2="91.3" stroke="#555" stroke-width="0.7"/>
<text x="290.6" y="92.6" font-size="3.6" font-weight="bold" text-anchor="end" fill="#444" >20</text>
<line x1="293.1" y1="77.1" x2="294.4" y2="77.1" stroke="#555" stroke-width="0.7"/>
<text x="290.6" y="78.4" font-size="3.6" font-weight="bold" text-anchor="end" fill="#444" >40</text>
<line x1="293.1" y1="62.8" x2="294.4" y2="62.8" stroke="#555" stroke-width="0.7"/>
<text x="290.6" y="64.1" font-size="3.6" font-weight="bold" text-anchor="end" fill="#444" >60</text>
<line x1="293.1" y1="48.6" x2="294.4" y2="48.6" stroke="#555" stroke-width="0.7"/>
<text x="290.6" y="49.9" font-size="3.6" font-weight="bold" text-anchor="end" fill="#444" >80</text>
<line x1="293.1" y1="34.4" x2="294.4" y2="34.4" stroke="#555" stroke-width="0.7"/>
<text x="290.6" y="35.7" font-size="3.6" font-weight="bold" text-anchor="end" fill="#444" >100</text>
<line x1="293.6" y1="101.9" x2="294.4" y2="101.9" stroke="#777" stroke-width="0.5"/>
<line x1="293.6" y1="98.4" x2="294.4" y2="98.4" stroke="#777" stroke-width="0.5"/>
<line x1="293.6" y1="94.8" x2="294.4" y2="94.8" stroke="#777" stroke-width="0.5"/>
<line x1="293.6" y1="87.7" x2="294.4" y2="87.7" stroke="#777" stroke-width="0.5"/>
<line x1="293.6" y1="84.2" x2="294.4" y2="84.2" stroke="#777" stroke-width="0.5"/>
<line x1="293.6" y1="80.6" x2="294.4" y2="80.6" stroke="#777" stroke-width="0.5"/>
<line x1="293.6" y1="73.5" x2="294.4" y2="73.5" stroke="#777" stroke-width="0.5"/>
<line x1="293.6" y1="70" x2="294.4" y2="70" stroke="#777" stroke-width="0.5"/>
<line x1="293.6" y1="66.4" x2="294.4" y2="66.4" stroke="#777" stroke-width="0.5"/>
<line x1="293.6" y1="59.3" x2="294.4" y2="59.3" stroke="#777" stroke-width="0.5"/>
<line x1="293.6" y1="55.7" x2="294.4" y2="55.7" stroke="#777" stroke-width="0.5"/>
<line x1="293.6" y1="52.2" x2="294.4" y2="52.2" stroke="#777" stroke-width="0.5"/>
<line x1="293.6" y1="45.1" x2="294.4" y2="45.1" stroke="#777" stroke-width="0.5"/>
<line x1="293.6" y1="41.5" x2="294.4" y2="41.5" stroke="#777" stroke-width="0.5"/>
<line x1="293.6" y1="38" x2="294.4" y2="38" stroke="#777" stroke-width="0.5"/>
<line x1="294.4" y1="105.5" x2="294.4" y2="106.9" stroke="#555" stroke-width="0.7"/>
<text x="294.9" y="112.7" font-size="3.7" font-weight="bold" text-anchor="middle" fill="#3a3a3a" >10<tspan dy="-1.7" font-size="2.6">0</tspan></text>
<line x1="300.1" y1="105.5" x2="300.1" y2="106.3" stroke="#777" stroke-width="0.4"/>
<line x1="303.5" y1="105.5" x2="303.5" y2="106.3" stroke="#777" stroke-width="0.4"/>
<line x1="305.8" y1="105.5" x2="305.8" y2="106.3" stroke="#777" stroke-width="0.4"/>
<line x1="307.7" y1="105.5" x2="307.7" y2="106.3" stroke="#777" stroke-width="0.4"/>
<line x1="309.2" y1="105.5" x2="309.2" y2="106.3" stroke="#777" stroke-width="0.4"/>
<line x1="310.5" y1="105.5" x2="310.5" y2="106.3" stroke="#777" stroke-width="0.4"/>
<line x1="311.6" y1="105.5" x2="311.6" y2="106.3" stroke="#777" stroke-width="0.4"/>
<line x1="312.5" y1="105.5" x2="312.5" y2="106.3" stroke="#777" stroke-width="0.4"/>
<line x1="313.4" y1="105.5" x2="313.4" y2="106.9" stroke="#555" stroke-width="0.7"/>
<text x="313.9" y="112.7" font-size="3.7" font-weight="bold" text-anchor="middle" fill="#3a3a3a" >10<tspan dy="-1.7" font-size="2.6">1</tspan></text>
<line x1="319.1" y1="105.5" x2="319.1" y2="106.3" stroke="#777" stroke-width="0.4"/>
<line x1="322.5" y1="105.5" x2="322.5" y2="106.3" stroke="#777" stroke-width="0.4"/>
<line x1="324.8" y1="105.5" x2="324.8" y2="106.3" stroke="#777" stroke-width="0.4"/>
<line x1="326.7" y1="105.5" x2="326.7" y2="106.3" stroke="#777" stroke-width="0.4"/>
<line x1="328.2" y1="105.5" x2="328.2" y2="106.3" stroke="#777" stroke-width="0.4"/>
<line x1="329.5" y1="105.5" x2="329.5" y2="106.3" stroke="#777" stroke-width="0.4"/>
<line x1="330.6" y1="105.5" x2="330.6" y2="106.3" stroke="#777" stroke-width="0.4"/>
<line x1="331.5" y1="105.5" x2="331.5" y2="106.3" stroke="#777" stroke-width="0.4"/>
<line x1="332.4" y1="105.5" x2="332.4" y2="106.9" stroke="#555" stroke-width="0.7"/>
<text x="332.9" y="112.7" font-size="3.7" font-weight="bold" text-anchor="middle" fill="#3a3a3a" >10<tspan dy="-1.7" font-size="2.6">2</tspan></text>
<line x1="338.1" y1="105.5" x2="338.1" y2="106.3" stroke="#777" stroke-width="0.4"/>
<line x1="341.5" y1="105.5" x2="341.5" y2="106.3" stroke="#777" stroke-width="0.4"/>
<line x1="343.8" y1="105.5" x2="343.8" y2="106.3" stroke="#777" stroke-width="0.4"/>
<line x1="345.7" y1="105.5" x2="345.7" y2="106.3" stroke="#777" stroke-width="0.4"/>
<line x1="347.2" y1="105.5" x2="347.2" y2="106.3" stroke="#777" stroke-width="0.4"/>
<line x1="348.5" y1="105.5" x2="348.5" y2="106.3" stroke="#777" stroke-width="0.4"/>
<line x1="349.6" y1="105.5" x2="349.6" y2="106.3" stroke="#777" stroke-width="0.4"/>
<line x1="350.5" y1="105.5" x2="350.5" y2="106.3" stroke="#777" stroke-width="0.4"/>
<line x1="351.4" y1="105.5" x2="351.4" y2="106.9" stroke="#555" stroke-width="0.7"/>
<text x="351.9" y="112.7" font-size="3.7" font-weight="bold" text-anchor="middle" fill="#3a3a3a" >10<tspan dy="-1.7" font-size="2.6">3</tspan></text>
<line x1="357.1" y1="105.5" x2="357.1" y2="106.3" stroke="#777" stroke-width="0.4"/>
<line x1="360.5" y1="105.5" x2="360.5" y2="106.3" stroke="#777" stroke-width="0.4"/>
<line x1="362.8" y1="105.5" x2="362.8" y2="106.3" stroke="#777" stroke-width="0.4"/>
<line x1="364.7" y1="105.5" x2="364.7" y2="106.3" stroke="#777" stroke-width="0.4"/>
<line x1="366.2" y1="105.5" x2="366.2" y2="106.3" stroke="#777" stroke-width="0.4"/>
<line x1="367.5" y1="105.5" x2="367.5" y2="106.3" stroke="#777" stroke-width="0.4"/>
<line x1="368.6" y1="105.5" x2="368.6" y2="106.3" stroke="#777" stroke-width="0.4"/>
<line x1="369.5" y1="105.5" x2="369.5" y2="106.3" stroke="#777" stroke-width="0.4"/>
<line x1="370.4" y1="105.5" x2="370.4" y2="106.9" stroke="#555" stroke-width="0.7"/>
<rect x="345.9" y="38.2" width="21.6" height="12.1" fill="#fff" stroke="#444" stroke-width="0.8"/>
<rect x="345.9" y="38.2" width="5.4" height="6" fill="#e8141c"/>
<rect x="345.9" y="44.2" width="5.4" height="6" fill="#14d01e"/>
<text x="358.9" y="43.5" font-size="6" font-weight="600" text-anchor="middle" fill="#1a1a1a" textLength="8.2" lengthAdjust="spacingAndGlyphs">WT</text>
<text x="358.9" y="49.5" font-size="6" font-weight="600" text-anchor="middle" fill="#1a1a1a" textLength="7.6" lengthAdjust="spacingAndGlyphs">TG</text>
<text x="340.5" y="67.6" font-size="10.2" letter-spacing="-0.06" fill="#111">B220+</text>
<text x="304.6" y="125.8" font-size="10.2" letter-spacing="0.11" fill="#111">eFluor® 670</text>
<text x="409.4" y="9.2" font-size="10.9" font-weight="bold" fill="#111">C</text>
<text x="430" y="21.8" font-size="10.3" fill="#111">B</text>
<text x="453.1" y="21.8" font-size="10.3" letter-spacing="-0.22" fill="#111">SCID</text>
<path d="M440,19.3H448.6" stroke="#222" stroke-width="0.75"/>
<path d="M447.4,18.1L449.8,19.3L447.4,20.6Z" fill="#222"/>
<g fill="none" stroke-width="1.35" stroke-linejoin="round">
<polyline points="419.3,103.5 419.3,70.2 419.7,76.3 420.1,69 420.5,78.5 420.9,71.1 421.3,66.5 421.7,64.3 422.1,61 422.5,61.8 422.9,62.9 423.3,59.3 423.7,57 424.1,46.5 424.5,45.4 424.9,56.1 425.3,51.6 425.7,53.8 426.1,46.9 426.5,37 426.9,44.4 427.3,40.2 427.7,39.5 428.1,37 428.5,42.4 428.9,44.7 429.3,51 429.7,50 430.1,57.8 430.5,50.6 430.9,57.3 431.3,59.4 431.7,56.4 432.1,57.3 432.5,67 432.9,67.2 433.3,68 433.7,76 434.1,77.2 434.5,81.8 434.9,81.8 435.3,85.9 435.7,89.4 436.1,87.6 436.5,91.4 436.9,88.8 437.3,91.3 437.7,89.9 438.1,93 438.5,94 438.9,94.2 439.3,94.7 439.7,97.9 440.1,98.3 440.5,94.6 440.9,98.6 441.3,94.7 441.7,96.6 442.1,97.8 442.5,98.6 442.9,97.3 443.3,97.9 443.7,99.1 444.1,98.3 444.5,98.6 444.9,100.4 445.3,100.8 445.7,99.8 446.1,100.1 446.5,100.1 446.9,99.7 447.3,99.8 447.7,99.3 448.1,101.2 448.5,100.5 448.9,100.6 449.3,101 449.7,101.4 450.1,102.3 450.5,100.5 450.9,100.4 451.3,101 451.7,99.9 452.1,102.1 452.5,101.7 452.9,101.3 453.3,100.1 453.7,100.9 454.1,101 454.5,100.2 454.9,99.1 455.3,97.9 455.7,101.3 456.1,100.2 456.5,100 456.9,102.1 457.3,101.9 457.7,100.7 458.1,102.1 458.5,102.3 458.9,103.5 459.3,102.2 459.7,103.3 460.1,103.4 460.5,103.6 460.9,103.3" stroke="#14d01e"/>
<polyline points="419.3,103.5 419.3,63.4 419.7,67.4 420.1,70.3 420.5,71.9 420.9,76.5 421.3,65.4 421.7,71.5 422.1,70.3 422.5,62.6 422.9,59.8 423.3,62.6 423.7,64 424.1,66.2 424.5,59.3 424.9,59.5 425.3,49.7 425.7,47.1 426.1,42.7 426.5,43.9 426.9,46.6 427.3,48.5 427.7,41.9 428.1,50.1 428.5,46.2 428.9,44.3 429.3,45.2 429.7,58 430.1,52.3 430.5,50.1 430.9,52 431.3,64.3 431.7,57.4 432.1,65.7 432.5,68.4 432.9,57.7 433.3,73.1 433.7,75.2 434.1,77.4 434.5,80.9 434.9,85.7 435.3,87.2 435.7,88.9 436.1,87.6 436.5,93 436.9,94.5 437.3,96 437.7,95 438.1,97.3 438.5,98.2 438.9,96.4 439.3,97.3 439.7,97.3 440.1,97.5 440.5,98.3 440.9,94.7 441.3,97.1 441.7,98.5 442.1,95.2 442.5,96.5 442.9,100.8 443.3,97.5 443.7,98.5 444.1,99.8 444.5,98.9 444.9,98.7 445.3,99.3 445.7,99.6 446.1,99.6 446.5,100.5 446.9,102.2 447.3,100.9 447.7,102.4 448.1,101.5 448.5,101.7 448.9,101.5 449.3,100.7 449.7,101.5 450.1,101.5 450.5,100.3 450.9,102.1 451.3,102.1 451.7,102 452.1,101.2 452.5,99.6 452.9,103.2 453.3,102 453.7,100.4 454.1,102.8 454.5,101.8 454.9,103 455.3,102.5 455.7,103.4 456.1,103 456.5,103.1 456.9,103.1 457.3,103.6 457.7,102.6 458.1,103.6 458.5,103.6 458.9,103.4" stroke="#e8141c"/>
</g>
<path d="M419,34.6H491.3V103.7" fill="none" stroke="#9a9a9a" stroke-width="0.9"/>
<path d="M419,34.6V103.7H491.3" fill="none" stroke="#5a5a5a" stroke-width="0.9"/>
<line x1="417.7" y1="103.7" x2="419" y2="103.7" stroke="#555" stroke-width="0.7"/>
<text x="415.2" y="105" font-size="3.6" font-weight="bold" text-anchor="end" fill="#444" >0</text>
<line x1="417.7" y1="83.5" x2="419" y2="83.5" stroke="#555" stroke-width="0.7"/>
<text x="415.2" y="84.8" font-size="3.6" font-weight="bold" text-anchor="end" fill="#444" >200</text>
<line x1="417.7" y1="63.3" x2="419" y2="63.3" stroke="#555" stroke-width="0.7"/>
<text x="415.2" y="64.6" font-size="3.6" font-weight="bold" text-anchor="end" fill="#444" >400</text>
<line x1="417.7" y1="43.1" x2="419" y2="43.1" stroke="#555" stroke-width="0.7"/>
<text x="415.2" y="44.4" font-size="3.6" font-weight="bold" text-anchor="end" fill="#444" >600</text>
<line x1="418.2" y1="98.7" x2="419" y2="98.7" stroke="#777" stroke-width="0.5"/>
<line x1="418.2" y1="93.6" x2="419" y2="93.6" stroke="#777" stroke-width="0.5"/>
<line x1="418.2" y1="88.5" x2="419" y2="88.5" stroke="#777" stroke-width="0.5"/>
<line x1="418.2" y1="78.5" x2="419" y2="78.5" stroke="#777" stroke-width="0.5"/>
<line x1="418.2" y1="73.4" x2="419" y2="73.4" stroke="#777" stroke-width="0.5"/>
<line x1="418.2" y1="68.4" x2="419" y2="68.4" stroke="#777" stroke-width="0.5"/>
<line x1="418.2" y1="58.3" x2="419" y2="58.3" stroke="#777" stroke-width="0.5"/>
<line x1="418.2" y1="53.2" x2="419" y2="53.2" stroke="#777" stroke-width="0.5"/>
<line x1="418.2" y1="48.2" x2="419" y2="48.2" stroke="#777" stroke-width="0.5"/>
<line x1="419" y1="103.7" x2="419" y2="105.1" stroke="#555" stroke-width="0.7"/>
<text x="419.5" y="110.9" font-size="3.7" font-weight="bold" text-anchor="middle" fill="#3a3a3a" >10<tspan dy="-1.7" font-size="2.6">0</tspan></text>
<line x1="424.4" y1="103.7" x2="424.4" y2="104.5" stroke="#777" stroke-width="0.4"/>
<line x1="427.6" y1="103.7" x2="427.6" y2="104.5" stroke="#777" stroke-width="0.4"/>
<line x1="429.9" y1="103.7" x2="429.9" y2="104.5" stroke="#777" stroke-width="0.4"/>
<line x1="431.7" y1="103.7" x2="431.7" y2="104.5" stroke="#777" stroke-width="0.4"/>
<line x1="433.1" y1="103.7" x2="433.1" y2="104.5" stroke="#777" stroke-width="0.4"/>
<line x1="434.3" y1="103.7" x2="434.3" y2="104.5" stroke="#777" stroke-width="0.4"/>
<line x1="435.3" y1="103.7" x2="435.3" y2="104.5" stroke="#777" stroke-width="0.4"/>
<line x1="436.3" y1="103.7" x2="436.3" y2="104.5" stroke="#777" stroke-width="0.4"/>
<line x1="437.1" y1="103.7" x2="437.1" y2="105.1" stroke="#555" stroke-width="0.7"/>
<text x="437.6" y="110.9" font-size="3.7" font-weight="bold" text-anchor="middle" fill="#3a3a3a" >10<tspan dy="-1.7" font-size="2.6">1</tspan></text>
<line x1="442.5" y1="103.7" x2="442.5" y2="104.5" stroke="#777" stroke-width="0.4"/>
<line x1="445.7" y1="103.7" x2="445.7" y2="104.5" stroke="#777" stroke-width="0.4"/>
<line x1="448" y1="103.7" x2="448" y2="104.5" stroke="#777" stroke-width="0.4"/>
<line x1="449.8" y1="103.7" x2="449.8" y2="104.5" stroke="#777" stroke-width="0.4"/>
<line x1="451.2" y1="103.7" x2="451.2" y2="104.5" stroke="#777" stroke-width="0.4"/>
<line x1="452.4" y1="103.7" x2="452.4" y2="104.5" stroke="#777" stroke-width="0.4"/>
<line x1="453.4" y1="103.7" x2="453.4" y2="104.5" stroke="#777" stroke-width="0.4"/>
<line x1="454.4" y1="103.7" x2="454.4" y2="104.5" stroke="#777" stroke-width="0.4"/>
<line x1="455.2" y1="103.7" x2="455.2" y2="105.1" stroke="#555" stroke-width="0.7"/>
<text x="455.7" y="110.9" font-size="3.7" font-weight="bold" text-anchor="middle" fill="#3a3a3a" >10<tspan dy="-1.7" font-size="2.6">2</tspan></text>
<line x1="460.6" y1="103.7" x2="460.6" y2="104.5" stroke="#777" stroke-width="0.4"/>
<line x1="463.8" y1="103.7" x2="463.8" y2="104.5" stroke="#777" stroke-width="0.4"/>
<line x1="466.1" y1="103.7" x2="466.1" y2="104.5" stroke="#777" stroke-width="0.4"/>
<line x1="467.9" y1="103.7" x2="467.9" y2="104.5" stroke="#777" stroke-width="0.4"/>
<line x1="469.3" y1="103.7" x2="469.3" y2="104.5" stroke="#777" stroke-width="0.4"/>
<line x1="470.5" y1="103.7" x2="470.5" y2="104.5" stroke="#777" stroke-width="0.4"/>
<line x1="471.5" y1="103.7" x2="471.5" y2="104.5" stroke="#777" stroke-width="0.4"/>
<line x1="472.5" y1="103.7" x2="472.5" y2="104.5" stroke="#777" stroke-width="0.4"/>
<line x1="473.3" y1="103.7" x2="473.3" y2="105.1" stroke="#555" stroke-width="0.7"/>
<text x="473.8" y="110.9" font-size="3.7" font-weight="bold" text-anchor="middle" fill="#3a3a3a" >10<tspan dy="-1.7" font-size="2.6">3</tspan></text>
<line x1="478.7" y1="103.7" x2="478.7" y2="104.5" stroke="#777" stroke-width="0.4"/>
<line x1="481.9" y1="103.7" x2="481.9" y2="104.5" stroke="#777" stroke-width="0.4"/>
<line x1="484.2" y1="103.7" x2="484.2" y2="104.5" stroke="#777" stroke-width="0.4"/>
<line x1="486" y1="103.7" x2="486" y2="104.5" stroke="#777" stroke-width="0.4"/>
<line x1="487.4" y1="103.7" x2="487.4" y2="104.5" stroke="#777" stroke-width="0.4"/>
<line x1="488.6" y1="103.7" x2="488.6" y2="104.5" stroke="#777" stroke-width="0.4"/>
<line x1="489.6" y1="103.7" x2="489.6" y2="104.5" stroke="#777" stroke-width="0.4"/>
<line x1="490.6" y1="103.7" x2="490.6" y2="104.5" stroke="#777" stroke-width="0.4"/>
<line x1="491.4" y1="103.7" x2="491.4" y2="105.1" stroke="#555" stroke-width="0.7"/>
<rect x="459.9" y="38.7" width="21.8" height="11.9" fill="#fff" stroke="#444" stroke-width="0.8"/>
<rect x="459.9" y="38.7" width="5.5" height="6" fill="#e8141c"/>
<rect x="459.9" y="44.7" width="5.5" height="5.9" fill="#14d01e"/>
<text x="473" y="44" font-size="5.9" font-weight="600" text-anchor="middle" fill="#1a1a1a" textLength="8" lengthAdjust="spacingAndGlyphs">WT</text>
<text x="473" y="49.8" font-size="5.9" font-weight="600" text-anchor="middle" fill="#1a1a1a" textLength="7.4" lengthAdjust="spacingAndGlyphs">TG</text>
<text x="456.5" y="64.6" font-size="10.2" letter-spacing="-0.23" fill="#111">B220+</text>
<text x="441.5" y="127.9" font-size="10.3" fill="#111">EdU</text>
<text x="13.4" y="155.8" font-size="10.9" font-weight="bold" fill="#111">D</text>
<text x="55.8" y="156.2" font-size="10.2" letter-spacing="0.03" fill="#111">CD4+T cells</text>
<text x="128.7" y="156.2" font-size="10.2" letter-spacing="-0.14" fill="#111">SCID</text>
<path d="M115,153.7H123.6" stroke="#222" stroke-width="0.75"/>
<path d="M122.4,152.4L124.8,153.7L122.4,154.9Z" fill="#222"/>
<g fill="none" stroke-width="1.35" stroke-linejoin="round">
<polyline points="68.6,238.5 68.6,227.5 69,228 69.4,228 69.8,224.5 70.2,227.8 70.6,227.4 71,228.7 71.4,228.3 71.8,229.9 72.2,225.3 72.6,229.2 73,227.3 73.4,222.8 73.8,224.3 74.2,222.9 74.6,217.3 75,221.3 75.4,217.7 75.8,217.4 76.2,215.6 76.6,214.8 77,214.8 77.4,213.6 77.8,208.1 78.2,210.2 78.6,206 79,204.7 79.4,205.3 79.8,206.8 80.2,204.2 80.6,198.8 81,196.8 81.4,194.7 81.8,196.2 82.2,197 82.6,191.6 83,191.6 83.4,188 83.8,190 84.2,175.1 84.6,173.7 85,179.9 85.4,182.1 85.8,177.1 86.2,179.3 86.6,172.3 87,171.1 87.4,172.3 87.8,177.6 88.2,177.1 88.6,172.7 89,177.3 89.4,175.3 89.8,179 90.2,176.7 90.6,182.7 91,182.2 91.4,186.7 91.8,186.5 92.2,188 92.6,193.1 93,193.6 93.4,196.8 93.8,197.4 94.2,202.5 94.6,200.1 95,206.6 95.4,209 95.8,205.2 96.2,211.7 96.6,213.2 97,209.6 97.4,205.4 97.8,205.6 98.2,210.1 98.6,215.6 99,212.7 99.4,213.4 99.8,211.1 100.2,210.1 100.6,213.3 101,209.7 101.4,212.4 101.8,214.4 102.2,213.4 102.6,214.8 103,212.6 103.4,215.4 103.8,215.2 104.2,210.3 104.6,212.1 105,213.3 105.4,217 105.8,216.5 106.2,216.9 106.6,217 107,218.4 107.4,219.5 107.8,216.4 108.2,214.2 108.6,219.7 109,218 109.4,218.8 109.8,218.6 110.2,216.8 110.6,216.2 111,221.9 111.4,222.3 111.8,222.2 112.2,220.8 112.6,221.1 113,219.9 113.4,221.1 113.8,220.3 114.2,220.3 114.6,222.1 115,225.5 115.4,218.3 115.8,223.7 116.2,224.1 116.6,220.6 117,223.9 117.4,223.8 117.8,223 118.2,223.2 118.6,221.8 119,228.1 119.4,229.5 119.8,228.4 120.2,225.2 120.6,226.6 121,227.2 121.4,225.5 121.8,226.9 122.2,228.6 122.6,227.4 123,225.6 123.4,226.9 123.8,229.8 124.2,229.4 124.6,230 125,232.9 125.4,231.6 125.8,231 126.2,232.4 126.6,235.7 127,232.1 127.4,236.1 127.8,236.1 128.2,234.9 128.6,235.3 129,237.4 129.4,236.7 129.8,236.5 130.2,238.5 130.6,237.7 131,238.1 131.4,238.1 131.8,238.3" stroke="#e8141c"/>
<polyline points="68.6,238.5 68.6,230.3 69,229.6 69.4,227.9 69.8,228.4 70.2,225.9 70.6,224.5 71,230.4 71.4,229 71.8,225.7 72.2,226.9 72.6,226.5 73,227.1 73.4,227.8 73.8,225.1 74.2,222.8 74.6,223.4 75,221.1 75.4,220.9 75.8,218.2 76.2,216.1 76.6,220.2 77,215.7 77.4,215.4 77.8,212.5 78.2,211.4 78.6,210.5 79,211.7 79.4,211.5 79.8,207.9 80.2,203.1 80.6,210.2 81,203.4 81.4,202.1 81.8,196.2 82.2,195.4 82.6,196 83,186.5 83.4,187 83.8,188.4 84.2,192.7 84.6,184.5 85,178.7 85.4,177.1 85.8,183.5 86.2,176.4 86.6,177.1 87,184.3 87.4,176.8 87.8,174.4 88.2,172 88.6,180.1 89,181.2 89.4,175.4 89.8,174 90.2,179.8 90.6,186.8 91,185.7 91.4,182.2 91.8,189.2 92.2,192.5 92.6,192 93,194.6 93.4,196 93.8,196.6 94.2,198.2 94.6,198.2 95,200.6 95.4,200.9 95.8,207.3 96.2,208.2 96.6,207.9 97,209.6 97.4,209.4 97.8,208.2 98.2,211.3 98.6,210.6 99,211.2 99.4,207.1 99.8,211 100.2,213.5 100.6,212 101,211.1 101.4,209.6 101.8,212.1 102.2,217 102.6,212.6 103,216.6 103.4,213.4 103.8,217.1 104.2,213.8 104.6,216 105,216.9 105.4,217.2 105.8,214.2 106.2,215.9 106.6,215.2 107,217.1 107.4,217.1 107.8,217.7 108.2,219.7 108.6,216.6 109,217.4 109.4,218.1 109.8,219.1 110.2,218.2 110.6,221.1 111,218.3 111.4,224 111.8,220.9 112.2,223.3 112.6,219.1 113,220.8 113.4,221.9 113.8,225.2 114.2,222.2 114.6,225.1 115,221.3 115.4,225.6 115.8,221.9 116.2,220.2 116.6,220.1 117,224.3 117.4,223.8 117.8,225 118.2,224.7 118.6,226 119,228.2 119.4,225.4 119.8,226.5 120.2,225.7 120.6,223.9 121,226.6 121.4,229.8 121.8,226.6 122.2,231.8 122.6,229.5 123,229.7 123.4,230.8 123.8,230 124.2,230.5 124.6,232.7 125,230.5 125.4,231.8 125.8,231 126.2,233.1 126.6,236.8 127,235.2 127.4,233.6 127.8,233.4 128.2,236.1 128.6,236.7 129,236.2 129.4,237.9 129.8,237.7 130.2,238.2 130.6,238.5 131,238.5 131.4,238.3 131.8,238.3 132.2,238.5" stroke="#14d01e"/>
</g>
<path d="M68.4,168.2H145.2V238.6" fill="none" stroke="#9a9a9a" stroke-width="0.9"/>
<path d="M68.4,168.2V238.6H145.2" fill="none" stroke="#5a5a5a" stroke-width="0.9"/>
<line x1="67.1" y1="238.6" x2="68.4" y2="238.6" stroke="#555" stroke-width="0.7"/>
<text x="64.6" y="239.9" font-size="3.6" font-weight="bold" text-anchor="end" fill="#444" >0</text>
<line x1="67.1" y1="224.5" x2="68.4" y2="224.5" stroke="#555" stroke-width="0.7"/>
<text x="64.6" y="225.8" font-size="3.6" font-weight="bold" text-anchor="end" fill="#444" >20</text>
<line x1="67.1" y1="210.4" x2="68.4" y2="210.4" stroke="#555" stroke-width="0.7"/>
<text x="64.6" y="211.7" font-size="3.6" font-weight="bold" text-anchor="end" fill="#444" >40</text>
<line x1="67.1" y1="196.4" x2="68.4" y2="196.4" stroke="#555" stroke-width="0.7"/>
<text x="64.6" y="197.7" font-size="3.6" font-weight="bold" text-anchor="end" fill="#444" >60</text>
<line x1="67.1" y1="182.3" x2="68.4" y2="182.3" stroke="#555" stroke-width="0.7"/>
<text x="64.6" y="183.6" font-size="3.6" font-weight="bold" text-anchor="end" fill="#444" >80</text>
<line x1="67.1" y1="168.2" x2="68.4" y2="168.2" stroke="#555" stroke-width="0.7"/>
<text x="64.6" y="169.5" font-size="3.6" font-weight="bold" text-anchor="end" fill="#444" >100</text>
<line x1="67.6" y1="235.1" x2="68.4" y2="235.1" stroke="#777" stroke-width="0.5"/>
<line x1="67.6" y1="231.6" x2="68.4" y2="231.6" stroke="#777" stroke-width="0.5"/>
<line x1="67.6" y1="228" x2="68.4" y2="228" stroke="#777" stroke-width="0.5"/>
<line x1="67.6" y1="221" x2="68.4" y2="221" stroke="#777" stroke-width="0.5"/>
<line x1="67.6" y1="217.5" x2="68.4" y2="217.5" stroke="#777" stroke-width="0.5"/>
<line x1="67.6" y1="214" x2="68.4" y2="214" stroke="#777" stroke-width="0.5"/>
<line x1="67.6" y1="206.9" x2="68.4" y2="206.9" stroke="#777" stroke-width="0.5"/>
<line x1="67.6" y1="203.4" x2="68.4" y2="203.4" stroke="#777" stroke-width="0.5"/>
<line x1="67.6" y1="199.9" x2="68.4" y2="199.9" stroke="#777" stroke-width="0.5"/>
<line x1="67.6" y1="192.8" x2="68.4" y2="192.8" stroke="#777" stroke-width="0.5"/>
<line x1="67.6" y1="189.3" x2="68.4" y2="189.3" stroke="#777" stroke-width="0.5"/>
<line x1="67.6" y1="185.8" x2="68.4" y2="185.8" stroke="#777" stroke-width="0.5"/>
<line x1="67.6" y1="178.8" x2="68.4" y2="178.8" stroke="#777" stroke-width="0.5"/>
<line x1="67.6" y1="175.2" x2="68.4" y2="175.2" stroke="#777" stroke-width="0.5"/>
<line x1="67.6" y1="171.7" x2="68.4" y2="171.7" stroke="#777" stroke-width="0.5"/>
<line x1="68.4" y1="238.6" x2="68.4" y2="240" stroke="#555" stroke-width="0.7"/>
<text x="68.9" y="245.8" font-size="3.7" font-weight="bold" text-anchor="middle" fill="#3a3a3a" >10<tspan dy="-1.7" font-size="2.6">0</tspan></text>
<line x1="74.1" y1="238.6" x2="74.1" y2="239.4" stroke="#777" stroke-width="0.4"/>
<line x1="77.5" y1="238.6" x2="77.5" y2="239.4" stroke="#777" stroke-width="0.4"/>
<line x1="79.8" y1="238.6" x2="79.8" y2="239.4" stroke="#777" stroke-width="0.4"/>
<line x1="81.7" y1="238.6" x2="81.7" y2="239.4" stroke="#777" stroke-width="0.4"/>
<line x1="83.2" y1="238.6" x2="83.2" y2="239.4" stroke="#777" stroke-width="0.4"/>
<line x1="84.5" y1="238.6" x2="84.5" y2="239.4" stroke="#777" stroke-width="0.4"/>
<line x1="85.6" y1="238.6" x2="85.6" y2="239.4" stroke="#777" stroke-width="0.4"/>
<line x1="86.5" y1="238.6" x2="86.5" y2="239.4" stroke="#777" stroke-width="0.4"/>
<line x1="87.4" y1="238.6" x2="87.4" y2="240" stroke="#555" stroke-width="0.7"/>
<text x="87.9" y="245.8" font-size="3.7" font-weight="bold" text-anchor="middle" fill="#3a3a3a" >10<tspan dy="-1.7" font-size="2.6">1</tspan></text>
<line x1="93.1" y1="238.6" x2="93.1" y2="239.4" stroke="#777" stroke-width="0.4"/>
<line x1="96.5" y1="238.6" x2="96.5" y2="239.4" stroke="#777" stroke-width="0.4"/>
<line x1="98.8" y1="238.6" x2="98.8" y2="239.4" stroke="#777" stroke-width="0.4"/>
<line x1="100.7" y1="238.6" x2="100.7" y2="239.4" stroke="#777" stroke-width="0.4"/>
<line x1="102.2" y1="238.6" x2="102.2" y2="239.4" stroke="#777" stroke-width="0.4"/>
<line x1="103.5" y1="238.6" x2="103.5" y2="239.4" stroke="#777" stroke-width="0.4"/>
<line x1="104.6" y1="238.6" x2="104.6" y2="239.4" stroke="#777" stroke-width="0.4"/>
<line x1="105.5" y1="238.6" x2="105.5" y2="239.4" stroke="#777" stroke-width="0.4"/>
<line x1="106.4" y1="238.6" x2="106.4" y2="240" stroke="#555" stroke-width="0.7"/>
<text x="106.9" y="245.8" font-size="3.7" font-weight="bold" text-anchor="middle" fill="#3a3a3a" >10<tspan dy="-1.7" font-size="2.6">2</tspan></text>
<line x1="112.1" y1="238.6" x2="112.1" y2="239.4" stroke="#777" stroke-width="0.4"/>
<line x1="115.5" y1="238.6" x2="115.5" y2="239.4" stroke="#777" stroke-width="0.4"/>
<line x1="117.8" y1="238.6" x2="117.8" y2="239.4" stroke="#777" stroke-width="0.4"/>
<line x1="119.7" y1="238.6" x2="119.7" y2="239.4" stroke="#777" stroke-width="0.4"/>
<line x1="121.2" y1="238.6" x2="121.2" y2="239.4" stroke="#777" stroke-width="0.4"/>
<line x1="122.5" y1="238.6" x2="122.5" y2="239.4" stroke="#777" stroke-width="0.4"/>
<line x1="123.6" y1="238.6" x2="123.6" y2="239.4" stroke="#777" stroke-width="0.4"/>
<line x1="124.5" y1="238.6" x2="124.5" y2="239.4" stroke="#777" stroke-width="0.4"/>
<line x1="125.4" y1="238.6" x2="125.4" y2="240" stroke="#555" stroke-width="0.7"/>
<text x="125.9" y="245.8" font-size="3.7" font-weight="bold" text-anchor="middle" fill="#3a3a3a" >10<tspan dy="-1.7" font-size="2.6">3</tspan></text>
<line x1="131.1" y1="238.6" x2="131.1" y2="239.4" stroke="#777" stroke-width="0.4"/>
<line x1="134.5" y1="238.6" x2="134.5" y2="239.4" stroke="#777" stroke-width="0.4"/>
<line x1="136.8" y1="238.6" x2="136.8" y2="239.4" stroke="#777" stroke-width="0.4"/>
<line x1="138.7" y1="238.6" x2="138.7" y2="239.4" stroke="#777" stroke-width="0.4"/>
<line x1="140.2" y1="238.6" x2="140.2" y2="239.4" stroke="#777" stroke-width="0.4"/>
<line x1="141.5" y1="238.6" x2="141.5" y2="239.4" stroke="#777" stroke-width="0.4"/>
<line x1="142.6" y1="238.6" x2="142.6" y2="239.4" stroke="#777" stroke-width="0.4"/>
<line x1="143.5" y1="238.6" x2="143.5" y2="239.4" stroke="#777" stroke-width="0.4"/>
<line x1="144.4" y1="238.6" x2="144.4" y2="240" stroke="#555" stroke-width="0.7"/>
<rect x="115.3" y="171.7" width="22.7" height="12.3" fill="#fff" stroke="#444" stroke-width="0.8"/>
<rect x="115.3" y="171.7" width="5.7" height="6.2" fill="#e8141c"/>
<rect x="115.3" y="177.8" width="5.7" height="6.2" fill="#14d01e"/>
<text x="129" y="177.2" font-size="6.2" font-weight="600" text-anchor="middle" fill="#1a1a1a" textLength="8.3" lengthAdjust="spacingAndGlyphs">WT</text>
<text x="129" y="183.2" font-size="6.2" font-weight="600" text-anchor="middle" fill="#1a1a1a" textLength="7.7" lengthAdjust="spacingAndGlyphs">TG</text>
<text x="113.3" y="196.6" font-size="10.1" letter-spacing="-0.20" fill="#111">CD4+</text>
<text x="93.2" y="257.7" font-size="10.2" letter-spacing="-0.11" fill="#111">EdU</text>
<text x="242.7" y="155.9" font-size="11" font-weight="bold" fill="#111">E</text>
<rect x="272" y="153.5" width="10.6" height="18.2" fill="#fff" stroke="#555" stroke-width="0.7"/>
<rect x="272.2" y="153.7" width="8.2" height="8.3" fill="#e8141c"/>
<rect x="272.2" y="162" width="8.2" height="9.5" fill="#14d01e"/>
<text x="288.5" y="160" font-size="10.2" letter-spacing="-1.48" fill="#111">WT</text>
<text x="305.9" y="160" font-size="10.2" letter-spacing="0.11" fill="#111">non-GC</text>
<text x="345.3" y="160" font-size="10.2" fill="#111">B</text>
<text x="358.3" y="160" font-size="10.2" fill="#111">+</text>
<text x="366.8" y="160" font-size="10.2" letter-spacing="0.02" fill="#111">WT</text>
<text x="389.7" y="160" font-size="10.2" fill="#111">T</text>
<text x="398.3" y="160" font-size="10.2" letter-spacing="-0.18" fill="#111">cells</text>
<text x="437.9" y="160" font-size="10.2" letter-spacing="-0.17" fill="#111">SCID</text>
<path d="M424.6,157.3H433" stroke="#222" stroke-width="0.75"/>
<path d="M431.8,156.1L434.2,157.3L431.8,158.6Z" fill="#222"/>
<text x="290.3" y="172.9" font-size="10.2" letter-spacing="-0.47" fill="#111">TG</text>
<text x="305.9" y="172.9" font-size="10.2" letter-spacing="0.11" fill="#111">non-GC</text>
<text x="345.3" y="172.9" font-size="10.2" fill="#111">B</text>
<text x="358.3" y="172.9" font-size="10.2" fill="#111">+</text>
<text x="366.8" y="172.9" font-size="10.2" letter-spacing="0.02" fill="#111">WT</text>
<text x="389.7" y="172.9" font-size="10.2" fill="#111">T</text>
<text x="398.3" y="172.9" font-size="10.2" letter-spacing="-0.18" fill="#111">cells</text>
<text x="437.9" y="172.9" font-size="10.2" letter-spacing="-0.17" fill="#111">SCID</text>
<path d="M424.6,170.2H433" stroke="#222" stroke-width="0.75"/>
<path d="M431.8,169L434.2,170.2L431.8,171.5Z" fill="#222"/>
<text x="259.4" y="189.2" font-size="10.6" letter-spacing="0.24" fill="#111">B220</text>
<text x="285.9" y="184.9" font-size="5.2" font-weight="bold" fill="#111">+</text>
<text x="293" y="189.2" font-size="10.6" letter-spacing="0.51" fill="#111">gated:</text>
<text x="359" y="189.2" font-size="10.6" letter-spacing="0.12" fill="#111">CD4</text>
<text x="381.4" y="184.9" font-size="5.2" font-weight="bold" fill="#111">+</text>
<text x="388.7" y="189.2" font-size="10.6" letter-spacing="0.43" fill="#111">gated:</text>
<text x="454.8" y="189.2" font-size="10.6" letter-spacing="0.20" fill="#111">CD8</text>
<text x="477.6" y="184.9" font-size="5.2" font-weight="bold" fill="#111">+</text>
<text x="484.9" y="189.2" font-size="10.6" letter-spacing="0.35" fill="#111">gated:</text>
<g fill="none" stroke-width="1.2" stroke-linejoin="round">
<polyline points="252.8,264.8 252.8,251.6 253.2,251 253.6,250.7 254,252 254.4,249 254.8,248.4 255.2,248.3 255.6,249.8 256,245.4 256.4,244.7 256.8,244.9 257.2,243.8 257.6,243.1 258,240.1 258.4,238 258.8,235.9 259.2,237.3 259.6,234.9 260,234.7 260.4,232.1 260.8,232.7 261.2,229.2 261.6,226.3 262,224.1 262.4,220.9 262.8,219.1 263.2,217.3 263.6,219.5 264,213.6 264.4,210.6 264.8,210.7 265.2,210.1 265.6,203.7 266,198.9 266.4,202.3 266.8,204.9 267.2,199.6 267.6,202.3 268,200.7 268.4,201.5 268.8,198.9 269.2,199 269.6,204.2 270,203.2 270.4,198.9 270.8,207.4 271.2,210.7 271.6,206.9 272,212.1 272.4,210.6 272.8,215.3 273.2,217.9 273.6,219.3 274,225.7 274.4,227.9 274.8,231 275.2,234.5 275.6,229.9 276,235.7 276.4,233.4 276.8,236.6 277.2,238.3 277.6,237.6 278,240.7 278.4,239.4 278.8,241.9 279.2,244.9 279.6,243.1 280,245.8 280.4,244.3 280.8,247.9 281.2,246.1 281.6,248.2 282,247.9 282.4,250.8 282.8,249.4 283.2,250.3 283.6,251.7 284,252.8 284.4,252.7 284.8,252 285.2,254.2 285.6,253.7 286,252.7 286.4,255.3 286.8,252.2 287.2,253.3 287.6,255.2 288,254.7 288.4,254.7 288.8,253.9 289.2,253.4 289.6,254.3 290,255.5 290.4,254.6 290.8,253.8 291.2,255.1 291.6,258 292,257 292.4,258.5 292.8,256.6 293.2,256.7 293.6,256.7 294,259.2 294.4,257 294.8,258 295.2,259.1 295.6,257.8 296,259.1 296.4,259.4 296.8,260.4 297.2,261.5 297.6,261 298,262.2 298.4,262 298.8,262.8 299.2,263.2 299.6,263.3 300,263.1 300.4,263.8 300.8,264 301.2,264.8 301.6,264.8 302,264.8 302.4,264.5 302.8,264.8" stroke="#14d01e"/>
<polyline points="252.8,264.8 252.8,254.7 253.2,253 253.6,253.6 254,250.4 254.4,253.5 254.8,250.5 255.2,250.6 255.6,250 256,248.3 256.4,247.3 256.8,244.1 257.2,244.8 257.6,243.3 258,242.7 258.4,236.9 258.8,237.3 259.2,238 259.6,237.5 260,235.3 260.4,231.7 260.8,230.6 261.2,228.9 261.6,221.6 262,224.1 262.4,222.1 262.8,220.2 263.2,220.4 263.6,215.1 264,216.7 264.4,214.4 264.8,212.7 265.2,210.3 265.6,210.3 266,210.8 266.4,203.3 266.8,200.8 267.2,202.8 267.6,206.6 268,200.3 268.4,199.4 268.8,198.9 269.2,198.9 269.6,198.9 270,208.9 270.4,201 270.8,201.1 271.2,205 271.6,209.4 272,207.5 272.4,210.9 272.8,215 273.2,219.6 273.6,218 274,224.2 274.4,230.5 274.8,227.9 275.2,230.6 275.6,234.9 276,237.1 276.4,236.6 276.8,239 277.2,241.8 277.6,244 278,244.8 278.4,247.8 278.8,246 279.2,249.6 279.6,249 280,251.8 280.4,251.8 280.8,254.5 281.2,253.5 281.6,254.3 282,255.1 282.4,255.9 282.8,255.2 283.2,254.7 283.6,255.4 284,257.3 284.4,258.8 284.8,256.7 285.2,258.5 285.6,256.6 286,258.8 286.4,257.9 286.8,258.5 287.2,259.9 287.6,260.8 288,258.8 288.4,258.4 288.8,258.8 289.2,260 289.6,259.8 290,259.7 290.4,259.6 290.8,260.4 291.2,260.2 291.6,261.7 292,260.9 292.4,262.3 292.8,262.1 293.2,262.2 293.6,262.1 294,261.3 294.4,262.8 294.8,263.2 295.2,262.5 295.6,262 296,262.4 296.4,262.6 296.8,262.8 297.2,264.3 297.6,263.7 298,264.3 298.4,263.7 298.8,264.5 299.2,264.5 299.6,264.8 300,264.4 300.4,264.6 300.8,264.6" stroke="#e8141c"/>
</g>
<path d="M252.6,195.4H322.7V264.9" fill="none" stroke="#9a9a9a" stroke-width="0.9"/>
<path d="M252.6,195.4V264.9H322.7" fill="none" stroke="#5a5a5a" stroke-width="0.9"/>
<line x1="251.3" y1="264.9" x2="252.6" y2="264.9" stroke="#555" stroke-width="0.7"/>
<text x="248.8" y="266.2" font-size="3.6" font-weight="bold" text-anchor="end" fill="#444" >0</text>
<line x1="251.3" y1="251" x2="252.6" y2="251" stroke="#555" stroke-width="0.7"/>
<text x="248.8" y="252.3" font-size="3.6" font-weight="bold" text-anchor="end" fill="#444" >20</text>
<line x1="251.3" y1="237.1" x2="252.6" y2="237.1" stroke="#555" stroke-width="0.7"/>
<text x="248.8" y="238.4" font-size="3.6" font-weight="bold" text-anchor="end" fill="#444" >40</text>
<line x1="251.3" y1="223.2" x2="252.6" y2="223.2" stroke="#555" stroke-width="0.7"/>
<text x="248.8" y="224.5" font-size="3.6" font-weight="bold" text-anchor="end" fill="#444" >60</text>
<line x1="251.3" y1="209.3" x2="252.6" y2="209.3" stroke="#555" stroke-width="0.7"/>
<text x="248.8" y="210.6" font-size="3.6" font-weight="bold" text-anchor="end" fill="#444" >80</text>
<line x1="251.3" y1="195.4" x2="252.6" y2="195.4" stroke="#555" stroke-width="0.7"/>
<text x="248.8" y="196.7" font-size="3.6" font-weight="bold" text-anchor="end" fill="#444" >100</text>
<line x1="251.8" y1="261.4" x2="252.6" y2="261.4" stroke="#777" stroke-width="0.5"/>
<line x1="251.8" y1="257.9" x2="252.6" y2="257.9" stroke="#777" stroke-width="0.5"/>
<line x1="251.8" y1="254.5" x2="252.6" y2="254.5" stroke="#777" stroke-width="0.5"/>
<line x1="251.8" y1="247.5" x2="252.6" y2="247.5" stroke="#777" stroke-width="0.5"/>
<line x1="251.8" y1="244" x2="252.6" y2="244" stroke="#777" stroke-width="0.5"/>
<line x1="251.8" y1="240.6" x2="252.6" y2="240.6" stroke="#777" stroke-width="0.5"/>
<line x1="251.8" y1="233.6" x2="252.6" y2="233.6" stroke="#777" stroke-width="0.5"/>
<line x1="251.8" y1="230.1" x2="252.6" y2="230.1" stroke="#777" stroke-width="0.5"/>
<line x1="251.8" y1="226.7" x2="252.6" y2="226.7" stroke="#777" stroke-width="0.5"/>
<line x1="251.8" y1="219.7" x2="252.6" y2="219.7" stroke="#777" stroke-width="0.5"/>
<line x1="251.8" y1="216.2" x2="252.6" y2="216.2" stroke="#777" stroke-width="0.5"/>
<line x1="251.8" y1="212.8" x2="252.6" y2="212.8" stroke="#777" stroke-width="0.5"/>
<line x1="251.8" y1="205.8" x2="252.6" y2="205.8" stroke="#777" stroke-width="0.5"/>
<line x1="251.8" y1="202.4" x2="252.6" y2="202.4" stroke="#777" stroke-width="0.5"/>
<line x1="251.8" y1="198.9" x2="252.6" y2="198.9" stroke="#777" stroke-width="0.5"/>
<line x1="252.6" y1="264.9" x2="252.6" y2="266.3" stroke="#555" stroke-width="0.7"/>
<text x="253.1" y="272.1" font-size="3.7" font-weight="bold" text-anchor="middle" fill="#3a3a3a" >10<tspan dy="-1.7" font-size="2.6">0</tspan></text>
<line x1="258" y1="264.9" x2="258" y2="265.7" stroke="#777" stroke-width="0.4"/>
<line x1="261.1" y1="264.9" x2="261.1" y2="265.7" stroke="#777" stroke-width="0.4"/>
<line x1="263.3" y1="264.9" x2="263.3" y2="265.7" stroke="#777" stroke-width="0.4"/>
<line x1="265" y1="264.9" x2="265" y2="265.7" stroke="#777" stroke-width="0.4"/>
<line x1="266.5" y1="264.9" x2="266.5" y2="265.7" stroke="#777" stroke-width="0.4"/>
<line x1="267.6" y1="264.9" x2="267.6" y2="265.7" stroke="#777" stroke-width="0.4"/>
<line x1="268.7" y1="264.9" x2="268.7" y2="265.7" stroke="#777" stroke-width="0.4"/>
<line x1="269.6" y1="264.9" x2="269.6" y2="265.7" stroke="#777" stroke-width="0.4"/>
<line x1="270.4" y1="264.9" x2="270.4" y2="266.3" stroke="#555" stroke-width="0.7"/>
<text x="270.9" y="272.1" font-size="3.7" font-weight="bold" text-anchor="middle" fill="#3a3a3a" >10<tspan dy="-1.7" font-size="2.6">1</tspan></text>
<line x1="275.8" y1="264.9" x2="275.8" y2="265.7" stroke="#777" stroke-width="0.4"/>
<line x1="278.9" y1="264.9" x2="278.9" y2="265.7" stroke="#777" stroke-width="0.4"/>
<line x1="281.1" y1="264.9" x2="281.1" y2="265.7" stroke="#777" stroke-width="0.4"/>
<line x1="282.8" y1="264.9" x2="282.8" y2="265.7" stroke="#777" stroke-width="0.4"/>
<line x1="284.3" y1="264.9" x2="284.3" y2="265.7" stroke="#777" stroke-width="0.4"/>
<line x1="285.4" y1="264.9" x2="285.4" y2="265.7" stroke="#777" stroke-width="0.4"/>
<line x1="286.5" y1="264.9" x2="286.5" y2="265.7" stroke="#777" stroke-width="0.4"/>
<line x1="287.4" y1="264.9" x2="287.4" y2="265.7" stroke="#777" stroke-width="0.4"/>
<line x1="288.2" y1="264.9" x2="288.2" y2="266.3" stroke="#555" stroke-width="0.7"/>
<text x="288.7" y="272.1" font-size="3.7" font-weight="bold" text-anchor="middle" fill="#3a3a3a" >10<tspan dy="-1.7" font-size="2.6">2</tspan></text>
<line x1="293.6" y1="264.9" x2="293.6" y2="265.7" stroke="#777" stroke-width="0.4"/>
<line x1="296.7" y1="264.9" x2="296.7" y2="265.7" stroke="#777" stroke-width="0.4"/>
<line x1="298.9" y1="264.9" x2="298.9" y2="265.7" stroke="#777" stroke-width="0.4"/>
<line x1="300.6" y1="264.9" x2="300.6" y2="265.7" stroke="#777" stroke-width="0.4"/>
<line x1="302.1" y1="264.9" x2="302.1" y2="265.7" stroke="#777" stroke-width="0.4"/>
<line x1="303.2" y1="264.9" x2="303.2" y2="265.7" stroke="#777" stroke-width="0.4"/>
<line x1="304.3" y1="264.9" x2="304.3" y2="265.7" stroke="#777" stroke-width="0.4"/>
<line x1="305.2" y1="264.9" x2="305.2" y2="265.7" stroke="#777" stroke-width="0.4"/>
<line x1="306" y1="264.9" x2="306" y2="266.3" stroke="#555" stroke-width="0.7"/>
<text x="306.5" y="272.1" font-size="3.7" font-weight="bold" text-anchor="middle" fill="#3a3a3a" >10<tspan dy="-1.7" font-size="2.6">3</tspan></text>
<line x1="311.4" y1="264.9" x2="311.4" y2="265.7" stroke="#777" stroke-width="0.4"/>
<line x1="314.5" y1="264.9" x2="314.5" y2="265.7" stroke="#777" stroke-width="0.4"/>
<line x1="316.7" y1="264.9" x2="316.7" y2="265.7" stroke="#777" stroke-width="0.4"/>
<line x1="318.4" y1="264.9" x2="318.4" y2="265.7" stroke="#777" stroke-width="0.4"/>
<line x1="319.9" y1="264.9" x2="319.9" y2="265.7" stroke="#777" stroke-width="0.4"/>
<line x1="321" y1="264.9" x2="321" y2="265.7" stroke="#777" stroke-width="0.4"/>
<line x1="322.1" y1="264.9" x2="322.1" y2="265.7" stroke="#777" stroke-width="0.4"/>
<rect x="294.6" y="199.6" width="22.3" height="12.3" fill="#fff" stroke="#444" stroke-width="0.8"/>
<rect x="294.6" y="199.6" width="5.6" height="6.2" fill="#e8141c"/>
<rect x="294.6" y="205.8" width="5.6" height="6.2" fill="#14d01e"/>
<text x="308" y="205.1" font-size="6.2" font-weight="600" text-anchor="middle" fill="#1a1a1a" textLength="8.3" lengthAdjust="spacingAndGlyphs">WT</text>
<text x="308" y="211.1" font-size="6.2" font-weight="600" text-anchor="middle" fill="#1a1a1a" textLength="7.7" lengthAdjust="spacingAndGlyphs">TG</text>
<g fill="none" stroke-width="1.2" stroke-linejoin="round">
<polyline points="349.8,264.8 349.8,246.7 350.2,248.7 350.6,246.8 351,246.7 351.4,240.8 351.8,245.7 352.2,241.8 352.6,237.1 353,235.3 353.4,234.2 353.8,234.7 354.2,239.1 354.6,237.1 355,231.6 355.4,230.3 355.8,237 356.2,232.6 356.6,225.4 357,226 357.4,223.4 357.8,223.8 358.2,224.8 358.6,219 359,219.8 359.4,219 359.8,218.2 360.2,211.1 360.6,211 361,218.1 361.4,207.7 361.8,206.9 362.2,207 362.6,201 363,200.5 363.4,208.2 363.8,205.5 364.2,198.9 364.6,199.4 365,198.9 365.4,198.9 365.8,201 366.2,208.8 366.6,203.3 367,211.1 367.4,201.9 367.8,208.2 368.2,209.2 368.6,210.4 369,215.2 369.4,214.7 369.8,211.6 370.2,209.8 370.6,214.1 371,217.3 371.4,216.1 371.8,213.1 372.2,212.9 372.6,222.9 373,221.5 373.4,219 373.8,223.3 374.2,224.1 374.6,222.1 375,221.8 375.4,227.7 375.8,227.1 376.2,229.5 376.6,228.4 377,226.2 377.4,224.2 377.8,224.9 378.2,224.5 378.6,227.1 379,228 379.4,231.6 379.8,232.6 380.2,228.4 380.6,230.2 381,225.5 381.4,227.5 381.8,226.6 382.2,230.9 382.6,229.2 383,228.8 383.4,231.6 383.8,226.2 384.2,232.2 384.6,234.3 385,237.1 385.4,230.4 385.8,233.3 386.2,229.1 386.6,239.8 387,236 387.4,237.9 387.8,233.5 388.2,237.8 388.6,237.5 389,236.5 389.4,237.3 389.8,238.6 390.2,239.5 390.6,238 391,246.8 391.4,244.1 391.8,245.2 392.2,246 392.6,245.9 393,247.1 393.4,249.3 393.8,248.2 394.2,252.4 394.6,250 395,253.6 395.4,250.2 395.8,253.3 396.2,254.7 396.6,256.5 397,257.1 397.4,253.7 397.8,255 398.2,259.2 398.6,256.8 399,255.8 399.4,260.3 399.8,260.2 400.2,258.6 400.6,260.1 401,262.6 401.4,261.1 401.8,261.5 402.2,262 402.6,264 403,262 403.4,263.9 403.8,264.2 404.2,264.6 404.6,264.8 405,264.8" stroke="#14d01e"/>
<polyline points="349.8,264.8 349.8,248.4 350.2,246.9 350.6,246.9 351,248 351.4,243.5 351.8,240.5 352.2,239.7 352.6,244.3 353,238.3 353.4,235.2 353.8,236.1 354.2,236.3 354.6,235.1 355,238 355.4,231.6 355.8,226.8 356.2,233.7 356.6,228.7 357,226.9 357.4,222.3 357.8,219.4 358.2,225.3 358.6,214.2 359,215.1 359.4,211.6 359.8,218 360.2,212.4 360.6,206.6 361,209 361.4,210.8 361.8,198.9 362.2,198.9 362.6,199.2 363,200.2 363.4,198.9 363.8,200.1 364.2,203.8 364.6,208.4 365,201.9 365.4,210.7 365.8,211.7 366.2,219 366.6,207.7 367,217.2 367.4,220.1 367.8,227.9 368.2,222.2 368.6,226 369,230.2 369.4,233.1 369.8,234 370.2,230.6 370.6,240 371,234.6 371.4,238.5 371.8,240.9 372.2,239 372.6,242.3 373,238.6 373.4,242 373.8,241.3 374.2,239.4 374.6,241.6 375,241.1 375.4,245.7 375.8,242.1 376.2,240.8 376.6,244 377,243.9 377.4,250.5 377.8,249.1 378.2,245.8 378.6,243.9 379,250.5 379.4,246.3 379.8,242.2 380.2,246.8 380.6,242.4 381,248.7 381.4,247.1 381.8,243.9 382.2,245.1 382.6,241.9 383,250.2 383.4,246.8 383.8,248.1 384.2,249.6 384.6,246.1 385,245.8 385.4,246.2 385.8,248.1 386.2,245.9 386.6,247.1 387,248.6 387.4,248.5 387.8,247.3 388.2,246.5 388.6,247.7 389,250.3 389.4,251.9 389.8,251.7 390.2,249.1 390.6,251.1 391,250.8 391.4,253.2 391.8,249 392.2,253.1 392.6,252 393,251.4 393.4,256.6 393.8,255.8 394.2,250.2 394.6,253.5 395,255 395.4,256 395.8,252.5 396.2,255.6 396.6,255.7 397,254.5 397.4,257.4 397.8,256 398.2,257.2 398.6,256.4 399,258.9 399.4,259.5 399.8,259 400.2,258.9 400.6,260.4 401,261.2 401.4,261.7 401.8,261.8 402.2,263.4 402.6,262.8 403,263.6 403.4,264.8 403.8,264.2" stroke="#e8141c"/>
</g>
<path d="M349.6,195.4H421.5V264.9" fill="none" stroke="#9a9a9a" stroke-width="0.9"/>
<path d="M349.6,195.4V264.9H421.5" fill="none" stroke="#5a5a5a" stroke-width="0.9"/>
<line x1="348.3" y1="264.9" x2="349.6" y2="264.9" stroke="#555" stroke-width="0.7"/>
<text x="345.8" y="266.2" font-size="3.6" font-weight="bold" text-anchor="end" fill="#444" >0</text>
<line x1="348.3" y1="251" x2="349.6" y2="251" stroke="#555" stroke-width="0.7"/>
<text x="345.8" y="252.3" font-size="3.6" font-weight="bold" text-anchor="end" fill="#444" >20</text>
<line x1="348.3" y1="237.1" x2="349.6" y2="237.1" stroke="#555" stroke-width="0.7"/>
<text x="345.8" y="238.4" font-size="3.6" font-weight="bold" text-anchor="end" fill="#444" >40</text>
<line x1="348.3" y1="223.2" x2="349.6" y2="223.2" stroke="#555" stroke-width="0.7"/>
<text x="345.8" y="224.5" font-size="3.6" font-weight="bold" text-anchor="end" fill="#444" >60</text>
<line x1="348.3" y1="209.3" x2="349.6" y2="209.3" stroke="#555" stroke-width="0.7"/>
<text x="345.8" y="210.6" font-size="3.6" font-weight="bold" text-anchor="end" fill="#444" >80</text>
<line x1="348.3" y1="195.4" x2="349.6" y2="195.4" stroke="#555" stroke-width="0.7"/>
<text x="345.8" y="196.7" font-size="3.6" font-weight="bold" text-anchor="end" fill="#444" >100</text>
<line x1="348.8" y1="261.4" x2="349.6" y2="261.4" stroke="#777" stroke-width="0.5"/>
<line x1="348.8" y1="257.9" x2="349.6" y2="257.9" stroke="#777" stroke-width="0.5"/>
<line x1="348.8" y1="254.5" x2="349.6" y2="254.5" stroke="#777" stroke-width="0.5"/>
<line x1="348.8" y1="247.5" x2="349.6" y2="247.5" stroke="#777" stroke-width="0.5"/>
<line x1="348.8" y1="244" x2="349.6" y2="244" stroke="#777" stroke-width="0.5"/>
<line x1="348.8" y1="240.6" x2="349.6" y2="240.6" stroke="#777" stroke-width="0.5"/>
<line x1="348.8" y1="233.6" x2="349.6" y2="233.6" stroke="#777" stroke-width="0.5"/>
<line x1="348.8" y1="230.1" x2="349.6" y2="230.1" stroke="#777" stroke-width="0.5"/>
<line x1="348.8" y1="226.7" x2="349.6" y2="226.7" stroke="#777" stroke-width="0.5"/>
<line x1="348.8" y1="219.7" x2="349.6" y2="219.7" stroke="#777" stroke-width="0.5"/>
<line x1="348.8" y1="216.2" x2="349.6" y2="216.2" stroke="#777" stroke-width="0.5"/>
<line x1="348.8" y1="212.8" x2="349.6" y2="212.8" stroke="#777" stroke-width="0.5"/>
<line x1="348.8" y1="205.8" x2="349.6" y2="205.8" stroke="#777" stroke-width="0.5"/>
<line x1="348.8" y1="202.4" x2="349.6" y2="202.4" stroke="#777" stroke-width="0.5"/>
<line x1="348.8" y1="198.9" x2="349.6" y2="198.9" stroke="#777" stroke-width="0.5"/>
<line x1="349.6" y1="264.9" x2="349.6" y2="266.3" stroke="#555" stroke-width="0.7"/>
<text x="350.1" y="272.1" font-size="3.7" font-weight="bold" text-anchor="middle" fill="#3a3a3a" >10<tspan dy="-1.7" font-size="2.6">0</tspan></text>
<line x1="355" y1="264.9" x2="355" y2="265.7" stroke="#777" stroke-width="0.4"/>
<line x1="358.1" y1="264.9" x2="358.1" y2="265.7" stroke="#777" stroke-width="0.4"/>
<line x1="360.3" y1="264.9" x2="360.3" y2="265.7" stroke="#777" stroke-width="0.4"/>
<line x1="362" y1="264.9" x2="362" y2="265.7" stroke="#777" stroke-width="0.4"/>
<line x1="363.5" y1="264.9" x2="363.5" y2="265.7" stroke="#777" stroke-width="0.4"/>
<line x1="364.6" y1="264.9" x2="364.6" y2="265.7" stroke="#777" stroke-width="0.4"/>
<line x1="365.7" y1="264.9" x2="365.7" y2="265.7" stroke="#777" stroke-width="0.4"/>
<line x1="366.6" y1="264.9" x2="366.6" y2="265.7" stroke="#777" stroke-width="0.4"/>
<line x1="367.4" y1="264.9" x2="367.4" y2="266.3" stroke="#555" stroke-width="0.7"/>
<text x="367.9" y="272.1" font-size="3.7" font-weight="bold" text-anchor="middle" fill="#3a3a3a" >10<tspan dy="-1.7" font-size="2.6">1</tspan></text>
<line x1="372.8" y1="264.9" x2="372.8" y2="265.7" stroke="#777" stroke-width="0.4"/>
<line x1="375.9" y1="264.9" x2="375.9" y2="265.7" stroke="#777" stroke-width="0.4"/>
<line x1="378.1" y1="264.9" x2="378.1" y2="265.7" stroke="#777" stroke-width="0.4"/>
<line x1="379.8" y1="264.9" x2="379.8" y2="265.7" stroke="#777" stroke-width="0.4"/>
<line x1="381.3" y1="264.9" x2="381.3" y2="265.7" stroke="#777" stroke-width="0.4"/>
<line x1="382.4" y1="264.9" x2="382.4" y2="265.7" stroke="#777" stroke-width="0.4"/>
<line x1="383.5" y1="264.9" x2="383.5" y2="265.7" stroke="#777" stroke-width="0.4"/>
<line x1="384.4" y1="264.9" x2="384.4" y2="265.7" stroke="#777" stroke-width="0.4"/>
<line x1="385.2" y1="264.9" x2="385.2" y2="266.3" stroke="#555" stroke-width="0.7"/>
<text x="385.7" y="272.1" font-size="3.7" font-weight="bold" text-anchor="middle" fill="#3a3a3a" >10<tspan dy="-1.7" font-size="2.6">2</tspan></text>
<line x1="390.6" y1="264.9" x2="390.6" y2="265.7" stroke="#777" stroke-width="0.4"/>
<line x1="393.7" y1="264.9" x2="393.7" y2="265.7" stroke="#777" stroke-width="0.4"/>
<line x1="395.9" y1="264.9" x2="395.9" y2="265.7" stroke="#777" stroke-width="0.4"/>
<line x1="397.6" y1="264.9" x2="397.6" y2="265.7" stroke="#777" stroke-width="0.4"/>
<line x1="399.1" y1="264.9" x2="399.1" y2="265.7" stroke="#777" stroke-width="0.4"/>
<line x1="400.2" y1="264.9" x2="400.2" y2="265.7" stroke="#777" stroke-width="0.4"/>
<line x1="401.3" y1="264.9" x2="401.3" y2="265.7" stroke="#777" stroke-width="0.4"/>
<line x1="402.2" y1="264.9" x2="402.2" y2="265.7" stroke="#777" stroke-width="0.4"/>
<line x1="403" y1="264.9" x2="403" y2="266.3" stroke="#555" stroke-width="0.7"/>
<text x="403.5" y="272.1" font-size="3.7" font-weight="bold" text-anchor="middle" fill="#3a3a3a" >10<tspan dy="-1.7" font-size="2.6">3</tspan></text>
<line x1="408.4" y1="264.9" x2="408.4" y2="265.7" stroke="#777" stroke-width="0.4"/>
<line x1="411.5" y1="264.9" x2="411.5" y2="265.7" stroke="#777" stroke-width="0.4"/>
<line x1="413.7" y1="264.9" x2="413.7" y2="265.7" stroke="#777" stroke-width="0.4"/>
<line x1="415.4" y1="264.9" x2="415.4" y2="265.7" stroke="#777" stroke-width="0.4"/>
<line x1="416.9" y1="264.9" x2="416.9" y2="265.7" stroke="#777" stroke-width="0.4"/>
<line x1="418" y1="264.9" x2="418" y2="265.7" stroke="#777" stroke-width="0.4"/>
<line x1="419.1" y1="264.9" x2="419.1" y2="265.7" stroke="#777" stroke-width="0.4"/>
<line x1="420" y1="264.9" x2="420" y2="265.7" stroke="#777" stroke-width="0.4"/>
<line x1="420.8" y1="264.9" x2="420.8" y2="266.3" stroke="#555" stroke-width="0.7"/>
<rect x="392.9" y="198.2" width="22.8" height="12.6" fill="#fff" stroke="#444" stroke-width="0.8"/>
<rect x="392.9" y="198.2" width="5.7" height="6.3" fill="#e8141c"/>
<rect x="392.9" y="204.5" width="5.7" height="6.3" fill="#14d01e"/>
<text x="406.6" y="203.8" font-size="6.3" font-weight="600" text-anchor="middle" fill="#1a1a1a" textLength="8.5" lengthAdjust="spacingAndGlyphs">WT</text>
<text x="406.6" y="210" font-size="6.3" font-weight="600" text-anchor="middle" fill="#1a1a1a" textLength="7.9" lengthAdjust="spacingAndGlyphs">TG</text>
<g fill="none" stroke-width="1.2" stroke-linejoin="round">
<polyline points="449.4,264.8 449.4,255.9 449.8,253 450.2,254.7 450.6,254.1 451,248.3 451.4,248.4 451.8,249.9 452.2,248 452.6,247.4 453,244.6 453.4,246.9 453.8,245.6 454.2,242.9 454.6,244.1 455,241.3 455.4,236.8 455.8,238.3 456.2,233.6 456.6,236.8 457,233 457.4,230.8 457.8,227.4 458.2,230.6 458.6,224.8 459,222 459.4,219.1 459.8,218.5 460.2,214.6 460.6,211.5 461,208.4 461.4,211.9 461.8,200.5 462.2,198.9 462.6,198.9 463,202 463.4,203.8 463.8,199.3 464.2,198.9 464.6,198.9 465,202.3 465.4,203.1 465.8,202.9 466.2,199.5 466.6,204.9 467,206.6 467.4,209.2 467.8,220.2 468.2,226.8 468.6,229.7 469,229.6 469.4,231.8 469.8,234.2 470.2,230.5 470.6,234.6 471,235.6 471.4,236.5 471.8,238.6 472.2,243.9 472.6,239.7 473,244.5 473.4,239.6 473.8,243.3 474.2,245.1 474.6,246.8 475,247.4 475.4,248 475.8,246.1 476.2,246.3 476.6,249.2 477,247.6 477.4,246 477.8,246.5 478.2,246.9 478.6,249.7 479,249.1 479.4,250.2 479.8,248.2 480.2,249.4 480.6,250.3 481,248.7 481.4,250.2 481.8,248.2 482.2,248.8 482.6,248.8 483,247.4 483.4,250.5 483.8,248.9 484.2,249.8 484.6,250.7 485,250.7 485.4,251.2 485.8,249.9 486.2,249.5 486.6,250.3 487,247.6 487.4,248.2 487.8,248.6 488.2,249.3 488.6,251.9 489,249.8 489.4,251 489.8,254.2 490.2,251.8 490.6,254 491,251.7 491.4,253.3 491.8,252.5 492.2,253.9 492.6,256.4 493,253.6 493.4,257.4 493.8,258 494.2,257.7 494.6,257.6 495,260.2 495.4,260.3 495.8,261.6 496.2,262.1 496.6,263.9 497,263.2 497.4,263.5 497.8,264.4 498.2,264.7" stroke="#14d01e"/>
<polyline points="449.4,264.8 449.4,254.4 449.8,254.9 450.2,253.5 450.6,252.4 451,252.1 451.4,251.8 451.8,250 452.2,248.9 452.6,245.4 453,247.4 453.4,244.5 453.8,245.9 454.2,245.4 454.6,238.2 455,243 455.4,237.3 455.8,235 456.2,235.4 456.6,235.3 457,235.6 457.4,238.3 457.8,225.5 458.2,226.3 458.6,226.2 459,221.7 459.4,215.3 459.8,216.2 460.2,213.4 460.6,211.3 461,205.7 461.4,208.9 461.8,202.6 462.2,202.7 462.6,198.9 463,198.9 463.4,202.4 463.8,200.9 464.2,202 464.6,200 465,199 465.4,199.7 465.8,204.4 466.2,199.4 466.6,203.2 467,206.2 467.4,209.5 467.8,218 468.2,213.5 468.6,226.3 469,223.5 469.4,239.8 469.8,240.7 470.2,245.3 470.6,248.6 471,245.6 471.4,248.9 471.8,249.7 472.2,249.5 472.6,249.1 473,251.7 473.4,252.5 473.8,252 474.2,250.8 474.6,252.1 475,253.4 475.4,252.7 475.8,253.6 476.2,251.8 476.6,253.5 477,253.4 477.4,251.7 477.8,252.6 478.2,252 478.6,253.4 479,253.2 479.4,253.7 479.8,253.8 480.2,253 480.6,254.6 481,252.3 481.4,254 481.8,250.7 482.2,252.7 482.6,255.2 483,253.9 483.4,254.7 483.8,253 484.2,252.3 484.6,253.2 485,255 485.4,254.7 485.8,258 486.2,258.4 486.6,257.3 487,255.3 487.4,256.8 487.8,256.4 488.2,256.5 488.6,257.1 489,257.8 489.4,257.8 489.8,258.4 490.2,256.7 490.6,258.4 491,260.1 491.4,260.2 491.8,258.7 492.2,260.5 492.6,260.7 493,259.8 493.4,261.4 493.8,262.1 494.2,262 494.6,263.7 495,262.3 495.4,263.2 495.8,263.7 496.2,263.9 496.6,263.7 497,264.4 497.4,264.5 497.8,264.8 498.2,264.8" stroke="#e8141c"/>
</g>
<path d="M449.2,195.4H518.9V264.9" fill="none" stroke="#9a9a9a" stroke-width="0.9"/>
<path d="M449.2,195.4V264.9H518.9" fill="none" stroke="#5a5a5a" stroke-width="0.9"/>
<line x1="447.9" y1="264.9" x2="449.2" y2="264.9" stroke="#555" stroke-width="0.7"/>
<text x="445.4" y="266.2" font-size="3.6" font-weight="bold" text-anchor="end" fill="#444" >0</text>
<line x1="447.9" y1="251" x2="449.2" y2="251" stroke="#555" stroke-width="0.7"/>
<text x="445.4" y="252.3" font-size="3.6" font-weight="bold" text-anchor="end" fill="#444" >20</text>
<line x1="447.9" y1="237.1" x2="449.2" y2="237.1" stroke="#555" stroke-width="0.7"/>
<text x="445.4" y="238.4" font-size="3.6" font-weight="bold" text-anchor="end" fill="#444" >40</text>
<line x1="447.9" y1="223.2" x2="449.2" y2="223.2" stroke="#555" stroke-width="0.7"/>
<text x="445.4" y="224.5" font-size="3.6" font-weight="bold" text-anchor="end" fill="#444" >60</text>
<line x1="447.9" y1="209.3" x2="449.2" y2="209.3" stroke="#555" stroke-width="0.7"/>
<text x="445.4" y="210.6" font-size="3.6" font-weight="bold" text-anchor="end" fill="#444" >80</text>
<line x1="447.9" y1="195.4" x2="449.2" y2="195.4" stroke="#555" stroke-width="0.7"/>
<text x="445.4" y="196.7" font-size="3.6" font-weight="bold" text-anchor="end" fill="#444" >100</text>
<line x1="448.4" y1="261.4" x2="449.2" y2="261.4" stroke="#777" stroke-width="0.5"/>
<line x1="448.4" y1="257.9" x2="449.2" y2="257.9" stroke="#777" stroke-width="0.5"/>
<line x1="448.4" y1="254.5" x2="449.2" y2="254.5" stroke="#777" stroke-width="0.5"/>
<line x1="448.4" y1="247.5" x2="449.2" y2="247.5" stroke="#777" stroke-width="0.5"/>
<line x1="448.4" y1="244" x2="449.2" y2="244" stroke="#777" stroke-width="0.5"/>
<line x1="448.4" y1="240.6" x2="449.2" y2="240.6" stroke="#777" stroke-width="0.5"/>
<line x1="448.4" y1="233.6" x2="449.2" y2="233.6" stroke="#777" stroke-width="0.5"/>
<line x1="448.4" y1="230.1" x2="449.2" y2="230.1" stroke="#777" stroke-width="0.5"/>
<line x1="448.4" y1="226.7" x2="449.2" y2="226.7" stroke="#777" stroke-width="0.5"/>
<line x1="448.4" y1="219.7" x2="449.2" y2="219.7" stroke="#777" stroke-width="0.5"/>
<line x1="448.4" y1="216.2" x2="449.2" y2="216.2" stroke="#777" stroke-width="0.5"/>
<line x1="448.4" y1="212.8" x2="449.2" y2="212.8" stroke="#777" stroke-width="0.5"/>
<line x1="448.4" y1="205.8" x2="449.2" y2="205.8" stroke="#777" stroke-width="0.5"/>
<line x1="448.4" y1="202.4" x2="449.2" y2="202.4" stroke="#777" stroke-width="0.5"/>
<line x1="448.4" y1="198.9" x2="449.2" y2="198.9" stroke="#777" stroke-width="0.5"/>
<line x1="449.2" y1="264.9" x2="449.2" y2="266.3" stroke="#555" stroke-width="0.7"/>
<text x="449.7" y="272.1" font-size="3.7" font-weight="bold" text-anchor="middle" fill="#3a3a3a" >10<tspan dy="-1.7" font-size="2.6">0</tspan></text>
<line x1="454.6" y1="264.9" x2="454.6" y2="265.7" stroke="#777" stroke-width="0.4"/>
<line x1="457.7" y1="264.9" x2="457.7" y2="265.7" stroke="#777" stroke-width="0.4"/>
<line x1="459.9" y1="264.9" x2="459.9" y2="265.7" stroke="#777" stroke-width="0.4"/>
<line x1="461.6" y1="264.9" x2="461.6" y2="265.7" stroke="#777" stroke-width="0.4"/>
<line x1="463.1" y1="264.9" x2="463.1" y2="265.7" stroke="#777" stroke-width="0.4"/>
<line x1="464.2" y1="264.9" x2="464.2" y2="265.7" stroke="#777" stroke-width="0.4"/>
<line x1="465.3" y1="264.9" x2="465.3" y2="265.7" stroke="#777" stroke-width="0.4"/>
<line x1="466.2" y1="264.9" x2="466.2" y2="265.7" stroke="#777" stroke-width="0.4"/>
<line x1="467" y1="264.9" x2="467" y2="266.3" stroke="#555" stroke-width="0.7"/>
<text x="467.5" y="272.1" font-size="3.7" font-weight="bold" text-anchor="middle" fill="#3a3a3a" >10<tspan dy="-1.7" font-size="2.6">1</tspan></text>
<line x1="472.4" y1="264.9" x2="472.4" y2="265.7" stroke="#777" stroke-width="0.4"/>
<line x1="475.5" y1="264.9" x2="475.5" y2="265.7" stroke="#777" stroke-width="0.4"/>
<line x1="477.7" y1="264.9" x2="477.7" y2="265.7" stroke="#777" stroke-width="0.4"/>
<line x1="479.4" y1="264.9" x2="479.4" y2="265.7" stroke="#777" stroke-width="0.4"/>
<line x1="480.9" y1="264.9" x2="480.9" y2="265.7" stroke="#777" stroke-width="0.4"/>
<line x1="482" y1="264.9" x2="482" y2="265.7" stroke="#777" stroke-width="0.4"/>
<line x1="483.1" y1="264.9" x2="483.1" y2="265.7" stroke="#777" stroke-width="0.4"/>
<line x1="484" y1="264.9" x2="484" y2="265.7" stroke="#777" stroke-width="0.4"/>
<line x1="484.8" y1="264.9" x2="484.8" y2="266.3" stroke="#555" stroke-width="0.7"/>
<text x="485.3" y="272.1" font-size="3.7" font-weight="bold" text-anchor="middle" fill="#3a3a3a" >10<tspan dy="-1.7" font-size="2.6">2</tspan></text>
<line x1="490.2" y1="264.9" x2="490.2" y2="265.7" stroke="#777" stroke-width="0.4"/>
<line x1="493.3" y1="264.9" x2="493.3" y2="265.7" stroke="#777" stroke-width="0.4"/>
<line x1="495.5" y1="264.9" x2="495.5" y2="265.7" stroke="#777" stroke-width="0.4"/>
<line x1="497.2" y1="264.9" x2="497.2" y2="265.7" stroke="#777" stroke-width="0.4"/>
<line x1="498.7" y1="264.9" x2="498.7" y2="265.7" stroke="#777" stroke-width="0.4"/>
<line x1="499.8" y1="264.9" x2="499.8" y2="265.7" stroke="#777" stroke-width="0.4"/>
<line x1="500.9" y1="264.9" x2="500.9" y2="265.7" stroke="#777" stroke-width="0.4"/>
<line x1="501.8" y1="264.9" x2="501.8" y2="265.7" stroke="#777" stroke-width="0.4"/>
<line x1="502.6" y1="264.9" x2="502.6" y2="266.3" stroke="#555" stroke-width="0.7"/>
<text x="503.1" y="272.1" font-size="3.7" font-weight="bold" text-anchor="middle" fill="#3a3a3a" >10<tspan dy="-1.7" font-size="2.6">3</tspan></text>
<line x1="508" y1="264.9" x2="508" y2="265.7" stroke="#777" stroke-width="0.4"/>
<line x1="511.1" y1="264.9" x2="511.1" y2="265.7" stroke="#777" stroke-width="0.4"/>
<line x1="513.3" y1="264.9" x2="513.3" y2="265.7" stroke="#777" stroke-width="0.4"/>
<line x1="515" y1="264.9" x2="515" y2="265.7" stroke="#777" stroke-width="0.4"/>
<line x1="516.5" y1="264.9" x2="516.5" y2="265.7" stroke="#777" stroke-width="0.4"/>
<line x1="517.6" y1="264.9" x2="517.6" y2="265.7" stroke="#777" stroke-width="0.4"/>
<line x1="518.7" y1="264.9" x2="518.7" y2="265.7" stroke="#777" stroke-width="0.4"/>
<rect x="490" y="198.8" width="22.9" height="13.1" fill="#fff" stroke="#444" stroke-width="0.8"/>
<rect x="490" y="198.8" width="5.7" height="6.6" fill="#e8141c"/>
<rect x="490" y="205.4" width="5.7" height="6.5" fill="#14d01e"/>
<text x="503.8" y="204.7" font-size="6.5" font-weight="600" text-anchor="middle" fill="#1a1a1a" textLength="8.8" lengthAdjust="spacingAndGlyphs">WT</text>
<text x="503.8" y="211.1" font-size="6.5" font-weight="600" text-anchor="middle" fill="#1a1a1a" textLength="8.2" lengthAdjust="spacingAndGlyphs">TG</text>
<line x1="255.8" y1="280.7" x2="365.8" y2="280.7" stroke="#000" stroke-width="1.2"/>
<line x1="406.7" y1="280.7" x2="516.9" y2="280.7" stroke="#000" stroke-width="1.2"/>
<text x="376.3" y="284.5" font-size="10.4" letter-spacing="0.06" fill="#111">EdU</text>
</svg>
</body></html>
